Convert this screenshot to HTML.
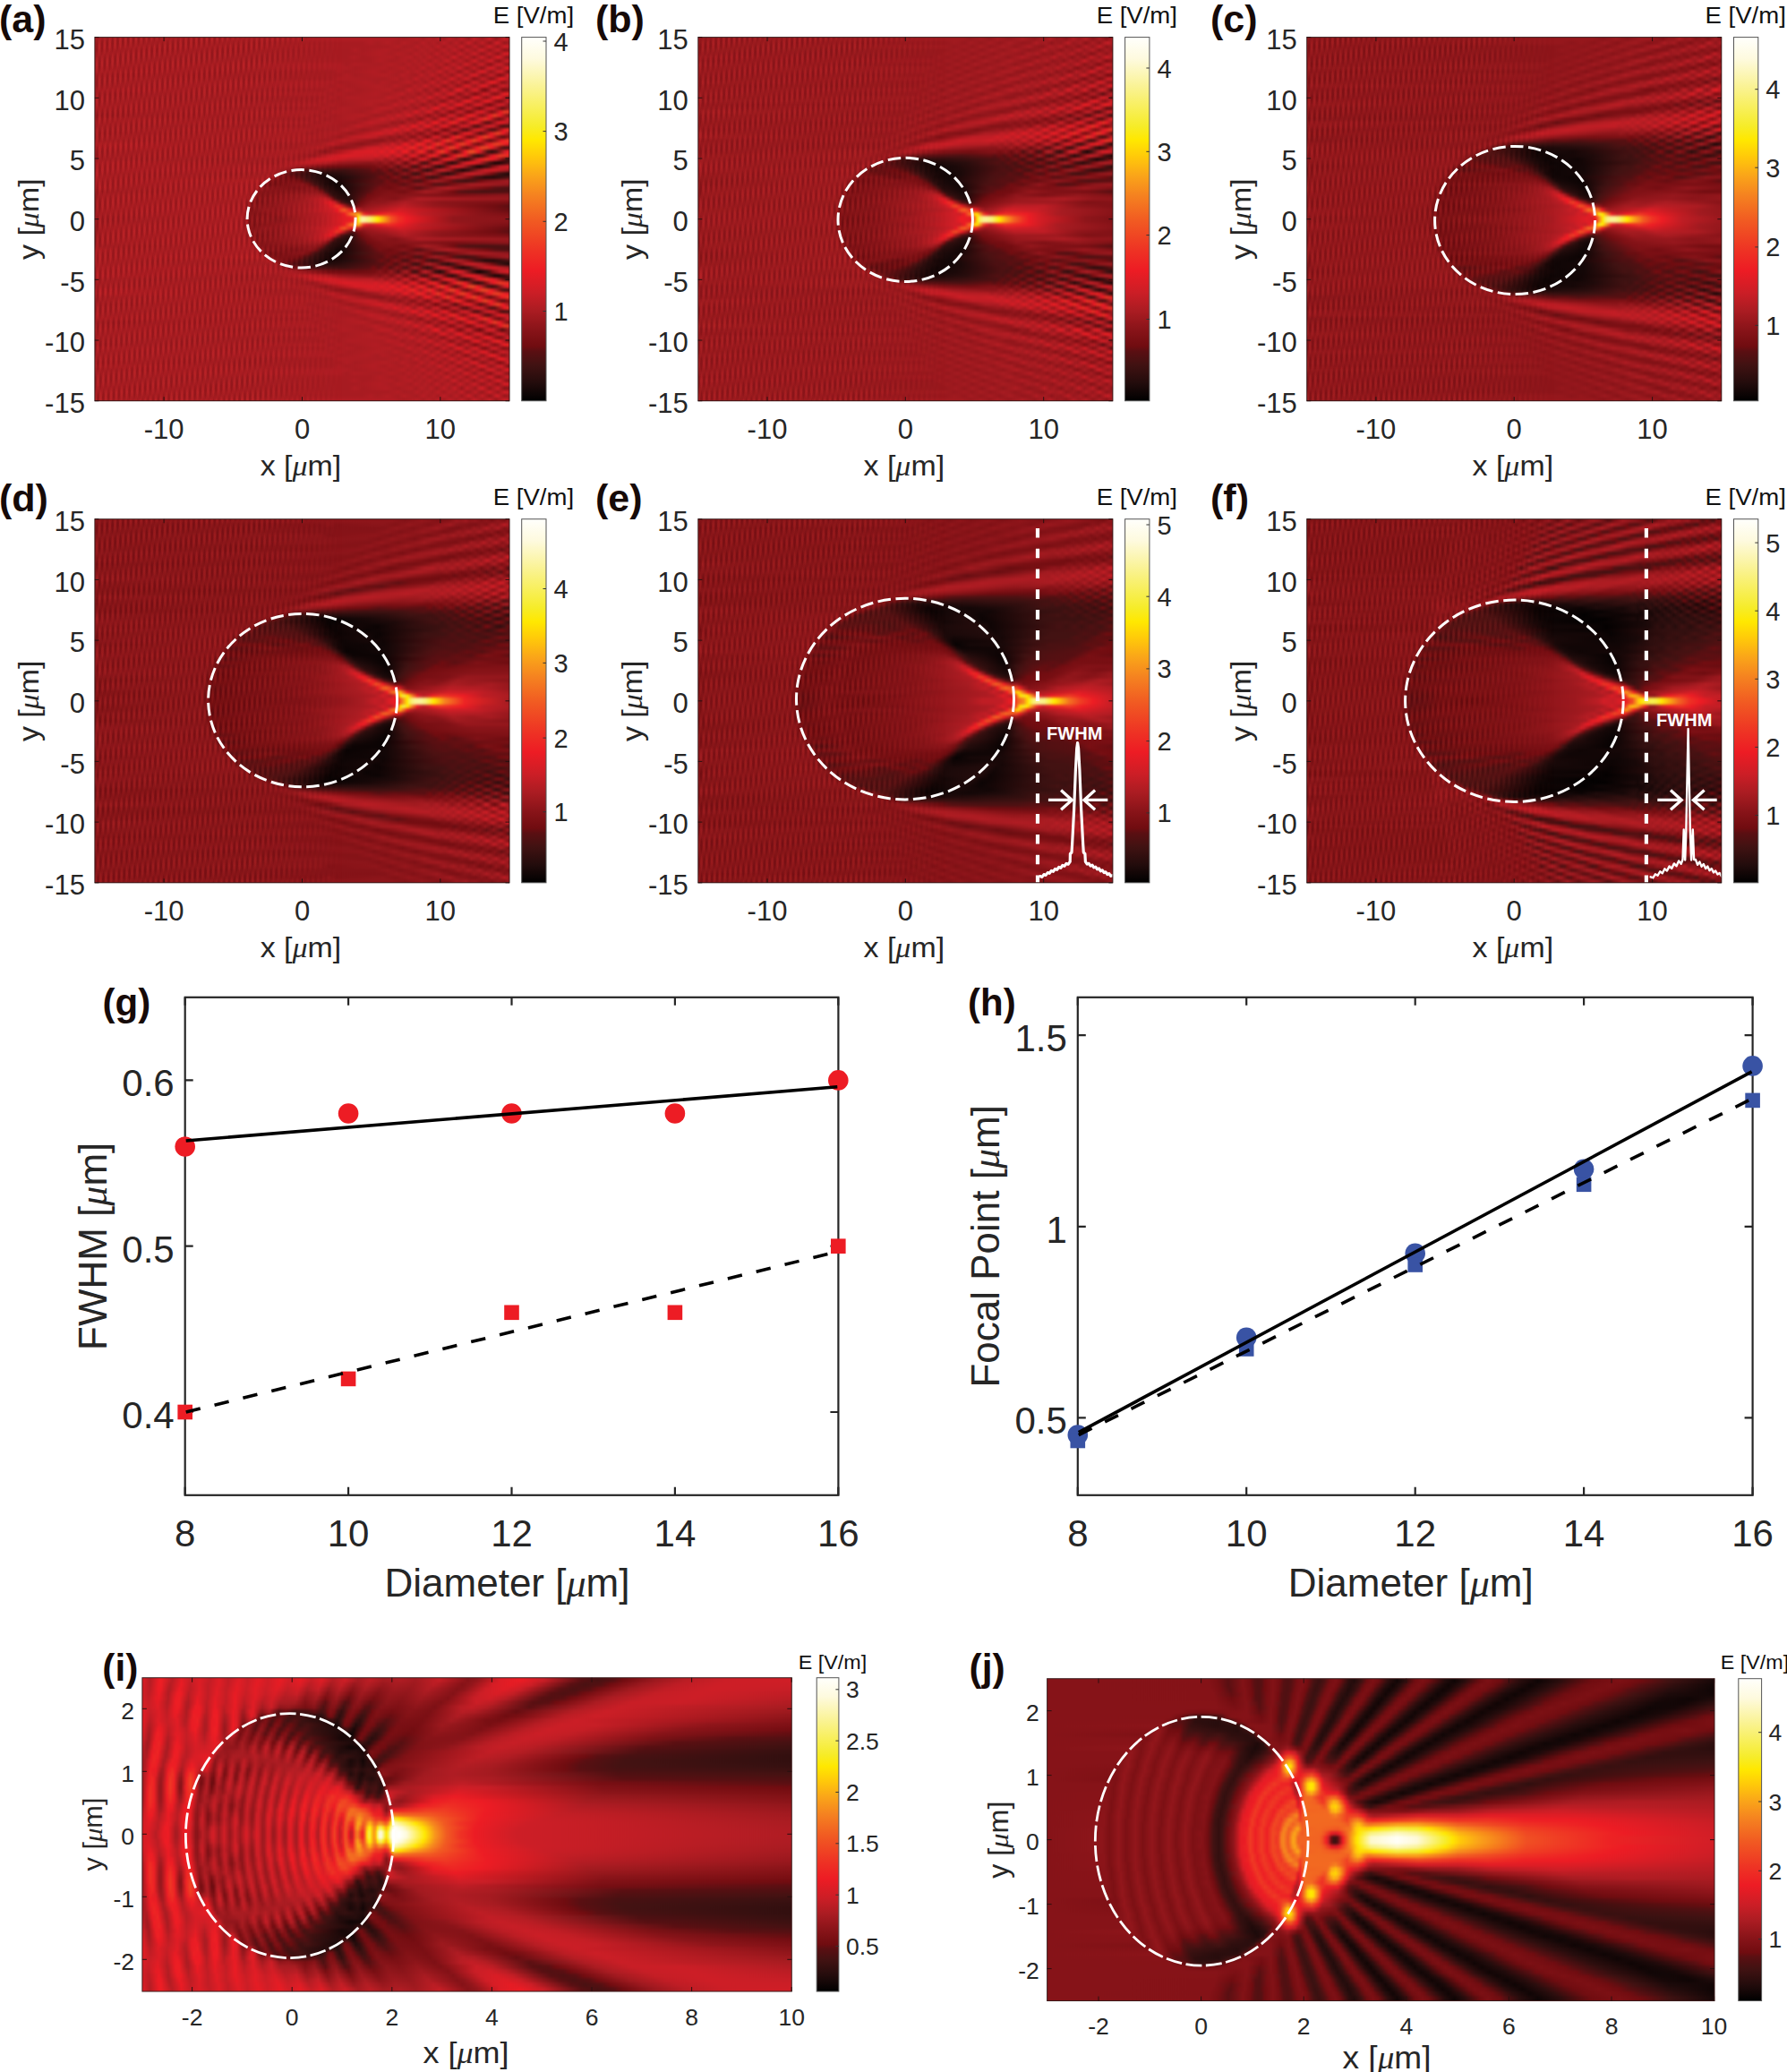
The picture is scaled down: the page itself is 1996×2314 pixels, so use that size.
<!DOCTYPE html>
<html lang="en"><head><meta charset="utf-8"><title>Photonic nanojet simulations</title>
<style>
html,body{margin:0;padding:0;background:#fff}
#fig{position:relative;width:1996px;height:2314px;background:#fff;overflow:hidden}
.h{position:absolute;overflow:hidden}
.hh{position:absolute;left:0;width:100%;filter:url(#vb)}
.h i{position:absolute;left:0;width:100%;display:block}
.tx{position:absolute;left:0;top:0;width:100%;height:100%;-webkit-mask-image:linear-gradient(90deg,#000 0,#000 38%,transparent 60%);mask-image:linear-gradient(90deg,#000 0,#000 38%,transparent 60%);background:repeating-linear-gradient(98deg,rgba(255,70,60,.08) 0,rgba(255,70,60,.08) 1.6px,rgba(40,0,0,.09) 2.8px,rgba(40,0,0,.09) 4.4px,rgba(255,70,60,.08) 5.6px),repeating-linear-gradient(81deg,rgba(255,70,60,.06) 0,rgba(255,70,60,.06) 1.7px,rgba(40,0,0,.08) 3px,rgba(40,0,0,.08) 4.7px,rgba(255,70,60,.06) 6px)}
svg{position:absolute;left:0;top:0;font-family:"Liberation Sans",sans-serif}
</style></head><body>
<div id="fig">
<div class="h" style="left:105.9px;top:41.6px;width:463.1px;height:406.1px;background:#aa1c22"><div class="hh" style="top:-8px;height:422.1px;background:#aa1c22"><i style="top:0.00px;height:12.66px;background:linear-gradient(90deg,#aa1c22,#b01c23 71.8%,#a81b21 74.5%,#b31d23 77.8%,#a61b21 79.2%,#b41d23 80.5%,#aa1c22 81.8%,#b71d24 82.8%,#a31a20 84.2%,#ba1d24 85.5%,#a51b21 87.2%,#bb1d24 88.5%,#9d191e 90.2%,#c11d25 91.5%,#a11a1f 93.5%,#c51e25 95.2%,#96171c 96.8%,#c51e25 98.8%,#b31d23)"></i><i style="top:12.06px;height:4.66px;background:linear-gradient(90deg,#a81c21,#a81b21 64.5%,#b01c23 66.5%,#a81c21 68.2%,#b21d23 70.5%,#a81c21 73.2%,#b51d23 74.5%,#a51b21 77.8%,#b91d24 79.2%,#a81b21 80.5%,#b31d23 81.8%,#a21a20 82.8%,#bf1d25 84.2%,#a11a20 85.8%,#ba1d24 87.2%,#9c181e 88.5%,#cc1e26 90.2%,#9a181e 91.8%,#c41e25 93.5%,#8f151a 95.2%,#9f191f 95.8%,#ce1e26 96.8%,#d01e26 97.2%,#92161b 98.8%,#a0191f)"></i><i style="top:16.12px;height:4.66px;background:linear-gradient(90deg,#ac1c22,#a81b21 70.5%,#b31d23 73.2%,#a71b21 74.5%,#a91c22 76.5%,#b81d24 77.8%,#a71b21 78.8%,#b31d23 80.2%,#a71b21 81.5%,#bd1d24 82.8%,#a0191f 84.2%,#b91d24 85.5%,#a41b20 87.2%,#c81e26 88.5%,#9b181e 89.8%,#9e191f 90.5%,#c01d25 91.8%,#9e191f 92.8%,#96171c 93.5%,#d21e26 95.2%,#94171c 97.2%,#d11e26 98.8%,#c81e26)"></i><i style="top:20.18px;height:4.66px;background:linear-gradient(90deg,#a81b21,#a71b21 61.2%,#b01c23 62.8%,#a71b21 64.5%,#b21c23 70.2%,#a71b21 73.2%,#b31d23 76.2%,#a51b21 77.5%,#b51d23 78.8%,#a91c22 80.2%,#b81d24 81.2%,#a11a1f 82.5%,#bd1d24 84.2%,#a51b21 85.5%,#c11d25 86.8%,#98171d 88.5%,#c21d25 89.8%,#9d191e 91.8%,#c71e26 92.8%,#d01e26 93.5%,#92161b 95.2%,#cb1e26 97.2%,#881318 98.8%,#8c1419)"></i><i style="top:24.24px;height:4.66px;background:linear-gradient(90deg,#ab1c22,#a71b21 62.5%,#b21c23 68.8%,#a91c22 71.5%,#b51d23 73.2%,#a61b21 76.2%,#b81d24 77.5%,#a91c22 78.8%,#b41d23 79.8%,#a31a20 81.2%,#c01d25 82.5%,#a31a20 83.8%,#ba1d24 85.2%,#9b181e 86.8%,#c81e26 88.2%,#9e191f 89.8%,#cb1e26 91.5%,#c81e26 91.8%,#91161b 93.2%,#97171d 93.8%,#c91e26 95.2%,#8b1419 97.2%,#a11a1f 97.8%,#d71d25 98.8%,#dd1d25)"></i><i style="top:28.30px;height:4.66px;background:linear-gradient(90deg,#a91c22,#a71b21 60.8%,#b01c23 62.5%,#a71b21 64.5%,#b21c23 71.5%,#a71b21 72.8%,#b71d24 76.2%,#a71b21 77.2%,#b21d23 78.5%,#a71b21 79.5%,#bd1d24 80.8%,#a21a20 82.2%,#b71d24 83.8%,#a01a1f 85.2%,#ca1e26 86.5%,#ca1e26 86.8%,#9d191e 88.2%,#c31e25 89.8%,#90161b 91.5%,#cb1e26 93.2%,#cc1e26 93.5%,#93161c 95.2%,#dd1d25 97.2%,#d11e26 97.8%,#8c141a 99.2%,#861317)"></i><i style="top:32.37px;height:4.66px;background:linear-gradient(90deg,#aa1c22,#a81b21 66.5%,#b21c23 68.8%,#a71b21 71.5%,#b21c23 74.8%,#a61b21 75.8%,#b51d23 77.2%,#a91c22 78.2%,#b81d24 79.5%,#a01a1f 80.8%,#bb1d24 82.2%,#a61b21 83.5%,#c51e25 84.8%,#c51e25 85.2%,#99181d 86.5%,#bf1d25 88.2%,#96171c 89.8%,#d11e26 91.5%,#ce1e26 91.8%,#a11a20 92.8%,#99181d 93.5%,#d71d25 95.2%,#ca1e26 95.8%,#91161b 96.8%,#851217 97.5%,#c71e26 99.2%,#cf1e26)"></i><i style="top:36.43px;height:4.66px;background:linear-gradient(90deg,#aa1c22,#af1c23 59.2%,#a61b21 60.8%,#b01c23 62.5%,#a81c22 68.8%,#b41d23 71.5%,#a71b21 74.5%,#b71d24 75.8%,#a91c22 76.8%,#b31d23 78.2%,#a41a20 79.2%,#c01d25 80.8%,#a61b21 82.2%,#bc1d24 83.5%,#98181d 84.8%,#c21d25 86.5%,#9e191f 88.2%,#c71e25 89.2%,#d21e26 89.8%,#96171c 91.5%,#99181d 91.8%,#c41e25 92.8%,#cc1e26 93.5%,#8d151a 94.8%,#841217 95.5%,#c21d25 96.8%,#d01e26 97.5%,#bf1d25 98.2%,#90161b 99.2%,#861318)"></i><i style="top:40.49px;height:4.66px;background:linear-gradient(90deg,#a81b21,#af1c23 60.8%,#a71b21 62.8%,#b11c23 69.8%,#a81b21 71.2%,#b61d23 74.5%,#a71b21 75.5%,#b21c23 76.8%,#a81b21 77.8%,#bf1d25 79.2%,#a31a20 80.5%,#b51d23 81.8%,#9d191e 83.2%,#c91e26 84.8%,#a21a20 86.5%,#cc1e26 87.8%,#cb1e26 88.2%,#9f191f 89.2%,#92161b 89.8%,#c51e25 91.5%,#891419 93.2%,#93161c 93.8%,#cd1e26 94.8%,#da1d25 95.5%,#ca1e26 96.2%,#99181d 97.2%,#98171d 97.8%,#d91d25 99.2%,#eb1c24)"></i><i style="top:44.55px;height:4.66px;background:linear-gradient(90deg,#ae1c22,#a61b21 57.5%,#af1c23 58.8%,#a61b21 60.5%,#b21c23 67.2%,#a81b21 69.8%,#b21c23 71.2%,#a71b21 74.2%,#b51d23 75.5%,#ab1c22 76.5%,#b81d24 77.8%,#a01a1f 79.2%,#b71d24 80.5%,#a61b21 81.8%,#cb1e26 83.2%,#9f191f 84.8%,#bc1d24 85.8%,#bf1d25 86.5%,#91161b 87.8%,#93161c 88.2%,#bd1d24 89.2%,#c61e25 89.8%,#9e191f 90.8%,#92161b 91.5%,#d31e26 92.8%,#e11d25 93.5%,#cf1e26 94.2%,#a81b21 94.8%,#92161b 95.5%,#9f191f 96.2%,#cf1e26 97.2%,#d51d25 97.8%,#cd1e26 98.2%,#801115 99.5%,#750e12)"></i><i style="top:48.61px;height:4.66px;background:linear-gradient(90deg,#a71b21,#a71b21 59.2%,#b01c23 60.8%,#a61b21 62.8%,#b41d23 69.8%,#a81c22 72.8%,#b71d24 74.2%,#a31a20 77.5%,#be1d24 78.8%,#a91c22 80.2%,#c31d25 81.5%,#9a181d 83.2%,#bc1d24 84.5%,#95171c 86.2%,#cf1e26 87.8%,#cc1e26 88.2%,#a11a20 89.2%,#9d191e 89.8%,#ce1e26 90.8%,#de1d25 91.5%,#cd1e26 92.2%,#a31a20 92.8%,#8a1419 93.5%,#95171c 94.2%,#c91e26 95.5%,#bb1d24 96.2%,#851217 97.2%,#780e13 97.8%,#8a1419 98.5%,#ca1e26 99.5%,#d71d25)"></i><i style="top:52.67px;height:4.66px;background:linear-gradient(90deg,#ab1c22,#a61b21 57.2%,#b01c23 58.8%,#a81c22 69.8%,#b51d23 72.8%,#a71b21 73.8%,#b01c23 75.2%,#a91c22 76.2%,#c11d25 77.5%,#a61b21 78.8%,#b61d24 80.2%,#9a181d 81.5%,#c01d25 82.8%,#9e191f 84.5%,#d31e26 86.2%,#9c181e 87.8%,#d21e26 89.5%,#c41e25 90.2%,#8b1419 91.2%,#841217 91.5%,#8f151a 92.2%,#c61e25 93.5%,#b81d24 94.2%,#831217 95.5%,#8f151a 96.2%,#e11d25 97.5%,#ed1d24 98.2%,#dd1d25 98.8%,#a91c22)"></i><i style="top:56.73px;height:4.66px;background:linear-gradient(90deg,#a91c22,#af1c23 57.2%,#a61b21 59.2%,#b11c23 65.5%,#a81c22 68.2%,#b21c23 69.5%,#a71b21 72.5%,#ba1d24 75.8%,#a21a20 77.2%,#b21c23 78.5%,#a0191f 79.8%,#c81e26 81.5%,#a41a20 82.8%,#cf1e26 84.5%,#96171c 86.2%,#c41e25 87.8%,#841217 89.5%,#91161b 90.2%,#c91e26 91.2%,#d01e26 91.5%,#c61e25 92.2%,#96171c 93.2%,#94161c 93.8%,#de1d25 95.2%,#ed1f24 95.8%,#e41d25 96.5%,#881318 98.2%,#891419 98.8%,#b11c23)"></i><i style="top:60.79px;height:4.66px;background:linear-gradient(90deg,#a91c22,#ae1c23 55.5%,#a61b21 57.2%,#b01c23 58.8%,#a71b21 61.2%,#b21d23 68.2%,#aa1c22 71.2%,#b81d24 72.5%,#a01a1f 75.8%,#b91d24 77.2%,#aa1c22 78.5%,#ca1e26 79.8%,#a31a20 81.2%,#c31e25 82.8%,#93161c 84.2%,#92161b 84.5%,#be1d24 85.8%,#be1d24 86.2%,#8e151a 87.5%,#99181d 88.2%,#dd1d25 89.5%,#d61d25 90.2%,#a31a20 91.2%,#9b181e 91.8%,#db1d25 93.2%,#e81c24 93.8%,#d51d25 94.5%,#91161b 95.5%,#7c1014 96.2%,#871318 96.8%,#be1d24 97.8%,#d21e26 98.5%,#b31d23)"></i><i style="top:64.85px;height:4.66px;background:linear-gradient(90deg,#ae1c23,#a71b21 55.2%,#b01c23 57.2%,#a51b21 58.8%,#b01c23 60.8%,#a71b21 63.5%,#b41d23 71.2%,#a61b21 72.5%,#a81c21 74.5%,#c21d25 75.8%,#ad1c22 77.2%,#bd1d24 78.5%,#9c191e 79.8%,#b91d24 81.2%,#94171c 82.5%,#96171c 82.8%,#c81e26 84.2%,#9b181e 85.8%,#a01a1f 86.2%,#d61d25 87.2%,#e51c24 87.8%,#d01e26 88.5%,#9a181d 89.5%,#96171c 89.8%,#cc1e26 91.2%,#d61d25 91.8%,#ce1e26 92.2%,#801116 93.5%,#770e12 94.2%,#8c141a 94.8%,#c71e25 95.8%,#d11e26 96.5%,#cb1e26 96.8%,#7a0f13 98.5%,#851217)"></i><i style="top:68.91px;height:4.66px;background:linear-gradient(90deg,#a61b21,#af1c23 55.2%,#a51b21 56.8%,#b01c23 58.8%,#a61b21 61.2%,#b21c23 67.8%,#a61b21 70.8%,#bf1d25 74.2%,#a71b21 75.5%,#b21c23 76.8%,#9b181e 78.2%,#bb1d24 79.5%,#9e191f 80.8%,#a11a1f 81.2%,#d21e26 82.5%,#a31a20 84.2%,#dd1d25 85.8%,#ce1e26 86.5%,#a31a20 87.2%,#8a1419 87.8%,#8d151a 88.2%,#c21d25 89.5%,#c41e25 89.8%,#861317 91.2%,#780e13 91.8%,#8a1419 92.5%,#d71d25 93.8%,#cd1e26 94.8%,#93161b 95.8%,#811116 96.5%,#8e151a 97.2%,#cf1e26 98.2%,#ed1e24 98.8%,#ee2724)"></i><i style="top:72.98px;height:4.66px;background:linear-gradient(90deg,#a91c22,#a61b21 55.2%,#b01c23 57.2%,#a61b21 58.8%,#b01c23 61.2%,#ac1c22 69.5%,#bb1d24 70.8%,#b01c23 73.2%,#a0191f 74.2%,#af1c23 75.5%,#a51b21 76.8%,#c51e25 78.2%,#a91c22 79.5%,#d41d25 80.8%,#a0191f 82.5%,#ca1e26 84.2%,#841217 85.8%,#8e151a 86.5%,#b01c23 87.2%,#c11d25 87.8%,#8b1419 89.2%,#831217 89.8%,#8d151a 90.2%,#cf1e26 91.2%,#e81c24 91.8%,#e11d25 92.5%,#96171c 93.8%,#8b1419 94.5%,#a41a20 95.2%,#e31d25 96.2%,#ed2524 97.2%,#e41d25 97.8%,#8f151b 99.2%,#790f13)"></i><i style="top:77.04px;height:4.66px;background:linear-gradient(90deg,#ab1c22,#a71b21 53.5%,#af1c23 55.2%,#a61b21 56.8%,#b41d23 69.5%,#a31a20 72.5%,#b91d24 73.8%,#ae1c22 75.2%,#ca1e26 76.5%,#a91c22 77.8%,#c51e25 79.5%,#95171c 80.8%,#b61d23 82.5%,#90151b 83.5%,#871318 84.2%,#d01e26 85.8%,#ce1e26 86.2%,#96171c 87.5%,#94171c 87.8%,#9e191f 88.2%,#dc1d25 89.2%,#ed2024 89.8%,#e51c24 90.5%,#95171c 91.8%,#8f151a 92.5%,#e61c24 94.2%,#ed1d24 94.8%,#da1d25 95.5%,#841217 96.8%,#740d12 97.5%,#801116 98.2%,#cc1e26 99.5%,#d71d25)"></i><i style="top:81.10px;height:4.66px;background:linear-gradient(90deg,#aa1c22,#ae1c23 53.5%,#a61b21 55.2%,#b01c23 57.2%,#a61b21 59.8%,#b31d23 66.5%,#a41a20 69.2%,#b01c23 71.5%,#c31d25 72.5%,#b01c23 73.8%,#bf1d25 75.2%,#a01a1f 76.5%,#b51d23 77.8%,#91161b 79.2%,#b81d24 80.8%,#94171c 82.2%,#ab1c22 82.8%,#d41d25 83.5%,#e21d25 84.2%,#a0191f 85.8%,#a41a20 86.2%,#d91d25 87.2%,#ed1c24 87.8%,#de1d25 88.5%,#9b181e 89.5%,#861318 90.2%,#97171d 90.8%,#d21e26 91.8%,#df1d25 92.5%,#ce1e26 93.2%,#891419 94.2%,#680d11 95.2%,#7e1015 95.8%,#cb1e26 97.2%,#d91d25 97.8%,#ce1e26 98.5%,#97171d 99.5%,#871318)"></i><i style="top:85.16px;height:4.66px;background:linear-gradient(90deg,#ac1c22,#a61b21 53.5%,#b01c23 55.2%,#a51b21 57.5%,#b01c23 59.8%,#a71b21 66.5%,#bc1d24 69.2%,#b91d24 71.5%,#a61b21 72.5%,#ad1c22 73.8%,#9b181e 74.8%,#b11c23 76.2%,#9a181e 77.5%,#cc1e26 79.2%,#a81c21 80.5%,#e81c24 82.2%,#da1d25 82.8%,#a21a20 83.8%,#9d191e 84.2%,#d41d25 85.5%,#d91d25 86.2%,#8c141a 87.5%,#7d1015 88.2%,#92161b 88.8%,#cb1e26 89.8%,#cf1e26 90.5%,#851217 91.8%,#670d11 92.8%,#821116 93.5%,#c21d25 94.5%,#da1d25 95.2%,#ca1e26 96.2%,#8b1419 97.2%,#5d0f12 98.2%,#600e11 98.5%,#9d191e)"></i><i style="top:89.22px;height:4.66px;background:linear-gradient(90deg,#a81b21,#af1c23 53.5%,#a51b21 55.5%,#b01c23 57.5%,#a81b21 64.5%,#b91d24 67.8%,#9f191f 71.2%,#ab1c22 72.2%,#a31a20 73.5%,#be1d24 74.8%,#ae1c22 76.2%,#d91d25 77.5%,#af1c23 78.8%,#b01c23 79.2%,#da1d25 80.5%,#c81e26 81.2%,#91161b 82.2%,#8f151b 82.5%,#c21d25 83.8%,#c31d25 84.2%,#7a0f14 85.8%,#831217 86.5%,#bd1d24 87.5%,#ce1e26 88.2%,#b81d24 88.8%,#7e1015 89.8%,#750d12 90.5%,#8b1419 91.2%,#d01e26 92.2%,#e71c24 93.2%,#d21e26 93.8%,#821216 95.2%,#780e13 95.8%,#8a1419 96.5%,#e51c24 97.8%,#ee3724 98.8%,#ee3624)"></i><i style="top:93.28px;height:4.66px;background:linear-gradient(90deg,#a21a20,#ae1c22 51.5%,#a51b21 53.5%,#b01c23 55.5%,#a61b21 57.5%,#b61d23 64.8%,#a01a1f 67.8%,#a61b21 69.8%,#b81d24 70.8%,#b21d23 72.2%,#cb1e26 73.2%,#b51d23 74.5%,#d31e26 75.8%,#a11a20 77.5%,#bd1d24 78.8%,#851217 80.5%,#b91d24 82.2%,#801116 83.8%,#8d151a 84.5%,#cd1e26 85.5%,#d81d25 86.2%,#bf1d25 86.8%,#94171c 87.5%,#811116 88.2%,#95171c 88.8%,#ec1c24 90.2%,#ed2324 90.8%,#e11d25 91.5%,#8e151a 92.8%,#851217 93.5%,#9c191e 94.2%,#e21d25 95.2%,#ed2224 95.5%,#ef3c24 96.5%,#e61c24 97.8%,#8a1419 99.2%,#740d11)"></i><i style="top:97.34px;height:4.66px;background:linear-gradient(90deg,#ae1c22,#a61b21 51.5%,#af1c23 53.5%,#a51b21 55.5%,#b11c23 62.2%,#a21a20 65.2%,#c31e25 69.5%,#b71d24 70.8%,#c51e25 71.8%,#ab1c22 73.2%,#b71d24 74.5%,#91161b 75.8%,#a81c21 77.2%,#881318 78.5%,#891419 78.8%,#c51e25 80.2%,#c71e25 80.5%,#93161b 81.8%,#92161b 82.2%,#db1d25 83.5%,#e81c24 84.2%,#cf1e26 84.8%,#94171c 85.8%,#90161b 86.2%,#aa1c22 86.8%,#ed1c24 87.8%,#ee2a24 88.5%,#ed1d24 89.2%,#98171d 90.5%,#891419 91.2%,#9f191f 91.8%,#e31d25 92.8%,#ee3224 94.2%,#e21d25 95.2%,#821216 96.5%,#610e11 97.5%,#891419 98.5%,#c91e26 99.5%,#d71d25)"></i><i style="top:101.40px;height:4.66px;background:linear-gradient(90deg,#b41d23,#ab1c22 1.5%,#ae1c23 51.5%,#a51b21 53.5%,#af1c23 55.8%,#a31a20 62.8%,#c11d25 66.5%,#ac1c22 70.8%,#99181d 71.8%,#a01a1f 73.2%,#90151b 74.2%,#b31d23 75.5%,#a0191f 77.2%,#dc1d25 78.5%,#d21e26 79.2%,#a51b21 80.2%,#a71b21 80.5%,#ec1c24 81.8%,#ed1f24 82.2%,#eb1c24 82.5%,#9e191f 83.8%,#98171d 84.2%,#af1c23 84.8%,#ed1e24 85.8%,#ed2724 86.5%,#e31d25 87.2%,#9a181e 88.2%,#841217 88.8%,#93161c 89.5%,#e61c24 90.8%,#ed2024 91.8%,#d81d25 92.5%,#5e0e12 94.2%,#501012 94.8%,#560f12 95.2%,#d51d25 97.2%,#e71c24 97.8%,#e51c24 98.5%,#b41d23)"></i><i style="top:105.46px;height:4.66px;background:linear-gradient(90deg,#aa1c22,#a61b21 51.5%,#af1c23 53.5%,#a51b21 60.5%,#bd1d24 63.5%,#99181d 70.2%,#ab1c22 71.5%,#a71b21 72.8%,#d21e26 74.2%,#b61d23 75.5%,#e71c24 76.8%,#dc1d25 77.5%,#ac1c22 78.5%,#ad1c22 78.8%,#de1d25 79.8%,#e81c24 80.5%,#95171c 82.2%,#a41a20 82.8%,#d01e26 83.5%,#ea1c24 84.2%,#df1d25 84.8%,#851217 86.2%,#790f13 86.8%,#91161b 87.5%,#d01e26 88.5%,#d81d25 89.5%,#b71d24 90.2%,#541012 91.5%,#481112 92.2%,#4f1012 92.5%,#c11d25 94.2%,#e01d25 95.2%,#cd1e26 96.2%,#790f13 97.5%,#580f12 97.8%,#3b1111 98.5%,#421212)"></i><i style="top:109.53px;height:4.66px;background:linear-gradient(90deg,#aa1c22,#af1c23 51.5%,#a61b21 53.8%,#a91c22 58.5%,#b81d24 60.8%,#9a181e 64.8%,#ad1c22 68.8%,#c91e26 70.2%,#c21d25 71.5%,#de1d25 72.5%,#bc1d24 74.2%,#db1d25 75.5%,#a41a20 76.8%,#a21a20 77.2%,#ce1e26 78.2%,#d31e26 78.8%,#9b181e 79.8%,#891419 80.5%,#91161b 80.8%,#c91e26 81.8%,#d01e26 82.5%,#c51e25 82.8%,#811116 83.8%,#6e0c10 84.5%,#7f1115 85.2%,#bc1d24 86.2%,#cc1e26 86.8%,#b61d23 87.5%,#580f12 88.8%,#4a1112 89.5%,#511012 89.8%,#c71e26 91.5%,#e51c24 92.5%,#cb1e26 93.5%,#561012 95.2%,#431212 95.8%,#4f1012 96.5%,#eb1c24 98.8%,#ee3224)"></i><i style="top:113.59px;height:4.66px;background:linear-gradient(90deg,#a71b21,#ae1c22 49.8%,#a51b21 51.8%,#b21c23 58.2%,#99181d 61.8%,#d41d25 68.8%,#c31e25 70.2%,#cd1e26 71.5%,#a91c22 72.8%,#bd1d24 73.8%,#92161b 75.5%,#ba1d24 76.8%,#811116 78.5%,#8f151a 79.2%,#bc1d24 80.2%,#ba1d24 80.5%,#6e0c10 82.2%,#7a0f13 82.8%,#b71d24 83.8%,#cc1e26 84.5%,#b91d24 85.2%,#580f12 86.8%,#5d0f12 87.2%,#e31d25 89.2%,#ed1f24 90.2%,#d81d25 90.8%,#580f12 92.8%,#551012 93.2%,#841217 94.2%,#e31d25 95.5%,#ef3f23 97.2%,#ed1d24 98.5%,#a11a20 99.8%,#a11a20)"></i><i style="top:117.65px;height:4.66px;background:linear-gradient(90deg,#9f191f,#ab1c22 1.5%,#ae1c22 51.8%,#ac1c22 56.2%,#9c191e 59.2%,#be1d24 62.2%,#c81e26 65.8%,#bd1d24 67.8%,#a81b21 68.8%,#a41b20 70.2%,#91161b 71.2%,#9e191f 72.5%,#891419 73.5%,#ac1c22 75.2%,#831217 76.5%,#8c1419 77.2%,#ba1d24 78.2%,#bb1d24 78.5%,#7a0f14 80.2%,#8d151a 80.8%,#d21e26 81.8%,#dd1d25 82.5%,#c21d25 83.2%,#92161b 83.8%,#7b0f14 84.5%,#881318 85.2%,#ea1c24 86.5%,#ee2f24 87.5%,#ed1f24 88.2%,#801115 89.8%,#730d11 90.5%,#841217 91.2%,#ed2024 92.8%,#ef4223 94.2%,#ed2224 95.5%,#e21d25 95.8%,#861318 97.2%,#551012 98.2%,#580f12 98.8%,#6f0c10 99.2%,#831217)"></i><i style="top:121.71px;height:4.66px;background:linear-gradient(90deg,#a91c22,#ae1c23 49.8%,#a21a20 56.2%,#c41e25 60.2%,#8c151a 67.5%,#8b1419 69.5%,#a01a1f 70.8%,#93161c 72.2%,#b71d24 73.5%,#92161b 74.8%,#96171c 75.2%,#d11e26 76.5%,#ce1e26 76.8%,#91161b 78.2%,#a51b20 78.8%,#ea1c24 79.8%,#ed2124 80.5%,#e91c24 80.8%,#a41b20 81.8%,#8f151a 82.5%,#a81b21 83.2%,#ed1f24 84.2%,#ee3824 85.2%,#e41d25 86.2%,#96171c 87.2%,#7f1115 87.8%,#8a1419 88.5%,#e21d25 89.8%,#ed2224 90.2%,#ef4023 91.5%,#eb1c24 92.8%,#7e1015 94.5%,#620e11 95.2%,#600e11 95.5%,#881318 96.5%,#eb1c24 98.2%,#ef3b24)"></i><i style="top:125.77px;height:4.66px;background:linear-gradient(90deg,#b31d23,#a61b21 50.2%,#aa1c22 54.5%,#c11d25 57.2%,#9e191f 60.5%,#891419 64.2%,#a31a20 68.2%,#bc1d24 69.5%,#af1c23 70.8%,#cf1e26 71.8%,#ad1c22 73.2%,#b01c23 73.5%,#e71c24 74.8%,#e41d25 75.2%,#ac1c22 76.5%,#b31d23 76.8%,#ed1e24 77.8%,#ee2924 78.2%,#e81c24 79.2%,#a71b21 80.2%,#a11a1f 80.5%,#a71b21 80.8%,#e81c24 81.8%,#ee3724 82.8%,#e81c24 83.8%,#9c181e 84.8%,#851217 85.5%,#95171c 86.2%,#ed1e24 87.5%,#ee3724 88.2%,#ef3f23 88.8%,#e61c24 90.2%,#881318 91.5%,#680d11 92.5%,#891419 93.5%,#cd1e26 94.5%,#ed1e24 95.2%,#ee3824 96.2%,#ef4023 97.2%,#ed1d24 99.2%,#d81d25)"></i><i style="top:129.83px;height:4.66px;background:linear-gradient(90deg,#b21c23,#a61b21 47.8%,#b51d23 54.5%,#8d151a 58.2%,#8c1419 59.8%,#9d191e 62.8%,#c81e26 65.8%,#d41d25 68.2%,#c61e25 69.2%,#df1d25 70.5%,#c41e25 71.8%,#ed1f24 73.2%,#e61c24 73.8%,#bf1d24 74.8%,#ed2324 76.2%,#ee2924 76.8%,#ed1e24 77.2%,#b11c23 78.2%,#a71b21 78.5%,#ab1c22 78.8%,#e81c24 79.8%,#ee3124 80.8%,#ed1c24 81.5%,#a11a1f 82.5%,#851217 83.2%,#95171c 83.8%,#e01d25 84.8%,#ed2324 85.2%,#ef3b24 85.8%,#ef3b24 86.5%,#e51c24 87.5%,#831217 88.8%,#660d11 89.8%,#93161b 90.8%,#ed1d24 92.2%,#ef4423 93.5%,#ef4023 94.5%,#ec1c24 95.8%,#b01c23 96.8%,#710c10 97.8%,#521012 98.2%,#3b1111 98.8%,#381010)"></i><i style="top:133.89px;height:4.66px;background:linear-gradient(90deg,#a91c22,#ae1c22 48.2%,#a91c22 52.5%,#8d151a 55.5%,#d61d25 62.8%,#db1d25 66.8%,#d11e26 68.2%,#e31d25 69.2%,#ce1e26 70.5%,#ed1d24 71.8%,#bf1d25 73.2%,#c11d25 73.5%,#ed1d24 74.5%,#ed1f24 75.2%,#a31a20 76.5%,#a0191f 76.8%,#ed1e24 78.2%,#ee2924 78.8%,#e01d25 79.5%,#91161b 80.5%,#811116 81.2%,#a01a1f 81.8%,#ed1f24 82.8%,#ef3a24 83.8%,#e81c24 84.8%,#7f1115 86.2%,#590f12 86.8%,#590f12 87.2%,#92161b 88.2%,#e11d25 89.2%,#ed2324 89.5%,#ef4623 90.5%,#f04723 91.2%,#ed1d24 92.5%,#c51e25 93.2%,#441212 94.8%,#2c0e0e 95.8%,#451212 96.8%,#cb1e26 98.8%,#e81c24 99.5%,#ed2024)"></i><i style="top:137.95px;height:4.66px;background:linear-gradient(90deg,#a21a20,#aa1c22 1.5%,#ad1c22 46.2%,#9a181e 52.8%,#c81e26 56.5%,#dd1d25 60.5%,#cd1e26 66.8%,#d91d25 67.8%,#c41e25 69.2%,#dc1d25 70.5%,#ae1c23 71.8%,#de1d25 73.2%,#ce1e26 73.8%,#94171c 74.8%,#96171c 75.2%,#d71d25 76.2%,#eb1c24 76.8%,#d21e26 77.5%,#9a181e 78.2%,#7b0f14 78.8%,#8b1419 79.5%,#ed1f24 80.8%,#ed2524 81.8%,#ea1c24 82.2%,#d41d25 82.5%,#640e11 83.8%,#511012 84.2%,#4e1012 84.5%,#560f12 84.8%,#ec1c24 86.8%,#ee3624 87.8%,#ee2924 88.8%,#ed1d24 89.2%,#dc1d25 89.5%,#3e1111 91.5%,#230c0c 92.5%,#3d1111 93.5%,#730d11 94.2%,#cc1e26 95.5%,#ec1c24 96.2%,#ef3a24 97.8%,#ee2824)"></i><i style="top:142.01px;height:4.66px;background:linear-gradient(90deg,#a91c22,#a71b21 49.8%,#d21e26 53.8%,#d71d25 57.2%,#bc1d24 61.8%,#bc1d24 66.8%,#a91c22 67.8%,#b81d24 69.2%,#99181d 70.2%,#bf1d25 71.8%,#871318 73.2%,#8c151a 73.5%,#d41d25 74.8%,#c31e25 75.5%,#8f151b 76.2%,#740d11 76.8%,#851217 77.5%,#d31e26 78.5%,#e81c24 79.2%,#d61d25 79.8%,#4d1112 81.5%,#431212 81.8%,#531012 82.5%,#d81d25 84.2%,#ed1f24 84.8%,#ed2024 85.5%,#e91c24 85.8%,#c91e26 86.5%,#411212 88.2%,#1e0a0a 89.2%,#361010 90.2%,#c71e26 92.2%,#e61c24 92.8%,#ee2e24 94.5%,#ed1c24 95.8%,#ca1e26 96.8%,#710c10 98.5%,#461112 99.2%,#320f0f)"></i><i style="top:146.07px;height:4.66px;background:linear-gradient(90deg,#b11c23,#a71b21 44.2%,#c71e25 51.8%,#b51d23 56.2%,#9a181e 59.2%,#891419 66.5%,#92161b 67.8%,#841217 68.8%,#a11a1f 70.2%,#7e1015 71.5%,#811116 71.8%,#b91d24 73.2%,#b21c23 73.5%,#680d11 74.8%,#690d11 75.2%,#bc1d24 76.5%,#cc1e26 77.2%,#ac1c22 77.8%,#541012 78.8%,#3c1111 79.5%,#501012 80.2%,#730d11 80.5%,#ce1e26 81.8%,#da1d25 82.5%,#b91d24 83.5%,#720d11 84.5%,#381010 85.2%,#1d0a0a 86.2%,#3e1111 87.2%,#750e12 87.8%,#ba1d24 88.8%,#dc1d25 89.5%,#ed1d24 90.2%,#ed1c24 91.5%,#c21d25 92.8%,#3a1111 95.2%,#110606 96.5%,#100505 97.5%,#511012)"></i><i style="top:150.13px;height:4.66px;background:linear-gradient(90deg,#ad1c22,#ae1c23 47.8%,#750d12 56.5%,#6d0c10 62.8%,#760e12 67.5%,#871318 68.8%,#740d11 70.2%,#98181d 71.5%,#570f12 73.2%,#9c191e 74.5%,#a71b21 75.2%,#750e12 76.2%,#531012 76.5%,#3d1111 77.2%,#4f1012 77.8%,#710c10 78.2%,#ae1c23 79.2%,#bf1d25 79.8%,#9c181e 80.8%,#381010 82.2%,#200b0b 83.2%,#441212 84.2%,#7b0f14 84.8%,#cc1e26 86.2%,#e11d25 87.5%,#c11d25 88.8%,#3a1111 91.2%,#160808 92.2%,#0f0505 92.8%,#330f0f 94.5%,#5c0f12 95.5%,#760e12 95.8%,#c01d25 97.8%,#db1d25)"></i><i style="top:154.20px;height:4.66px;background:linear-gradient(90deg,#af1c23,#af1c23 42.5%,#9d191e 46.2%,#570f12 49.8%,#471112 51.5%,#3d1111 60.2%,#590f12 66.2%,#710c10 67.2%,#590f12 68.5%,#7b0f14 69.8%,#720d11 70.5%,#551012 71.2%,#561012 71.5%,#891419 72.8%,#760e12 73.8%,#4c1112 74.5%,#471112 75.2%,#90161b 76.5%,#a51b21 77.2%,#9b181e 77.8%,#7b0f14 78.5%,#461112 79.2%,#290d0d 80.2%,#451212 81.2%,#7a0f14 81.8%,#b31d23 82.8%,#c91e26 83.5%,#cd1e26 84.2%,#a51b21 85.5%,#730d11 86.5%,#551012 86.8%,#340f0f 87.5%,#150707 88.8%,#300f0f 90.2%,#9c191e 92.5%,#ce1e26 94.2%,#d51d25 96.5%,#a51b21)"></i><i style="top:158.26px;height:4.66px;background:linear-gradient(90deg,#b81d24,#ab1c22 1.5%,#a91c22 43.8%,#560f12 47.2%,#1e0a0a 54.2%,#280d0d 58.5%,#580f12 68.2%,#541012 69.5%,#790f13 70.8%,#750e12 71.5%,#570f12 72.2%,#4f1012 72.8%,#861318 74.2%,#94161c 74.8%,#7b0f14 75.8%,#401212 76.8%,#361010 77.5%,#451212 78.2%,#740d11 78.8%,#a21a20 79.8%,#b41d23 80.8%,#91161b 82.2%,#3a1111 83.8%,#210b0b 85.2%,#3f1212 86.5%,#760e12 87.5%,#b51d23 89.2%,#ca1e26 90.2%,#cf1e26 91.2%,#b71d24 93.2%,#770e12 95.8%,#3d1111 97.5%,#160808)"></i><i style="top:162.32px;height:4.66px;background:linear-gradient(90deg,#ba1d24,#ac1c22 1.2%,#aa1c22 9.8%,#ac1c22 40.5%,#b61d23 42.2%,#811116 44.5%,#710c10 47.5%,#3d1111 50.8%,#140707 55.8%,#260d0d 61.2%,#501012 67.5%,#720d11 69.2%,#551012 70.8%,#710c10 71.5%,#851217 72.5%,#760e12 73.5%,#521012 74.2%,#461112 74.8%,#501012 75.5%,#8c1419 76.8%,#9a181e 77.8%,#700c10 79.5%,#560f12 79.8%,#3f1212 80.5%,#330f0f 81.5%,#431212 82.5%,#740d12 83.5%,#a21a20 84.8%,#be1d24 86.5%,#a71b21 88.5%,#760e12 90.5%,#461112 91.8%,#1f0b0b 94.2%,#1e0a0a 96.2%,#4c1112)"></i><i style="top:166.38px;height:4.66px;background:linear-gradient(90deg,#b91d24,#ab1c22 1.5%,#b51d23 40.2%,#a91c22 41.2%,#7e1015 42.8%,#7d1014 48.5%,#700c10 49.8%,#590f12 50.5%,#340f0f 52.8%,#100505 57.5%,#5c0f12 67.8%,#590f12 69.2%,#770e12 70.5%,#570f12 72.5%,#790f13 73.8%,#841217 74.8%,#710c10 76.2%,#4d1112 77.2%,#481112 78.2%,#521012 78.8%,#710c10 79.5%,#94161c 80.8%,#a71b21 82.2%,#9a181d 83.8%,#700c10 85.8%,#541012 86.5%,#411212 87.5%,#371010 89.5%,#491112 91.5%,#6f0c10 93.2%,#841217 94.8%,#a61b21)"></i><i style="top:170.44px;height:4.66px;background:linear-gradient(90deg,#ba1d24,#ab1c22 1.5%,#af1c23 38.8%,#a61b21 39.8%,#801115 41.2%,#780e13 42.2%,#8b1419 50.2%,#720d11 51.8%,#521012 52.5%,#361010 53.8%,#1b0909 56.2%,#100606 58.5%,#411212 64.5%,#770e13 71.2%,#760e12 72.5%,#5a0f12 74.5%,#93161c 77.8%,#8d151a 79.2%,#740d11 80.8%,#570f12 81.8%,#4d1112 83.2%,#570f12 84.8%,#7f1115 86.8%,#a81c21 90.8%,#a91c22 93.8%,#93161c)"></i><i style="top:174.50px;height:4.66px;background:linear-gradient(90deg,#b31d23,#aa1c22 6.2%,#af1c23 37.2%,#ae1c22 39.2%,#8d151a 40.8%,#811116 48.2%,#8e151a 52.2%,#770e12 53.5%,#511012 54.2%,#330f0f 55.2%,#140707 58.5%,#170808 59.8%,#590f12 66.8%,#780f13 68.8%,#6f0c10 71.2%,#891419 74.5%,#720d11 76.5%,#5a0f12 77.5%,#580f12 78.5%,#a21a20 82.8%,#b31d23 85.2%,#700c10 94.8%,#590f12 96.5%,#491112)"></i><i style="top:178.56px;height:4.66px;background:linear-gradient(90deg,#a51b20,#b01c23 37.8%,#851217 40.2%,#94171c 53.2%,#7a0f13 54.8%,#411212 55.8%,#2f0e0e 56.5%,#180808 59.8%,#5a0f12 66.2%,#750e12 67.5%,#821216 71.2%,#730d11 74.5%,#a81c21 79.8%,#9c191e 82.2%,#710c10 86.5%,#590f12 87.8%,#4c1112 89.8%,#441212 93.8%,#4f1012)"></i><i style="top:182.62px;height:4.66px;background:linear-gradient(90deg,#9a181e,#ac1c22 1.5%,#ae1c22 36.8%,#851317 39.8%,#a81c21 54.2%,#94161c 55.5%,#780e13 56.2%,#461112 56.8%,#2f0e0e 57.5%,#1e0a0a 60.5%,#5a0f12 65.2%,#700c10 65.8%,#831216 69.8%,#8a1419 76.5%,#7b0f14 87.2%,#8f151b)"></i><i style="top:186.68px;height:4.66px;background:linear-gradient(90deg,#99181d,#ac1c22 1.5%,#ae1c23 36.8%,#8b1419 38.8%,#9e191f 49.2%,#c61e25 55.5%,#b31d23 56.5%,#750d12 57.5%,#511012 57.8%,#340f0f 58.5%,#230c0c 60.8%,#2c0e0e 61.8%,#750e12 65.5%,#8c1419 68.8%,#831217 72.5%,#b01c23 78.2%,#99181d)"></i><i style="top:190.75px;height:4.66px;background:linear-gradient(90deg,#9a181d,#ac1c22 1.5%,#ab1c22 36.2%,#881318 38.2%,#861318 39.2%,#aa1c22 51.5%,#c11d25 54.5%,#e81c24 56.8%,#d01e26 57.8%,#521012 59.5%,#351010 60.5%,#2b0e0e 61.5%,#320f0f 62.2%,#700c10 64.2%,#8c151a 66.8%,#90161b 69.8%,#af1c23 74.8%,#8a1419 83.8%,#7b0f14)"></i><i style="top:194.81px;height:4.66px;background:linear-gradient(90deg,#98181d,#ac1c22 1.5%,#af1c23 30.5%,#ac1c22 36.2%,#8e151a 38.2%,#91161b 42.8%,#b11c23 52.8%,#ca1e26 55.8%,#e61c24 57.2%,#ee3424 58.5%,#ed2124 59.2%,#df1d25 59.5%,#881318 60.8%,#560f12 61.8%,#501012 62.2%,#590f12 62.8%,#750e12 63.5%,#92161b 65.8%,#bd1d24 74.5%,#96171c 81.8%,#700c10 96.5%,#590f12)"></i><i style="top:198.87px;height:4.66px;background:linear-gradient(90deg,#99181d,#ac1c22 1.5%,#af1c23 35.5%,#ac1c22 36.2%,#881318 37.5%,#861318 38.2%,#98171d 41.2%,#94161c 43.8%,#ac1c22 50.8%,#d11e26 57.2%,#ed1c24 58.5%,#f04a23 59.5%,#f15722 60.2%,#ec1c24 61.8%,#d31e26 62.5%,#a0191f 64.8%,#d41d25 73.5%,#670d11)"></i><i style="top:202.93px;height:4.66px;background:linear-gradient(90deg,#9f191f,#ab1c22 1.5%,#af1c23 35.8%,#871318 37.5%,#851217 38.5%,#b21c23 53.5%,#d61d25 59.2%,#ed1c24 60.2%,#f47721 61.8%,#fbaa17 63.5%,#f99b1b 63.8%,#ee3524 64.8%,#e31d25 65.5%,#cd1e26 66.5%,#ed1d24 68.8%,#ee2c24 70.8%,#ec1c24 73.5%,#bd1d24 78.8%,#8a1419 92.8%,#7d1015)"></i><i style="top:206.99px;height:4.66px;background:linear-gradient(90deg,#a61b21,#af1c23 35.2%,#a91c22 36.2%,#871318 37.5%,#92161b 40.8%,#8c151a 44.2%,#bb1d24 55.5%,#ed1d24 61.5%,#ee2d24 62.2%,#f15e22 62.8%,#f89a1b 63.2%,#ffe102 63.5%,#f7ef50 63.8%,#f9f286 64.2%,#faf49d 64.5%,#fbf4a2 64.8%,#f8f06a 66.5%,#fee805 68.2%,#f15422 71.5%,#ee3024 73.2%,#ed1c24 75.2%,#91161b 86.5%,#8a1419)"></i><i style="top:211.05px;height:4.66px;background:linear-gradient(90deg,#a61b21,#af1c23 35.2%,#a91c22 36.2%,#871318 37.5%,#92161b 40.8%,#8c151a 44.2%,#bb1d24 55.5%,#ed1d24 61.5%,#ee2d24 62.2%,#f15e22 62.8%,#f89a1b 63.2%,#ffe102 63.5%,#f7ef50 63.8%,#f9f286 64.2%,#faf49d 64.5%,#fbf4a2 64.8%,#f8f06a 66.5%,#fee805 68.2%,#f15422 71.5%,#ee3024 73.2%,#ed1c24 75.2%,#91161b 86.5%,#8a1419)"></i><i style="top:215.11px;height:4.66px;background:linear-gradient(90deg,#9f191f,#ab1c22 1.5%,#af1c23 35.8%,#871318 37.5%,#851217 38.5%,#b21c23 53.5%,#d61d25 59.2%,#ed1c24 60.2%,#f47721 61.8%,#fbaa17 63.5%,#f99b1b 63.8%,#ee3524 64.8%,#e31d25 65.5%,#cd1e26 66.5%,#ed1d24 68.8%,#ee2c24 70.8%,#ec1c24 73.5%,#bd1d24 78.8%,#8a1419 92.8%,#7d1015)"></i><i style="top:219.17px;height:4.66px;background:linear-gradient(90deg,#99181d,#ac1c22 1.5%,#af1c23 35.5%,#ac1c22 36.2%,#881318 37.5%,#861318 38.2%,#98171d 41.2%,#94161c 43.8%,#ac1c22 50.8%,#d11e26 57.2%,#ed1c24 58.5%,#f04a23 59.5%,#f15722 60.2%,#ec1c24 61.8%,#d31e26 62.5%,#a0191f 64.8%,#d41d25 73.5%,#670d11)"></i><i style="top:223.23px;height:4.66px;background:linear-gradient(90deg,#98181d,#ac1c22 1.5%,#af1c23 30.5%,#ac1c22 36.2%,#8e151a 38.2%,#91161b 42.8%,#b11c23 52.8%,#ca1e26 55.8%,#e61c24 57.2%,#ee3424 58.5%,#ed2124 59.2%,#df1d25 59.5%,#881318 60.8%,#560f12 61.8%,#501012 62.2%,#590f12 62.8%,#750e12 63.5%,#92161b 65.8%,#bd1d24 74.5%,#96171c 81.8%,#700c10 96.5%,#590f12)"></i><i style="top:227.29px;height:4.66px;background:linear-gradient(90deg,#9a181d,#ac1c22 1.5%,#ab1c22 36.2%,#881318 38.2%,#861318 39.2%,#aa1c22 51.5%,#c11d25 54.5%,#e81c24 56.8%,#d01e26 57.8%,#521012 59.5%,#351010 60.5%,#2b0e0e 61.5%,#320f0f 62.2%,#700c10 64.2%,#8c151a 66.8%,#90161b 69.8%,#af1c23 74.8%,#8a1419 83.8%,#7b0f14)"></i><i style="top:231.35px;height:4.66px;background:linear-gradient(90deg,#99181d,#ac1c22 1.5%,#ae1c23 36.8%,#8b1419 38.8%,#9e191f 49.2%,#c61e25 55.5%,#b31d23 56.5%,#750d12 57.5%,#511012 57.8%,#340f0f 58.5%,#230c0c 60.8%,#2c0e0e 61.8%,#750e12 65.5%,#8c1419 68.8%,#831217 72.5%,#b01c23 78.2%,#99181d)"></i><i style="top:235.42px;height:4.66px;background:linear-gradient(90deg,#9a181e,#ac1c22 1.5%,#ae1c22 36.8%,#851317 39.8%,#a81c21 54.2%,#94161c 55.5%,#780e13 56.2%,#461112 56.8%,#2f0e0e 57.5%,#1e0a0a 60.5%,#5a0f12 65.2%,#700c10 65.8%,#831216 69.8%,#8a1419 76.5%,#7b0f14 87.2%,#8f151b)"></i><i style="top:239.48px;height:4.66px;background:linear-gradient(90deg,#a51b20,#b01c23 37.8%,#851217 40.2%,#94171c 53.2%,#7a0f13 54.8%,#411212 55.8%,#2f0e0e 56.5%,#180808 59.8%,#5a0f12 66.2%,#750e12 67.5%,#821216 71.2%,#730d11 74.5%,#a81c21 79.8%,#9c191e 82.2%,#710c10 86.5%,#590f12 87.8%,#4c1112 89.8%,#441212 93.8%,#4f1012)"></i><i style="top:243.54px;height:4.66px;background:linear-gradient(90deg,#b31d23,#aa1c22 6.2%,#af1c23 37.2%,#ae1c22 39.2%,#8d151a 40.8%,#811116 48.2%,#8e151a 52.2%,#770e12 53.5%,#511012 54.2%,#330f0f 55.2%,#140707 58.5%,#170808 59.8%,#590f12 66.8%,#780f13 68.8%,#6f0c10 71.2%,#891419 74.5%,#720d11 76.5%,#5a0f12 77.5%,#580f12 78.5%,#a21a20 82.8%,#b31d23 85.2%,#700c10 94.8%,#590f12 96.5%,#491112)"></i><i style="top:247.60px;height:4.66px;background:linear-gradient(90deg,#ba1d24,#ab1c22 1.5%,#af1c23 38.8%,#a61b21 39.8%,#801115 41.2%,#780e13 42.2%,#8b1419 50.2%,#720d11 51.8%,#521012 52.5%,#361010 53.8%,#1b0909 56.2%,#100606 58.5%,#411212 64.5%,#770e13 71.2%,#760e12 72.5%,#5a0f12 74.5%,#93161c 77.8%,#8d151a 79.2%,#740d11 80.8%,#570f12 81.8%,#4d1112 83.2%,#570f12 84.8%,#7f1115 86.8%,#a81c21 90.8%,#a91c22 93.8%,#93161c)"></i><i style="top:251.66px;height:4.66px;background:linear-gradient(90deg,#b91d24,#ab1c22 1.5%,#b51d23 40.2%,#a91c22 41.2%,#7e1015 42.8%,#7d1014 48.5%,#700c10 49.8%,#590f12 50.5%,#340f0f 52.8%,#100505 57.5%,#5c0f12 67.8%,#590f12 69.2%,#770e12 70.5%,#570f12 72.5%,#790f13 73.8%,#841217 74.8%,#710c10 76.2%,#4d1112 77.2%,#481112 78.2%,#521012 78.8%,#710c10 79.5%,#94161c 80.8%,#a71b21 82.2%,#9a181d 83.8%,#700c10 85.8%,#541012 86.5%,#411212 87.5%,#371010 89.5%,#491112 91.5%,#6f0c10 93.2%,#841217 94.8%,#a61b21)"></i><i style="top:255.72px;height:4.66px;background:linear-gradient(90deg,#ba1d24,#ac1c22 1.2%,#aa1c22 9.8%,#ac1c22 40.5%,#b61d23 42.2%,#811116 44.5%,#710c10 47.5%,#3d1111 50.8%,#140707 55.8%,#260d0d 61.2%,#501012 67.5%,#720d11 69.2%,#551012 70.8%,#710c10 71.5%,#851217 72.5%,#760e12 73.5%,#521012 74.2%,#461112 74.8%,#501012 75.5%,#8c1419 76.8%,#9a181e 77.8%,#700c10 79.5%,#560f12 79.8%,#3f1212 80.5%,#330f0f 81.5%,#431212 82.5%,#740d12 83.5%,#a21a20 84.8%,#be1d24 86.5%,#a71b21 88.5%,#760e12 90.5%,#461112 91.8%,#1f0b0b 94.2%,#1e0a0a 96.2%,#4c1112)"></i><i style="top:259.78px;height:4.66px;background:linear-gradient(90deg,#b81d24,#ab1c22 1.5%,#a91c22 43.8%,#560f12 47.2%,#1e0a0a 54.2%,#280d0d 58.5%,#580f12 68.2%,#541012 69.5%,#790f13 70.8%,#750e12 71.5%,#570f12 72.2%,#4f1012 72.8%,#861318 74.2%,#94161c 74.8%,#7b0f14 75.8%,#401212 76.8%,#361010 77.5%,#451212 78.2%,#740d11 78.8%,#a21a20 79.8%,#b41d23 80.8%,#91161b 82.2%,#3a1111 83.8%,#210b0b 85.2%,#3f1212 86.5%,#760e12 87.5%,#b51d23 89.2%,#ca1e26 90.2%,#cf1e26 91.2%,#b71d24 93.2%,#770e12 95.8%,#3d1111 97.5%,#160808)"></i><i style="top:263.84px;height:4.66px;background:linear-gradient(90deg,#af1c23,#af1c23 42.5%,#9d191e 46.2%,#570f12 49.8%,#471112 51.5%,#3d1111 60.2%,#590f12 66.2%,#710c10 67.2%,#590f12 68.5%,#7b0f14 69.8%,#720d11 70.5%,#551012 71.2%,#561012 71.5%,#891419 72.8%,#760e12 73.8%,#4c1112 74.5%,#471112 75.2%,#90161b 76.5%,#a51b21 77.2%,#9b181e 77.8%,#7b0f14 78.5%,#461112 79.2%,#290d0d 80.2%,#451212 81.2%,#7a0f14 81.8%,#b31d23 82.8%,#c91e26 83.5%,#cd1e26 84.2%,#a51b21 85.5%,#730d11 86.5%,#551012 86.8%,#340f0f 87.5%,#150707 88.8%,#300f0f 90.2%,#9c191e 92.5%,#ce1e26 94.2%,#d51d25 96.5%,#a51b21)"></i><i style="top:267.90px;height:4.66px;background:linear-gradient(90deg,#ad1c22,#ae1c23 47.8%,#750d12 56.5%,#6d0c10 62.8%,#760e12 67.5%,#871318 68.8%,#740d11 70.2%,#98181d 71.5%,#570f12 73.2%,#9c191e 74.5%,#a71b21 75.2%,#750e12 76.2%,#531012 76.5%,#3d1111 77.2%,#4f1012 77.8%,#710c10 78.2%,#ae1c23 79.2%,#bf1d25 79.8%,#9c181e 80.8%,#381010 82.2%,#200b0b 83.2%,#441212 84.2%,#7b0f14 84.8%,#cc1e26 86.2%,#e11d25 87.5%,#c11d25 88.8%,#3a1111 91.2%,#160808 92.2%,#0f0505 92.8%,#330f0f 94.5%,#5c0f12 95.5%,#760e12 95.8%,#c01d25 97.8%,#db1d25)"></i><i style="top:271.96px;height:4.66px;background:linear-gradient(90deg,#b11c23,#a71b21 44.2%,#c71e25 51.8%,#b51d23 56.2%,#9a181e 59.2%,#891419 66.5%,#92161b 67.8%,#841217 68.8%,#a11a1f 70.2%,#7e1015 71.5%,#811116 71.8%,#b91d24 73.2%,#b21c23 73.5%,#680d11 74.8%,#690d11 75.2%,#bc1d24 76.5%,#cc1e26 77.2%,#ac1c22 77.8%,#541012 78.8%,#3c1111 79.5%,#501012 80.2%,#730d11 80.5%,#ce1e26 81.8%,#da1d25 82.5%,#b91d24 83.5%,#720d11 84.5%,#381010 85.2%,#1d0a0a 86.2%,#3e1111 87.2%,#750e12 87.8%,#ba1d24 88.8%,#dc1d25 89.5%,#ed1d24 90.2%,#ed1c24 91.5%,#c21d25 92.8%,#3a1111 95.2%,#110606 96.5%,#100505 97.5%,#511012)"></i><i style="top:276.03px;height:4.66px;background:linear-gradient(90deg,#a91c22,#a71b21 49.8%,#d21e26 53.8%,#d71d25 57.2%,#bc1d24 61.8%,#bc1d24 66.8%,#a91c22 67.8%,#b81d24 69.2%,#99181d 70.2%,#bf1d25 71.8%,#871318 73.2%,#8c151a 73.5%,#d41d25 74.8%,#c31e25 75.5%,#8f151b 76.2%,#740d11 76.8%,#851217 77.5%,#d31e26 78.5%,#e81c24 79.2%,#d61d25 79.8%,#4d1112 81.5%,#431212 81.8%,#531012 82.5%,#d81d25 84.2%,#ed1f24 84.8%,#ed2024 85.5%,#e91c24 85.8%,#c91e26 86.5%,#411212 88.2%,#1e0a0a 89.2%,#361010 90.2%,#c71e26 92.2%,#e61c24 92.8%,#ee2e24 94.5%,#ed1c24 95.8%,#ca1e26 96.8%,#710c10 98.5%,#461112 99.2%,#320f0f)"></i><i style="top:280.09px;height:4.66px;background:linear-gradient(90deg,#a21a20,#aa1c22 1.5%,#ad1c22 46.2%,#9a181e 52.8%,#c81e26 56.5%,#dd1d25 60.5%,#cd1e26 66.8%,#d91d25 67.8%,#c41e25 69.2%,#dc1d25 70.5%,#ae1c23 71.8%,#de1d25 73.2%,#ce1e26 73.8%,#94171c 74.8%,#96171c 75.2%,#d71d25 76.2%,#eb1c24 76.8%,#d21e26 77.5%,#9a181e 78.2%,#7b0f14 78.8%,#8b1419 79.5%,#ed1f24 80.8%,#ed2524 81.8%,#ea1c24 82.2%,#d41d25 82.5%,#640e11 83.8%,#511012 84.2%,#4e1012 84.5%,#560f12 84.8%,#ec1c24 86.8%,#ee3624 87.8%,#ee2924 88.8%,#ed1d24 89.2%,#dc1d25 89.5%,#3e1111 91.5%,#230c0c 92.5%,#3d1111 93.5%,#730d11 94.2%,#cc1e26 95.5%,#ec1c24 96.2%,#ef3a24 97.8%,#ee2824)"></i><i style="top:284.15px;height:4.66px;background:linear-gradient(90deg,#a91c22,#ae1c22 48.2%,#a91c22 52.5%,#8d151a 55.5%,#d61d25 62.8%,#db1d25 66.8%,#d11e26 68.2%,#e31d25 69.2%,#ce1e26 70.5%,#ed1d24 71.8%,#bf1d25 73.2%,#c11d25 73.5%,#ed1d24 74.5%,#ed1f24 75.2%,#a31a20 76.5%,#a0191f 76.8%,#ed1e24 78.2%,#ee2924 78.8%,#e01d25 79.5%,#91161b 80.5%,#811116 81.2%,#a01a1f 81.8%,#ed1f24 82.8%,#ef3a24 83.8%,#e81c24 84.8%,#7f1115 86.2%,#590f12 86.8%,#590f12 87.2%,#92161b 88.2%,#e11d25 89.2%,#ed2324 89.5%,#ef4623 90.5%,#f04723 91.2%,#ed1d24 92.5%,#c51e25 93.2%,#441212 94.8%,#2c0e0e 95.8%,#451212 96.8%,#cb1e26 98.8%,#e81c24 99.5%,#ed2024)"></i><i style="top:288.21px;height:4.66px;background:linear-gradient(90deg,#b21c23,#a61b21 47.8%,#b51d23 54.5%,#8d151a 58.2%,#8c1419 59.8%,#9d191e 62.8%,#c81e26 65.8%,#d41d25 68.2%,#c61e25 69.2%,#df1d25 70.5%,#c41e25 71.8%,#ed1f24 73.2%,#e61c24 73.8%,#bf1d24 74.8%,#ed2324 76.2%,#ee2924 76.8%,#ed1e24 77.2%,#b11c23 78.2%,#a71b21 78.5%,#ab1c22 78.8%,#e81c24 79.8%,#ee3124 80.8%,#ed1c24 81.5%,#a11a1f 82.5%,#851217 83.2%,#95171c 83.8%,#e01d25 84.8%,#ed2324 85.2%,#ef3b24 85.8%,#ef3b24 86.5%,#e51c24 87.5%,#831217 88.8%,#660d11 89.8%,#93161b 90.8%,#ed1d24 92.2%,#ef4423 93.5%,#ef4023 94.5%,#ec1c24 95.8%,#b01c23 96.8%,#710c10 97.8%,#521012 98.2%,#3b1111 98.8%,#381010)"></i><i style="top:292.27px;height:4.66px;background:linear-gradient(90deg,#b31d23,#a61b21 50.2%,#aa1c22 54.5%,#c11d25 57.2%,#9e191f 60.5%,#891419 64.2%,#a31a20 68.2%,#bc1d24 69.5%,#af1c23 70.8%,#cf1e26 71.8%,#ad1c22 73.2%,#b01c23 73.5%,#e71c24 74.8%,#e41d25 75.2%,#ac1c22 76.5%,#b31d23 76.8%,#ed1e24 77.8%,#ee2924 78.2%,#e81c24 79.2%,#a71b21 80.2%,#a11a1f 80.5%,#a71b21 80.8%,#e81c24 81.8%,#ee3724 82.8%,#e81c24 83.8%,#9c181e 84.8%,#851217 85.5%,#95171c 86.2%,#ed1e24 87.5%,#ee3724 88.2%,#ef3f23 88.8%,#e61c24 90.2%,#881318 91.5%,#680d11 92.5%,#891419 93.5%,#cd1e26 94.5%,#ed1e24 95.2%,#ee3824 96.2%,#ef4023 97.2%,#ed1d24 99.2%,#d81d25)"></i><i style="top:296.33px;height:4.66px;background:linear-gradient(90deg,#a91c22,#ae1c23 49.8%,#a21a20 56.2%,#c41e25 60.2%,#8c151a 67.5%,#8b1419 69.5%,#a01a1f 70.8%,#93161c 72.2%,#b71d24 73.5%,#92161b 74.8%,#96171c 75.2%,#d11e26 76.5%,#ce1e26 76.8%,#91161b 78.2%,#a51b20 78.8%,#ea1c24 79.8%,#ed2124 80.5%,#e91c24 80.8%,#a41b20 81.8%,#8f151a 82.5%,#a81b21 83.2%,#ed1f24 84.2%,#ee3824 85.2%,#e41d25 86.2%,#96171c 87.2%,#7f1115 87.8%,#8a1419 88.5%,#e21d25 89.8%,#ed2224 90.2%,#ef4023 91.5%,#eb1c24 92.8%,#7e1015 94.5%,#620e11 95.2%,#600e11 95.5%,#881318 96.5%,#eb1c24 98.2%,#ef3b24)"></i><i style="top:300.39px;height:4.66px;background:linear-gradient(90deg,#9f191f,#ab1c22 1.5%,#ae1c22 51.8%,#ac1c22 56.2%,#9c191e 59.2%,#be1d24 62.2%,#c81e26 65.8%,#bd1d24 67.8%,#a81b21 68.8%,#a41b20 70.2%,#91161b 71.2%,#9e191f 72.5%,#891419 73.5%,#ac1c22 75.2%,#831217 76.5%,#8c1419 77.2%,#ba1d24 78.2%,#bb1d24 78.5%,#7a0f14 80.2%,#8d151a 80.8%,#d21e26 81.8%,#dd1d25 82.5%,#c21d25 83.2%,#92161b 83.8%,#7b0f14 84.5%,#881318 85.2%,#ea1c24 86.5%,#ee2f24 87.5%,#ed1f24 88.2%,#801115 89.8%,#730d11 90.5%,#841217 91.2%,#ed2024 92.8%,#ef4223 94.2%,#ed2224 95.5%,#e21d25 95.8%,#861318 97.2%,#551012 98.2%,#580f12 98.8%,#6f0c10 99.2%,#831217)"></i><i style="top:304.45px;height:4.66px;background:linear-gradient(90deg,#a71b21,#ae1c22 49.8%,#a51b21 51.8%,#b21c23 58.2%,#99181d 61.8%,#d41d25 68.8%,#c31e25 70.2%,#cd1e26 71.5%,#a91c22 72.8%,#bd1d24 73.8%,#92161b 75.5%,#ba1d24 76.8%,#811116 78.5%,#8f151a 79.2%,#bc1d24 80.2%,#ba1d24 80.5%,#6e0c10 82.2%,#7a0f13 82.8%,#b71d24 83.8%,#cc1e26 84.5%,#b91d24 85.2%,#580f12 86.8%,#5d0f12 87.2%,#e31d25 89.2%,#ed1f24 90.2%,#d81d25 90.8%,#580f12 92.8%,#551012 93.2%,#841217 94.2%,#e31d25 95.5%,#ef3f23 97.2%,#ed1d24 98.5%,#a11a20 99.8%,#a11a20)"></i><i style="top:308.51px;height:4.66px;background:linear-gradient(90deg,#aa1c22,#af1c23 51.5%,#a61b21 53.8%,#a91c22 58.5%,#b81d24 60.8%,#9a181e 64.8%,#ad1c22 68.8%,#c91e26 70.2%,#c21d25 71.5%,#de1d25 72.5%,#bc1d24 74.2%,#db1d25 75.5%,#a41a20 76.8%,#a21a20 77.2%,#ce1e26 78.2%,#d31e26 78.8%,#9b181e 79.8%,#891419 80.5%,#91161b 80.8%,#c91e26 81.8%,#d01e26 82.5%,#c51e25 82.8%,#811116 83.8%,#6e0c10 84.5%,#7f1115 85.2%,#bc1d24 86.2%,#cc1e26 86.8%,#b61d23 87.5%,#580f12 88.8%,#4a1112 89.5%,#511012 89.8%,#c71e26 91.5%,#e51c24 92.5%,#cb1e26 93.5%,#561012 95.2%,#431212 95.8%,#4f1012 96.5%,#eb1c24 98.8%,#ee3224)"></i><i style="top:312.57px;height:4.66px;background:linear-gradient(90deg,#aa1c22,#a61b21 51.5%,#af1c23 53.5%,#a51b21 60.5%,#bd1d24 63.5%,#99181d 70.2%,#ab1c22 71.5%,#a71b21 72.8%,#d21e26 74.2%,#b61d23 75.5%,#e71c24 76.8%,#dc1d25 77.5%,#ac1c22 78.5%,#ad1c22 78.8%,#de1d25 79.8%,#e81c24 80.5%,#95171c 82.2%,#a41a20 82.8%,#d01e26 83.5%,#ea1c24 84.2%,#df1d25 84.8%,#851217 86.2%,#790f13 86.8%,#91161b 87.5%,#d01e26 88.5%,#d81d25 89.5%,#b71d24 90.2%,#541012 91.5%,#481112 92.2%,#4f1012 92.5%,#c11d25 94.2%,#e01d25 95.2%,#cd1e26 96.2%,#790f13 97.5%,#580f12 97.8%,#3b1111 98.5%,#421212)"></i><i style="top:316.64px;height:4.66px;background:linear-gradient(90deg,#b41d23,#ab1c22 1.5%,#ae1c23 51.5%,#a51b21 53.5%,#af1c23 55.8%,#a31a20 62.8%,#c11d25 66.5%,#ac1c22 70.8%,#99181d 71.8%,#a01a1f 73.2%,#90151b 74.2%,#b31d23 75.5%,#a0191f 77.2%,#dc1d25 78.5%,#d21e26 79.2%,#a51b21 80.2%,#a71b21 80.5%,#ec1c24 81.8%,#ed1f24 82.2%,#eb1c24 82.5%,#9e191f 83.8%,#98171d 84.2%,#af1c23 84.8%,#ed1e24 85.8%,#ed2724 86.5%,#e31d25 87.2%,#9a181e 88.2%,#841217 88.8%,#93161c 89.5%,#e61c24 90.8%,#ed2024 91.8%,#d81d25 92.5%,#5e0e12 94.2%,#501012 94.8%,#560f12 95.2%,#d51d25 97.2%,#e71c24 97.8%,#e51c24 98.5%,#b41d23)"></i><i style="top:320.70px;height:4.66px;background:linear-gradient(90deg,#ae1c22,#a61b21 51.5%,#af1c23 53.5%,#a51b21 55.5%,#b11c23 62.2%,#a21a20 65.2%,#c31e25 69.5%,#b71d24 70.8%,#c51e25 71.8%,#ab1c22 73.2%,#b71d24 74.5%,#91161b 75.8%,#a81c21 77.2%,#881318 78.5%,#891419 78.8%,#c51e25 80.2%,#c71e25 80.5%,#93161b 81.8%,#92161b 82.2%,#db1d25 83.5%,#e81c24 84.2%,#cf1e26 84.8%,#94171c 85.8%,#90161b 86.2%,#aa1c22 86.8%,#ed1c24 87.8%,#ee2a24 88.5%,#ed1d24 89.2%,#98171d 90.5%,#891419 91.2%,#9f191f 91.8%,#e31d25 92.8%,#ee3224 94.2%,#e21d25 95.2%,#821216 96.5%,#610e11 97.5%,#891419 98.5%,#c91e26 99.5%,#d71d25)"></i><i style="top:324.76px;height:4.66px;background:linear-gradient(90deg,#a21a20,#ae1c22 51.5%,#a51b21 53.5%,#b01c23 55.5%,#a61b21 57.5%,#b61d23 64.8%,#a01a1f 67.8%,#a61b21 69.8%,#b81d24 70.8%,#b21d23 72.2%,#cb1e26 73.2%,#b51d23 74.5%,#d31e26 75.8%,#a11a20 77.5%,#bd1d24 78.8%,#851217 80.5%,#b91d24 82.2%,#801116 83.8%,#8d151a 84.5%,#cd1e26 85.5%,#d81d25 86.2%,#bf1d25 86.8%,#94171c 87.5%,#811116 88.2%,#95171c 88.8%,#ec1c24 90.2%,#ed2324 90.8%,#e11d25 91.5%,#8e151a 92.8%,#851217 93.5%,#9c191e 94.2%,#e21d25 95.2%,#ed2224 95.5%,#ef3c24 96.5%,#e61c24 97.8%,#8a1419 99.2%,#740d11)"></i><i style="top:328.82px;height:4.66px;background:linear-gradient(90deg,#a81b21,#af1c23 53.5%,#a51b21 55.5%,#b01c23 57.5%,#a81b21 64.5%,#b91d24 67.8%,#9f191f 71.2%,#ab1c22 72.2%,#a31a20 73.5%,#be1d24 74.8%,#ae1c22 76.2%,#d91d25 77.5%,#af1c23 78.8%,#b01c23 79.2%,#da1d25 80.5%,#c81e26 81.2%,#91161b 82.2%,#8f151b 82.5%,#c21d25 83.8%,#c31d25 84.2%,#7a0f14 85.8%,#831217 86.5%,#bd1d24 87.5%,#ce1e26 88.2%,#b81d24 88.8%,#7e1015 89.8%,#750d12 90.5%,#8b1419 91.2%,#d01e26 92.2%,#e71c24 93.2%,#d21e26 93.8%,#821216 95.2%,#780e13 95.8%,#8a1419 96.5%,#e51c24 97.8%,#ee3724 98.8%,#ee3624)"></i><i style="top:332.88px;height:4.66px;background:linear-gradient(90deg,#ac1c22,#a61b21 53.5%,#b01c23 55.2%,#a51b21 57.5%,#b01c23 59.8%,#a71b21 66.5%,#bc1d24 69.2%,#b91d24 71.5%,#a61b21 72.5%,#ad1c22 73.8%,#9b181e 74.8%,#b11c23 76.2%,#9a181e 77.5%,#cc1e26 79.2%,#a81c21 80.5%,#e81c24 82.2%,#da1d25 82.8%,#a21a20 83.8%,#9d191e 84.2%,#d41d25 85.5%,#d91d25 86.2%,#8c141a 87.5%,#7d1015 88.2%,#92161b 88.8%,#cb1e26 89.8%,#cf1e26 90.5%,#851217 91.8%,#670d11 92.8%,#821116 93.5%,#c21d25 94.5%,#da1d25 95.2%,#ca1e26 96.2%,#8b1419 97.2%,#5d0f12 98.2%,#600e11 98.5%,#9d191e)"></i><i style="top:336.94px;height:4.66px;background:linear-gradient(90deg,#aa1c22,#ae1c23 53.5%,#a61b21 55.2%,#b01c23 57.2%,#a61b21 59.8%,#b31d23 66.5%,#a41a20 69.2%,#b01c23 71.5%,#c31d25 72.5%,#b01c23 73.8%,#bf1d25 75.2%,#a01a1f 76.5%,#b51d23 77.8%,#91161b 79.2%,#b81d24 80.8%,#94171c 82.2%,#ab1c22 82.8%,#d41d25 83.5%,#e21d25 84.2%,#a0191f 85.8%,#a41a20 86.2%,#d91d25 87.2%,#ed1c24 87.8%,#de1d25 88.5%,#9b181e 89.5%,#861318 90.2%,#97171d 90.8%,#d21e26 91.8%,#df1d25 92.5%,#ce1e26 93.2%,#891419 94.2%,#680d11 95.2%,#7e1015 95.8%,#cb1e26 97.2%,#d91d25 97.8%,#ce1e26 98.5%,#97171d 99.5%,#871318)"></i><i style="top:341.00px;height:4.66px;background:linear-gradient(90deg,#ab1c22,#a71b21 53.5%,#af1c23 55.2%,#a61b21 56.8%,#b41d23 69.5%,#a31a20 72.5%,#b91d24 73.8%,#ae1c22 75.2%,#ca1e26 76.5%,#a91c22 77.8%,#c51e25 79.5%,#95171c 80.8%,#b61d23 82.5%,#90151b 83.5%,#871318 84.2%,#d01e26 85.8%,#ce1e26 86.2%,#96171c 87.5%,#94171c 87.8%,#9e191f 88.2%,#dc1d25 89.2%,#ed2024 89.8%,#e51c24 90.5%,#95171c 91.8%,#8f151a 92.5%,#e61c24 94.2%,#ed1d24 94.8%,#da1d25 95.5%,#841217 96.8%,#740d12 97.5%,#801116 98.2%,#cc1e26 99.5%,#d71d25)"></i><i style="top:345.06px;height:4.66px;background:linear-gradient(90deg,#a91c22,#a61b21 55.2%,#b01c23 57.2%,#a61b21 58.8%,#b01c23 61.2%,#ac1c22 69.5%,#bb1d24 70.8%,#b01c23 73.2%,#a0191f 74.2%,#af1c23 75.5%,#a51b21 76.8%,#c51e25 78.2%,#a91c22 79.5%,#d41d25 80.8%,#a0191f 82.5%,#ca1e26 84.2%,#841217 85.8%,#8e151a 86.5%,#b01c23 87.2%,#c11d25 87.8%,#8b1419 89.2%,#831217 89.8%,#8d151a 90.2%,#cf1e26 91.2%,#e81c24 91.8%,#e11d25 92.5%,#96171c 93.8%,#8b1419 94.5%,#a41a20 95.2%,#e31d25 96.2%,#ed2524 97.2%,#e41d25 97.8%,#8f151b 99.2%,#790f13)"></i><i style="top:349.12px;height:4.66px;background:linear-gradient(90deg,#a61b21,#af1c23 55.2%,#a51b21 56.8%,#b01c23 58.8%,#a61b21 61.2%,#b21c23 67.8%,#a61b21 70.8%,#bf1d25 74.2%,#a71b21 75.5%,#b21c23 76.8%,#9b181e 78.2%,#bb1d24 79.5%,#9e191f 80.8%,#a11a1f 81.2%,#d21e26 82.5%,#a31a20 84.2%,#dd1d25 85.8%,#ce1e26 86.5%,#a31a20 87.2%,#8a1419 87.8%,#8d151a 88.2%,#c21d25 89.5%,#c41e25 89.8%,#861317 91.2%,#780e13 91.8%,#8a1419 92.5%,#d71d25 93.8%,#cd1e26 94.8%,#93161b 95.8%,#811116 96.5%,#8e151a 97.2%,#cf1e26 98.2%,#ed1e24 98.8%,#ee2724)"></i><i style="top:353.19px;height:4.66px;background:linear-gradient(90deg,#ae1c23,#a71b21 55.2%,#b01c23 57.2%,#a51b21 58.8%,#b01c23 60.8%,#a71b21 63.5%,#b41d23 71.2%,#a61b21 72.5%,#a81c21 74.5%,#c21d25 75.8%,#ad1c22 77.2%,#bd1d24 78.5%,#9c191e 79.8%,#b91d24 81.2%,#94171c 82.5%,#96171c 82.8%,#c81e26 84.2%,#9b181e 85.8%,#a01a1f 86.2%,#d61d25 87.2%,#e51c24 87.8%,#d01e26 88.5%,#9a181d 89.5%,#96171c 89.8%,#cc1e26 91.2%,#d61d25 91.8%,#ce1e26 92.2%,#801116 93.5%,#770e12 94.2%,#8c141a 94.8%,#c71e25 95.8%,#d11e26 96.5%,#cb1e26 96.8%,#7a0f13 98.5%,#851217)"></i><i style="top:357.25px;height:4.66px;background:linear-gradient(90deg,#a91c22,#ae1c23 55.5%,#a61b21 57.2%,#b01c23 58.8%,#a71b21 61.2%,#b21d23 68.2%,#aa1c22 71.2%,#b81d24 72.5%,#a01a1f 75.8%,#b91d24 77.2%,#aa1c22 78.5%,#ca1e26 79.8%,#a31a20 81.2%,#c31e25 82.8%,#93161c 84.2%,#92161b 84.5%,#be1d24 85.8%,#be1d24 86.2%,#8e151a 87.5%,#99181d 88.2%,#dd1d25 89.5%,#d61d25 90.2%,#a31a20 91.2%,#9b181e 91.8%,#db1d25 93.2%,#e81c24 93.8%,#d51d25 94.5%,#91161b 95.5%,#7c1014 96.2%,#871318 96.8%,#be1d24 97.8%,#d21e26 98.5%,#b31d23)"></i><i style="top:361.31px;height:4.66px;background:linear-gradient(90deg,#a91c22,#af1c23 57.2%,#a61b21 59.2%,#b11c23 65.5%,#a81c22 68.2%,#b21c23 69.5%,#a71b21 72.5%,#ba1d24 75.8%,#a21a20 77.2%,#b21c23 78.5%,#a0191f 79.8%,#c81e26 81.5%,#a41a20 82.8%,#cf1e26 84.5%,#96171c 86.2%,#c41e25 87.8%,#841217 89.5%,#91161b 90.2%,#c91e26 91.2%,#d01e26 91.5%,#c61e25 92.2%,#96171c 93.2%,#94161c 93.8%,#de1d25 95.2%,#ed1f24 95.8%,#e41d25 96.5%,#881318 98.2%,#891419 98.8%,#b11c23)"></i><i style="top:365.37px;height:4.66px;background:linear-gradient(90deg,#ab1c22,#a61b21 57.2%,#b01c23 58.8%,#a81c22 69.8%,#b51d23 72.8%,#a71b21 73.8%,#b01c23 75.2%,#a91c22 76.2%,#c11d25 77.5%,#a61b21 78.8%,#b61d24 80.2%,#9a181d 81.5%,#c01d25 82.8%,#9e191f 84.5%,#d31e26 86.2%,#9c181e 87.8%,#d21e26 89.5%,#c41e25 90.2%,#8b1419 91.2%,#841217 91.5%,#8f151a 92.2%,#c61e25 93.5%,#b81d24 94.2%,#831217 95.5%,#8f151a 96.2%,#e11d25 97.5%,#ed1d24 98.2%,#dd1d25 98.8%,#a91c22)"></i><i style="top:369.43px;height:4.66px;background:linear-gradient(90deg,#a71b21,#a71b21 59.2%,#b01c23 60.8%,#a61b21 62.8%,#b41d23 69.8%,#a81c22 72.8%,#b71d24 74.2%,#a31a20 77.5%,#be1d24 78.8%,#a91c22 80.2%,#c31d25 81.5%,#9a181d 83.2%,#bc1d24 84.5%,#95171c 86.2%,#cf1e26 87.8%,#cc1e26 88.2%,#a11a20 89.2%,#9d191e 89.8%,#ce1e26 90.8%,#de1d25 91.5%,#cd1e26 92.2%,#a31a20 92.8%,#8a1419 93.5%,#95171c 94.2%,#c91e26 95.5%,#bb1d24 96.2%,#851217 97.2%,#780e13 97.8%,#8a1419 98.5%,#ca1e26 99.5%,#d71d25)"></i><i style="top:373.49px;height:4.66px;background:linear-gradient(90deg,#ae1c22,#a61b21 57.5%,#af1c23 58.8%,#a61b21 60.5%,#b21c23 67.2%,#a81b21 69.8%,#b21c23 71.2%,#a71b21 74.2%,#b51d23 75.5%,#ab1c22 76.5%,#b81d24 77.8%,#a01a1f 79.2%,#b71d24 80.5%,#a61b21 81.8%,#cb1e26 83.2%,#9f191f 84.8%,#bc1d24 85.8%,#bf1d25 86.5%,#91161b 87.8%,#93161c 88.2%,#bd1d24 89.2%,#c61e25 89.8%,#9e191f 90.8%,#92161b 91.5%,#d31e26 92.8%,#e11d25 93.5%,#cf1e26 94.2%,#a81b21 94.8%,#92161b 95.5%,#9f191f 96.2%,#cf1e26 97.2%,#d51d25 97.8%,#cd1e26 98.2%,#801115 99.5%,#750e12)"></i><i style="top:377.55px;height:4.66px;background:linear-gradient(90deg,#a81b21,#af1c23 60.8%,#a71b21 62.8%,#b11c23 69.8%,#a81b21 71.2%,#b61d23 74.5%,#a71b21 75.5%,#b21c23 76.8%,#a81b21 77.8%,#bf1d25 79.2%,#a31a20 80.5%,#b51d23 81.8%,#9d191e 83.2%,#c91e26 84.8%,#a21a20 86.5%,#cc1e26 87.8%,#cb1e26 88.2%,#9f191f 89.2%,#92161b 89.8%,#c51e25 91.5%,#891419 93.2%,#93161c 93.8%,#cd1e26 94.8%,#da1d25 95.5%,#ca1e26 96.2%,#99181d 97.2%,#98171d 97.8%,#d91d25 99.2%,#eb1c24)"></i><i style="top:381.61px;height:4.66px;background:linear-gradient(90deg,#aa1c22,#af1c23 59.2%,#a61b21 60.8%,#b01c23 62.5%,#a81c22 68.8%,#b41d23 71.5%,#a71b21 74.5%,#b71d24 75.8%,#a91c22 76.8%,#b31d23 78.2%,#a41a20 79.2%,#c01d25 80.8%,#a61b21 82.2%,#bc1d24 83.5%,#98181d 84.8%,#c21d25 86.5%,#9e191f 88.2%,#c71e25 89.2%,#d21e26 89.8%,#96171c 91.5%,#99181d 91.8%,#c41e25 92.8%,#cc1e26 93.5%,#8d151a 94.8%,#841217 95.5%,#c21d25 96.8%,#d01e26 97.5%,#bf1d25 98.2%,#90161b 99.2%,#861318)"></i><i style="top:385.67px;height:4.66px;background:linear-gradient(90deg,#aa1c22,#a81b21 66.5%,#b21c23 68.8%,#a71b21 71.5%,#b21c23 74.8%,#a61b21 75.8%,#b51d23 77.2%,#a91c22 78.2%,#b81d24 79.5%,#a01a1f 80.8%,#bb1d24 82.2%,#a61b21 83.5%,#c51e25 84.8%,#c51e25 85.2%,#99181d 86.5%,#bf1d25 88.2%,#96171c 89.8%,#d11e26 91.5%,#ce1e26 91.8%,#a11a20 92.8%,#99181d 93.5%,#d71d25 95.2%,#ca1e26 95.8%,#91161b 96.8%,#851217 97.5%,#c71e26 99.2%,#cf1e26)"></i><i style="top:389.73px;height:4.66px;background:linear-gradient(90deg,#a91c22,#a71b21 60.8%,#b01c23 62.5%,#a71b21 64.5%,#b21c23 71.5%,#a71b21 72.8%,#b71d24 76.2%,#a71b21 77.2%,#b21d23 78.5%,#a71b21 79.5%,#bd1d24 80.8%,#a21a20 82.2%,#b71d24 83.8%,#a01a1f 85.2%,#ca1e26 86.5%,#ca1e26 86.8%,#9d191e 88.2%,#c31e25 89.8%,#90161b 91.5%,#cb1e26 93.2%,#cc1e26 93.5%,#93161c 95.2%,#dd1d25 97.2%,#d11e26 97.8%,#8c141a 99.2%,#861317)"></i><i style="top:393.80px;height:4.66px;background:linear-gradient(90deg,#ab1c22,#a71b21 62.5%,#b21c23 68.8%,#a91c22 71.5%,#b51d23 73.2%,#a61b21 76.2%,#b81d24 77.5%,#a91c22 78.8%,#b41d23 79.8%,#a31a20 81.2%,#c01d25 82.5%,#a31a20 83.8%,#ba1d24 85.2%,#9b181e 86.8%,#c81e26 88.2%,#9e191f 89.8%,#cb1e26 91.5%,#c81e26 91.8%,#91161b 93.2%,#97171d 93.8%,#c91e26 95.2%,#8b1419 97.2%,#a11a1f 97.8%,#d71d25 98.8%,#dd1d25)"></i><i style="top:397.86px;height:4.66px;background:linear-gradient(90deg,#a81b21,#a71b21 61.2%,#b01c23 62.8%,#a71b21 64.5%,#b21c23 70.2%,#a71b21 73.2%,#b31d23 76.2%,#a51b21 77.5%,#b51d23 78.8%,#a91c22 80.2%,#b81d24 81.2%,#a11a1f 82.5%,#bd1d24 84.2%,#a51b21 85.5%,#c11d25 86.8%,#98171d 88.5%,#c21d25 89.8%,#9d191e 91.8%,#c71e26 92.8%,#d01e26 93.5%,#92161b 95.2%,#cb1e26 97.2%,#881318 98.8%,#8c1419)"></i><i style="top:401.92px;height:4.66px;background:linear-gradient(90deg,#ac1c22,#a81b21 70.5%,#b31d23 73.2%,#a71b21 74.5%,#a91c22 76.5%,#b81d24 77.8%,#a71b21 78.8%,#b31d23 80.2%,#a71b21 81.5%,#bd1d24 82.8%,#a0191f 84.2%,#b91d24 85.5%,#a41b20 87.2%,#c81e26 88.5%,#9b181e 89.8%,#9e191f 90.5%,#c01d25 91.8%,#9e191f 92.8%,#96171c 93.5%,#d21e26 95.2%,#94171c 97.2%,#d11e26 98.8%,#c81e26)"></i><i style="top:405.98px;height:4.66px;background:linear-gradient(90deg,#a81c21,#a81b21 64.5%,#b01c23 66.5%,#a81c21 68.2%,#b21d23 70.5%,#a81c21 73.2%,#b51d23 74.5%,#a51b21 77.8%,#b91d24 79.2%,#a81b21 80.5%,#b31d23 81.8%,#a21a20 82.8%,#bf1d25 84.2%,#a11a20 85.8%,#ba1d24 87.2%,#9c181e 88.5%,#cc1e26 90.2%,#9a181e 91.8%,#c41e25 93.5%,#8f151a 95.2%,#9f191f 95.8%,#ce1e26 96.8%,#d01e26 97.2%,#92161b 98.8%,#a0191f)"></i><i style="top:410.04px;height:12.66px;background:linear-gradient(90deg,#aa1c22,#b01c23 71.8%,#a81b21 74.5%,#b31d23 77.8%,#a61b21 79.2%,#b41d23 80.5%,#aa1c22 81.8%,#b71d24 82.8%,#a31a20 84.2%,#ba1d24 85.5%,#a51b21 87.2%,#bb1d24 88.5%,#9d191e 90.2%,#c11d25 91.5%,#a11a1f 93.5%,#c51e25 95.2%,#96171c 96.8%,#c51e25 98.8%,#b31d23)"></i></div><b class="tx"></b></div>
<div class="h" style="left:779.8px;top:41.6px;width:463.1px;height:406.1px;background:#9b181e"><div class="hh" style="top:-8px;height:422.1px;background:#9b181e"><i style="top:0.00px;height:12.66px;background:linear-gradient(90deg,#9b181e,#a11a1f 63.8%,#98181d 65.5%,#a31a20 68.2%,#96171c 70.2%,#a71b21 72.2%,#97171d 74.8%,#a91c22 78.2%,#94171c 81.2%,#a21a20 82.5%,#a0191f 83.8%,#b11c23 84.8%,#97171d 86.5%,#9e191f 87.5%,#8f151a 88.8%,#b01c23 90.5%,#9b181e 91.8%,#b41d23 93.5%,#8f151a 95.2%,#a91c22 96.8%,#881318 98.5%,#ac1c22)"></i><i style="top:12.06px;height:4.66px;background:linear-gradient(90deg,#9d191e,#98171d 59.8%,#a11a1f 61.8%,#97171d 64.2%,#a51b21 65.8%,#95171c 68.2%,#a71b21 70.5%,#94161c 72.8%,#a91c22 75.2%,#94161c 78.2%,#99181d 80.2%,#b11c23 81.5%,#a31a20 82.5%,#a61b21 83.8%,#8c141a 85.2%,#9e191e 86.2%,#97171d 87.5%,#bd1d24 89.2%,#97171d 90.5%,#a91c22 92.2%,#851317 93.5%,#ae1c22 95.2%,#8a1419 96.8%,#be1d24 98.2%,#c81e26 98.8%,#a61b21)"></i><i style="top:16.12px;height:4.66px;background:linear-gradient(90deg,#9a181d,#a01a1f 59.8%,#97171d 61.8%,#a31a20 64.2%,#95171c 66.2%,#a81c21 68.2%,#94161c 70.5%,#a91c22 73.5%,#94171c 76.5%,#af1c23 79.8%,#98181d 81.2%,#8f151b 83.2%,#af1c23 84.8%,#a21a20 86.2%,#b51d23 87.5%,#8f151a 88.8%,#a11a1f 90.5%,#891419 91.8%,#b71d24 93.5%,#94161c 95.2%,#c61e25 96.8%,#8a1419 98.5%,#a01a1f)"></i><i style="top:20.18px;height:4.66px;background:linear-gradient(90deg,#9c191e,#98181d 59.8%,#a21a20 62.2%,#95171c 64.2%,#a51b21 66.2%,#94161c 68.5%,#aa1c22 70.8%,#94171c 73.5%,#ad1c22 76.5%,#90161b 79.8%,#9e191e 82.2%,#b81d24 83.5%,#9c191e 84.8%,#a41a20 85.8%,#8a1419 87.5%,#a71b21 88.8%,#94171c 90.2%,#bf1d25 91.8%,#97171d 93.2%,#b81d24 95.2%,#811116 96.8%,#ab1c22 98.5%,#8b1419)"></i><i style="top:24.24px;height:4.66px;background:linear-gradient(90deg,#9a181e,#98181d 58.2%,#a11a1f 60.2%,#97171d 61.8%,#a51b21 64.2%,#93161c 66.2%,#a71b21 68.5%,#94161c 71.2%,#a81c21 73.5%,#94161c 78.2%,#ab1c22 79.5%,#a61b21 80.8%,#b01c23 81.8%,#92161b 83.2%,#99181d 84.5%,#8f151a 85.5%,#b51d23 87.2%,#9e191e 88.8%,#ba1d24 90.2%,#90161b 91.5%,#91161b 92.2%,#ab1c22 93.2%,#811116 94.8%,#891419 95.5%,#b51d23 96.8%,#8b1419 98.5%,#ba1d24)"></i><i style="top:28.30px;height:4.66px;background:linear-gradient(90deg,#9f191f,#98171d 56.5%,#a01a1f 58.2%,#97171d 60.2%,#a31a20 62.2%,#95171c 64.2%,#a81c21 66.5%,#92161b 68.8%,#a91c22 71.8%,#93161c 74.8%,#b21c23 78.2%,#8d151a 81.8%,#a41a20 83.2%,#a01a1f 84.5%,#bb1d24 85.8%,#98181d 87.2%,#ab1c22 88.5%,#871318 90.2%,#a71b21 91.5%,#871318 93.2%,#c31e25 94.8%,#94161c 96.8%,#ce1e26 98.5%,#a71b21)"></i><i style="top:32.37px;height:4.66px;background:linear-gradient(90deg,#98171d,#a0191f 56.2%,#97171d 58.2%,#a21a20 60.2%,#95171c 62.5%,#a71b21 64.5%,#94161c 66.5%,#aa1c22 69.2%,#94171c 72.2%,#ad1c22 75.2%,#91161b 78.5%,#95171c 80.2%,#b51d23 81.8%,#a41b20 82.8%,#b11c23 84.2%,#8f151b 85.5%,#9f191f 87.2%,#8a1419 88.2%,#b11c23 89.8%,#94161c 91.5%,#cb1e26 93.2%,#92161b 94.8%,#ba1d24 96.8%,#780f13 98.5%,#8e151a)"></i><i style="top:36.43px;height:4.66px;background:linear-gradient(90deg,#9e191f,#97171d 56.2%,#a11a20 58.2%,#95171c 60.2%,#a51b21 62.5%,#93161b 64.8%,#a91c22 66.8%,#94161c 69.5%,#a91c22 73.5%,#91161b 76.5%,#b71d24 80.2%,#9a181e 81.5%,#9d191e 82.8%,#8b1419 84.2%,#a61b21 85.5%,#95171c 86.8%,#bd1d24 88.2%,#99181d 89.8%,#c11d25 91.5%,#861317 93.2%,#a91c22 94.8%,#801116 96.2%,#790f13 96.8%,#bf1d25 98.5%,#be1d24 99.2%,#a91c22)"></i><i style="top:40.49px;height:4.66px;background:linear-gradient(90deg,#9b181e,#a01a1f 56.2%,#96171c 58.2%,#a41a20 60.5%,#92161b 62.5%,#a81b21 64.8%,#91161b 67.2%,#a91c22 70.5%,#92161b 73.5%,#b41d23 76.8%,#8e151a 80.2%,#98181d 81.2%,#93161c 82.5%,#b41d23 83.8%,#a11a1f 85.5%,#bc1d24 86.8%,#94161c 88.2%,#ad1c22 89.8%,#8a1419 90.8%,#7f1115 91.5%,#a81c22 93.2%,#841217 94.8%,#8a1419 95.2%,#c11d25 96.2%,#d21e26 96.8%,#8c151a 98.8%,#a41b20)"></i><i style="top:44.55px;height:4.66px;background:linear-gradient(90deg,#9c181e,#9f191f 54.5%,#97171d 56.2%,#a21a20 58.2%,#94171c 60.2%,#a71b21 62.8%,#91161b 64.8%,#aa1c22 67.8%,#94171c 71.2%,#ac1c22 73.5%,#aa1c22 75.5%,#93161b 76.8%,#8f151a 78.5%,#a81c22 79.8%,#a21a20 81.2%,#ba1d24 82.5%,#9b181e 83.8%,#ae1c22 85.2%,#8a1419 86.5%,#a11a20 88.2%,#831217 89.5%,#90151b 90.2%,#b81d24 91.2%,#95171c 93.2%,#d71d25 94.8%,#c91e26 95.5%,#8a1419 96.8%,#94161c 97.5%,#c81e26 98.8%,#b51d23)"></i><i style="top:48.61px;height:4.66px;background:linear-gradient(90deg,#9b181e,#98181d 54.2%,#a11a1f 56.2%,#95171c 58.2%,#a61b21 60.5%,#92161b 62.8%,#aa1c22 65.2%,#93161b 68.2%,#ac1c22 72.2%,#8f151a 75.2%,#9e191f 77.2%,#b81d24 78.5%,#a41a20 79.8%,#ab1c22 81.2%,#92161b 82.2%,#9e191f 83.8%,#881418 84.8%,#a81c21 86.5%,#90161b 87.8%,#ca1e26 89.5%,#c91e26 89.8%,#a21a20 90.8%,#9c181e 91.5%,#c21d25 92.5%,#cb1e26 93.2%,#811116 94.8%,#851317 95.5%,#b51d23 96.8%,#a71b21 97.5%,#710c10 98.8%,#7b0f14)"></i><i style="top:52.67px;height:4.66px;background:linear-gradient(90deg,#99181d,#a0191f 54.5%,#96171d 56.5%,#a41b20 58.5%,#93161b 60.8%,#a91c22 63.2%,#91161b 65.8%,#ab1c22 69.2%,#90161b 72.2%,#9a181d 73.8%,#b21c23 75.2%,#b01c23 77.2%,#97171d 78.5%,#9b181e 79.5%,#8c141a 80.8%,#a21a20 82.2%,#94161c 83.5%,#ba1d24 84.8%,#a11a1f 86.5%,#cc1e26 87.8%,#92161b 89.5%,#b31d23 91.2%,#831217 92.5%,#780e13 93.2%,#a71b21 94.5%,#ae1c22 95.2%,#770e12 96.8%,#841217 97.5%,#cc1e26 98.8%,#cb1e26)"></i><i style="top:56.73px;height:4.66px;background:linear-gradient(90deg,#9f191f,#98171d 54.5%,#a21a20 56.5%,#93161c 58.8%,#a81c21 60.8%,#90151b 63.2%,#aa1c22 66.2%,#91161b 69.8%,#b21c23 73.8%,#8d151a 77.2%,#9a181d 78.2%,#97171d 79.5%,#af1c23 80.5%,#a01a1f 81.8%,#c01d25 83.5%,#9d191e 84.8%,#b41d23 85.8%,#b41d23 86.5%,#831217 87.8%,#a11a1f 89.5%,#7a0f14 91.2%,#ba1d24 92.8%,#bb1d24 93.2%,#891419 94.5%,#861318 95.2%,#cd1e26 96.5%,#d91d25 97.2%,#c51e25 97.8%,#8b1419 98.8%,#821116)"></i><i style="top:60.79px;height:4.66px;background:linear-gradient(90deg,#99181d,#98181d 52.5%,#a11a1f 54.5%,#94171c 56.8%,#a71b21 58.8%,#90151b 61.2%,#a91c22 63.5%,#91161b 67.2%,#b01c23 70.5%,#8e151a 73.8%,#93161c 75.5%,#ac1c22 76.8%,#a61b21 78.2%,#b91d24 79.2%,#a21a20 80.5%,#b51d23 81.8%,#90161b 83.2%,#9d191e 84.8%,#7f1115 86.2%,#a61b21 87.8%,#8c1419 88.8%,#8a1419 89.5%,#ca1e26 90.8%,#ce1e26 91.2%,#ca1e26 91.5%,#9b181e 92.5%,#90151b 93.2%,#cf1e26 94.5%,#db1d25 95.2%,#c61e25 95.8%,#8b1419 96.8%,#841217 97.2%,#90151b 97.8%,#d91d25 99.2%,#e51c24)"></i><i style="top:64.85px;height:4.66px;background:linear-gradient(90deg,#9b181e,#9f191f 52.5%,#96171c 54.8%,#a51b21 56.8%,#90161b 58.8%,#aa1c22 61.2%,#91161b 64.2%,#ad1c22 67.8%,#8e151a 71.5%,#b71d24 75.5%,#a61b21 76.8%,#ae1c22 77.8%,#95171c 79.2%,#9e191f 80.5%,#861318 81.8%,#9b181e 83.2%,#891419 84.5%,#bc1d24 85.8%,#be1d24 86.2%,#9f191f 87.2%,#9d191e 87.8%,#d41d25 89.2%,#cc1e26 89.8%,#91161b 91.2%,#d21e26 93.2%,#cc1e26 93.5%,#94171c 94.5%,#7e1015 95.2%,#881418 95.8%,#bf1d25 96.8%,#cc1e26 97.5%,#b41d23 98.2%,#5c0f12 99.5%,#511012)"></i><i style="top:68.91px;height:4.66px;background:linear-gradient(90deg,#9e191f,#98171d 52.5%,#a21a20 54.8%,#91161b 56.8%,#a91c22 59.2%,#90151b 61.8%,#aa1c22 64.8%,#8d151a 68.5%,#b51d23 72.2%,#97171d 75.5%,#8c141a 77.8%,#98181d 78.8%,#8d151a 80.2%,#ae1c23 81.5%,#9d191e 82.8%,#cd1e26 84.2%,#ce1e26 84.5%,#a11a1f 85.8%,#aa1c22 86.5%,#c51e25 87.2%,#c91e26 87.8%,#97171d 88.8%,#881318 89.5%,#be1d24 91.2%,#760e12 93.2%,#811116 93.8%,#b11c23 94.8%,#b71d24 95.5%,#570f12 97.5%,#5a0f12 97.8%,#c01d25 99.5%,#cc1e26)"></i><i style="top:72.98px;height:4.66px;background:linear-gradient(90deg,#99181d,#a01a1f 52.8%,#94171c 54.8%,#a81b21 56.8%,#8f151b 59.5%,#aa1c22 62.2%,#8e151a 65.8%,#b31d23 69.2%,#8e151a 74.2%,#92161b 76.2%,#a81c21 77.5%,#a31a20 78.8%,#c41e25 80.2%,#aa1c22 81.5%,#c91e26 82.8%,#97171d 84.2%,#99181d 84.8%,#b21c23 85.8%,#7f1015 87.5%,#881318 88.2%,#ac1c22 89.2%,#ab1c22 89.5%,#730d11 91.2%,#811116 91.8%,#b61d23 93.2%,#a61b21 93.8%,#6d0c10 95.2%,#790f13 95.8%,#cc1e26 97.2%,#d91d25 97.8%,#c61e25 98.5%,#871318 99.5%,#7b0f14)"></i><i style="top:77.04px;height:4.66px;background:linear-gradient(90deg,#9e191f,#9f191f 50.8%,#96171c 52.8%,#a51b21 54.8%,#90151b 57.2%,#ab1c22 59.8%,#8f151b 63.2%,#b11c23 66.5%,#8c141a 70.5%,#a81b21 73.8%,#a81b21 75.2%,#bb1d24 76.2%,#ae1c22 77.5%,#c11d25 78.5%,#a0191f 79.8%,#ac1c22 81.2%,#841217 82.8%,#9d191e 84.2%,#7c1014 85.8%,#ac1c22 87.5%,#7b0f14 89.2%,#891419 89.8%,#bd1d24 90.8%,#c41e25 91.2%,#b41d23 91.8%,#831216 92.8%,#821116 93.5%,#d31e26 94.8%,#e91c24 95.5%,#dd1d25 96.2%,#8b1419 97.5%,#811116 98.2%,#9b181e 98.8%,#cb1e26 99.5%,#db1d25)"></i><i style="top:81.10px;height:4.66px;background:linear-gradient(90deg,#98171d,#98171d 50.8%,#a21a20 52.8%,#92161b 55.2%,#aa1c22 57.5%,#8f151a 60.2%,#ad1c22 63.8%,#8a1419 67.5%,#ac1c22 70.8%,#b61d24 74.8%,#a01a1f 76.2%,#a61b21 77.2%,#891419 78.5%,#92161b 79.8%,#811116 81.2%,#a01a1f 82.5%,#881318 84.2%,#b11c23 85.2%,#bb1d24 85.8%,#94161c 86.8%,#8b1419 87.5%,#d41d25 89.2%,#ca1e26 89.8%,#8d151a 91.2%,#9d191e 91.8%,#de1d25 92.8%,#ed1e24 93.5%,#de1d25 94.2%,#9a181e 95.2%,#831217 95.8%,#92161b 96.5%,#d61d25 97.5%,#ed2024 98.2%,#ed1e24 98.8%,#c31d25)"></i><i style="top:85.16px;height:4.66px;background:linear-gradient(90deg,#9a181e,#a0191f 50.8%,#94171c 52.8%,#a81c21 55.2%,#8d151a 57.8%,#ab1c22 60.8%,#8a1419 64.8%,#af1c23 67.8%,#b41d23 69.5%,#841217 76.8%,#97171d 78.2%,#8e151a 79.5%,#b81d24 80.8%,#9b181e 82.5%,#cc1e26 83.8%,#cb1e26 84.2%,#a11a20 85.2%,#9b181e 85.8%,#ce1e26 86.8%,#dd1d25 87.5%,#ca1e26 88.2%,#a21a20 88.8%,#94171c 89.5%,#d81d25 90.8%,#e71c24 91.5%,#d41d25 92.2%,#811116 93.5%,#811116 94.2%,#cf1e26 95.5%,#e01d25 96.2%,#d01e26 96.8%,#580f12 98.5%,#521012 99.2%,#710c10)"></i><i style="top:89.22px;height:4.66px;background:linear-gradient(90deg,#a41b20,#97171d 50.8%,#a51b21 53.2%,#8e151a 55.5%,#ab1c22 58.2%,#8c1419 62.2%,#b41d23 65.8%,#93161c 69.8%,#881318 73.2%,#95171c 75.5%,#b61d23 76.8%,#a91c22 78.2%,#cb1e26 79.5%,#a61b21 80.8%,#d01e26 82.2%,#d01e26 82.5%,#a71b21 83.5%,#9f191f 84.2%,#ce1e26 85.2%,#d61d25 85.8%,#8d151a 87.5%,#9c191e 88.2%,#ce1e26 89.2%,#cd1e26 89.8%,#7d1015 91.2%,#720d11 91.8%,#871318 92.5%,#c01d25 93.5%,#c71e25 94.2%,#a81b21 94.8%,#600e11 95.8%,#4b1112 96.5%,#501012 96.8%,#d11e26 98.8%,#d51d25)"></i><i style="top:93.28px;height:4.66px;background:linear-gradient(90deg,#9d191e,#98181d 48.8%,#a21a20 51.2%,#92161b 53.2%,#ab1c22 55.8%,#8c151a 58.8%,#b31d23 62.8%,#8f151a 66.2%,#891419 67.8%,#9d191e 71.8%,#b51d23 73.2%,#b21c23 74.2%,#ca1e26 75.5%,#b21d23 76.8%,#c81e26 77.8%,#a41a20 79.5%,#c51e25 80.8%,#96171c 82.2%,#95171c 82.5%,#c21d25 83.8%,#b11c23 84.5%,#8c151a 85.2%,#7f1015 85.8%,#b31d23 87.5%,#a01a1f 88.2%,#5c0f12 89.5%,#620e11 89.8%,#aa1c22 91.2%,#b71d24 91.8%,#9f191f 92.5%,#5c0f12 93.5%,#4d1112 94.2%,#551012 94.5%,#c81e26 96.2%,#d31e26 96.8%,#bd1d24 97.5%,#451112 99.2%,#381010)"></i><i style="top:97.34px;height:4.66px;background:linear-gradient(90deg,#9b181e,#9f191f 48.8%,#94171c 51.2%,#a81c21 53.5%,#8d151a 56.2%,#af1c23 60.2%,#861318 63.8%,#c51e25 72.2%,#b71d24 73.2%,#bf1d25 74.2%,#a41b20 75.5%,#ad1c22 76.8%,#94161c 77.8%,#ab1c22 79.2%,#851217 80.8%,#a31a20 82.2%,#740d11 83.8%,#9f191f 85.5%,#9d191e 85.8%,#600e11 87.5%,#b21c23 89.2%,#b91d24 89.5%,#a91c22 90.2%,#5d0f12 91.5%,#580f12 91.8%,#c01d25 93.5%,#d91d25 94.2%,#d01e26 94.8%,#590f12 96.5%,#4c1112 97.2%,#551012 97.5%,#d61d25 99.2%,#ed2124)"></i><i style="top:101.40px;height:4.66px;background:linear-gradient(90deg,#99181d,#97171d 49.2%,#a51b21 51.5%,#8e151a 53.8%,#ad1c22 56.8%,#851217 61.2%,#b11c23 65.2%,#bc1d24 68.8%,#8c1419 74.2%,#94161c 75.2%,#851217 76.5%,#94161c 77.8%,#7d1014 79.2%,#94171c 80.5%,#760e12 81.8%,#a61b21 83.8%,#811116 84.8%,#780e13 85.5%,#8d151a 86.2%,#c71e25 87.2%,#cb1e26 87.5%,#c51e25 87.8%,#8b1419 88.8%,#760e12 89.5%,#831217 90.2%,#da1d25 91.5%,#e51c24 92.2%,#cd1e26 92.8%,#821216 93.8%,#620e11 94.5%,#650e11 94.8%,#881318 95.5%,#ec1c24 96.8%,#ee2d24 97.8%,#eb1c24 98.5%,#a41a20 99.5%,#90151b)"></i><i style="top:105.46px;height:4.66px;background:linear-gradient(90deg,#93161b,#9c181e 1.5%,#99181d 47.2%,#a11a20 49.2%,#92161b 51.5%,#ab1c22 54.2%,#881318 58.2%,#b91d24 62.5%,#aa1c22 66.2%,#821216 70.8%,#841217 74.8%,#93161c 76.2%,#841217 77.5%,#a21a20 78.8%,#861318 80.2%,#c11d25 81.8%,#be1d24 82.2%,#92161b 83.2%,#8f151b 83.8%,#c91e26 84.8%,#dc1d25 85.5%,#ca1e26 86.2%,#9c191e 86.8%,#851217 87.5%,#97171d 88.2%,#dc1d25 89.2%,#ed1e24 89.8%,#de1d25 90.5%,#95171c 91.5%,#790f13 92.2%,#831217 92.8%,#cb1e26 93.8%,#ed2024 94.5%,#ee2e24 95.2%,#e61c24 96.2%,#841217 97.5%,#6b0d10 98.2%,#780e13 98.8%,#a71b21)"></i><i style="top:109.53px;height:4.66px;background:linear-gradient(90deg,#98171d,#9f191f 47.2%,#95171c 49.5%,#a81c21 51.8%,#8b1419 55.2%,#ba1d24 59.5%,#7c1014 67.2%,#9a181e 72.2%,#95171c 73.5%,#a71b21 74.5%,#9a181d 75.8%,#bf1d25 77.2%,#a41b20 78.8%,#d81d25 80.2%,#a01a1f 81.8%,#a61b21 82.2%,#e41d25 83.5%,#da1d25 84.2%,#9d191e 85.2%,#95171c 85.8%,#e11d25 87.2%,#ed2024 87.8%,#eb1c24 88.2%,#98171d 89.5%,#851217 90.2%,#9b181e 90.8%,#e11d25 91.8%,#ed2024 92.2%,#ee2c24 92.8%,#e21d25 93.8%,#851217 95.2%,#750e12 95.8%,#861318 96.5%,#cd1e26 97.5%,#ed1e24 98.2%,#ee3124 99.2%,#ee2e24)"></i><i style="top:113.59px;height:4.66px;background:linear-gradient(90deg,#a61b21,#9d191e 1.5%,#97171d 47.2%,#a51b21 49.8%,#8e151a 52.5%,#b51d23 56.5%,#861317 60.2%,#7e1015 63.2%,#891419 65.8%,#ac1c22 69.2%,#ae1c23 72.2%,#c11d25 73.2%,#b51d23 74.5%,#d51d25 75.8%,#b71d24 77.2%,#dd1d25 78.5%,#d31e26 79.2%,#ac1c22 80.2%,#e31d25 81.8%,#d31e26 82.5%,#9e191f 83.5%,#9b181e 83.8%,#a41b20 84.2%,#df1d25 85.2%,#ed1e24 85.8%,#da1d25 86.5%,#99181d 87.5%,#8c151a 88.2%,#aa1c22 88.8%,#ed1d24 89.8%,#ee2924 90.8%,#e01d25 91.5%,#811116 92.8%,#740d12 93.5%,#8b1419 94.2%,#eb1c24 95.5%,#ee2f24 96.2%,#ee3024 96.8%,#ed1f24 97.5%,#e11d25 97.8%,#511012 99.8%,#511012)"></i><i style="top:117.65px;height:4.66px;background:linear-gradient(90deg,#a31a20,#98181d 45.2%,#a11a20 47.5%,#92161b 50.2%,#ac1c22 53.2%,#7b0f14 58.2%,#bf1d25 66.2%,#c21d25 70.8%,#d11e26 72.2%,#c41e25 73.2%,#d71d25 74.5%,#bb1d24 75.8%,#d81d25 77.2%,#ab1c22 78.5%,#ad1c22 78.8%,#dd1d25 80.2%,#cb1e26 80.8%,#9b181e 81.8%,#9e191e 82.2%,#d71d25 83.2%,#ec1c24 83.8%,#d81d25 84.5%,#95171c 85.5%,#8a1419 86.2%,#ed1f24 87.8%,#ed2724 88.5%,#e01d25 89.2%,#7c1014 90.5%,#6c0d10 91.2%,#871318 91.8%,#ed1e24 93.2%,#ee3124 93.8%,#ee2b24 94.5%,#de1d25 95.2%,#521012 96.8%,#3e1111 97.5%,#4d1112 98.2%,#b31d23 99.5%,#c71e26)"></i><i style="top:121.71px;height:4.66px;background:linear-gradient(90deg,#98171d,#9f191f 45.2%,#95171c 47.8%,#a81c21 50.5%,#801116 54.8%,#cc1e26 63.2%,#c41e25 67.8%,#ce1e26 70.8%,#bf1d24 72.2%,#cc1e26 73.2%,#b01c23 74.5%,#c91e26 75.8%,#a21a20 77.2%,#d11e26 78.5%,#cf1e26 78.8%,#95171c 80.2%,#9a181d 80.5%,#d31e26 81.5%,#df1d25 82.2%,#d41d25 82.5%,#90161b 83.5%,#831216 84.2%,#8c151a 84.5%,#d31e26 85.5%,#eb1c24 86.2%,#dc1d25 86.8%,#8c141a 87.8%,#600e11 88.5%,#580f12 88.8%,#7d1015 89.5%,#e41d25 90.8%,#ed2424 91.8%,#ed1c24 92.2%,#db1d25 92.5%,#491112 94.2%,#371010 94.8%,#4b1112 95.5%,#bd1d24 96.8%,#e91c24 97.5%,#ee3124 98.5%,#ed2124)"></i><i style="top:125.77px;height:4.66px;background:linear-gradient(90deg,#9b181e,#97171d 45.5%,#a41b20 48.2%,#8a1419 51.5%,#93161b 52.8%,#c01d25 55.8%,#cd1e26 60.2%,#b91d24 64.5%,#b51d23 69.8%,#a81b21 70.8%,#af1c23 71.8%,#9d191e 73.2%,#b21c23 74.2%,#96171c 75.5%,#be1d24 76.8%,#bd1d24 77.2%,#8a1419 78.5%,#8e151a 78.8%,#ca1e26 80.2%,#b61d23 80.8%,#891419 81.5%,#770e12 82.2%,#8d151a 82.8%,#cc1e26 83.8%,#d21e26 84.2%,#bd1d24 84.8%,#561012 86.2%,#4f1012 86.5%,#531012 86.8%,#d21e26 88.5%,#e41d25 89.2%,#d31e26 89.8%,#471112 91.5%,#320f0f 92.2%,#451212 92.8%,#ba1d24 94.2%,#e51c24 94.8%,#ed2324 96.2%,#ec1c24 96.5%,#cb1e26 97.2%,#320f0f 99.2%,#1e0a0a)"></i><i style="top:129.83px;height:4.66px;background:linear-gradient(90deg,#9a181e,#98171d 43.2%,#a21a20 45.8%,#92161b 48.5%,#c81e26 54.2%,#bc1d24 58.2%,#a31a20 61.2%,#8d151a 69.5%,#8a1419 71.8%,#9b181e 72.8%,#871318 74.2%,#a51b20 75.5%,#7d1014 76.8%,#aa1c22 78.5%,#a41b20 78.8%,#630e11 80.2%,#b41d23 82.2%,#9e191f 82.8%,#531012 83.8%,#481112 84.2%,#541012 84.8%,#bb1d24 86.2%,#ce1e26 86.8%,#ba1d24 87.5%,#710c10 88.5%,#4a1112 88.8%,#310f0f 89.5%,#3d1111 90.2%,#c81e26 91.8%,#ea1c24 92.8%,#d41d25 93.8%,#3a1111 95.8%,#180808 96.8%,#300f0f 97.8%,#560f12 98.5%,#780e13 98.8%,#ac1c22)"></i><i style="top:133.89px;height:4.66px;background:linear-gradient(90deg,#98171d,#a11a1f 43.5%,#96171c 45.8%,#b11c23 50.5%,#811116 59.2%,#750e12 65.8%,#831217 71.5%,#760e12 72.8%,#861318 74.2%,#6a0d11 75.5%,#8b1419 76.8%,#7b0f14 77.5%,#551012 78.2%,#531012 78.5%,#99181d 80.2%,#881318 80.8%,#580f12 81.5%,#421212 82.2%,#561012 82.8%,#770e12 83.2%,#a11a1f 83.8%,#b61d23 84.5%,#a51b20 85.2%,#401212 86.5%,#2f0e0e 87.2%,#441212 87.8%,#801116 88.5%,#c51e25 89.5%,#d51d25 90.2%,#b91d24 91.2%,#730d11 92.2%,#381010 92.8%,#180808 93.8%,#361010 94.8%,#a71b21 96.5%,#d01e26 97.5%,#d71d25 98.5%,#c11d25)"></i><i style="top:137.95px;height:4.66px;background:linear-gradient(90deg,#9e191e,#a21a20 41.2%,#97171d 43.8%,#a41a20 46.5%,#5a0f12 54.8%,#4a1112 63.5%,#630e11 70.5%,#560f12 71.5%,#6a0d11 72.5%,#521012 73.8%,#760e12 75.2%,#4d1112 76.5%,#580f12 77.2%,#730d11 77.5%,#851317 78.2%,#7c1014 78.8%,#511012 79.5%,#401212 80.2%,#551012 80.8%,#750e12 81.2%,#9e191f 82.2%,#93161c 82.8%,#710c10 83.5%,#4f1012 83.8%,#3d1111 84.2%,#310f0f 84.8%,#481112 85.5%,#a91c22 86.8%,#bb1d24 87.5%,#af1c23 88.2%,#770e13 89.2%,#3e1111 89.8%,#1e0a0a 90.8%,#391010 91.8%,#811116 92.8%,#b51d23 93.8%,#ca1e26 94.8%,#ad1c22 96.2%,#6f0c10 97.5%,#511012 97.8%,#330f0f 98.5%,#0d0505)"></i><i style="top:142.01px;height:4.66px;background:linear-gradient(90deg,#a81c22,#9e191f 1.2%,#9c181e 8.5%,#a11a1f 39.5%,#98181d 41.5%,#a21a20 44.2%,#6d0c10 47.2%,#5c0f12 47.5%,#391010 49.5%,#2c0e0e 53.8%,#2f0e0e 60.5%,#4a1112 72.2%,#600e11 73.5%,#4a1112 74.8%,#790f13 76.5%,#401212 78.2%,#501012 78.8%,#7a0f14 79.5%,#871318 80.2%,#7a0f14 80.8%,#3e1111 81.8%,#351010 82.5%,#491112 83.2%,#891419 84.2%,#9d191e 85.2%,#7b1014 86.2%,#3b1111 87.2%,#2b0e0e 87.8%,#3d1111 88.8%,#6d0c10 89.5%,#a0191f 90.5%,#b81d24 91.5%,#a81c22 92.5%,#700c10 93.8%,#511012 94.2%,#320f0f 94.8%,#110606 96.2%,#280d0d 97.5%,#590f12 98.8%,#730d11 99.2%,#861317)"></i><i style="top:146.07px;height:4.66px;background:linear-gradient(90deg,#b31d23,#9f191f 1.2%,#9e191f 3.2%,#9a181e 39.5%,#a61b21 42.2%,#9e191f 42.8%,#570f12 45.5%,#150707 54.8%,#280d0d 64.5%,#521012 72.2%,#481112 73.5%,#610e11 74.8%,#431212 76.5%,#720d11 77.8%,#730d11 78.2%,#431212 79.5%,#3b1111 80.2%,#4a1112 80.8%,#730d11 81.5%,#851217 82.5%,#700c10 83.5%,#561012 83.8%,#3d1111 84.5%,#361010 85.2%,#501012 86.2%,#7c1014 86.8%,#96171c 87.5%,#a71b21 88.5%,#9d191e 89.2%,#790f13 90.2%,#4e1012 90.8%,#330f0f 91.5%,#210b0b 92.8%,#411212 94.2%,#760e12 95.2%,#a71b21 96.8%,#b51d23 98.2%,#aa1c22)"></i><i style="top:150.13px;height:4.66px;background:linear-gradient(90deg,#ad1c22,#9f191f 1.2%,#9c191e 14.8%,#9d191e 37.5%,#a71b21 39.8%,#9c191e 40.8%,#640e11 43.5%,#5f0e12 46.2%,#280d0d 52.5%,#120606 56.5%,#1b0909 62.2%,#4c1112 73.2%,#451112 74.5%,#551012 75.8%,#421212 77.8%,#760e12 79.8%,#710c10 80.5%,#401212 81.8%,#3e1111 82.5%,#4e1012 83.2%,#811116 84.2%,#99181d 85.5%,#7a0f14 86.8%,#3d1111 88.2%,#320f0f 89.2%,#431212 90.2%,#740d11 91.2%,#9a181e 92.5%,#aa1c22 93.8%,#91161b 95.8%,#730d11 97.2%,#401212 98.5%,#260d0d)"></i><i style="top:154.20px;height:4.66px;background:linear-gradient(90deg,#9e191f,#a31a20 37.8%,#97171d 39.2%,#5c0f12 41.8%,#6f0c10 47.5%,#280d0d 53.5%,#110606 57.5%,#1e0a0a 63.8%,#511012 73.8%,#461112 75.5%,#700c10 77.5%,#4b1112 78.8%,#421212 79.8%,#501012 80.5%,#7c1014 81.5%,#891419 82.5%,#750d12 83.8%,#4b1112 84.8%,#411212 85.8%,#521012 86.8%,#740d11 87.5%,#8e151a 88.5%,#a01a1f 89.8%,#92161b 91.2%,#740d12 92.5%,#431212 93.8%,#290d0d 95.5%,#2c0e0e 97.2%,#600e11)"></i><i style="top:158.26px;height:4.66px;background:linear-gradient(90deg,#9a181d,#a0191f 36.2%,#98181d 38.2%,#770e12 40.2%,#630e11 44.2%,#730d11 50.2%,#441212 52.5%,#210b0b 55.2%,#110606 59.5%,#1a0909 63.2%,#4e1012 71.8%,#4a1112 73.8%,#5c0f12 75.2%,#491112 77.5%,#531012 78.2%,#700c10 78.8%,#790f13 79.8%,#4e1012 82.5%,#5b0f12 83.5%,#6d0c10 83.8%,#841217 84.8%,#92161b 86.2%,#780f13 88.2%,#421212 90.2%,#3c1111 91.8%,#4a1112 93.2%,#700c10 94.5%,#91161b 96.8%,#a01a1f)"></i><i style="top:162.32px;height:4.66px;background:linear-gradient(90deg,#98181d,#a21a20 36.8%,#801116 38.8%,#801116 43.5%,#670d11 48.2%,#7b0f14 51.8%,#6f0c10 52.8%,#471112 53.8%,#2d0e0e 55.2%,#180808 57.2%,#110606 60.8%,#491112 70.8%,#5d0f12 77.2%,#580f12 79.5%,#710c10 80.5%,#831217 82.5%,#730d11 84.5%,#5a0f12 85.5%,#551012 86.8%,#851317 90.5%,#91161b 93.8%,#700c10 98.2%,#531012)"></i><i style="top:166.38px;height:4.66px;background:linear-gradient(90deg,#95171c,#a21a20 35.5%,#720c11 38.2%,#881318 46.5%,#770e12 53.8%,#270d0d 56.5%,#130707 60.8%,#4b1112 70.2%,#590f12 73.5%,#531012 75.8%,#7a0f13 78.5%,#640e11 81.8%,#93161c 86.5%,#831217 89.2%,#720d11 90.8%,#5a0f12 91.8%,#491112 94.2%,#5e0f12)"></i><i style="top:170.44px;height:4.66px;background:linear-gradient(90deg,#96171c,#a0191f 31.5%,#9d191e 35.5%,#821216 36.8%,#7d1015 38.2%,#861318 51.8%,#730d11 55.5%,#3c1111 56.8%,#220c0c 57.8%,#120606 62.5%,#4a1112 69.2%,#560f12 73.8%,#720d11 75.5%,#630e11 78.2%,#93161c 82.2%,#720d11 85.8%,#590f12 86.8%,#4f1012 88.8%,#590f12 90.8%,#720d11 92.2%,#90161b 95.8%,#9c191e)"></i><i style="top:174.50px;height:4.66px;background:linear-gradient(90deg,#93161c,#9c181e 1.5%,#a01a1f 34.5%,#7f1015 37.2%,#92161b 54.2%,#740d11 56.8%,#421212 57.8%,#250c0c 58.8%,#140707 63.2%,#580f12 70.5%,#580f12 72.5%,#6d0c10 74.2%,#821216 78.8%,#7b0f14 84.5%,#9c181e 93.2%,#801116)"></i><i style="top:178.56px;height:4.66px;background:linear-gradient(90deg,#8d151a,#9d191e 1.5%,#9f191f 33.8%,#780e13 36.2%,#a61b21 56.2%,#8e151a 57.5%,#740d11 58.2%,#451112 58.8%,#2d0e0e 59.5%,#170808 63.5%,#421212 67.2%,#5f0e12 71.2%,#710c10 72.2%,#730d11 75.5%,#95171c 80.2%,#801116 86.2%,#770e13 94.2%,#541012)"></i><i style="top:182.62px;height:4.66px;background:linear-gradient(90deg,#8f151a,#9d191e 1.5%,#a0191f 32.2%,#9c181e 34.2%,#831217 36.2%,#851217 42.5%,#9c181e 52.2%,#c31e25 57.5%,#ae1c22 58.5%,#730d11 59.5%,#511012 59.8%,#340f0f 60.5%,#1a0909 64.2%,#720d11 70.8%,#750d12 73.5%,#90151b 76.8%,#7e1015 83.5%,#94171c 91.5%,#7f1115)"></i><i style="top:186.68px;height:4.66px;background:linear-gradient(90deg,#98181d,#a11a1f 33.2%,#7d1014 34.8%,#7b0f14 35.5%,#a0191f 52.8%,#b91d24 56.5%,#e31d25 58.8%,#ca1e26 59.8%,#6b0d10 61.2%,#411212 61.8%,#2b0e0e 62.8%,#1f0b0b 64.5%,#700c10 69.2%,#9a181d 77.2%,#af1c23 88.2%,#94161c 95.5%,#92161b)"></i><i style="top:190.75px;height:4.66px;background:linear-gradient(90deg,#9b181e,#9d191e 33.2%,#811116 34.8%,#7f1115 37.2%,#a61b21 54.5%,#be1d24 57.8%,#eb1c24 59.5%,#ee2c24 60.5%,#ea1c24 61.2%,#531012 63.5%,#2e0e0e 65.2%,#760e12 68.5%,#9f191f 76.8%,#9f191f 86.2%,#7f1115 93.8%,#841217)"></i><i style="top:194.81px;height:4.66px;background:linear-gradient(90deg,#9a181e,#9c191e 32.5%,#821116 34.5%,#881318 42.8%,#b31d23 56.5%,#c71e26 59.5%,#e41d25 60.5%,#ef4023 61.5%,#f04823 62.2%,#e71c24 63.5%,#8b1419 65.2%,#7d1014 65.8%,#811116 68.8%,#ba1d24 76.2%,#c01d25 83.2%,#8e151a 91.8%,#811116)"></i><i style="top:198.87px;height:4.66px;background:linear-gradient(90deg,#9d191e,#9e191e 32.5%,#821216 34.5%,#871318 42.2%,#ad1c22 56.8%,#c71e26 61.2%,#e51c24 62.2%,#f15622 63.5%,#f25f22 64.2%,#ee2f24 65.8%,#ed2224 66.8%,#e61c24 67.2%,#ae1c23 68.2%,#9b181e 69.2%,#aa1c22 71.5%,#cd1e26 74.2%,#d31e26 75.8%,#c81e26 81.8%,#a61b21 87.8%,#891419)"></i><i style="top:202.93px;height:4.66px;background:linear-gradient(90deg,#9e191f,#a0191f 32.2%,#7f1015 34.5%,#97171d 50.8%,#d21e26 61.8%,#ce1e26 63.2%,#ed1d24 64.2%,#f58420 65.8%,#ffd905 66.8%,#ffdc04 67.2%,#ffc80a 67.5%,#f58220 68.2%,#ef3f23 68.8%,#e41d25 69.5%,#bf1d25 70.5%,#ed1e24 72.5%,#ee2d24 74.2%,#ed1d24 79.2%,#aa1c22 86.5%,#881318)"></i><i style="top:206.99px;height:4.66px;background:linear-gradient(90deg,#9e191f,#a0191f 32.2%,#9c181e 32.8%,#821116 33.8%,#7c1014 35.2%,#851217 41.8%,#b21c23 56.8%,#d01e26 61.8%,#ec1c24 63.5%,#e71c24 65.5%,#ee3324 66.2%,#f15922 66.5%,#ffce08 67.2%,#f8eb21 67.5%,#f8ef52 67.8%,#f9f171 68.2%,#faf38e 68.8%,#faf394 69.5%,#f9f178 70.8%,#fce90d 72.5%,#ffdf03 72.8%,#f9a11a 74.2%,#f25f22 76.2%,#ee3324 78.2%,#ec1c24 79.8%,#d41d25 82.2%,#8e151a 93.5%,#811116)"></i><i style="top:211.05px;height:4.66px;background:linear-gradient(90deg,#9e191f,#a0191f 32.2%,#9c181e 32.8%,#821116 33.8%,#7c1014 35.2%,#851217 41.8%,#b21c23 56.8%,#d01e26 61.8%,#ec1c24 63.5%,#e71c24 65.5%,#ee3324 66.2%,#f15922 66.5%,#ffce08 67.2%,#f8eb21 67.5%,#f8ef52 67.8%,#f9f171 68.2%,#faf38e 68.8%,#faf394 69.5%,#f9f178 70.8%,#fce90d 72.5%,#ffdf03 72.8%,#f9a11a 74.2%,#f25f22 76.2%,#ee3324 78.2%,#ec1c24 79.8%,#d41d25 82.2%,#8e151a 93.5%,#811116)"></i><i style="top:215.11px;height:4.66px;background:linear-gradient(90deg,#9e191f,#a0191f 32.2%,#7f1015 34.5%,#97171d 50.8%,#d21e26 61.8%,#ce1e26 63.2%,#ed1d24 64.2%,#f58420 65.8%,#ffd905 66.8%,#ffdc04 67.2%,#ffc80a 67.5%,#f58220 68.2%,#ef3f23 68.8%,#e41d25 69.5%,#bf1d25 70.5%,#ed1e24 72.5%,#ee2d24 74.2%,#ed1d24 79.2%,#aa1c22 86.5%,#881318)"></i><i style="top:219.17px;height:4.66px;background:linear-gradient(90deg,#9d191e,#9e191e 32.5%,#821216 34.5%,#871318 42.2%,#ad1c22 56.8%,#c71e26 61.2%,#e51c24 62.2%,#f15622 63.5%,#f25f22 64.2%,#ee2f24 65.8%,#ed2224 66.8%,#e61c24 67.2%,#ae1c23 68.2%,#9b181e 69.2%,#aa1c22 71.5%,#cd1e26 74.2%,#d31e26 75.8%,#c81e26 81.8%,#a61b21 87.8%,#891419)"></i><i style="top:223.23px;height:4.66px;background:linear-gradient(90deg,#9a181e,#9c191e 32.5%,#821116 34.5%,#881318 42.8%,#b31d23 56.5%,#c71e26 59.5%,#e41d25 60.5%,#ef4023 61.5%,#f04823 62.2%,#e71c24 63.5%,#8b1419 65.2%,#7d1014 65.8%,#811116 68.8%,#ba1d24 76.2%,#c01d25 83.2%,#8e151a 91.8%,#811116)"></i><i style="top:227.29px;height:4.66px;background:linear-gradient(90deg,#9b181e,#9d191e 33.2%,#811116 34.8%,#7f1115 37.2%,#a61b21 54.5%,#be1d24 57.8%,#eb1c24 59.5%,#ee2c24 60.5%,#ea1c24 61.2%,#531012 63.5%,#2e0e0e 65.2%,#760e12 68.5%,#9f191f 76.8%,#9f191f 86.2%,#7f1115 93.8%,#841217)"></i><i style="top:231.35px;height:4.66px;background:linear-gradient(90deg,#98181d,#a11a1f 33.2%,#7d1014 34.8%,#7b0f14 35.5%,#a0191f 52.8%,#b91d24 56.5%,#e31d25 58.8%,#ca1e26 59.8%,#6b0d10 61.2%,#411212 61.8%,#2b0e0e 62.8%,#1f0b0b 64.5%,#700c10 69.2%,#9a181d 77.2%,#af1c23 88.2%,#94161c 95.5%,#92161b)"></i><i style="top:235.42px;height:4.66px;background:linear-gradient(90deg,#8f151a,#9d191e 1.5%,#a0191f 32.2%,#9c181e 34.2%,#831217 36.2%,#851217 42.5%,#9c181e 52.2%,#c31e25 57.5%,#ae1c22 58.5%,#730d11 59.5%,#511012 59.8%,#340f0f 60.5%,#1a0909 64.2%,#720d11 70.8%,#750d12 73.5%,#90151b 76.8%,#7e1015 83.5%,#94171c 91.5%,#7f1115)"></i><i style="top:239.48px;height:4.66px;background:linear-gradient(90deg,#8d151a,#9d191e 1.5%,#9f191f 33.8%,#780e13 36.2%,#a61b21 56.2%,#8e151a 57.5%,#740d11 58.2%,#451112 58.8%,#2d0e0e 59.5%,#170808 63.5%,#421212 67.2%,#5f0e12 71.2%,#710c10 72.2%,#730d11 75.5%,#95171c 80.2%,#801116 86.2%,#770e13 94.2%,#541012)"></i><i style="top:243.54px;height:4.66px;background:linear-gradient(90deg,#93161c,#9c181e 1.5%,#a01a1f 34.5%,#7f1015 37.2%,#92161b 54.2%,#740d11 56.8%,#421212 57.8%,#250c0c 58.8%,#140707 63.2%,#580f12 70.5%,#580f12 72.5%,#6d0c10 74.2%,#821216 78.8%,#7b0f14 84.5%,#9c181e 93.2%,#801116)"></i><i style="top:247.60px;height:4.66px;background:linear-gradient(90deg,#96171c,#a0191f 31.5%,#9d191e 35.5%,#821216 36.8%,#7d1015 38.2%,#861318 51.8%,#730d11 55.5%,#3c1111 56.8%,#220c0c 57.8%,#120606 62.5%,#4a1112 69.2%,#560f12 73.8%,#720d11 75.5%,#630e11 78.2%,#93161c 82.2%,#720d11 85.8%,#590f12 86.8%,#4f1012 88.8%,#590f12 90.8%,#720d11 92.2%,#90161b 95.8%,#9c191e)"></i><i style="top:251.66px;height:4.66px;background:linear-gradient(90deg,#95171c,#a21a20 35.5%,#720c11 38.2%,#881318 46.5%,#770e12 53.8%,#270d0d 56.5%,#130707 60.8%,#4b1112 70.2%,#590f12 73.5%,#531012 75.8%,#7a0f13 78.5%,#640e11 81.8%,#93161c 86.5%,#831217 89.2%,#720d11 90.8%,#5a0f12 91.8%,#491112 94.2%,#5e0f12)"></i><i style="top:255.72px;height:4.66px;background:linear-gradient(90deg,#98181d,#a21a20 36.8%,#801116 38.8%,#801116 43.5%,#670d11 48.2%,#7b0f14 51.8%,#6f0c10 52.8%,#471112 53.8%,#2d0e0e 55.2%,#180808 57.2%,#110606 60.8%,#491112 70.8%,#5d0f12 77.2%,#580f12 79.5%,#710c10 80.5%,#831217 82.5%,#730d11 84.5%,#5a0f12 85.5%,#551012 86.8%,#851317 90.5%,#91161b 93.8%,#700c10 98.2%,#531012)"></i><i style="top:259.78px;height:4.66px;background:linear-gradient(90deg,#9a181d,#a0191f 36.2%,#98181d 38.2%,#770e12 40.2%,#630e11 44.2%,#730d11 50.2%,#441212 52.5%,#210b0b 55.2%,#110606 59.5%,#1a0909 63.2%,#4e1012 71.8%,#4a1112 73.8%,#5c0f12 75.2%,#491112 77.5%,#531012 78.2%,#700c10 78.8%,#790f13 79.8%,#4e1012 82.5%,#5b0f12 83.5%,#6d0c10 83.8%,#841217 84.8%,#92161b 86.2%,#780f13 88.2%,#421212 90.2%,#3c1111 91.8%,#4a1112 93.2%,#700c10 94.5%,#91161b 96.8%,#a01a1f)"></i><i style="top:263.84px;height:4.66px;background:linear-gradient(90deg,#9e191f,#a31a20 37.8%,#97171d 39.2%,#5c0f12 41.8%,#6f0c10 47.5%,#280d0d 53.5%,#110606 57.5%,#1e0a0a 63.8%,#511012 73.8%,#461112 75.5%,#700c10 77.5%,#4b1112 78.8%,#421212 79.8%,#501012 80.5%,#7c1014 81.5%,#891419 82.5%,#750d12 83.8%,#4b1112 84.8%,#411212 85.8%,#521012 86.8%,#740d11 87.5%,#8e151a 88.5%,#a01a1f 89.8%,#92161b 91.2%,#740d12 92.5%,#431212 93.8%,#290d0d 95.5%,#2c0e0e 97.2%,#600e11)"></i><i style="top:267.90px;height:4.66px;background:linear-gradient(90deg,#ad1c22,#9f191f 1.2%,#9c191e 14.8%,#9d191e 37.5%,#a71b21 39.8%,#9c191e 40.8%,#640e11 43.5%,#5f0e12 46.2%,#280d0d 52.5%,#120606 56.5%,#1b0909 62.2%,#4c1112 73.2%,#451112 74.5%,#551012 75.8%,#421212 77.8%,#760e12 79.8%,#710c10 80.5%,#401212 81.8%,#3e1111 82.5%,#4e1012 83.2%,#811116 84.2%,#99181d 85.5%,#7a0f14 86.8%,#3d1111 88.2%,#320f0f 89.2%,#431212 90.2%,#740d11 91.2%,#9a181e 92.5%,#aa1c22 93.8%,#91161b 95.8%,#730d11 97.2%,#401212 98.5%,#260d0d)"></i><i style="top:271.96px;height:4.66px;background:linear-gradient(90deg,#b31d23,#9f191f 1.2%,#9e191f 3.2%,#9a181e 39.5%,#a61b21 42.2%,#9e191f 42.8%,#570f12 45.5%,#150707 54.8%,#280d0d 64.5%,#521012 72.2%,#481112 73.5%,#610e11 74.8%,#431212 76.5%,#720d11 77.8%,#730d11 78.2%,#431212 79.5%,#3b1111 80.2%,#4a1112 80.8%,#730d11 81.5%,#851217 82.5%,#700c10 83.5%,#561012 83.8%,#3d1111 84.5%,#361010 85.2%,#501012 86.2%,#7c1014 86.8%,#96171c 87.5%,#a71b21 88.5%,#9d191e 89.2%,#790f13 90.2%,#4e1012 90.8%,#330f0f 91.5%,#210b0b 92.8%,#411212 94.2%,#760e12 95.2%,#a71b21 96.8%,#b51d23 98.2%,#aa1c22)"></i><i style="top:276.03px;height:4.66px;background:linear-gradient(90deg,#a81c22,#9e191f 1.2%,#9c181e 8.5%,#a11a1f 39.5%,#98181d 41.5%,#a21a20 44.2%,#6d0c10 47.2%,#5c0f12 47.5%,#391010 49.5%,#2c0e0e 53.8%,#2f0e0e 60.5%,#4a1112 72.2%,#600e11 73.5%,#4a1112 74.8%,#790f13 76.5%,#401212 78.2%,#501012 78.8%,#7a0f14 79.5%,#871318 80.2%,#7a0f14 80.8%,#3e1111 81.8%,#351010 82.5%,#491112 83.2%,#891419 84.2%,#9d191e 85.2%,#7b1014 86.2%,#3b1111 87.2%,#2b0e0e 87.8%,#3d1111 88.8%,#6d0c10 89.5%,#a0191f 90.5%,#b81d24 91.5%,#a81c22 92.5%,#700c10 93.8%,#511012 94.2%,#320f0f 94.8%,#110606 96.2%,#280d0d 97.5%,#590f12 98.8%,#730d11 99.2%,#861317)"></i><i style="top:280.09px;height:4.66px;background:linear-gradient(90deg,#9e191e,#a21a20 41.2%,#97171d 43.8%,#a41a20 46.5%,#5a0f12 54.8%,#4a1112 63.5%,#630e11 70.5%,#560f12 71.5%,#6a0d11 72.5%,#521012 73.8%,#760e12 75.2%,#4d1112 76.5%,#580f12 77.2%,#730d11 77.5%,#851317 78.2%,#7c1014 78.8%,#511012 79.5%,#401212 80.2%,#551012 80.8%,#750e12 81.2%,#9e191f 82.2%,#93161c 82.8%,#710c10 83.5%,#4f1012 83.8%,#3d1111 84.2%,#310f0f 84.8%,#481112 85.5%,#a91c22 86.8%,#bb1d24 87.5%,#af1c23 88.2%,#770e13 89.2%,#3e1111 89.8%,#1e0a0a 90.8%,#391010 91.8%,#811116 92.8%,#b51d23 93.8%,#ca1e26 94.8%,#ad1c22 96.2%,#6f0c10 97.5%,#511012 97.8%,#330f0f 98.5%,#0d0505)"></i><i style="top:284.15px;height:4.66px;background:linear-gradient(90deg,#98171d,#a11a1f 43.5%,#96171c 45.8%,#b11c23 50.5%,#811116 59.2%,#750e12 65.8%,#831217 71.5%,#760e12 72.8%,#861318 74.2%,#6a0d11 75.5%,#8b1419 76.8%,#7b0f14 77.5%,#551012 78.2%,#531012 78.5%,#99181d 80.2%,#881318 80.8%,#580f12 81.5%,#421212 82.2%,#561012 82.8%,#770e12 83.2%,#a11a1f 83.8%,#b61d23 84.5%,#a51b20 85.2%,#401212 86.5%,#2f0e0e 87.2%,#441212 87.8%,#801116 88.5%,#c51e25 89.5%,#d51d25 90.2%,#b91d24 91.2%,#730d11 92.2%,#381010 92.8%,#180808 93.8%,#361010 94.8%,#a71b21 96.5%,#d01e26 97.5%,#d71d25 98.5%,#c11d25)"></i><i style="top:288.21px;height:4.66px;background:linear-gradient(90deg,#9a181e,#98171d 43.2%,#a21a20 45.8%,#92161b 48.5%,#c81e26 54.2%,#bc1d24 58.2%,#a31a20 61.2%,#8d151a 69.5%,#8a1419 71.8%,#9b181e 72.8%,#871318 74.2%,#a51b20 75.5%,#7d1014 76.8%,#aa1c22 78.5%,#a41b20 78.8%,#630e11 80.2%,#b41d23 82.2%,#9e191f 82.8%,#531012 83.8%,#481112 84.2%,#541012 84.8%,#bb1d24 86.2%,#ce1e26 86.8%,#ba1d24 87.5%,#710c10 88.5%,#4a1112 88.8%,#310f0f 89.5%,#3d1111 90.2%,#c81e26 91.8%,#ea1c24 92.8%,#d41d25 93.8%,#3a1111 95.8%,#180808 96.8%,#300f0f 97.8%,#560f12 98.5%,#780e13 98.8%,#ac1c22)"></i><i style="top:292.27px;height:4.66px;background:linear-gradient(90deg,#9b181e,#97171d 45.5%,#a41b20 48.2%,#8a1419 51.5%,#93161b 52.8%,#c01d25 55.8%,#cd1e26 60.2%,#b91d24 64.5%,#b51d23 69.8%,#a81b21 70.8%,#af1c23 71.8%,#9d191e 73.2%,#b21c23 74.2%,#96171c 75.5%,#be1d24 76.8%,#bd1d24 77.2%,#8a1419 78.5%,#8e151a 78.8%,#ca1e26 80.2%,#b61d23 80.8%,#891419 81.5%,#770e12 82.2%,#8d151a 82.8%,#cc1e26 83.8%,#d21e26 84.2%,#bd1d24 84.8%,#561012 86.2%,#4f1012 86.5%,#531012 86.8%,#d21e26 88.5%,#e41d25 89.2%,#d31e26 89.8%,#471112 91.5%,#320f0f 92.2%,#451212 92.8%,#ba1d24 94.2%,#e51c24 94.8%,#ed2324 96.2%,#ec1c24 96.5%,#cb1e26 97.2%,#320f0f 99.2%,#1e0a0a)"></i><i style="top:296.33px;height:4.66px;background:linear-gradient(90deg,#98171d,#9f191f 45.2%,#95171c 47.8%,#a81c21 50.5%,#801116 54.8%,#cc1e26 63.2%,#c41e25 67.8%,#ce1e26 70.8%,#bf1d24 72.2%,#cc1e26 73.2%,#b01c23 74.5%,#c91e26 75.8%,#a21a20 77.2%,#d11e26 78.5%,#cf1e26 78.8%,#95171c 80.2%,#9a181d 80.5%,#d31e26 81.5%,#df1d25 82.2%,#d41d25 82.5%,#90161b 83.5%,#831216 84.2%,#8c151a 84.5%,#d31e26 85.5%,#eb1c24 86.2%,#dc1d25 86.8%,#8c141a 87.8%,#600e11 88.5%,#580f12 88.8%,#7d1015 89.5%,#e41d25 90.8%,#ed2424 91.8%,#ed1c24 92.2%,#db1d25 92.5%,#491112 94.2%,#371010 94.8%,#4b1112 95.5%,#bd1d24 96.8%,#e91c24 97.5%,#ee3124 98.5%,#ed2124)"></i><i style="top:300.39px;height:4.66px;background:linear-gradient(90deg,#a31a20,#98181d 45.2%,#a11a20 47.5%,#92161b 50.2%,#ac1c22 53.2%,#7b0f14 58.2%,#bf1d25 66.2%,#c21d25 70.8%,#d11e26 72.2%,#c41e25 73.2%,#d71d25 74.5%,#bb1d24 75.8%,#d81d25 77.2%,#ab1c22 78.5%,#ad1c22 78.8%,#dd1d25 80.2%,#cb1e26 80.8%,#9b181e 81.8%,#9e191e 82.2%,#d71d25 83.2%,#ec1c24 83.8%,#d81d25 84.5%,#95171c 85.5%,#8a1419 86.2%,#ed1f24 87.8%,#ed2724 88.5%,#e01d25 89.2%,#7c1014 90.5%,#6c0d10 91.2%,#871318 91.8%,#ed1e24 93.2%,#ee3124 93.8%,#ee2b24 94.5%,#de1d25 95.2%,#521012 96.8%,#3e1111 97.5%,#4d1112 98.2%,#b31d23 99.5%,#c71e26)"></i><i style="top:304.45px;height:4.66px;background:linear-gradient(90deg,#a61b21,#9d191e 1.5%,#97171d 47.2%,#a51b21 49.8%,#8e151a 52.5%,#b51d23 56.5%,#861317 60.2%,#7e1015 63.2%,#891419 65.8%,#ac1c22 69.2%,#ae1c23 72.2%,#c11d25 73.2%,#b51d23 74.5%,#d51d25 75.8%,#b71d24 77.2%,#dd1d25 78.5%,#d31e26 79.2%,#ac1c22 80.2%,#e31d25 81.8%,#d31e26 82.5%,#9e191f 83.5%,#9b181e 83.8%,#a41b20 84.2%,#df1d25 85.2%,#ed1e24 85.8%,#da1d25 86.5%,#99181d 87.5%,#8c151a 88.2%,#aa1c22 88.8%,#ed1d24 89.8%,#ee2924 90.8%,#e01d25 91.5%,#811116 92.8%,#740d12 93.5%,#8b1419 94.2%,#eb1c24 95.5%,#ee2f24 96.2%,#ee3024 96.8%,#ed1f24 97.5%,#e11d25 97.8%,#511012 99.8%,#511012)"></i><i style="top:308.51px;height:4.66px;background:linear-gradient(90deg,#98171d,#9f191f 47.2%,#95171c 49.5%,#a81c21 51.8%,#8b1419 55.2%,#ba1d24 59.5%,#7c1014 67.2%,#9a181e 72.2%,#95171c 73.5%,#a71b21 74.5%,#9a181d 75.8%,#bf1d25 77.2%,#a41b20 78.8%,#d81d25 80.2%,#a01a1f 81.8%,#a61b21 82.2%,#e41d25 83.5%,#da1d25 84.2%,#9d191e 85.2%,#95171c 85.8%,#e11d25 87.2%,#ed2024 87.8%,#eb1c24 88.2%,#98171d 89.5%,#851217 90.2%,#9b181e 90.8%,#e11d25 91.8%,#ed2024 92.2%,#ee2c24 92.8%,#e21d25 93.8%,#851217 95.2%,#750e12 95.8%,#861318 96.5%,#cd1e26 97.5%,#ed1e24 98.2%,#ee3124 99.2%,#ee2e24)"></i><i style="top:312.57px;height:4.66px;background:linear-gradient(90deg,#93161b,#9c181e 1.5%,#99181d 47.2%,#a11a20 49.2%,#92161b 51.5%,#ab1c22 54.2%,#881318 58.2%,#b91d24 62.5%,#aa1c22 66.2%,#821216 70.8%,#841217 74.8%,#93161c 76.2%,#841217 77.5%,#a21a20 78.8%,#861318 80.2%,#c11d25 81.8%,#be1d24 82.2%,#92161b 83.2%,#8f151b 83.8%,#c91e26 84.8%,#dc1d25 85.5%,#ca1e26 86.2%,#9c191e 86.8%,#851217 87.5%,#97171d 88.2%,#dc1d25 89.2%,#ed1e24 89.8%,#de1d25 90.5%,#95171c 91.5%,#790f13 92.2%,#831217 92.8%,#cb1e26 93.8%,#ed2024 94.5%,#ee2e24 95.2%,#e61c24 96.2%,#841217 97.5%,#6b0d10 98.2%,#780e13 98.8%,#a71b21)"></i><i style="top:316.64px;height:4.66px;background:linear-gradient(90deg,#99181d,#97171d 49.2%,#a51b21 51.5%,#8e151a 53.8%,#ad1c22 56.8%,#851217 61.2%,#b11c23 65.2%,#bc1d24 68.8%,#8c1419 74.2%,#94161c 75.2%,#851217 76.5%,#94161c 77.8%,#7d1014 79.2%,#94171c 80.5%,#760e12 81.8%,#a61b21 83.8%,#811116 84.8%,#780e13 85.5%,#8d151a 86.2%,#c71e25 87.2%,#cb1e26 87.5%,#c51e25 87.8%,#8b1419 88.8%,#760e12 89.5%,#831217 90.2%,#da1d25 91.5%,#e51c24 92.2%,#cd1e26 92.8%,#821216 93.8%,#620e11 94.5%,#650e11 94.8%,#881318 95.5%,#ec1c24 96.8%,#ee2d24 97.8%,#eb1c24 98.5%,#a41a20 99.5%,#90151b)"></i><i style="top:320.70px;height:4.66px;background:linear-gradient(90deg,#9b181e,#9f191f 48.8%,#94171c 51.2%,#a81c21 53.5%,#8d151a 56.2%,#af1c23 60.2%,#861318 63.8%,#c51e25 72.2%,#b71d24 73.2%,#bf1d25 74.2%,#a41b20 75.5%,#ad1c22 76.8%,#94161c 77.8%,#ab1c22 79.2%,#851217 80.8%,#a31a20 82.2%,#740d11 83.8%,#9f191f 85.5%,#9d191e 85.8%,#600e11 87.5%,#b21c23 89.2%,#b91d24 89.5%,#a91c22 90.2%,#5d0f12 91.5%,#580f12 91.8%,#c01d25 93.5%,#d91d25 94.2%,#d01e26 94.8%,#590f12 96.5%,#4c1112 97.2%,#551012 97.5%,#d61d25 99.2%,#ed2124)"></i><i style="top:324.76px;height:4.66px;background:linear-gradient(90deg,#9d191e,#98181d 48.8%,#a21a20 51.2%,#92161b 53.2%,#ab1c22 55.8%,#8c151a 58.8%,#b31d23 62.8%,#8f151a 66.2%,#891419 67.8%,#9d191e 71.8%,#b51d23 73.2%,#b21c23 74.2%,#ca1e26 75.5%,#b21d23 76.8%,#c81e26 77.8%,#a41a20 79.5%,#c51e25 80.8%,#96171c 82.2%,#95171c 82.5%,#c21d25 83.8%,#b11c23 84.5%,#8c151a 85.2%,#7f1015 85.8%,#b31d23 87.5%,#a01a1f 88.2%,#5c0f12 89.5%,#620e11 89.8%,#aa1c22 91.2%,#b71d24 91.8%,#9f191f 92.5%,#5c0f12 93.5%,#4d1112 94.2%,#551012 94.5%,#c81e26 96.2%,#d31e26 96.8%,#bd1d24 97.5%,#451112 99.2%,#381010)"></i><i style="top:328.82px;height:4.66px;background:linear-gradient(90deg,#a41b20,#97171d 50.8%,#a51b21 53.2%,#8e151a 55.5%,#ab1c22 58.2%,#8c1419 62.2%,#b41d23 65.8%,#93161c 69.8%,#881318 73.2%,#95171c 75.5%,#b61d23 76.8%,#a91c22 78.2%,#cb1e26 79.5%,#a61b21 80.8%,#d01e26 82.2%,#d01e26 82.5%,#a71b21 83.5%,#9f191f 84.2%,#ce1e26 85.2%,#d61d25 85.8%,#8d151a 87.5%,#9c191e 88.2%,#ce1e26 89.2%,#cd1e26 89.8%,#7d1015 91.2%,#720d11 91.8%,#871318 92.5%,#c01d25 93.5%,#c71e25 94.2%,#a81b21 94.8%,#600e11 95.8%,#4b1112 96.5%,#501012 96.8%,#d11e26 98.8%,#d51d25)"></i><i style="top:332.88px;height:4.66px;background:linear-gradient(90deg,#9a181e,#a0191f 50.8%,#94171c 52.8%,#a81c21 55.2%,#8d151a 57.8%,#ab1c22 60.8%,#8a1419 64.8%,#af1c23 67.8%,#b41d23 69.5%,#841217 76.8%,#97171d 78.2%,#8e151a 79.5%,#b81d24 80.8%,#9b181e 82.5%,#cc1e26 83.8%,#cb1e26 84.2%,#a11a20 85.2%,#9b181e 85.8%,#ce1e26 86.8%,#dd1d25 87.5%,#ca1e26 88.2%,#a21a20 88.8%,#94171c 89.5%,#d81d25 90.8%,#e71c24 91.5%,#d41d25 92.2%,#811116 93.5%,#811116 94.2%,#cf1e26 95.5%,#e01d25 96.2%,#d01e26 96.8%,#580f12 98.5%,#521012 99.2%,#710c10)"></i><i style="top:336.94px;height:4.66px;background:linear-gradient(90deg,#98171d,#98171d 50.8%,#a21a20 52.8%,#92161b 55.2%,#aa1c22 57.5%,#8f151a 60.2%,#ad1c22 63.8%,#8a1419 67.5%,#ac1c22 70.8%,#b61d24 74.8%,#a01a1f 76.2%,#a61b21 77.2%,#891419 78.5%,#92161b 79.8%,#811116 81.2%,#a01a1f 82.5%,#881318 84.2%,#b11c23 85.2%,#bb1d24 85.8%,#94161c 86.8%,#8b1419 87.5%,#d41d25 89.2%,#ca1e26 89.8%,#8d151a 91.2%,#9d191e 91.8%,#de1d25 92.8%,#ed1e24 93.5%,#de1d25 94.2%,#9a181e 95.2%,#831217 95.8%,#92161b 96.5%,#d61d25 97.5%,#ed2024 98.2%,#ed1e24 98.8%,#c31d25)"></i><i style="top:341.00px;height:4.66px;background:linear-gradient(90deg,#9e191f,#9f191f 50.8%,#96171c 52.8%,#a51b21 54.8%,#90151b 57.2%,#ab1c22 59.8%,#8f151b 63.2%,#b11c23 66.5%,#8c141a 70.5%,#a81b21 73.8%,#a81b21 75.2%,#bb1d24 76.2%,#ae1c22 77.5%,#c11d25 78.5%,#a0191f 79.8%,#ac1c22 81.2%,#841217 82.8%,#9d191e 84.2%,#7c1014 85.8%,#ac1c22 87.5%,#7b0f14 89.2%,#891419 89.8%,#bd1d24 90.8%,#c41e25 91.2%,#b41d23 91.8%,#831216 92.8%,#821116 93.5%,#d31e26 94.8%,#e91c24 95.5%,#dd1d25 96.2%,#8b1419 97.5%,#811116 98.2%,#9b181e 98.8%,#cb1e26 99.5%,#db1d25)"></i><i style="top:345.06px;height:4.66px;background:linear-gradient(90deg,#99181d,#a01a1f 52.8%,#94171c 54.8%,#a81b21 56.8%,#8f151b 59.5%,#aa1c22 62.2%,#8e151a 65.8%,#b31d23 69.2%,#8e151a 74.2%,#92161b 76.2%,#a81c21 77.5%,#a31a20 78.8%,#c41e25 80.2%,#aa1c22 81.5%,#c91e26 82.8%,#97171d 84.2%,#99181d 84.8%,#b21c23 85.8%,#7f1015 87.5%,#881318 88.2%,#ac1c22 89.2%,#ab1c22 89.5%,#730d11 91.2%,#811116 91.8%,#b61d23 93.2%,#a61b21 93.8%,#6d0c10 95.2%,#790f13 95.8%,#cc1e26 97.2%,#d91d25 97.8%,#c61e25 98.5%,#871318 99.5%,#7b0f14)"></i><i style="top:349.12px;height:4.66px;background:linear-gradient(90deg,#9e191f,#98171d 52.5%,#a21a20 54.8%,#91161b 56.8%,#a91c22 59.2%,#90151b 61.8%,#aa1c22 64.8%,#8d151a 68.5%,#b51d23 72.2%,#97171d 75.5%,#8c141a 77.8%,#98181d 78.8%,#8d151a 80.2%,#ae1c23 81.5%,#9d191e 82.8%,#cd1e26 84.2%,#ce1e26 84.5%,#a11a1f 85.8%,#aa1c22 86.5%,#c51e25 87.2%,#c91e26 87.8%,#97171d 88.8%,#881318 89.5%,#be1d24 91.2%,#760e12 93.2%,#811116 93.8%,#b11c23 94.8%,#b71d24 95.5%,#570f12 97.5%,#5a0f12 97.8%,#c01d25 99.5%,#cc1e26)"></i><i style="top:353.19px;height:4.66px;background:linear-gradient(90deg,#9b181e,#9f191f 52.5%,#96171c 54.8%,#a51b21 56.8%,#90161b 58.8%,#aa1c22 61.2%,#91161b 64.2%,#ad1c22 67.8%,#8e151a 71.5%,#b71d24 75.5%,#a61b21 76.8%,#ae1c22 77.8%,#95171c 79.2%,#9e191f 80.5%,#861318 81.8%,#9b181e 83.2%,#891419 84.5%,#bc1d24 85.8%,#be1d24 86.2%,#9f191f 87.2%,#9d191e 87.8%,#d41d25 89.2%,#cc1e26 89.8%,#91161b 91.2%,#d21e26 93.2%,#cc1e26 93.5%,#94171c 94.5%,#7e1015 95.2%,#881418 95.8%,#bf1d25 96.8%,#cc1e26 97.5%,#b41d23 98.2%,#5c0f12 99.5%,#511012)"></i><i style="top:357.25px;height:4.66px;background:linear-gradient(90deg,#99181d,#98181d 52.5%,#a11a1f 54.5%,#94171c 56.8%,#a71b21 58.8%,#90151b 61.2%,#a91c22 63.5%,#91161b 67.2%,#b01c23 70.5%,#8e151a 73.8%,#93161c 75.5%,#ac1c22 76.8%,#a61b21 78.2%,#b91d24 79.2%,#a21a20 80.5%,#b51d23 81.8%,#90161b 83.2%,#9d191e 84.8%,#7f1115 86.2%,#a61b21 87.8%,#8c1419 88.8%,#8a1419 89.5%,#ca1e26 90.8%,#ce1e26 91.2%,#ca1e26 91.5%,#9b181e 92.5%,#90151b 93.2%,#cf1e26 94.5%,#db1d25 95.2%,#c61e25 95.8%,#8b1419 96.8%,#841217 97.2%,#90151b 97.8%,#d91d25 99.2%,#e51c24)"></i><i style="top:361.31px;height:4.66px;background:linear-gradient(90deg,#9f191f,#98171d 54.5%,#a21a20 56.5%,#93161c 58.8%,#a81c21 60.8%,#90151b 63.2%,#aa1c22 66.2%,#91161b 69.8%,#b21c23 73.8%,#8d151a 77.2%,#9a181d 78.2%,#97171d 79.5%,#af1c23 80.5%,#a01a1f 81.8%,#c01d25 83.5%,#9d191e 84.8%,#b41d23 85.8%,#b41d23 86.5%,#831217 87.8%,#a11a1f 89.5%,#7a0f14 91.2%,#ba1d24 92.8%,#bb1d24 93.2%,#891419 94.5%,#861318 95.2%,#cd1e26 96.5%,#d91d25 97.2%,#c51e25 97.8%,#8b1419 98.8%,#821116)"></i><i style="top:365.37px;height:4.66px;background:linear-gradient(90deg,#99181d,#a0191f 54.5%,#96171d 56.5%,#a41b20 58.5%,#93161b 60.8%,#a91c22 63.2%,#91161b 65.8%,#ab1c22 69.2%,#90161b 72.2%,#9a181d 73.8%,#b21c23 75.2%,#b01c23 77.2%,#97171d 78.5%,#9b181e 79.5%,#8c141a 80.8%,#a21a20 82.2%,#94161c 83.5%,#ba1d24 84.8%,#a11a1f 86.5%,#cc1e26 87.8%,#92161b 89.5%,#b31d23 91.2%,#831217 92.5%,#780e13 93.2%,#a71b21 94.5%,#ae1c22 95.2%,#770e12 96.8%,#841217 97.5%,#cc1e26 98.8%,#cb1e26)"></i><i style="top:369.43px;height:4.66px;background:linear-gradient(90deg,#9b181e,#98181d 54.2%,#a11a1f 56.2%,#95171c 58.2%,#a61b21 60.5%,#92161b 62.8%,#aa1c22 65.2%,#93161b 68.2%,#ac1c22 72.2%,#8f151a 75.2%,#9e191f 77.2%,#b81d24 78.5%,#a41a20 79.8%,#ab1c22 81.2%,#92161b 82.2%,#9e191f 83.8%,#881418 84.8%,#a81c21 86.5%,#90161b 87.8%,#ca1e26 89.5%,#c91e26 89.8%,#a21a20 90.8%,#9c181e 91.5%,#c21d25 92.5%,#cb1e26 93.2%,#811116 94.8%,#851317 95.5%,#b51d23 96.8%,#a71b21 97.5%,#710c10 98.8%,#7b0f14)"></i><i style="top:373.49px;height:4.66px;background:linear-gradient(90deg,#9c181e,#9f191f 54.5%,#97171d 56.2%,#a21a20 58.2%,#94171c 60.2%,#a71b21 62.8%,#91161b 64.8%,#aa1c22 67.8%,#94171c 71.2%,#ac1c22 73.5%,#aa1c22 75.5%,#93161b 76.8%,#8f151a 78.5%,#a81c22 79.8%,#a21a20 81.2%,#ba1d24 82.5%,#9b181e 83.8%,#ae1c22 85.2%,#8a1419 86.5%,#a11a20 88.2%,#831217 89.5%,#90151b 90.2%,#b81d24 91.2%,#95171c 93.2%,#d71d25 94.8%,#c91e26 95.5%,#8a1419 96.8%,#94161c 97.5%,#c81e26 98.8%,#b51d23)"></i><i style="top:377.55px;height:4.66px;background:linear-gradient(90deg,#9b181e,#a01a1f 56.2%,#96171c 58.2%,#a41a20 60.5%,#92161b 62.5%,#a81b21 64.8%,#91161b 67.2%,#a91c22 70.5%,#92161b 73.5%,#b41d23 76.8%,#8e151a 80.2%,#98181d 81.2%,#93161c 82.5%,#b41d23 83.8%,#a11a1f 85.5%,#bc1d24 86.8%,#94161c 88.2%,#ad1c22 89.8%,#8a1419 90.8%,#7f1115 91.5%,#a81c22 93.2%,#841217 94.8%,#8a1419 95.2%,#c11d25 96.2%,#d21e26 96.8%,#8c151a 98.8%,#a41b20)"></i><i style="top:381.61px;height:4.66px;background:linear-gradient(90deg,#9e191f,#97171d 56.2%,#a11a20 58.2%,#95171c 60.2%,#a51b21 62.5%,#93161b 64.8%,#a91c22 66.8%,#94161c 69.5%,#a91c22 73.5%,#91161b 76.5%,#b71d24 80.2%,#9a181e 81.5%,#9d191e 82.8%,#8b1419 84.2%,#a61b21 85.5%,#95171c 86.8%,#bd1d24 88.2%,#99181d 89.8%,#c11d25 91.5%,#861317 93.2%,#a91c22 94.8%,#801116 96.2%,#790f13 96.8%,#bf1d25 98.5%,#be1d24 99.2%,#a91c22)"></i><i style="top:385.67px;height:4.66px;background:linear-gradient(90deg,#98171d,#a0191f 56.2%,#97171d 58.2%,#a21a20 60.2%,#95171c 62.5%,#a71b21 64.5%,#94161c 66.5%,#aa1c22 69.2%,#94171c 72.2%,#ad1c22 75.2%,#91161b 78.5%,#95171c 80.2%,#b51d23 81.8%,#a41b20 82.8%,#b11c23 84.2%,#8f151b 85.5%,#9f191f 87.2%,#8a1419 88.2%,#b11c23 89.8%,#94161c 91.5%,#cb1e26 93.2%,#92161b 94.8%,#ba1d24 96.8%,#780f13 98.5%,#8e151a)"></i><i style="top:389.73px;height:4.66px;background:linear-gradient(90deg,#9f191f,#98171d 56.5%,#a01a1f 58.2%,#97171d 60.2%,#a31a20 62.2%,#95171c 64.2%,#a81c21 66.5%,#92161b 68.8%,#a91c22 71.8%,#93161c 74.8%,#b21c23 78.2%,#8d151a 81.8%,#a41a20 83.2%,#a01a1f 84.5%,#bb1d24 85.8%,#98181d 87.2%,#ab1c22 88.5%,#871318 90.2%,#a71b21 91.5%,#871318 93.2%,#c31e25 94.8%,#94161c 96.8%,#ce1e26 98.5%,#a71b21)"></i><i style="top:393.80px;height:4.66px;background:linear-gradient(90deg,#9a181e,#98181d 58.2%,#a11a1f 60.2%,#97171d 61.8%,#a51b21 64.2%,#93161c 66.2%,#a71b21 68.5%,#94161c 71.2%,#a81c21 73.5%,#94161c 78.2%,#ab1c22 79.5%,#a61b21 80.8%,#b01c23 81.8%,#92161b 83.2%,#99181d 84.5%,#8f151a 85.5%,#b51d23 87.2%,#9e191e 88.8%,#ba1d24 90.2%,#90161b 91.5%,#91161b 92.2%,#ab1c22 93.2%,#811116 94.8%,#891419 95.5%,#b51d23 96.8%,#8b1419 98.5%,#ba1d24)"></i><i style="top:397.86px;height:4.66px;background:linear-gradient(90deg,#9c191e,#98181d 59.8%,#a21a20 62.2%,#95171c 64.2%,#a51b21 66.2%,#94161c 68.5%,#aa1c22 70.8%,#94171c 73.5%,#ad1c22 76.5%,#90161b 79.8%,#9e191e 82.2%,#b81d24 83.5%,#9c191e 84.8%,#a41a20 85.8%,#8a1419 87.5%,#a71b21 88.8%,#94171c 90.2%,#bf1d25 91.8%,#97171d 93.2%,#b81d24 95.2%,#811116 96.8%,#ab1c22 98.5%,#8b1419)"></i><i style="top:401.92px;height:4.66px;background:linear-gradient(90deg,#9a181d,#a01a1f 59.8%,#97171d 61.8%,#a31a20 64.2%,#95171c 66.2%,#a81c21 68.2%,#94161c 70.5%,#a91c22 73.5%,#94171c 76.5%,#af1c23 79.8%,#98181d 81.2%,#8f151b 83.2%,#af1c23 84.8%,#a21a20 86.2%,#b51d23 87.5%,#8f151a 88.8%,#a11a1f 90.5%,#891419 91.8%,#b71d24 93.5%,#94161c 95.2%,#c61e25 96.8%,#8a1419 98.5%,#a01a1f)"></i><i style="top:405.98px;height:4.66px;background:linear-gradient(90deg,#9d191e,#98171d 59.8%,#a11a1f 61.8%,#97171d 64.2%,#a51b21 65.8%,#95171c 68.2%,#a71b21 70.5%,#94161c 72.8%,#a91c22 75.2%,#94161c 78.2%,#99181d 80.2%,#b11c23 81.5%,#a31a20 82.5%,#a61b21 83.8%,#8c141a 85.2%,#9e191e 86.2%,#97171d 87.5%,#bd1d24 89.2%,#97171d 90.5%,#a91c22 92.2%,#851317 93.5%,#ae1c22 95.2%,#8a1419 96.8%,#be1d24 98.2%,#c81e26 98.8%,#a61b21)"></i><i style="top:410.04px;height:12.66px;background:linear-gradient(90deg,#9b181e,#a11a1f 63.8%,#98181d 65.5%,#a31a20 68.2%,#96171c 70.2%,#a71b21 72.2%,#97171d 74.8%,#a91c22 78.2%,#94171c 81.2%,#a21a20 82.5%,#a0191f 83.8%,#b11c23 84.8%,#97171d 86.5%,#9e191f 87.5%,#8f151a 88.8%,#b01c23 90.5%,#9b181e 91.8%,#b41d23 93.5%,#8f151a 95.2%,#a91c22 96.8%,#881318 98.5%,#ac1c22)"></i></div><b class="tx"></b></div>
<div class="h" style="left:1459.7px;top:41.6px;width:463.1px;height:406.1px;background:#90161b"><div class="hh" style="top:-8px;height:422.1px;background:#90161b"><i style="top:0.00px;height:12.66px;background:linear-gradient(90deg,#90161b,#96171c 68.8%,#8b1419 71.5%,#9c191e 74.5%,#8a1419 77.2%,#9e191f 80.5%,#9e191e 82.5%,#851217 85.8%,#96171c 87.2%,#95171c 88.5%,#ad1c22 89.8%,#96171c 91.2%,#a0191f 92.5%,#861317 93.8%,#95171c 95.5%,#7f1115 96.8%,#a21a20 98.5%,#881318)"></i><i style="top:12.06px;height:4.66px;background:linear-gradient(90deg,#92161b,#95171c 61.5%,#8c151a 63.8%,#96171c 66.2%,#8b1419 69.2%,#9e191f 71.8%,#871318 74.8%,#9d191e 77.2%,#a01a1f 79.2%,#841217 82.5%,#8e151a 84.5%,#ad1c22 86.2%,#9e191f 87.2%,#a71b21 88.5%,#851217 89.8%,#8e151a 91.2%,#7d1015 92.5%,#9b181e 93.8%,#881318 95.5%,#b81d24 96.8%,#b91d24 97.2%,#91161b 98.5%,#93161c 98.8%,#b81d24)"></i><i style="top:16.12px;height:4.66px;background:linear-gradient(90deg,#8f151a,#8d151a 61.5%,#96171c 63.8%,#8c151a 66.8%,#9b181e 69.5%,#861318 72.5%,#a01a1f 75.8%,#861318 79.2%,#8a1419 80.8%,#a0191f 82.2%,#ac1c22 84.5%,#90161b 85.8%,#7e1015 88.2%,#90151b 89.5%,#871318 90.8%,#ab1c22 92.2%,#94161c 93.8%,#bc1d24 95.2%,#b21c23 95.8%,#8d151a 96.8%,#aa1c22 98.5%,#7f1115)"></i><i style="top:20.18px;height:4.66px;background:linear-gradient(90deg,#91161b,#8d151a 59.5%,#95171c 61.5%,#8d151a 64.2%,#99181d 67.2%,#871318 69.8%,#a11a1f 73.2%,#871318 76.2%,#a91c22 80.8%,#811116 84.5%,#861318 86.8%,#a51b21 88.2%,#99181d 89.5%,#b51d23 90.8%,#94161c 92.2%,#ab1c22 93.8%,#801115 95.2%,#94171c 96.8%,#730d11 98.5%,#9f191f)"></i><i style="top:24.24px;height:4.66px;background:linear-gradient(90deg,#92161b,#8d151a 61.8%,#97171d 64.8%,#891419 67.5%,#a0191f 70.5%,#861318 73.8%,#a51b20 77.8%,#861318 80.8%,#821216 82.8%,#b21c23 86.8%,#9b181e 87.8%,#a51b21 89.5%,#861318 90.8%,#95171c 92.2%,#780f13 93.5%,#95171c 95.2%,#811116 96.8%,#bc1d24 98.2%,#bf1d25 98.5%,#90161b)"></i><i style="top:28.30px;height:4.66px;background:linear-gradient(90deg,#90151b,#8d151a 59.5%,#96171c 62.5%,#8a1419 65.2%,#9d191e 68.2%,#851217 71.2%,#a21a20 74.5%,#831216 79.2%,#95171c 81.5%,#b01c23 82.8%,#a0191f 84.2%,#a71b21 85.2%,#8b1419 86.5%,#91161b 87.8%,#7d1015 89.2%,#8f151a 90.5%,#7f1115 91.8%,#ab1c22 93.5%,#90161b 94.8%,#93161c 95.2%,#ca1e26 96.5%,#c11d25 97.2%,#91161b 98.2%,#8d151a 98.5%,#ba1d24)"></i><i style="top:32.37px;height:4.66px;background:linear-gradient(90deg,#90161b,#8d151a 57.5%,#95171c 60.2%,#8b1419 62.5%,#9b181e 65.8%,#851217 68.5%,#a11a20 71.8%,#841217 76.2%,#aa1c22 79.5%,#a91c22 81.5%,#8e151a 82.8%,#7f1115 85.2%,#8a1419 86.2%,#821216 87.5%,#9f191f 88.8%,#90151b 90.2%,#bf1d25 91.8%,#99181d 93.5%,#bf1d25 94.8%,#b11c23 95.5%,#841217 96.5%,#841217 97.2%,#a31a20 98.5%,#730d11)"></i><i style="top:36.43px;height:4.66px;background:linear-gradient(90deg,#8e151a,#95171c 57.8%,#8b1419 60.2%,#98181d 63.2%,#861318 66.2%,#a11a20 69.2%,#851217 72.8%,#a81c22 77.8%,#801115 81.5%,#841217 83.5%,#9c181e 84.8%,#94171c 86.2%,#b31d23 87.5%,#9c191e 88.8%,#bc1d24 90.2%,#8c141a 91.8%,#a21a20 93.2%,#7c1014 94.5%,#750e12 95.2%,#96171c 96.5%,#710c10 98.2%,#7e1015 98.8%,#ac1c22)"></i><i style="top:40.49px;height:4.66px;background:linear-gradient(90deg,#94171c,#94171c 55.8%,#8c1419 58.2%,#97171d 60.5%,#881318 63.5%,#a0191f 66.5%,#841217 69.8%,#a51b20 74.8%,#801116 78.5%,#831217 79.8%,#9a181d 81.2%,#98181d 82.2%,#af1c23 83.5%,#9f191f 84.8%,#b21c23 86.2%,#93161c 87.5%,#a01a1f 88.8%,#7c1014 90.2%,#8b1419 91.5%,#740d11 93.2%,#a11a1f 94.8%,#7f1115 96.5%,#c21d25 98.2%,#b51d23 98.8%,#851217)"></i><i style="top:44.55px;height:4.66px;background:linear-gradient(90deg,#8f151a,#8c151a 56.2%,#96171c 58.2%,#8a1419 61.2%,#9d191e 64.2%,#831217 67.2%,#a21a20 70.8%,#801116 75.5%,#af1c23 79.8%,#a31a20 81.2%,#ab1c22 82.2%,#94171c 83.5%,#9c181e 84.5%,#821216 85.8%,#881318 87.2%,#770e12 88.5%,#91161b 89.8%,#831217 91.5%,#b61d24 92.8%,#b91d24 93.2%,#97171d 94.2%,#8f151a 94.8%,#c91e26 96.2%,#cd1e26 96.5%,#c71e26 96.8%,#94161c 97.8%,#8b1419 98.5%,#cb1e26)"></i><i style="top:48.61px;height:4.66px;background:linear-gradient(90deg,#90161b,#95171c 56.2%,#8b1419 58.5%,#9a181e 61.8%,#841217 64.8%,#a21a20 67.8%,#811116 72.5%,#af1c23 76.8%,#841217 81.8%,#7c1014 84.5%,#8b1419 85.8%,#831217 86.8%,#af1c23 88.5%,#97171d 89.8%,#c71e26 91.5%,#96171c 92.8%,#94161c 93.2%,#c51e25 94.5%,#c61e25 94.8%,#841217 96.5%,#93161b 97.2%,#c01d25 98.2%,#c01d25 98.5%,#821216)"></i><i style="top:52.67px;height:4.66px;background:linear-gradient(90deg,#8e151a,#94161c 54.2%,#8b1419 56.2%,#98181d 59.2%,#861317 62.2%,#a21a20 65.2%,#831216 68.8%,#881318 70.5%,#ad1c22 73.5%,#831216 78.2%,#801115 80.5%,#881318 82.8%,#a71b21 84.2%,#9d191e 85.5%,#c31d25 86.8%,#9f191f 88.5%,#bf1d24 89.8%,#8a1419 91.5%,#b01c23 92.8%,#af1c23 93.2%,#861317 94.2%,#790f13 94.8%,#a71b21 96.5%,#5b0f12 98.5%,#96171c)"></i><i style="top:56.73px;height:4.66px;background:linear-gradient(90deg,#91161b,#8c151a 54.2%,#97171d 56.8%,#881318 59.5%,#a11a1f 62.5%,#811116 65.8%,#a91c22 70.8%,#7e1015 75.5%,#90161b 79.2%,#a61b21 80.5%,#a11a1f 81.5%,#bc1d24 82.8%,#a51b21 84.2%,#b81d24 85.5%,#90151b 86.8%,#a21a20 88.2%,#7c1014 89.8%,#96171c 91.5%,#710c11 92.8%,#99181d 94.5%,#97171d 94.8%,#640e11 96.2%,#640e11 96.5%,#a31a20 97.8%,#ad1c22 98.5%,#780e13)"></i><i style="top:60.79px;height:4.66px;background:linear-gradient(90deg,#97171d,#95171c 54.5%,#891419 57.2%,#9e191f 60.2%,#821116 63.5%,#a51b21 67.5%,#7c1014 72.2%,#b41d23 79.2%,#a61b21 80.5%,#b01c23 81.5%,#92161b 82.8%,#95171c 84.2%,#7e1015 85.2%,#881318 86.8%,#760e12 88.2%,#92161b 89.5%,#750e12 91.2%,#a31a20 92.8%,#790f13 94.5%,#8e151a 95.2%,#c41e25 96.2%,#c71e25 96.5%,#891419 97.8%,#831216 98.5%,#cb1e26 99.8%,#cb1e26)"></i><i style="top:64.85px;height:4.66px;background:linear-gradient(90deg,#8e151a,#94161c 52.2%,#8b1419 54.8%,#9a181e 57.8%,#821216 60.5%,#a41b20 64.2%,#7c1014 68.8%,#ae1c23 73.8%,#a31a20 77.8%,#7b0f14 81.5%,#770e12 83.5%,#8b1419 85.2%,#7f1115 86.5%,#a11a20 87.8%,#851317 89.5%,#b81d24 90.8%,#ba1d24 91.2%,#94171c 92.2%,#8c151a 92.8%,#d21e26 94.2%,#d81d25 94.5%,#c91e26 95.2%,#9f191f 95.8%,#8c141a 96.5%,#a31a20 97.2%,#d01e26 97.8%,#e51c24 98.5%,#e11d25 98.8%,#af1c23)"></i><i style="top:68.91px;height:4.66px;background:linear-gradient(90deg,#90161b,#8c151a 52.5%,#98171d 55.2%,#841217 58.2%,#a41b20 61.5%,#831216 64.5%,#7f1115 66.2%,#b01c23 70.8%,#871318 75.8%,#790f13 79.5%,#861318 82.2%,#a41a20 83.5%,#92161b 84.8%,#b71d24 86.2%,#97171d 87.8%,#ca1e26 89.2%,#cb1e26 89.5%,#99181d 90.8%,#99181d 91.2%,#cb1e26 92.2%,#da1d25 92.8%,#d31e26 93.2%,#8c151a 94.5%,#95171c 95.2%,#ce1e26 96.2%,#d51d25 96.5%,#c71e26 97.2%,#841217 98.2%,#780e13 98.5%,#7a0f13 99.2%,#92161b)"></i><i style="top:72.98px;height:4.66px;background:linear-gradient(90deg,#8c141a,#96171c 52.8%,#881318 55.8%,#a31a20 58.8%,#7f1115 62.5%,#ae1c23 67.5%,#841217 71.5%,#7b0f14 74.5%,#90161b 78.5%,#aa1c22 79.8%,#a11a20 80.8%,#bb1d24 82.2%,#a31a20 83.5%,#c21d25 84.8%,#9f191f 86.2%,#cb1e26 87.8%,#97171d 89.2%,#95171c 89.5%,#c71e26 90.8%,#c81e26 91.2%,#7e1015 92.8%,#8c141a 93.5%,#b91d24 94.5%,#bb1d24 94.8%,#620e11 96.8%,#b71d24 98.5%,#b91d24 99.2%,#a21a20)"></i><i style="top:77.04px;height:4.66px;background:linear-gradient(90deg,#93161b,#94161c 50.5%,#8a1419 53.2%,#9e191f 56.5%,#7e1015 59.5%,#aa1c22 64.2%,#780e13 69.2%,#8a1419 73.2%,#b01c23 76.2%,#ae1c22 77.2%,#bd1d24 78.5%,#ad1c22 79.5%,#ba1d24 80.8%,#a11a20 82.2%,#b81d24 83.5%,#96171d 84.8%,#b51d23 86.2%,#841217 87.8%,#a61b21 89.2%,#a41b20 89.5%,#7c1014 90.5%,#710c10 91.2%,#a11a1f 92.8%,#8c141a 93.5%,#580f12 94.5%,#570f12 94.8%,#9f191f 96.2%,#ac1c22 96.8%,#93161c 97.5%,#521012 98.5%,#4a1112 98.8%,#650d11)"></i><i style="top:81.10px;height:4.66px;background:linear-gradient(90deg,#99181d,#8c151a 50.8%,#99181d 53.8%,#801116 56.8%,#a81b21 60.5%,#760e12 66.2%,#b61d23 73.2%,#bb1d24 75.2%,#9d191e 78.5%,#a41a20 79.5%,#90151b 80.8%,#9c191e 82.2%,#841217 83.2%,#91161b 84.8%,#730d11 86.2%,#881318 87.8%,#5f0e12 89.2%,#97171d 90.8%,#881318 91.5%,#5a0f12 92.5%,#5c0f12 92.8%,#a31a20 94.2%,#ab1c22 94.8%,#531012 96.5%,#521012 96.8%,#bf1d25 98.8%,#b01c23)"></i><i style="top:85.16px;height:4.66px;background:linear-gradient(90deg,#90161b,#8e151a 48.5%,#96171c 51.2%,#851317 54.5%,#a91c22 57.5%,#7f1015 61.2%,#770e13 62.8%,#a81c22 66.8%,#b31d23 70.5%,#b01c23 72.2%,#841217 77.2%,#831217 80.5%,#740d11 81.8%,#7f1015 83.2%,#6f0c10 84.2%,#891419 85.8%,#730d11 87.5%,#a11a20 88.8%,#a21a20 89.2%,#7d1014 90.2%,#730d11 90.8%,#b81d24 92.5%,#ab1c22 93.2%,#6b0d10 94.5%,#7b0f14 95.2%,#bd1d24 96.2%,#d21e26 96.8%,#bd1d24 97.5%,#8d151a 98.2%,#5c0f12 99.2%,#710c10)"></i><i style="top:89.22px;height:4.66px;background:linear-gradient(90deg,#8f151a,#94161c 48.8%,#891419 51.8%,#a31a20 55.2%,#7a0f13 58.8%,#861318 60.8%,#b51d23 64.5%,#a11a1f 68.5%,#7a0f13 72.8%,#770e12 80.2%,#871318 81.5%,#7e1015 82.8%,#a01a1f 84.2%,#861318 85.8%,#b81d24 87.2%,#831216 88.8%,#861317 89.2%,#ba1d24 90.2%,#ca1e26 90.8%,#7e1015 92.5%,#8a1419 93.2%,#cf1e26 94.2%,#e11d25 94.8%,#cb1e26 95.5%,#861318 96.5%,#7c1014 97.2%,#98171d 97.8%,#ca1e26 98.5%,#ed1c24 99.2%,#ed2424)"></i><i style="top:93.28px;height:4.66px;background:linear-gradient(90deg,#8d151a,#8c1419 49.2%,#9c191e 52.5%,#7b0f14 55.8%,#b61d23 61.2%,#6a0d11 70.2%,#90161b 77.5%,#8d151a 78.8%,#a51b21 79.8%,#97171d 81.2%,#bb1d24 82.5%,#9a181d 84.2%,#c81e26 85.5%,#c61e25 85.8%,#93161b 87.2%,#98171d 87.5%,#d41d25 88.8%,#c81e26 89.5%,#a11a1f 90.2%,#8e151a 90.8%,#96171c 91.2%,#d31e26 92.2%,#e61c24 92.8%,#d31e26 93.5%,#95171c 94.5%,#8b1419 95.2%,#e51c24 96.8%,#ed1e24 97.5%,#d91d25 98.2%,#831217 99.5%,#780f13)"></i><i style="top:97.34px;height:4.66px;background:linear-gradient(90deg,#891419,#8e151a 46.8%,#97171d 49.8%,#811116 53.2%,#a91c22 56.2%,#b01c23 57.8%,#7a0f14 62.2%,#6d0c10 66.2%,#99181d 72.2%,#a0191f 75.2%,#af1c23 76.2%,#ab1c22 77.5%,#c01d25 78.5%,#ae1c22 79.8%,#c91e26 81.2%,#a81c21 82.5%,#cc1e26 84.2%,#a11a1f 85.5%,#d71d25 87.2%,#c91e26 87.8%,#9d191e 88.8%,#9d191e 89.2%,#e51c24 90.8%,#d71d25 91.5%,#9c181e 92.5%,#91161b 93.2%,#d81d25 94.5%,#ed1c24 95.2%,#de1d25 95.8%,#881318 97.2%,#7b0f14 97.8%,#90161b 98.5%,#d31e26 99.5%,#e01d25)"></i><i style="top:101.40px;height:4.66px;background:linear-gradient(90deg,#97171d,#94171c 47.2%,#871318 50.5%,#ab1c22 54.2%,#620e11 60.2%,#a81c21 67.8%,#c41e25 75.2%,#bb1d24 76.2%,#c71e25 77.5%,#b51d23 78.5%,#c71e25 79.8%,#ab1c22 81.2%,#cb1e26 82.5%,#a61b21 83.8%,#a71b21 84.2%,#d61d25 85.5%,#d31e26 85.8%,#9d191e 87.2%,#a01a1f 87.5%,#de1d25 88.8%,#e01d25 89.2%,#c71e25 89.8%,#9a181e 90.5%,#8a1419 91.2%,#93161c 91.5%,#d31e26 92.5%,#e71c24 93.2%,#d41d25 93.8%,#8a1419 94.8%,#730d11 95.5%,#821216 96.2%,#e11d25 97.5%,#ed2024 98.2%,#e01d25 98.8%,#a41a20 99.8%,#a41a20)"></i><i style="top:105.46px;height:4.66px;background:linear-gradient(90deg,#97171d,#8b1419 47.8%,#a31a20 51.5%,#680d11 56.5%,#97171d 60.5%,#be1d24 65.5%,#c21d25 74.2%,#b71d24 75.2%,#bd1d24 76.2%,#ae1c22 77.2%,#bd1d24 78.5%,#a71b21 79.8%,#c41e25 81.2%,#a11a1f 82.5%,#cf1e26 83.8%,#cd1e26 84.2%,#93161c 85.5%,#96171c 85.8%,#d41d25 87.2%,#c51e25 87.8%,#861317 88.8%,#7f1115 89.2%,#92161b 89.8%,#c31e25 90.5%,#dc1d25 91.2%,#c91e26 91.8%,#7e1015 92.8%,#670d11 93.5%,#841217 94.2%,#d31e26 95.2%,#ec1c24 95.8%,#e91c24 96.2%,#c81e26 96.8%,#580f12 98.2%,#4d1112 98.5%,#560f12 99.2%,#710c10 99.5%,#7e1015)"></i><i style="top:109.53px;height:4.66px;background:linear-gradient(90deg,#8d151a,#8d151a 45.2%,#9a181e 48.5%,#780e13 52.5%,#871318 54.8%,#b71d24 58.2%,#c51e25 62.8%,#a0191f 75.8%,#ad1c22 77.2%,#9d191e 78.2%,#b51d23 79.5%,#95171c 80.8%,#b81d24 82.5%,#861317 83.8%,#871318 84.2%,#bc1d24 85.5%,#b81d24 85.8%,#821116 86.8%,#770e12 87.5%,#c81e26 89.2%,#b81d24 89.8%,#5c0f12 91.2%,#5a0f12 91.5%,#cf1e26 93.2%,#dc1d25 93.8%,#c11d25 94.5%,#511012 95.8%,#451112 96.2%,#521012 96.8%,#d31e26 98.5%,#e71c24 99.2%,#e61c24)"></i><i style="top:113.59px;height:4.66px;background:linear-gradient(90deg,#8f151a,#96171c 45.8%,#811116 49.5%,#c81e26 56.2%,#91161b 71.2%,#8e151a 74.8%,#99181d 75.8%,#8b1419 77.2%,#9c181e 78.2%,#821216 79.5%,#9b181e 80.8%,#780e13 82.2%,#801116 82.8%,#a11a1f 83.8%,#670d11 85.5%,#b11c23 87.2%,#b21d23 87.5%,#a81c22 87.8%,#541012 89.2%,#531012 89.5%,#ae1c22 90.8%,#ca1e26 91.5%,#b81d24 92.2%,#4c1112 93.5%,#3e1111 94.2%,#5e0e12 94.8%,#c51e25 96.2%,#d31e26 96.8%,#cd1e26 97.2%,#a91c22 97.8%,#3b1111 99.2%,#230c0c)"></i><i style="top:117.65px;height:4.66px;background:linear-gradient(90deg,#8c151a,#94171c 42.8%,#891419 46.5%,#b21c23 50.5%,#b91d24 53.2%,#871318 62.2%,#790f13 69.2%,#7f1115 76.8%,#700c10 78.2%,#801116 79.5%,#620e11 80.8%,#8b1419 82.2%,#560f12 83.8%,#98181d 85.2%,#9e191f 85.5%,#8b1419 86.2%,#4d1112 87.2%,#4b1112 87.5%,#541012 87.8%,#9b181e 88.8%,#b01c23 89.5%,#9b181e 90.2%,#6e0c10 90.8%,#4c1112 91.2%,#381010 91.8%,#4e1012 92.5%,#720d11 92.8%,#b01c23 93.8%,#ba1d24 94.5%,#a11a1f 95.2%,#391010 96.5%,#230c0c 97.2%,#3c1111 98.2%,#750e12 98.8%,#9d191e 99.5%,#ab1c22)"></i><i style="top:121.71px;height:4.66px;background:linear-gradient(90deg,#891419,#94171c 40.5%,#8b1419 43.5%,#a61b21 48.2%,#5e0e12 59.5%,#630e11 62.2%,#511012 65.5%,#5d0f12 70.2%,#541012 76.8%,#700c10 77.8%,#521012 79.2%,#7c1014 80.5%,#720d11 81.2%,#590f12 81.5%,#4e1012 82.2%,#7e1015 83.2%,#881318 83.8%,#740d12 84.5%,#481112 85.2%,#431212 85.5%,#560f12 86.2%,#851217 86.8%,#95171c 87.5%,#811116 88.2%,#710c10 88.5%,#4f1012 88.8%,#371010 89.5%,#431212 90.2%,#780e13 90.8%,#9a181d 91.5%,#a31a20 92.2%,#770e13 93.2%,#3f1212 93.8%,#260d0d 94.8%,#3b1111 95.5%,#730d11 96.2%,#b21c23 97.5%,#b31d23 98.2%,#710c10)"></i><i style="top:125.77px;height:4.66px;background:linear-gradient(90deg,#93161c,#8d151a 40.8%,#9b181e 44.5%,#730d11 48.2%,#590f12 49.2%,#441212 51.5%,#351010 62.2%,#401212 71.8%,#551012 76.5%,#4a1112 77.8%,#670d11 79.2%,#451212 80.5%,#740d11 81.8%,#730d11 82.2%,#461112 83.2%,#401212 83.8%,#570f12 84.5%,#720d11 84.8%,#7e1015 85.5%,#6f0c10 86.2%,#431212 86.8%,#381010 87.5%,#4c1112 88.2%,#7b1014 88.8%,#90151b 89.8%,#7c1014 90.5%,#3a1111 91.5%,#2b0e0e 92.2%,#3a1111 92.8%,#7f1115 93.8%,#9d191e 94.5%,#a71b21 95.2%,#891419 96.2%,#451212 97.2%,#1a0909 98.2%,#170808 98.8%,#320f0f)"></i><i style="top:129.83px;height:4.66px;background:linear-gradient(90deg,#a21a20,#94171c 1.2%,#91161b 8.8%,#8f151a 38.8%,#98181d 41.8%,#871318 43.8%,#580f12 45.5%,#310f0f 48.2%,#170808 53.8%,#290d0d 67.8%,#461112 75.2%,#3f1212 76.5%,#4b1112 77.5%,#3e1111 78.8%,#521012 80.2%,#3d1111 81.8%,#6c0d10 83.5%,#3b1111 85.2%,#451112 85.8%,#7b0f14 86.8%,#831217 87.5%,#750d12 88.2%,#590f12 88.5%,#3b1111 89.2%,#330f0f 89.8%,#441212 90.5%,#821216 91.5%,#99181d 92.5%,#700c10 93.8%,#501012 94.2%,#300f0f 94.8%,#1f0b0b 95.8%,#3c1111 96.8%,#7b0f14 97.8%,#93161c 98.5%,#a51b21)"></i><i style="top:133.89px;height:4.66px;background:linear-gradient(90deg,#9e191f,#93161b 1.5%,#96171c 39.5%,#861318 41.5%,#5a0f12 43.2%,#4d1112 44.2%,#0c0404 55.8%,#190909 59.2%,#160707 64.2%,#461112 78.5%,#3d1111 79.8%,#580f12 81.5%,#3c1111 83.2%,#481112 83.8%,#6b0d10 84.5%,#7a0f13 85.2%,#710c10 85.8%,#590f12 86.2%,#401212 86.8%,#391010 87.5%,#491112 88.2%,#730d11 88.8%,#891419 89.8%,#780f13 90.8%,#411212 91.8%,#2c0e0e 92.8%,#3f1212 93.8%,#801115 95.2%,#90151b 96.2%,#7c1014 97.5%,#3f1212 98.8%,#260d0d)"></i><i style="top:137.95px;height:4.66px;background:linear-gradient(90deg,#94161c,#96171c 37.2%,#871318 39.5%,#531012 41.5%,#4a1112 46.8%,#120606 54.8%,#0d0404 58.2%,#1e0a0a 68.8%,#421212 76.8%,#3c1111 78.2%,#501012 79.5%,#3d1111 81.2%,#690d11 83.2%,#3f1212 85.2%,#541012 86.2%,#740d11 86.8%,#7a0f13 87.5%,#720d11 88.2%,#471112 89.2%,#3b1111 90.2%,#4f1012 91.2%,#710c10 91.8%,#821216 93.2%,#750d12 94.2%,#361010 95.8%,#2a0d0d 96.8%,#3d1111 98.2%,#730d11 99.5%,#790f13)"></i><i style="top:142.01px;height:4.66px;background:linear-gradient(90deg,#94171c,#97171d 35.2%,#891419 38.2%,#580f12 40.2%,#4f1012 48.2%,#190909 54.5%,#0d0505 57.5%,#170808 61.8%,#0f0505 65.2%,#3c1111 75.2%,#3f1212 79.5%,#501012 81.2%,#451212 82.8%,#660d11 84.8%,#471112 87.2%,#7b0f14 89.8%,#730d11 90.8%,#3d1111 92.5%,#351010 93.5%,#421212 94.5%,#740d11 95.8%,#8a1419 97.2%,#8c1419 98.2%,#790f13)"></i><i style="top:146.07px;height:4.66px;background:linear-gradient(90deg,#92161b,#97171d 36.5%,#730d11 38.5%,#570f12 44.5%,#551012 49.5%,#190909 55.5%,#0e0505 58.8%,#130606 66.2%,#451212 80.2%,#580f12 82.2%,#4a1112 84.5%,#790f13 86.8%,#720d11 87.8%,#4f1012 88.8%,#3f1212 90.2%,#541012 91.5%,#710c10 92.2%,#841217 93.8%,#700c10 95.8%,#551012 96.5%,#3c1111 97.8%,#3a1111)"></i><i style="top:150.13px;height:4.66px;background:linear-gradient(90deg,#8c141a,#98181d 34.8%,#670d11 37.5%,#770e12 42.2%,#710c10 44.8%,#570f12 47.5%,#650d11 50.8%,#180808 56.5%,#0f0505 61.2%,#140707 66.8%,#451212 76.5%,#421212 78.2%,#541012 79.8%,#4a1112 82.2%,#740d11 84.2%,#6f0c10 85.2%,#580f12 85.8%,#4b1112 87.2%,#560f12 88.2%,#740d11 89.2%,#7b0f14 90.8%,#700c10 91.8%,#4b1112 93.2%,#3f1212 94.8%,#521012 96.5%,#770e12 97.8%,#8c151a)"></i><i style="top:154.20px;height:4.66px;background:linear-gradient(90deg,#831217,#92161b 1.5%,#94171c 33.5%,#851217 34.8%,#600e11 36.2%,#5a0f12 37.8%,#801116 47.2%,#700c10 49.5%,#590f12 50.8%,#580f12 53.5%,#240c0c 56.2%,#0f0505 59.2%,#140707 66.8%,#411212 75.2%,#4d1112 80.2%,#600e11 82.2%,#570f12 84.5%,#740d11 86.8%,#4d1112 90.5%,#811116 95.5%,#720d11 98.5%,#5a0f12)"></i><i style="top:158.26px;height:4.66px;background:linear-gradient(90deg,#801115,#94171c 1.5%,#94171c 31.8%,#92161b 33.8%,#790f13 35.8%,#710c10 45.8%,#7b0f14 50.8%,#6e0c10 53.2%,#4c1112 55.5%,#180808 57.8%,#0f0505 60.2%,#170808 67.2%,#401212 74.2%,#531012 80.2%,#700c10 82.8%,#5a0f12 86.2%,#710c10 88.2%,#780e13 90.8%,#700c10 92.5%,#5a0f12 93.8%,#541012 95.8%,#760e12)"></i><i style="top:162.32px;height:4.66px;background:linear-gradient(90deg,#891418,#94161c 1.8%,#96171c 32.5%,#720d11 34.8%,#7d1015 53.5%,#710c10 55.5%,#411212 57.2%,#130606 59.2%,#0e0505 64.2%,#4e1012 76.2%,#4f1012 78.2%,#6e0c10 80.2%,#5c0f12 82.5%,#740d11 84.2%,#7c1014 86.2%,#710c10 87.8%,#590f12 88.8%,#511012 90.5%,#8c151a 96.2%,#891419)"></i><i style="top:166.38px;height:4.66px;background:linear-gradient(90deg,#92161b,#94171c 31.5%,#770e12 33.5%,#710c10 34.8%,#851317 55.2%,#720d11 57.2%,#3d1111 58.5%,#170808 60.2%,#0c0404 65.8%,#3e1111 72.5%,#780f13 82.8%,#650d11 86.8%,#821216 90.8%,#871318 93.5%,#720c11 97.5%,#560f12)"></i><i style="top:170.44px;height:4.66px;background:linear-gradient(90deg,#9b181e,#91161b 1.5%,#93161c 31.5%,#790f13 33.5%,#93161c 56.5%,#801116 58.2%,#441212 59.5%,#1d0a0a 61.2%,#0e0505 66.5%,#401212 72.5%,#521012 75.8%,#690d11 77.5%,#680d11 79.2%,#7b0f14 81.8%,#7b0f14)"></i><i style="top:174.50px;height:4.66px;background:linear-gradient(90deg,#a31a20,#93161b 1.5%,#96171c 30.5%,#750e12 32.5%,#720d11 34.5%,#8a1419 50.8%,#a71b21 58.2%,#97171d 59.2%,#401212 60.8%,#270d0d 61.8%,#0e0505 66.8%,#3b1111 70.8%,#7f1115 80.2%,#740d12 84.5%,#94161c 91.8%,#7e1015)"></i><i style="top:178.56px;height:4.66px;background:linear-gradient(90deg,#9d191e,#92161b 1.5%,#93161b 30.8%,#780f13 32.5%,#780e13 36.8%,#91161b 52.5%,#a31a20 56.5%,#c11d25 59.5%,#aa1c22 60.5%,#720d11 61.5%,#541012 61.8%,#2f0e0e 62.8%,#110606 67.5%,#461112 71.5%,#801116 78.8%,#881318 88.8%,#720d11 95.8%,#730d11)"></i><i style="top:182.62px;height:4.66px;background:linear-gradient(90deg,#94161c,#92161b 29.8%,#740d12 32.5%,#801116 43.2%,#9f191f 55.8%,#b21c23 58.5%,#de1d25 60.8%,#c31e25 61.8%,#720d11 63.2%,#541012 63.5%,#3a1111 64.2%,#1e0a0a 65.8%,#150707 67.8%,#421212 70.5%,#7f1115 76.8%,#97171d 88.5%,#8b1419 94.5%,#92161b)"></i><i style="top:186.68px;height:4.66px;background:linear-gradient(90deg,#91161b,#95171c 29.5%,#7a0f14 31.8%,#851217 45.8%,#a81b21 58.2%,#ba1d24 60.2%,#ed1f24 61.8%,#ed1f24 62.8%,#d21e26 63.5%,#6f0c10 65.2%,#451112 65.8%,#2b0e0e 66.8%,#1e0a0a 68.2%,#451212 70.2%,#720d11 73.8%,#91161b 79.5%,#97171d 87.5%,#8a1419 92.8%,#94171c)"></i><i style="top:190.75px;height:4.66px;background:linear-gradient(90deg,#90151b,#95171c 29.5%,#710c10 31.5%,#811116 37.2%,#851217 45.5%,#af1c23 59.5%,#bd1d24 61.5%,#ed1c24 62.8%,#ee3424 63.5%,#ef3c24 64.2%,#ed1e24 65.2%,#5c0f12 67.8%,#411212 68.8%,#760e12 72.8%,#9d191e 78.5%,#9a181e 81.8%,#ab1c22 86.5%,#871318)"></i><i style="top:194.81px;height:4.66px;background:linear-gradient(90deg,#91161b,#93161b 29.2%,#7a0f13 31.2%,#750e12 33.2%,#831217 43.8%,#a71b21 59.5%,#bb1d24 63.2%,#de1d25 64.2%,#ed1f24 64.5%,#f04f23 65.8%,#f04723 66.5%,#e61c24 67.8%,#ac1c22 69.2%,#7a0f13 71.5%,#a51b20 76.8%,#a41b20 80.2%,#ba1d24 84.2%,#ac1c22 94.2%,#91161b)"></i><i style="top:198.87px;height:4.66px;background:linear-gradient(90deg,#98171d,#91161b 28.8%,#7a0f14 31.2%,#7b0f14 39.8%,#8b1419 50.2%,#b41d23 61.5%,#c51e25 63.5%,#c01d25 64.8%,#cb1e26 65.5%,#e81c24 66.2%,#f26721 67.8%,#f36c21 69.8%,#f26821 70.2%,#ed2024 71.2%,#ad1c22 72.2%,#9d191e 72.8%,#d81d25 82.8%,#9d191e 95.8%,#95171c)"></i><i style="top:202.93px;height:4.66px;background:linear-gradient(90deg,#98171d,#91161b 29.2%,#790f13 31.5%,#7f1115 42.2%,#a41a20 57.2%,#c01d25 64.2%,#d21e26 65.5%,#c81e26 67.2%,#e71c24 68.2%,#f05022 69.2%,#f9a11a 69.8%,#ffd306 70.2%,#fbea11 70.5%,#f9eb1c 70.8%,#fee907 71.2%,#ffd306 71.5%,#f7931d 72.2%,#ee3524 73.2%,#ed2124 73.5%,#df1d25 73.8%,#c71e26 74.8%,#ed1c24 77.2%,#ee3424 80.2%,#ed1d24 83.2%,#a11a20 94.8%,#95171c)"></i><i style="top:206.99px;height:4.66px;background:linear-gradient(90deg,#90161b,#91161b 28.8%,#7b1014 31.2%,#8f151a 48.2%,#a61b21 58.8%,#e11d25 67.5%,#da1d25 68.8%,#ed1d24 69.5%,#ee3524 69.8%,#f6881f 70.5%,#ffd606 71.2%,#f9ea19 71.5%,#f7ee45 71.8%,#f9f17e 72.5%,#faf398 73.5%,#faf392 74.2%,#f9f173 75.2%,#ffe802 77.2%,#faa519 78.8%,#f15922 81.2%,#ee3524 83.2%,#ed1d24 85.5%,#be1d24 90.5%,#99181d)"></i><i style="top:211.05px;height:4.66px;background:linear-gradient(90deg,#90161b,#91161b 28.8%,#7b1014 31.2%,#8f151a 48.2%,#a61b21 58.8%,#e11d25 67.5%,#da1d25 68.8%,#ed1d24 69.5%,#ee3524 69.8%,#f6881f 70.5%,#ffd606 71.2%,#f9ea19 71.5%,#f7ee45 71.8%,#f9f17e 72.5%,#faf398 73.5%,#faf392 74.2%,#f9f173 75.2%,#ffe802 77.2%,#faa519 78.8%,#f15922 81.2%,#ee3524 83.2%,#ed1d24 85.5%,#be1d24 90.5%,#99181d)"></i><i style="top:215.11px;height:4.66px;background:linear-gradient(90deg,#98171d,#91161b 29.2%,#790f13 31.5%,#7f1115 42.2%,#a41a20 57.2%,#c01d25 64.2%,#d21e26 65.5%,#c81e26 67.2%,#e71c24 68.2%,#f05022 69.2%,#f9a11a 69.8%,#ffd306 70.2%,#fbea11 70.5%,#f9eb1c 70.8%,#fee907 71.2%,#ffd306 71.5%,#f7931d 72.2%,#ee3524 73.2%,#ed2124 73.5%,#df1d25 73.8%,#c71e26 74.8%,#ed1c24 77.2%,#ee3424 80.2%,#ed1d24 83.2%,#a11a20 94.8%,#95171c)"></i><i style="top:219.17px;height:4.66px;background:linear-gradient(90deg,#98171d,#91161b 28.8%,#7a0f14 31.2%,#7b0f14 39.8%,#8b1419 50.2%,#b41d23 61.5%,#c51e25 63.5%,#c01d25 64.8%,#cb1e26 65.5%,#e81c24 66.2%,#f26721 67.8%,#f36c21 69.8%,#f26821 70.2%,#ed2024 71.2%,#ad1c22 72.2%,#9d191e 72.8%,#d81d25 82.8%,#9d191e 95.8%,#95171c)"></i><i style="top:223.23px;height:4.66px;background:linear-gradient(90deg,#91161b,#93161b 29.2%,#7a0f13 31.2%,#750e12 33.2%,#831217 43.8%,#a71b21 59.5%,#bb1d24 63.2%,#de1d25 64.2%,#ed1f24 64.5%,#f04f23 65.8%,#f04723 66.5%,#e61c24 67.8%,#ac1c22 69.2%,#7a0f13 71.5%,#a51b20 76.8%,#a41b20 80.2%,#ba1d24 84.2%,#ac1c22 94.2%,#91161b)"></i><i style="top:227.29px;height:4.66px;background:linear-gradient(90deg,#90151b,#95171c 29.5%,#710c10 31.5%,#811116 37.2%,#851217 45.5%,#af1c23 59.5%,#bd1d24 61.5%,#ed1c24 62.8%,#ee3424 63.5%,#ef3c24 64.2%,#ed1e24 65.2%,#5c0f12 67.8%,#411212 68.8%,#760e12 72.8%,#9d191e 78.5%,#9a181e 81.8%,#ab1c22 86.5%,#871318)"></i><i style="top:231.35px;height:4.66px;background:linear-gradient(90deg,#91161b,#95171c 29.5%,#7a0f14 31.8%,#851217 45.8%,#a81b21 58.2%,#ba1d24 60.2%,#ed1f24 61.8%,#ed1f24 62.8%,#d21e26 63.5%,#6f0c10 65.2%,#451112 65.8%,#2b0e0e 66.8%,#1e0a0a 68.2%,#451212 70.2%,#720d11 73.8%,#91161b 79.5%,#97171d 87.5%,#8a1419 92.8%,#94171c)"></i><i style="top:235.42px;height:4.66px;background:linear-gradient(90deg,#94161c,#92161b 29.8%,#740d12 32.5%,#801116 43.2%,#9f191f 55.8%,#b21c23 58.5%,#de1d25 60.8%,#c31e25 61.8%,#720d11 63.2%,#541012 63.5%,#3a1111 64.2%,#1e0a0a 65.8%,#150707 67.8%,#421212 70.5%,#7f1115 76.8%,#97171d 88.5%,#8b1419 94.5%,#92161b)"></i><i style="top:239.48px;height:4.66px;background:linear-gradient(90deg,#9d191e,#92161b 1.5%,#93161b 30.8%,#780f13 32.5%,#780e13 36.8%,#91161b 52.5%,#a31a20 56.5%,#c11d25 59.5%,#aa1c22 60.5%,#720d11 61.5%,#541012 61.8%,#2f0e0e 62.8%,#110606 67.5%,#461112 71.5%,#801116 78.8%,#881318 88.8%,#720d11 95.8%,#730d11)"></i><i style="top:243.54px;height:4.66px;background:linear-gradient(90deg,#a31a20,#93161b 1.5%,#96171c 30.5%,#750e12 32.5%,#720d11 34.5%,#8a1419 50.8%,#a71b21 58.2%,#97171d 59.2%,#401212 60.8%,#270d0d 61.8%,#0e0505 66.8%,#3b1111 70.8%,#7f1115 80.2%,#740d12 84.5%,#94161c 91.8%,#7e1015)"></i><i style="top:247.60px;height:4.66px;background:linear-gradient(90deg,#9b181e,#91161b 1.5%,#93161c 31.5%,#790f13 33.5%,#93161c 56.5%,#801116 58.2%,#441212 59.5%,#1d0a0a 61.2%,#0e0505 66.5%,#401212 72.5%,#521012 75.8%,#690d11 77.5%,#680d11 79.2%,#7b0f14 81.8%,#7b0f14)"></i><i style="top:251.66px;height:4.66px;background:linear-gradient(90deg,#92161b,#94171c 31.5%,#770e12 33.5%,#710c10 34.8%,#851317 55.2%,#720d11 57.2%,#3d1111 58.5%,#170808 60.2%,#0c0404 65.8%,#3e1111 72.5%,#780f13 82.8%,#650d11 86.8%,#821216 90.8%,#871318 93.5%,#720c11 97.5%,#560f12)"></i><i style="top:255.72px;height:4.66px;background:linear-gradient(90deg,#891418,#94161c 1.8%,#96171c 32.5%,#720d11 34.8%,#7d1015 53.5%,#710c10 55.5%,#411212 57.2%,#130606 59.2%,#0e0505 64.2%,#4e1012 76.2%,#4f1012 78.2%,#6e0c10 80.2%,#5c0f12 82.5%,#740d11 84.2%,#7c1014 86.2%,#710c10 87.8%,#590f12 88.8%,#511012 90.5%,#8c151a 96.2%,#891419)"></i><i style="top:259.78px;height:4.66px;background:linear-gradient(90deg,#801115,#94171c 1.5%,#94171c 31.8%,#92161b 33.8%,#790f13 35.8%,#710c10 45.8%,#7b0f14 50.8%,#6e0c10 53.2%,#4c1112 55.5%,#180808 57.8%,#0f0505 60.2%,#170808 67.2%,#401212 74.2%,#531012 80.2%,#700c10 82.8%,#5a0f12 86.2%,#710c10 88.2%,#780e13 90.8%,#700c10 92.5%,#5a0f12 93.8%,#541012 95.8%,#760e12)"></i><i style="top:263.84px;height:4.66px;background:linear-gradient(90deg,#831217,#92161b 1.5%,#94171c 33.5%,#851217 34.8%,#600e11 36.2%,#5a0f12 37.8%,#801116 47.2%,#700c10 49.5%,#590f12 50.8%,#580f12 53.5%,#240c0c 56.2%,#0f0505 59.2%,#140707 66.8%,#411212 75.2%,#4d1112 80.2%,#600e11 82.2%,#570f12 84.5%,#740d11 86.8%,#4d1112 90.5%,#811116 95.5%,#720d11 98.5%,#5a0f12)"></i><i style="top:267.90px;height:4.66px;background:linear-gradient(90deg,#8c141a,#98181d 34.8%,#670d11 37.5%,#770e12 42.2%,#710c10 44.8%,#570f12 47.5%,#650d11 50.8%,#180808 56.5%,#0f0505 61.2%,#140707 66.8%,#451212 76.5%,#421212 78.2%,#541012 79.8%,#4a1112 82.2%,#740d11 84.2%,#6f0c10 85.2%,#580f12 85.8%,#4b1112 87.2%,#560f12 88.2%,#740d11 89.2%,#7b0f14 90.8%,#700c10 91.8%,#4b1112 93.2%,#3f1212 94.8%,#521012 96.5%,#770e12 97.8%,#8c151a)"></i><i style="top:271.96px;height:4.66px;background:linear-gradient(90deg,#92161b,#97171d 36.5%,#730d11 38.5%,#570f12 44.5%,#551012 49.5%,#190909 55.5%,#0e0505 58.8%,#130606 66.2%,#451212 80.2%,#580f12 82.2%,#4a1112 84.5%,#790f13 86.8%,#720d11 87.8%,#4f1012 88.8%,#3f1212 90.2%,#541012 91.5%,#710c10 92.2%,#841217 93.8%,#700c10 95.8%,#551012 96.5%,#3c1111 97.8%,#3a1111)"></i><i style="top:276.03px;height:4.66px;background:linear-gradient(90deg,#94171c,#97171d 35.2%,#891419 38.2%,#580f12 40.2%,#4f1012 48.2%,#190909 54.5%,#0d0505 57.5%,#170808 61.8%,#0f0505 65.2%,#3c1111 75.2%,#3f1212 79.5%,#501012 81.2%,#451212 82.8%,#660d11 84.8%,#471112 87.2%,#7b0f14 89.8%,#730d11 90.8%,#3d1111 92.5%,#351010 93.5%,#421212 94.5%,#740d11 95.8%,#8a1419 97.2%,#8c1419 98.2%,#790f13)"></i><i style="top:280.09px;height:4.66px;background:linear-gradient(90deg,#94161c,#96171c 37.2%,#871318 39.5%,#531012 41.5%,#4a1112 46.8%,#120606 54.8%,#0d0404 58.2%,#1e0a0a 68.8%,#421212 76.8%,#3c1111 78.2%,#501012 79.5%,#3d1111 81.2%,#690d11 83.2%,#3f1212 85.2%,#541012 86.2%,#740d11 86.8%,#7a0f13 87.5%,#720d11 88.2%,#471112 89.2%,#3b1111 90.2%,#4f1012 91.2%,#710c10 91.8%,#821216 93.2%,#750d12 94.2%,#361010 95.8%,#2a0d0d 96.8%,#3d1111 98.2%,#730d11 99.5%,#790f13)"></i><i style="top:284.15px;height:4.66px;background:linear-gradient(90deg,#9e191f,#93161b 1.5%,#96171c 39.5%,#861318 41.5%,#5a0f12 43.2%,#4d1112 44.2%,#0c0404 55.8%,#190909 59.2%,#160707 64.2%,#461112 78.5%,#3d1111 79.8%,#580f12 81.5%,#3c1111 83.2%,#481112 83.8%,#6b0d10 84.5%,#7a0f13 85.2%,#710c10 85.8%,#590f12 86.2%,#401212 86.8%,#391010 87.5%,#491112 88.2%,#730d11 88.8%,#891419 89.8%,#780f13 90.8%,#411212 91.8%,#2c0e0e 92.8%,#3f1212 93.8%,#801115 95.2%,#90151b 96.2%,#7c1014 97.5%,#3f1212 98.8%,#260d0d)"></i><i style="top:288.21px;height:4.66px;background:linear-gradient(90deg,#a21a20,#94171c 1.2%,#91161b 8.8%,#8f151a 38.8%,#98181d 41.8%,#871318 43.8%,#580f12 45.5%,#310f0f 48.2%,#170808 53.8%,#290d0d 67.8%,#461112 75.2%,#3f1212 76.5%,#4b1112 77.5%,#3e1111 78.8%,#521012 80.2%,#3d1111 81.8%,#6c0d10 83.5%,#3b1111 85.2%,#451112 85.8%,#7b0f14 86.8%,#831217 87.5%,#750d12 88.2%,#590f12 88.5%,#3b1111 89.2%,#330f0f 89.8%,#441212 90.5%,#821216 91.5%,#99181d 92.5%,#700c10 93.8%,#501012 94.2%,#300f0f 94.8%,#1f0b0b 95.8%,#3c1111 96.8%,#7b0f14 97.8%,#93161c 98.5%,#a51b21)"></i><i style="top:292.27px;height:4.66px;background:linear-gradient(90deg,#93161c,#8d151a 40.8%,#9b181e 44.5%,#730d11 48.2%,#590f12 49.2%,#441212 51.5%,#351010 62.2%,#401212 71.8%,#551012 76.5%,#4a1112 77.8%,#670d11 79.2%,#451212 80.5%,#740d11 81.8%,#730d11 82.2%,#461112 83.2%,#401212 83.8%,#570f12 84.5%,#720d11 84.8%,#7e1015 85.5%,#6f0c10 86.2%,#431212 86.8%,#381010 87.5%,#4c1112 88.2%,#7b1014 88.8%,#90151b 89.8%,#7c1014 90.5%,#3a1111 91.5%,#2b0e0e 92.2%,#3a1111 92.8%,#7f1115 93.8%,#9d191e 94.5%,#a71b21 95.2%,#891419 96.2%,#451212 97.2%,#1a0909 98.2%,#170808 98.8%,#320f0f)"></i><i style="top:296.33px;height:4.66px;background:linear-gradient(90deg,#891419,#94171c 40.5%,#8b1419 43.5%,#a61b21 48.2%,#5e0e12 59.5%,#630e11 62.2%,#511012 65.5%,#5d0f12 70.2%,#541012 76.8%,#700c10 77.8%,#521012 79.2%,#7c1014 80.5%,#720d11 81.2%,#590f12 81.5%,#4e1012 82.2%,#7e1015 83.2%,#881318 83.8%,#740d12 84.5%,#481112 85.2%,#431212 85.5%,#560f12 86.2%,#851217 86.8%,#95171c 87.5%,#811116 88.2%,#710c10 88.5%,#4f1012 88.8%,#371010 89.5%,#431212 90.2%,#780e13 90.8%,#9a181d 91.5%,#a31a20 92.2%,#770e13 93.2%,#3f1212 93.8%,#260d0d 94.8%,#3b1111 95.5%,#730d11 96.2%,#b21c23 97.5%,#b31d23 98.2%,#710c10)"></i><i style="top:300.39px;height:4.66px;background:linear-gradient(90deg,#8c151a,#94171c 42.8%,#891419 46.5%,#b21c23 50.5%,#b91d24 53.2%,#871318 62.2%,#790f13 69.2%,#7f1115 76.8%,#700c10 78.2%,#801116 79.5%,#620e11 80.8%,#8b1419 82.2%,#560f12 83.8%,#98181d 85.2%,#9e191f 85.5%,#8b1419 86.2%,#4d1112 87.2%,#4b1112 87.5%,#541012 87.8%,#9b181e 88.8%,#b01c23 89.5%,#9b181e 90.2%,#6e0c10 90.8%,#4c1112 91.2%,#381010 91.8%,#4e1012 92.5%,#720d11 92.8%,#b01c23 93.8%,#ba1d24 94.5%,#a11a1f 95.2%,#391010 96.5%,#230c0c 97.2%,#3c1111 98.2%,#750e12 98.8%,#9d191e 99.5%,#ab1c22)"></i><i style="top:304.45px;height:4.66px;background:linear-gradient(90deg,#8f151a,#96171c 45.8%,#811116 49.5%,#c81e26 56.2%,#91161b 71.2%,#8e151a 74.8%,#99181d 75.8%,#8b1419 77.2%,#9c181e 78.2%,#821216 79.5%,#9b181e 80.8%,#780e13 82.2%,#801116 82.8%,#a11a1f 83.8%,#670d11 85.5%,#b11c23 87.2%,#b21d23 87.5%,#a81c22 87.8%,#541012 89.2%,#531012 89.5%,#ae1c22 90.8%,#ca1e26 91.5%,#b81d24 92.2%,#4c1112 93.5%,#3e1111 94.2%,#5e0e12 94.8%,#c51e25 96.2%,#d31e26 96.8%,#cd1e26 97.2%,#a91c22 97.8%,#3b1111 99.2%,#230c0c)"></i><i style="top:308.51px;height:4.66px;background:linear-gradient(90deg,#8d151a,#8d151a 45.2%,#9a181e 48.5%,#780e13 52.5%,#871318 54.8%,#b71d24 58.2%,#c51e25 62.8%,#a0191f 75.8%,#ad1c22 77.2%,#9d191e 78.2%,#b51d23 79.5%,#95171c 80.8%,#b81d24 82.5%,#861317 83.8%,#871318 84.2%,#bc1d24 85.5%,#b81d24 85.8%,#821116 86.8%,#770e12 87.5%,#c81e26 89.2%,#b81d24 89.8%,#5c0f12 91.2%,#5a0f12 91.5%,#cf1e26 93.2%,#dc1d25 93.8%,#c11d25 94.5%,#511012 95.8%,#451112 96.2%,#521012 96.8%,#d31e26 98.5%,#e71c24 99.2%,#e61c24)"></i><i style="top:312.57px;height:4.66px;background:linear-gradient(90deg,#97171d,#8b1419 47.8%,#a31a20 51.5%,#680d11 56.5%,#97171d 60.5%,#be1d24 65.5%,#c21d25 74.2%,#b71d24 75.2%,#bd1d24 76.2%,#ae1c22 77.2%,#bd1d24 78.5%,#a71b21 79.8%,#c41e25 81.2%,#a11a1f 82.5%,#cf1e26 83.8%,#cd1e26 84.2%,#93161c 85.5%,#96171c 85.8%,#d41d25 87.2%,#c51e25 87.8%,#861317 88.8%,#7f1115 89.2%,#92161b 89.8%,#c31e25 90.5%,#dc1d25 91.2%,#c91e26 91.8%,#7e1015 92.8%,#670d11 93.5%,#841217 94.2%,#d31e26 95.2%,#ec1c24 95.8%,#e91c24 96.2%,#c81e26 96.8%,#580f12 98.2%,#4d1112 98.5%,#560f12 99.2%,#710c10 99.5%,#7e1015)"></i><i style="top:316.64px;height:4.66px;background:linear-gradient(90deg,#97171d,#94171c 47.2%,#871318 50.5%,#ab1c22 54.2%,#620e11 60.2%,#a81c21 67.8%,#c41e25 75.2%,#bb1d24 76.2%,#c71e25 77.5%,#b51d23 78.5%,#c71e25 79.8%,#ab1c22 81.2%,#cb1e26 82.5%,#a61b21 83.8%,#a71b21 84.2%,#d61d25 85.5%,#d31e26 85.8%,#9d191e 87.2%,#a01a1f 87.5%,#de1d25 88.8%,#e01d25 89.2%,#c71e25 89.8%,#9a181e 90.5%,#8a1419 91.2%,#93161c 91.5%,#d31e26 92.5%,#e71c24 93.2%,#d41d25 93.8%,#8a1419 94.8%,#730d11 95.5%,#821216 96.2%,#e11d25 97.5%,#ed2024 98.2%,#e01d25 98.8%,#a41a20 99.8%,#a41a20)"></i><i style="top:320.70px;height:4.66px;background:linear-gradient(90deg,#891419,#8e151a 46.8%,#97171d 49.8%,#811116 53.2%,#a91c22 56.2%,#b01c23 57.8%,#7a0f14 62.2%,#6d0c10 66.2%,#99181d 72.2%,#a0191f 75.2%,#af1c23 76.2%,#ab1c22 77.5%,#c01d25 78.5%,#ae1c22 79.8%,#c91e26 81.2%,#a81c21 82.5%,#cc1e26 84.2%,#a11a1f 85.5%,#d71d25 87.2%,#c91e26 87.8%,#9d191e 88.8%,#9d191e 89.2%,#e51c24 90.8%,#d71d25 91.5%,#9c181e 92.5%,#91161b 93.2%,#d81d25 94.5%,#ed1c24 95.2%,#de1d25 95.8%,#881318 97.2%,#7b0f14 97.8%,#90161b 98.5%,#d31e26 99.5%,#e01d25)"></i><i style="top:324.76px;height:4.66px;background:linear-gradient(90deg,#8d151a,#8c1419 49.2%,#9c191e 52.5%,#7b0f14 55.8%,#b61d23 61.2%,#6a0d11 70.2%,#90161b 77.5%,#8d151a 78.8%,#a51b21 79.8%,#97171d 81.2%,#bb1d24 82.5%,#9a181d 84.2%,#c81e26 85.5%,#c61e25 85.8%,#93161b 87.2%,#98171d 87.5%,#d41d25 88.8%,#c81e26 89.5%,#a11a1f 90.2%,#8e151a 90.8%,#96171c 91.2%,#d31e26 92.2%,#e61c24 92.8%,#d31e26 93.5%,#95171c 94.5%,#8b1419 95.2%,#e51c24 96.8%,#ed1e24 97.5%,#d91d25 98.2%,#831217 99.5%,#780f13)"></i><i style="top:328.82px;height:4.66px;background:linear-gradient(90deg,#8f151a,#94161c 48.8%,#891419 51.8%,#a31a20 55.2%,#7a0f13 58.8%,#861318 60.8%,#b51d23 64.5%,#a11a1f 68.5%,#7a0f13 72.8%,#770e12 80.2%,#871318 81.5%,#7e1015 82.8%,#a01a1f 84.2%,#861318 85.8%,#b81d24 87.2%,#831216 88.8%,#861317 89.2%,#ba1d24 90.2%,#ca1e26 90.8%,#7e1015 92.5%,#8a1419 93.2%,#cf1e26 94.2%,#e11d25 94.8%,#cb1e26 95.5%,#861318 96.5%,#7c1014 97.2%,#98171d 97.8%,#ca1e26 98.5%,#ed1c24 99.2%,#ed2424)"></i><i style="top:332.88px;height:4.66px;background:linear-gradient(90deg,#90161b,#8e151a 48.5%,#96171c 51.2%,#851317 54.5%,#a91c22 57.5%,#7f1015 61.2%,#770e13 62.8%,#a81c22 66.8%,#b31d23 70.5%,#b01c23 72.2%,#841217 77.2%,#831217 80.5%,#740d11 81.8%,#7f1015 83.2%,#6f0c10 84.2%,#891419 85.8%,#730d11 87.5%,#a11a20 88.8%,#a21a20 89.2%,#7d1014 90.2%,#730d11 90.8%,#b81d24 92.5%,#ab1c22 93.2%,#6b0d10 94.5%,#7b0f14 95.2%,#bd1d24 96.2%,#d21e26 96.8%,#bd1d24 97.5%,#8d151a 98.2%,#5c0f12 99.2%,#710c10)"></i><i style="top:336.94px;height:4.66px;background:linear-gradient(90deg,#99181d,#8c151a 50.8%,#99181d 53.8%,#801116 56.8%,#a81b21 60.5%,#760e12 66.2%,#b61d23 73.2%,#bb1d24 75.2%,#9d191e 78.5%,#a41a20 79.5%,#90151b 80.8%,#9c191e 82.2%,#841217 83.2%,#91161b 84.8%,#730d11 86.2%,#881318 87.8%,#5f0e12 89.2%,#97171d 90.8%,#881318 91.5%,#5a0f12 92.5%,#5c0f12 92.8%,#a31a20 94.2%,#ab1c22 94.8%,#531012 96.5%,#521012 96.8%,#bf1d25 98.8%,#b01c23)"></i><i style="top:341.00px;height:4.66px;background:linear-gradient(90deg,#93161b,#94161c 50.5%,#8a1419 53.2%,#9e191f 56.5%,#7e1015 59.5%,#aa1c22 64.2%,#780e13 69.2%,#8a1419 73.2%,#b01c23 76.2%,#ae1c22 77.2%,#bd1d24 78.5%,#ad1c22 79.5%,#ba1d24 80.8%,#a11a20 82.2%,#b81d24 83.5%,#96171d 84.8%,#b51d23 86.2%,#841217 87.8%,#a61b21 89.2%,#a41b20 89.5%,#7c1014 90.5%,#710c10 91.2%,#a11a1f 92.8%,#8c141a 93.5%,#580f12 94.5%,#570f12 94.8%,#9f191f 96.2%,#ac1c22 96.8%,#93161c 97.5%,#521012 98.5%,#4a1112 98.8%,#650d11)"></i><i style="top:345.06px;height:4.66px;background:linear-gradient(90deg,#8c141a,#96171c 52.8%,#881318 55.8%,#a31a20 58.8%,#7f1115 62.5%,#ae1c23 67.5%,#841217 71.5%,#7b0f14 74.5%,#90161b 78.5%,#aa1c22 79.8%,#a11a20 80.8%,#bb1d24 82.2%,#a31a20 83.5%,#c21d25 84.8%,#9f191f 86.2%,#cb1e26 87.8%,#97171d 89.2%,#95171c 89.5%,#c71e26 90.8%,#c81e26 91.2%,#7e1015 92.8%,#8c141a 93.5%,#b91d24 94.5%,#bb1d24 94.8%,#620e11 96.8%,#b71d24 98.5%,#b91d24 99.2%,#a21a20)"></i><i style="top:349.12px;height:4.66px;background:linear-gradient(90deg,#90161b,#8c151a 52.5%,#98171d 55.2%,#841217 58.2%,#a41b20 61.5%,#831216 64.5%,#7f1115 66.2%,#b01c23 70.8%,#871318 75.8%,#790f13 79.5%,#861318 82.2%,#a41a20 83.5%,#92161b 84.8%,#b71d24 86.2%,#97171d 87.8%,#ca1e26 89.2%,#cb1e26 89.5%,#99181d 90.8%,#99181d 91.2%,#cb1e26 92.2%,#da1d25 92.8%,#d31e26 93.2%,#8c151a 94.5%,#95171c 95.2%,#ce1e26 96.2%,#d51d25 96.5%,#c71e26 97.2%,#841217 98.2%,#780e13 98.5%,#7a0f13 99.2%,#92161b)"></i><i style="top:353.19px;height:4.66px;background:linear-gradient(90deg,#8e151a,#94161c 52.2%,#8b1419 54.8%,#9a181e 57.8%,#821216 60.5%,#a41b20 64.2%,#7c1014 68.8%,#ae1c23 73.8%,#a31a20 77.8%,#7b0f14 81.5%,#770e12 83.5%,#8b1419 85.2%,#7f1115 86.5%,#a11a20 87.8%,#851317 89.5%,#b81d24 90.8%,#ba1d24 91.2%,#94171c 92.2%,#8c151a 92.8%,#d21e26 94.2%,#d81d25 94.5%,#c91e26 95.2%,#9f191f 95.8%,#8c141a 96.5%,#a31a20 97.2%,#d01e26 97.8%,#e51c24 98.5%,#e11d25 98.8%,#af1c23)"></i><i style="top:357.25px;height:4.66px;background:linear-gradient(90deg,#97171d,#95171c 54.5%,#891419 57.2%,#9e191f 60.2%,#821116 63.5%,#a51b21 67.5%,#7c1014 72.2%,#b41d23 79.2%,#a61b21 80.5%,#b01c23 81.5%,#92161b 82.8%,#95171c 84.2%,#7e1015 85.2%,#881318 86.8%,#760e12 88.2%,#92161b 89.5%,#750e12 91.2%,#a31a20 92.8%,#790f13 94.5%,#8e151a 95.2%,#c41e25 96.2%,#c71e25 96.5%,#891419 97.8%,#831216 98.5%,#cb1e26 99.8%,#cb1e26)"></i><i style="top:361.31px;height:4.66px;background:linear-gradient(90deg,#91161b,#8c151a 54.2%,#97171d 56.8%,#881318 59.5%,#a11a1f 62.5%,#811116 65.8%,#a91c22 70.8%,#7e1015 75.5%,#90161b 79.2%,#a61b21 80.5%,#a11a1f 81.5%,#bc1d24 82.8%,#a51b21 84.2%,#b81d24 85.5%,#90151b 86.8%,#a21a20 88.2%,#7c1014 89.8%,#96171c 91.5%,#710c11 92.8%,#99181d 94.5%,#97171d 94.8%,#640e11 96.2%,#640e11 96.5%,#a31a20 97.8%,#ad1c22 98.5%,#780e13)"></i><i style="top:365.37px;height:4.66px;background:linear-gradient(90deg,#8e151a,#94161c 54.2%,#8b1419 56.2%,#98181d 59.2%,#861317 62.2%,#a21a20 65.2%,#831216 68.8%,#881318 70.5%,#ad1c22 73.5%,#831216 78.2%,#801115 80.5%,#881318 82.8%,#a71b21 84.2%,#9d191e 85.5%,#c31d25 86.8%,#9f191f 88.5%,#bf1d24 89.8%,#8a1419 91.5%,#b01c23 92.8%,#af1c23 93.2%,#861317 94.2%,#790f13 94.8%,#a71b21 96.5%,#5b0f12 98.5%,#96171c)"></i><i style="top:369.43px;height:4.66px;background:linear-gradient(90deg,#90161b,#95171c 56.2%,#8b1419 58.5%,#9a181e 61.8%,#841217 64.8%,#a21a20 67.8%,#811116 72.5%,#af1c23 76.8%,#841217 81.8%,#7c1014 84.5%,#8b1419 85.8%,#831217 86.8%,#af1c23 88.5%,#97171d 89.8%,#c71e26 91.5%,#96171c 92.8%,#94161c 93.2%,#c51e25 94.5%,#c61e25 94.8%,#841217 96.5%,#93161b 97.2%,#c01d25 98.2%,#c01d25 98.5%,#821216)"></i><i style="top:373.49px;height:4.66px;background:linear-gradient(90deg,#8f151a,#8c151a 56.2%,#96171c 58.2%,#8a1419 61.2%,#9d191e 64.2%,#831217 67.2%,#a21a20 70.8%,#801116 75.5%,#af1c23 79.8%,#a31a20 81.2%,#ab1c22 82.2%,#94171c 83.5%,#9c181e 84.5%,#821216 85.8%,#881318 87.2%,#770e12 88.5%,#91161b 89.8%,#831217 91.5%,#b61d24 92.8%,#b91d24 93.2%,#97171d 94.2%,#8f151a 94.8%,#c91e26 96.2%,#cd1e26 96.5%,#c71e26 96.8%,#94161c 97.8%,#8b1419 98.5%,#cb1e26)"></i><i style="top:377.55px;height:4.66px;background:linear-gradient(90deg,#94171c,#94171c 55.8%,#8c1419 58.2%,#97171d 60.5%,#881318 63.5%,#a0191f 66.5%,#841217 69.8%,#a51b20 74.8%,#801116 78.5%,#831217 79.8%,#9a181d 81.2%,#98181d 82.2%,#af1c23 83.5%,#9f191f 84.8%,#b21c23 86.2%,#93161c 87.5%,#a01a1f 88.8%,#7c1014 90.2%,#8b1419 91.5%,#740d11 93.2%,#a11a1f 94.8%,#7f1115 96.5%,#c21d25 98.2%,#b51d23 98.8%,#851217)"></i><i style="top:381.61px;height:4.66px;background:linear-gradient(90deg,#8e151a,#95171c 57.8%,#8b1419 60.2%,#98181d 63.2%,#861318 66.2%,#a11a20 69.2%,#851217 72.8%,#a81c22 77.8%,#801115 81.5%,#841217 83.5%,#9c181e 84.8%,#94171c 86.2%,#b31d23 87.5%,#9c191e 88.8%,#bc1d24 90.2%,#8c141a 91.8%,#a21a20 93.2%,#7c1014 94.5%,#750e12 95.2%,#96171c 96.5%,#710c10 98.2%,#7e1015 98.8%,#ac1c22)"></i><i style="top:385.67px;height:4.66px;background:linear-gradient(90deg,#90161b,#8d151a 57.5%,#95171c 60.2%,#8b1419 62.5%,#9b181e 65.8%,#851217 68.5%,#a11a20 71.8%,#841217 76.2%,#aa1c22 79.5%,#a91c22 81.5%,#8e151a 82.8%,#7f1115 85.2%,#8a1419 86.2%,#821216 87.5%,#9f191f 88.8%,#90151b 90.2%,#bf1d25 91.8%,#99181d 93.5%,#bf1d25 94.8%,#b11c23 95.5%,#841217 96.5%,#841217 97.2%,#a31a20 98.5%,#730d11)"></i><i style="top:389.73px;height:4.66px;background:linear-gradient(90deg,#90151b,#8d151a 59.5%,#96171c 62.5%,#8a1419 65.2%,#9d191e 68.2%,#851217 71.2%,#a21a20 74.5%,#831216 79.2%,#95171c 81.5%,#b01c23 82.8%,#a0191f 84.2%,#a71b21 85.2%,#8b1419 86.5%,#91161b 87.8%,#7d1015 89.2%,#8f151a 90.5%,#7f1115 91.8%,#ab1c22 93.5%,#90161b 94.8%,#93161c 95.2%,#ca1e26 96.5%,#c11d25 97.2%,#91161b 98.2%,#8d151a 98.5%,#ba1d24)"></i><i style="top:393.80px;height:4.66px;background:linear-gradient(90deg,#92161b,#8d151a 61.8%,#97171d 64.8%,#891419 67.5%,#a0191f 70.5%,#861318 73.8%,#a51b20 77.8%,#861318 80.8%,#821216 82.8%,#b21c23 86.8%,#9b181e 87.8%,#a51b21 89.5%,#861318 90.8%,#95171c 92.2%,#780f13 93.5%,#95171c 95.2%,#811116 96.8%,#bc1d24 98.2%,#bf1d25 98.5%,#90161b)"></i><i style="top:397.86px;height:4.66px;background:linear-gradient(90deg,#91161b,#8d151a 59.5%,#95171c 61.5%,#8d151a 64.2%,#99181d 67.2%,#871318 69.8%,#a11a1f 73.2%,#871318 76.2%,#a91c22 80.8%,#811116 84.5%,#861318 86.8%,#a51b21 88.2%,#99181d 89.5%,#b51d23 90.8%,#94161c 92.2%,#ab1c22 93.8%,#801115 95.2%,#94171c 96.8%,#730d11 98.5%,#9f191f)"></i><i style="top:401.92px;height:4.66px;background:linear-gradient(90deg,#8f151a,#8d151a 61.5%,#96171c 63.8%,#8c151a 66.8%,#9b181e 69.5%,#861318 72.5%,#a01a1f 75.8%,#861318 79.2%,#8a1419 80.8%,#a0191f 82.2%,#ac1c22 84.5%,#90161b 85.8%,#7e1015 88.2%,#90151b 89.5%,#871318 90.8%,#ab1c22 92.2%,#94161c 93.8%,#bc1d24 95.2%,#b21c23 95.8%,#8d151a 96.8%,#aa1c22 98.5%,#7f1115)"></i><i style="top:405.98px;height:4.66px;background:linear-gradient(90deg,#92161b,#95171c 61.5%,#8c151a 63.8%,#96171c 66.2%,#8b1419 69.2%,#9e191f 71.8%,#871318 74.8%,#9d191e 77.2%,#a01a1f 79.2%,#841217 82.5%,#8e151a 84.5%,#ad1c22 86.2%,#9e191f 87.2%,#a71b21 88.5%,#851217 89.8%,#8e151a 91.2%,#7d1015 92.5%,#9b181e 93.8%,#881318 95.5%,#b81d24 96.8%,#b91d24 97.2%,#91161b 98.5%,#93161c 98.8%,#b81d24)"></i><i style="top:410.04px;height:12.66px;background:linear-gradient(90deg,#90161b,#96171c 68.8%,#8b1419 71.5%,#9c191e 74.5%,#8a1419 77.2%,#9e191f 80.5%,#9e191e 82.5%,#851217 85.8%,#96171c 87.2%,#95171c 88.5%,#ad1c22 89.8%,#96171c 91.2%,#a0191f 92.5%,#861317 93.8%,#95171c 95.5%,#7f1115 96.8%,#a21a20 98.5%,#881318)"></i></div><b class="tx"></b></div>
<div class="h" style="left:105.9px;top:579.7px;width:463.1px;height:406.1px;background:#881318"><div class="hh" style="top:-8px;height:422.1px;background:#881318"><i style="top:0.00px;height:12.66px;background:linear-gradient(90deg,#8c1419,#8e151a 71.8%,#841217 74.8%,#93161b 78.8%,#811116 83.5%,#891418 85.8%,#9c181e 87.2%,#94171c 88.2%,#9e191f 89.5%,#8e151a 90.5%,#93161c 91.8%,#821116 93.2%,#8b1419 94.5%,#7b0f14 95.8%,#8e151a 97.2%,#801115 98.8%,#9c191e)"></i><i style="top:12.06px;height:4.66px;background:linear-gradient(90deg,#871318,#851217 54.5%,#8e151a 56.5%,#841217 58.2%,#8c151a 69.5%,#831216 72.5%,#95171c 75.8%,#811116 80.5%,#a31a20 85.8%,#8c151a 87.2%,#7a0f14 91.8%,#8c151a 93.2%,#811116 94.5%,#a41a20 95.8%,#8d151a 97.2%,#bc1d24 98.8%,#9f191f)"></i><i style="top:16.12px;height:4.66px;background:linear-gradient(90deg,#8a1419,#841217 69.8%,#94171c 72.8%,#811116 76.8%,#9f191f 82.5%,#7d1015 85.8%,#7b0f14 87.8%,#8a1419 89.2%,#861318 90.5%,#9c191e 91.5%,#8e151a 92.8%,#b11c23 94.5%,#92161b 95.8%,#b01c23 97.2%,#7f1115 98.8%,#8f151b)"></i><i style="top:20.18px;height:4.66px;background:linear-gradient(90deg,#871318,#861318 67.5%,#92161b 70.5%,#801116 73.8%,#99181d 79.2%,#7b0f14 84.2%,#881318 86.5%,#9d191e 87.8%,#93161b 88.8%,#a91c22 90.2%,#94171c 91.5%,#aa1c22 92.8%,#861318 94.2%,#92161b 95.8%,#720d11 97.2%,#881318 98.8%,#700c10)"></i><i style="top:24.24px;height:4.66px;background:linear-gradient(90deg,#8a1419,#8d151a 54.5%,#841217 56.5%,#8f151a 67.8%,#801116 71.2%,#96171c 74.8%,#7b1014 80.5%,#8a1419 82.8%,#9f191f 84.2%,#98181d 85.2%,#a41b20 86.5%,#94171c 87.8%,#a01a1f 88.8%,#871318 90.2%,#8f151a 91.5%,#760e12 92.8%,#821216 94.2%,#730d11 95.5%,#93161b 96.8%,#7d1014 98.5%,#ae1c22)"></i><i style="top:28.30px;height:4.66px;background:linear-gradient(90deg,#881318,#8c151a 65.5%,#811116 68.5%,#96171c 71.8%,#7d1015 77.2%,#9f191f 80.8%,#a31a20 82.8%,#871318 86.2%,#750e12 91.2%,#8b1419 92.5%,#801116 93.8%,#a91c22 95.2%,#8a1419 96.8%,#ba1d24 98.5%,#871318)"></i><i style="top:32.37px;height:4.66px;background:linear-gradient(90deg,#881318,#8d151a 54.5%,#841217 66.2%,#96171c 69.2%,#7f1115 73.2%,#a01a1f 79.5%,#821116 82.8%,#7a0f13 87.2%,#891419 88.5%,#871318 89.8%,#a51b21 90.8%,#95171c 92.5%,#b91d24 93.8%,#91161b 95.2%,#b71d24 96.8%,#881318 98.2%,#861318 98.5%,#b61d23)"></i><i style="top:36.43px;height:4.66px;background:linear-gradient(90deg,#881318,#851317 63.2%,#93161c 66.5%,#7e1015 70.2%,#9d191e 75.2%,#7a0f13 81.2%,#8a1419 85.8%,#a31a20 87.2%,#99181d 88.2%,#b51d23 89.5%,#99181d 90.8%,#ad1c22 92.5%,#881318 93.8%,#a41b20 95.2%,#7b0f14 96.8%,#99181d 98.5%,#620e11)"></i><i style="top:40.49px;height:4.66px;background:linear-gradient(90deg,#871318,#851217 52.8%,#90151b 64.2%,#7e1015 67.5%,#99181d 72.2%,#770e13 77.5%,#a21a20 83.5%,#9d191e 84.5%,#b01c23 85.8%,#9c181e 87.2%,#a81c21 88.2%,#891419 89.5%,#95171c 90.8%,#7a0f13 92.2%,#8d151a 93.5%,#710c10 95.2%,#8b1419 96.5%,#600e11 98.2%,#9a181d)"></i><i style="top:44.55px;height:4.66px;background:linear-gradient(90deg,#8c141a,#8c151a 61.2%,#7f1115 64.5%,#98181d 68.2%,#780e13 74.2%,#9c181e 78.2%,#a61b21 82.2%,#99181d 83.5%,#9d191e 84.5%,#891419 85.5%,#881318 86.8%,#770e12 88.2%,#811116 89.2%,#730d11 90.5%,#861318 91.8%,#730d11 93.2%,#90161b 94.8%,#770e12 96.5%,#a81b21 97.8%,#a91c22 98.2%,#7c1014 99.5%,#760e12)"></i><i style="top:48.61px;height:4.66px;background:linear-gradient(90deg,#881318,#8c141a 50.8%,#821216 62.2%,#98171d 65.5%,#7a0f13 70.5%,#a31a20 75.5%,#9a181d 79.2%,#750e12 84.2%,#740d11 86.5%,#841217 87.8%,#7c1014 89.2%,#93161b 90.5%,#801116 91.8%,#a61b21 93.2%,#881318 94.8%,#c01d25 96.2%,#c11d25 96.5%,#98171d 97.5%,#8e151a 98.2%,#cf1e26 99.5%,#d91d25)"></i><i style="top:52.67px;height:4.66px;background:linear-gradient(90deg,#8c1419,#851217 59.2%,#95171c 62.8%,#7b0f14 66.5%,#a41b20 72.5%,#740d11 80.8%,#841217 85.2%,#99181d 86.2%,#8c151a 87.5%,#a81c21 88.8%,#91161b 90.2%,#ba1d24 91.8%,#96171c 93.2%,#c71e26 94.5%,#c91e26 94.8%,#91161b 96.2%,#90151b 96.5%,#c51e25 97.8%,#c71e25 98.2%,#841217 99.5%,#7a0f13)"></i><i style="top:56.73px;height:4.66px;background:linear-gradient(90deg,#841217,#861318 56.5%,#91161b 60.2%,#7a0f14 63.5%,#a01a1f 69.5%,#7c1014 73.5%,#760e12 77.2%,#7f1115 79.5%,#a31a20 82.8%,#9b181e 83.8%,#ac1c22 84.8%,#9c181e 86.2%,#b41d23 87.5%,#9b181e 88.8%,#be1d24 90.2%,#96171d 91.8%,#bb1d24 93.2%,#841217 94.8%,#ae1c23 96.2%,#ae1c22 96.5%,#831216 97.5%,#750d12 98.2%,#b31d23)"></i><i style="top:60.79px;height:4.66px;background:linear-gradient(90deg,#881318,#8e151a 57.2%,#7c1014 60.8%,#9c181e 65.5%,#720d11 71.2%,#891419 76.2%,#ab1c22 79.5%,#b01c23 81.5%,#a31a20 82.8%,#ad1c22 83.8%,#9c181e 84.8%,#ae1c22 86.2%,#95171c 87.5%,#aa1c22 88.8%,#851317 90.2%,#9d191e 91.5%,#750e12 93.2%,#93161c 94.8%,#650e11 96.2%,#99181d 97.8%,#99181d 98.2%,#730d11 99.2%,#570f12 99.5%,#4d1112)"></i><i style="top:64.85px;height:4.66px;background:linear-gradient(90deg,#891419,#8b1419 54.5%,#801115 58.2%,#9c191e 61.8%,#720c11 68.2%,#ad1c22 76.2%,#ad1c22 78.2%,#8d151a 83.5%,#96171c 84.8%,#811116 86.2%,#8b1419 87.2%,#750d12 88.5%,#811116 90.2%,#660d11 91.5%,#871318 92.8%,#5d0f12 94.5%,#92161b 96.2%,#541012 97.8%,#580f12 98.2%,#710c10 98.5%,#9a181d 99.5%,#a11a20)"></i><i style="top:68.91px;height:4.66px;background:linear-gradient(90deg,#8d151a,#831217 55.2%,#9a181d 59.2%,#7b0f14 62.2%,#750e12 64.5%,#a11a1f 69.2%,#a81b21 73.5%,#861317 78.5%,#710c10 84.5%,#770e12 85.8%,#660d11 86.8%,#7c1014 88.2%,#6d0c10 89.5%,#8c151a 91.2%,#710c10 92.8%,#99181d 94.2%,#680d11 95.8%,#a91c22 97.8%,#a31a20 98.2%,#600e11 99.5%,#561012)"></i><i style="top:72.98px;height:4.66px;background:linear-gradient(90deg,#90161b,#861318 52.5%,#94171c 56.2%,#750e12 60.2%,#aa1c22 66.8%,#740d11 75.8%,#700c10 82.8%,#7c1014 84.2%,#770e13 85.5%,#8e151a 86.8%,#7e1015 88.2%,#9e191f 89.5%,#7f1115 91.2%,#aa1c22 92.5%,#7c1014 94.2%,#bf1d25 95.8%,#be1d24 96.2%,#8c141a 97.2%,#7e1015 97.8%,#95171c 98.5%,#d31e26 99.5%,#dd1d25)"></i><i style="top:77.04px;height:4.66px;background:linear-gradient(90deg,#861318,#8f151a 53.2%,#770e12 57.2%,#a81c22 63.5%,#5c0f12 73.2%,#750e12 76.2%,#831217 81.5%,#97171d 82.8%,#8f151a 84.2%,#a61b21 85.2%,#92161b 86.8%,#af1c23 87.8%,#8e151a 89.5%,#bc1d24 90.8%,#8e151a 92.5%,#ce1e26 94.2%,#cb1e26 94.5%,#8f151a 95.8%,#8f151a 96.2%,#d81d25 97.8%,#cb1e26 98.5%,#8f151a 99.5%,#831217)"></i><i style="top:81.10px;height:4.66px;background:linear-gradient(90deg,#851217,#8b1419 50.5%,#7e1015 54.5%,#a41a20 58.8%,#9a181d 61.2%,#6b0d10 65.5%,#5d0f12 69.2%,#7a0f13 71.8%,#a11a1f 80.5%,#b01c23 81.5%,#a31a20 82.8%,#b41d23 84.2%,#9f191f 85.2%,#ba1d24 86.5%,#9d191e 87.8%,#c51e25 89.5%,#9d191e 90.8%,#d01e26 92.5%,#98171d 94.2%,#a61b21 94.8%,#d31e26 95.8%,#d51d25 96.2%,#97171d 97.5%,#891419 98.2%,#d51d25)"></i><i style="top:85.16px;height:4.66px;background:linear-gradient(90deg,#841217,#831216 51.2%,#a21a20 55.8%,#580f12 62.2%,#9c181e 70.8%,#b71d24 78.2%,#b71d24 80.5%,#ab1c22 81.5%,#b71d24 82.8%,#a71b21 83.8%,#be1d24 85.2%,#a61b21 86.5%,#c81e26 87.8%,#a21a20 89.2%,#a31a20 89.5%,#cd1e26 90.8%,#95171c 92.5%,#99181d 92.8%,#c71e26 93.8%,#cd1e26 94.5%,#8a1419 95.8%,#861318 96.2%,#8b1419 96.5%,#c21d25 97.5%,#d71d25 98.2%,#c51e25 98.8%,#891418 99.8%,#891418)"></i><i style="top:89.22px;height:4.66px;background:linear-gradient(90deg,#851317,#861318 48.8%,#97171d 52.8%,#5c0f12 58.5%,#861318 62.2%,#ab1c22 67.2%,#b81d24 75.2%,#a81c22 80.2%,#b31d23 81.5%,#a61b21 82.5%,#bb1d24 83.8%,#a41b20 85.2%,#bf1d25 86.5%,#99181d 87.8%,#c11d25 89.2%,#8a1419 90.8%,#c61e25 92.5%,#c11d25 92.8%,#8a1419 93.8%,#801116 94.5%,#d21e26 96.2%,#c31d25 96.8%,#811116 97.8%,#750e12 98.5%,#b71d24)"></i><i style="top:93.28px;height:4.66px;background:linear-gradient(90deg,#90161b,#871318 43.5%,#8f151b 49.5%,#6e0c10 54.2%,#7f1115 56.8%,#a71b21 60.2%,#b91d24 65.2%,#a11a1f 77.2%,#aa1c22 80.2%,#9e191f 81.2%,#ae1c23 82.5%,#97171d 83.8%,#ad1c22 84.8%,#8b1419 86.2%,#ad1c22 87.8%,#811116 89.2%,#b71d24 90.8%,#790f13 92.5%,#891419 93.2%,#c21d25 94.2%,#c51e25 94.5%,#bc1d24 94.8%,#7d1015 95.8%,#6b0d10 96.5%,#851217 97.2%,#c51e25 98.2%,#cd1e26 98.5%,#cb1e26 98.8%,#9a181e)"></i><i style="top:97.34px;height:4.66px;background:linear-gradient(90deg,#881318,#8b1419 46.8%,#790f13 50.8%,#bb1d24 58.2%,#91161b 74.2%,#98171d 78.8%,#8c151a 80.2%,#96171c 81.2%,#851217 82.5%,#94161c 83.5%,#7d1014 84.8%,#99181d 86.2%,#790f13 87.5%,#a61b21 89.2%,#710c10 90.8%,#b11c23 92.5%,#a01a1f 93.2%,#5f0e12 94.2%,#560f12 94.5%,#5d0f12 94.8%,#9e191f 95.8%,#b51d23 96.5%,#a31a20 97.2%,#471112 98.5%,#461112 99.2%,#660d11)"></i><i style="top:101.40px;height:4.66px;background:linear-gradient(90deg,#841217,#8b1419 41.8%,#821216 47.5%,#891419 49.2%,#ad1c22 52.2%,#b81d24 55.5%,#8d151a 63.8%,#7d1015 70.8%,#811116 75.8%,#740d11 80.8%,#7f1115 82.2%,#720d11 83.5%,#871318 84.8%,#6e0c10 86.2%,#92161b 87.5%,#841217 88.2%,#590f12 89.2%,#881318 90.2%,#99181d 90.8%,#841217 91.5%,#551012 92.2%,#4c1112 92.5%,#590f12 93.2%,#770e12 93.5%,#9d191e 94.5%,#8c151a 95.2%,#471112 96.2%,#3c1111 96.8%,#590f12 97.5%,#7b0f14 97.8%,#9f191f 98.5%,#aa1c22 99.2%,#9d191e)"></i><i style="top:105.46px;height:4.66px;background:linear-gradient(90deg,#851217,#871318 44.8%,#a51b21 50.2%,#740d11 61.2%,#700c10 65.5%,#580f12 68.5%,#660d11 72.2%,#580f12 79.5%,#710c10 80.8%,#590f12 81.8%,#790f13 83.2%,#710c10 83.8%,#561012 84.5%,#7e1015 85.8%,#750e12 86.5%,#511012 87.2%,#4d1112 87.5%,#521012 87.8%,#780e13 88.5%,#811116 89.2%,#6b0d10 89.8%,#511012 90.2%,#431212 90.8%,#5a0f12 91.5%,#770e12 91.8%,#891419 92.5%,#7e1015 93.2%,#4f1012 93.8%,#391010 94.5%,#481112 95.2%,#7b0f14 95.8%,#9b181e 96.8%,#770e12 97.8%,#551012 98.2%,#320f0f 98.8%,#2d0e0e)"></i><i style="top:109.53px;height:4.66px;background:linear-gradient(90deg,#821116,#871318 40.2%,#94161c 45.8%,#531012 54.2%,#3d1111 65.2%,#411212 73.8%,#551012 79.5%,#4c1112 80.8%,#5a0f12 81.8%,#471112 83.2%,#5f0e12 84.5%,#431212 85.8%,#511012 86.5%,#700c10 87.2%,#6e0c10 87.5%,#3f1212 88.8%,#4e1012 89.5%,#760e12 90.2%,#7d1014 90.8%,#760e12 91.2%,#4a1112 91.8%,#381010 92.5%,#481112 93.2%,#780f13 93.8%,#8c141a 94.5%,#831217 95.2%,#760e12 95.5%,#421212 96.2%,#2c0e0e 96.8%,#361010 97.5%,#881318 98.8%,#9c191e)"></i><i style="top:113.59px;height:4.66px;background:linear-gradient(90deg,#891419,#8c151a 42.8%,#720c11 45.8%,#5b0f12 46.5%,#3b1111 48.5%,#240c0c 52.8%,#2c0e0e 69.8%,#3f1212 76.2%,#3e1111 81.5%,#4a1112 82.8%,#3f1212 84.2%,#580f12 85.5%,#3e1111 87.2%,#501012 87.8%,#720d11 88.5%,#750d12 88.8%,#391010 90.5%,#451212 91.2%,#710c10 91.8%,#7f1115 92.5%,#750d12 93.2%,#391010 94.2%,#2e0e0e 94.8%,#3f1212 95.5%,#7a0f14 96.5%,#841217 97.2%,#780f13 97.8%,#2e0e0e 99.2%,#1e0a0a)"></i><i style="top:117.65px;height:4.66px;background:linear-gradient(90deg,#97171d,#8c141a 1.2%,#891419 6.8%,#891419 41.2%,#740d12 43.2%,#541012 44.2%,#3b1111 46.2%,#0a0404 54.8%,#180808 66.2%,#421212 81.2%,#3c1111 82.5%,#501012 83.8%,#3d1111 85.5%,#5d0f12 86.8%,#3a1111 88.8%,#700c10 90.5%,#340f0f 92.5%,#3d1111 93.2%,#6c0d10 94.2%,#760e12 94.8%,#720d11 95.2%,#361010 96.5%,#2a0d0d 97.2%,#320f0f 97.8%,#590f12 98.8%,#730d11 99.2%,#821216)"></i><i style="top:121.71px;height:4.66px;background:linear-gradient(90deg,#90161b,#871318 39.5%,#770e13 40.8%,#560f12 41.8%,#4d1112 42.5%,#070303 56.5%,#1d0a0a 72.2%,#461112 82.5%,#3a1111 83.8%,#4c1112 85.2%,#3c1111 86.8%,#541012 88.5%,#3b1111 90.5%,#660d11 92.5%,#361010 94.2%,#320f0f 94.8%,#491112 95.8%,#760e12 96.8%,#7a0f14 97.5%,#710c10 98.2%,#401212 99.2%,#2e0e0e)"></i><i style="top:125.77px;height:4.66px;background:linear-gradient(90deg,#8a1419,#891419 37.5%,#7f1015 38.5%,#590f12 39.5%,#4f1012 40.2%,#461112 46.8%,#0a0303 56.5%,#150707 61.8%,#0c0404 68.2%,#2f0e0e 76.5%,#3e1111 84.8%,#4c1112 86.2%,#3e1111 88.2%,#5d0f12 90.2%,#371010 92.2%,#461112 93.2%,#6f0c10 94.2%,#740d12 94.8%,#361010 96.8%,#2e0e0e 97.8%,#441212 98.8%,#6f0c10)"></i><i style="top:129.83px;height:4.66px;background:linear-gradient(90deg,#8d151a,#8e151a 35.8%,#841217 36.8%,#560f12 38.5%,#4b1112 47.8%,#0b0404 57.5%,#170808 63.2%,#0b0404 65.5%,#100505 68.5%,#3c1111 82.8%,#4a1112 84.2%,#3f1212 86.2%,#580f12 87.8%,#3d1111 90.2%,#670d11 92.2%,#361010 94.8%,#401212 95.8%,#740d11 97.8%,#710c10 98.5%,#4e1012)"></i><i style="top:133.89px;height:4.66px;background:linear-gradient(90deg,#861317,#90151b 34.2%,#7f1115 35.5%,#5a0f12 36.8%,#4f1012 49.2%,#150707 55.8%,#0d0404 58.8%,#150707 64.5%,#0c0404 68.8%,#3d1111 79.8%,#3f1212 84.2%,#4f1012 86.2%,#431212 87.8%,#541012 89.8%,#411212 92.2%,#5b0f12 94.8%,#3e1111 97.8%,#561012)"></i><i style="top:137.95px;height:4.66px;background:linear-gradient(90deg,#7c1014,#8a1419 1.5%,#8e151a 32.5%,#821216 33.8%,#570f12 35.2%,#521012 35.8%,#660d11 42.5%,#541012 46.5%,#531012 50.8%,#100505 57.8%,#160808 65.8%,#0c0404 67.8%,#391010 78.8%,#4e1012 86.8%,#481112 89.2%,#570f12 91.5%,#3f1212 94.5%,#760e12 97.8%,#640e11)"></i><i style="top:142.01px;height:4.66px;background:linear-gradient(90deg,#7a0f13,#8c141a 1.5%,#8d151a 30.5%,#841217 33.2%,#5c0f12 35.2%,#551012 38.8%,#710c10 46.5%,#551012 49.5%,#580f12 52.8%,#290d0d 55.8%,#0e0505 59.5%,#180808 66.8%,#100505 69.5%,#4f1012 84.2%,#471112 86.5%,#5a0f12 88.8%,#421212 91.5%,#700c10 94.5%,#471112 97.8%,#4f1012)"></i><i style="top:146.07px;height:4.66px;background:linear-gradient(90deg,#841217,#8f151a 31.8%,#720d11 33.8%,#710c10 40.2%,#580f12 43.8%,#770e12 50.2%,#6f0c10 51.5%,#5a0f12 52.5%,#4b1112 55.2%,#1a0909 57.8%,#0e0505 60.2%,#100606 69.8%,#371010 77.2%,#560f12 86.5%,#4a1112 88.8%,#5a0f12 91.8%,#4b1112 94.8%,#580f12 96.5%,#710c10 97.5%,#790f13)"></i><i style="top:150.13px;height:4.66px;background:linear-gradient(90deg,#8a1419,#8f151a 30.2%,#841217 31.2%,#560f12 32.8%,#7c1014 41.8%,#680d11 49.5%,#740d11 53.5%,#6e0c10 54.5%,#411212 56.8%,#160707 58.8%,#0c0404 60.5%,#130707 70.2%,#4c1112 81.8%,#521012 90.8%,#680d11 94.5%,#5d0f12)"></i><i style="top:154.20px;height:4.66px;background:linear-gradient(90deg,#8b1419,#8c141a 28.2%,#891419 30.2%,#710c10 31.8%,#670d11 35.5%,#760e12 55.5%,#6f0c10 56.5%,#401212 58.2%,#130707 59.8%,#090303 60.8%,#140707 70.5%,#4c1112 80.5%,#590f12 84.5%,#511012 87.2%,#670d11 89.8%,#531012 93.5%,#780f13 96.8%,#7e1015)"></i><i style="top:158.26px;height:4.66px;background:linear-gradient(90deg,#8f151a,#8e151a 29.5%,#720d11 32.2%,#7c1014 56.5%,#730d11 57.8%,#190909 60.8%,#0d0404 62.2%,#0b0404 69.2%,#3d1111 76.5%,#580f12 82.8%,#551012 84.8%,#630e11 87.2%,#560f12 90.8%,#710c10 92.5%,#7c1014 94.5%,#710c10 97.8%,#590f12)"></i><i style="top:162.32px;height:4.66px;background:linear-gradient(90deg,#93161b,#891419 1.5%,#8b1419 28.5%,#5b0f12 31.2%,#790f13 38.2%,#861318 57.5%,#710c10 59.5%,#391010 60.8%,#180808 62.5%,#0a0303 69.2%,#590f12 81.5%,#780f13)"></i><i style="top:166.38px;height:4.66px;background:linear-gradient(90deg,#98181d,#8a1419 2.5%,#8c141a 28.5%,#780e13 29.8%,#740d11 35.5%,#95171c 58.8%,#7d1015 60.5%,#3d1111 61.8%,#1f0b0b 63.5%,#090303 69.8%,#391010 74.8%,#590f12 80.2%,#590f12 82.2%,#700c10 83.8%,#5a0f12 86.8%,#801116 92.2%,#6c0c10)"></i><i style="top:170.44px;height:4.66px;background:linear-gradient(90deg,#93161c,#8a1419 1.5%,#8a1419 27.5%,#600e11 30.2%,#790f13 36.5%,#891419 53.5%,#a91c22 60.2%,#9c181e 61.2%,#720d11 62.2%,#451212 62.8%,#280d0d 64.2%,#0a0404 70.2%,#411212 75.5%,#5a0f12 80.5%,#710c10 82.2%,#6a0d11 85.2%,#790f13 88.8%,#801116)"></i><i style="top:174.50px;height:4.66px;background:linear-gradient(90deg,#8f151a,#8c151a 26.8%,#760e12 29.2%,#770e12 39.5%,#8c151a 54.2%,#9f191f 58.5%,#c11d25 61.8%,#ae1c22 62.5%,#4c1112 64.2%,#2d0e0e 65.2%,#0d0404 70.5%,#421212 74.8%,#5b0f12 79.2%,#730d11 80.8%,#861317 92.2%,#831217)"></i><i style="top:178.56px;height:4.66px;background:linear-gradient(90deg,#90161b,#8c151a 26.8%,#6a0d11 29.2%,#770e12 32.5%,#8f151a 55.2%,#a91c22 60.2%,#dd1d25 62.8%,#c51e25 63.8%,#790f13 65.2%,#5c0f12 65.5%,#351010 66.5%,#1c0a0a 68.2%,#110606 70.8%,#401212 74.2%,#750e12 79.5%,#891419 91.2%,#891419)"></i><i style="top:182.62px;height:4.66px;background:linear-gradient(90deg,#8a1419,#891419 26.5%,#740d12 28.5%,#710c10 31.5%,#851217 49.8%,#a61b21 60.8%,#ba1d24 62.5%,#ec1c24 63.8%,#ed1e24 64.8%,#d51d25 65.5%,#551012 67.5%,#3a1111 68.2%,#1f0b0b 69.5%,#150707 71.2%,#3e1111 73.5%,#750e12 78.2%,#801116 85.5%,#97171d 89.5%,#95171c)"></i><i style="top:186.68px;height:4.66px;background:linear-gradient(90deg,#821216,#8b1419 25.8%,#730d11 28.5%,#871318 51.5%,#b11c23 63.2%,#bb1d24 63.8%,#ed2424 65.2%,#ef3a24 66.2%,#ed1c24 67.2%,#521012 69.8%,#340f0f 70.8%,#270d0d 71.8%,#730d11 76.5%,#841217 80.2%,#831217 83.8%,#a01a1f 87.5%,#891419)"></i><i style="top:190.75px;height:4.66px;background:linear-gradient(90deg,#7f1115,#8b1419 3.2%,#8c151a 25.8%,#710c10 28.8%,#8d151a 54.8%,#b31d23 65.2%,#c71e25 65.8%,#ed1c24 66.5%,#f04d23 67.8%,#ef4323 68.5%,#ec1c24 69.5%,#91161b 71.2%,#660d11 72.5%,#700c10 73.5%,#600e11 74.5%,#720d11 75.5%,#861318 78.5%,#8a1419 82.2%,#a81c21 86.5%,#9d191e 90.8%,#a71b21 95.5%,#95171c)"></i><i style="top:194.81px;height:4.66px;background:linear-gradient(90deg,#7d1015,#8a1419 1.5%,#8d151a 25.8%,#680d11 28.2%,#7b0f14 34.8%,#841217 50.2%,#aa1c22 63.2%,#bc1d24 65.5%,#b61d23 66.8%,#c41e25 67.5%,#e71c24 68.2%,#f15a22 69.5%,#f26422 70.2%,#f15722 70.8%,#ed2424 72.2%,#e31d25 73.2%,#8e151a 74.8%,#801116 75.5%,#b81d24 85.8%,#b11c23 93.2%,#97171d)"></i><i style="top:198.87px;height:4.66px;background:linear-gradient(90deg,#811116,#8c151a 25.8%,#6d0c10 27.8%,#811116 46.5%,#a91c22 63.8%,#c31e25 67.5%,#b41d23 68.8%,#bf1d25 69.5%,#df1d25 70.2%,#ed2324 70.5%,#f26122 71.5%,#fcb114 73.5%,#faa618 73.8%,#ee2924 75.2%,#e31d25 75.5%,#bd1d24 76.2%,#a71b21 77.2%,#ae1c22 80.8%,#d01e26 85.2%,#c91e26 91.2%,#a21a20)"></i><i style="top:202.93px;height:4.66px;background:linear-gradient(90deg,#831216,#8b1419 25.5%,#730d11 27.5%,#710c11 29.5%,#8a1419 53.8%,#b01c23 67.5%,#d31e26 69.5%,#b81d24 71.2%,#c51e25 71.8%,#ed1e24 72.5%,#ef4023 72.8%,#f47521 73.2%,#ffe700 73.8%,#f6ec2c 74.2%,#f7ed37 74.5%,#f6ec2e 74.8%,#ffde03 75.5%,#f58420 76.5%,#ed1d24 77.8%,#cc1e26 78.5%,#bd1d24 79.2%,#c31d25 79.8%,#ed1f24 81.5%,#ee3324 83.5%,#ed1d24 88.8%,#be1d24 93.8%,#ac1c22)"></i><i style="top:206.99px;height:4.66px;background:linear-gradient(90deg,#7e1015,#891419 1.5%,#8a1419 25.5%,#710c10 27.8%,#801116 49.5%,#97171d 60.5%,#a91c22 64.8%,#c31d25 67.5%,#bc1d24 69.5%,#de1d25 71.2%,#ed1c24 72.8%,#ee2d24 73.2%,#f58220 74.2%,#ffd705 75.2%,#faea17 75.5%,#f7ee41 75.8%,#f9f176 76.5%,#faf391 77.2%,#faf49b 78.2%,#faf394 78.8%,#f9f174 79.8%,#ffe501 81.8%,#f58020 84.5%,#ed2424 89.2%,#a51b21)"></i><i style="top:211.05px;height:4.66px;background:linear-gradient(90deg,#7e1015,#891419 1.5%,#8a1419 25.5%,#710c10 27.8%,#801116 49.5%,#97171d 60.5%,#a91c22 64.8%,#c31d25 67.5%,#bc1d24 69.5%,#de1d25 71.2%,#ed1c24 72.8%,#ee2d24 73.2%,#f58220 74.2%,#ffd705 75.2%,#faea17 75.5%,#f7ee41 75.8%,#f9f176 76.5%,#faf391 77.2%,#faf49b 78.2%,#faf394 78.8%,#f9f174 79.8%,#ffe501 81.8%,#f58020 84.5%,#ed2424 89.2%,#a51b21)"></i><i style="top:215.11px;height:4.66px;background:linear-gradient(90deg,#831216,#8b1419 25.5%,#730d11 27.5%,#710c11 29.5%,#8a1419 53.8%,#b01c23 67.5%,#d31e26 69.5%,#b81d24 71.2%,#c51e25 71.8%,#ed1e24 72.5%,#ef4023 72.8%,#f47521 73.2%,#ffe700 73.8%,#f6ec2c 74.2%,#f7ed37 74.5%,#f6ec2e 74.8%,#ffde03 75.5%,#f58420 76.5%,#ed1d24 77.8%,#cc1e26 78.5%,#bd1d24 79.2%,#c31d25 79.8%,#ed1f24 81.5%,#ee3324 83.5%,#ed1d24 88.8%,#be1d24 93.8%,#ac1c22)"></i><i style="top:219.17px;height:4.66px;background:linear-gradient(90deg,#811116,#8c151a 25.8%,#6d0c10 27.8%,#811116 46.5%,#a91c22 63.8%,#c31e25 67.5%,#b41d23 68.8%,#bf1d25 69.5%,#df1d25 70.2%,#ed2324 70.5%,#f26122 71.5%,#fcb114 73.5%,#faa618 73.8%,#ee2924 75.2%,#e31d25 75.5%,#bd1d24 76.2%,#a71b21 77.2%,#ae1c22 80.8%,#d01e26 85.2%,#c91e26 91.2%,#a21a20)"></i><i style="top:223.23px;height:4.66px;background:linear-gradient(90deg,#7d1015,#8a1419 1.5%,#8d151a 25.8%,#680d11 28.2%,#7b0f14 34.8%,#841217 50.2%,#aa1c22 63.2%,#bc1d24 65.5%,#b61d23 66.8%,#c41e25 67.5%,#e71c24 68.2%,#f15a22 69.5%,#f26422 70.2%,#f15722 70.8%,#ed2424 72.2%,#e31d25 73.2%,#8e151a 74.8%,#801116 75.5%,#b81d24 85.8%,#b11c23 93.2%,#97171d)"></i><i style="top:227.29px;height:4.66px;background:linear-gradient(90deg,#7f1115,#8b1419 3.2%,#8c151a 25.8%,#710c10 28.8%,#8d151a 54.8%,#b31d23 65.2%,#c71e25 65.8%,#ed1c24 66.5%,#f04d23 67.8%,#ef4323 68.5%,#ec1c24 69.5%,#91161b 71.2%,#660d11 72.5%,#700c10 73.5%,#600e11 74.5%,#720d11 75.5%,#861318 78.5%,#8a1419 82.2%,#a81c21 86.5%,#9d191e 90.8%,#a71b21 95.5%,#95171c)"></i><i style="top:231.35px;height:4.66px;background:linear-gradient(90deg,#821216,#8b1419 25.8%,#730d11 28.5%,#871318 51.5%,#b11c23 63.2%,#bb1d24 63.8%,#ed2424 65.2%,#ef3a24 66.2%,#ed1c24 67.2%,#521012 69.8%,#340f0f 70.8%,#270d0d 71.8%,#730d11 76.5%,#841217 80.2%,#831217 83.8%,#a01a1f 87.5%,#891419)"></i><i style="top:235.42px;height:4.66px;background:linear-gradient(90deg,#8a1419,#891419 26.5%,#740d12 28.5%,#710c10 31.5%,#851217 49.8%,#a61b21 60.8%,#ba1d24 62.5%,#ec1c24 63.8%,#ed1e24 64.8%,#d51d25 65.5%,#551012 67.5%,#3a1111 68.2%,#1f0b0b 69.5%,#150707 71.2%,#3e1111 73.5%,#750e12 78.2%,#801116 85.5%,#97171d 89.5%,#95171c)"></i><i style="top:239.48px;height:4.66px;background:linear-gradient(90deg,#90161b,#8c151a 26.8%,#6a0d11 29.2%,#770e12 32.5%,#8f151a 55.2%,#a91c22 60.2%,#dd1d25 62.8%,#c51e25 63.8%,#790f13 65.2%,#5c0f12 65.5%,#351010 66.5%,#1c0a0a 68.2%,#110606 70.8%,#401212 74.2%,#750e12 79.5%,#891419 91.2%,#891419)"></i><i style="top:243.54px;height:4.66px;background:linear-gradient(90deg,#8f151a,#8c151a 26.8%,#760e12 29.2%,#770e12 39.5%,#8c151a 54.2%,#9f191f 58.5%,#c11d25 61.8%,#ae1c22 62.5%,#4c1112 64.2%,#2d0e0e 65.2%,#0d0404 70.5%,#421212 74.8%,#5b0f12 79.2%,#730d11 80.8%,#861317 92.2%,#831217)"></i><i style="top:247.60px;height:4.66px;background:linear-gradient(90deg,#93161c,#8a1419 1.5%,#8a1419 27.5%,#600e11 30.2%,#790f13 36.5%,#891419 53.5%,#a91c22 60.2%,#9c181e 61.2%,#720d11 62.2%,#451212 62.8%,#280d0d 64.2%,#0a0404 70.2%,#411212 75.5%,#5a0f12 80.5%,#710c10 82.2%,#6a0d11 85.2%,#790f13 88.8%,#801116)"></i><i style="top:251.66px;height:4.66px;background:linear-gradient(90deg,#98181d,#8a1419 2.5%,#8c141a 28.5%,#780e13 29.8%,#740d11 35.5%,#95171c 58.8%,#7d1015 60.5%,#3d1111 61.8%,#1f0b0b 63.5%,#090303 69.8%,#391010 74.8%,#590f12 80.2%,#590f12 82.2%,#700c10 83.8%,#5a0f12 86.8%,#801116 92.2%,#6c0c10)"></i><i style="top:255.72px;height:4.66px;background:linear-gradient(90deg,#93161b,#891419 1.5%,#8b1419 28.5%,#5b0f12 31.2%,#790f13 38.2%,#861318 57.5%,#710c10 59.5%,#391010 60.8%,#180808 62.5%,#0a0303 69.2%,#590f12 81.5%,#780f13)"></i><i style="top:259.78px;height:4.66px;background:linear-gradient(90deg,#8f151a,#8e151a 29.5%,#720d11 32.2%,#7c1014 56.5%,#730d11 57.8%,#190909 60.8%,#0d0404 62.2%,#0b0404 69.2%,#3d1111 76.5%,#580f12 82.8%,#551012 84.8%,#630e11 87.2%,#560f12 90.8%,#710c10 92.5%,#7c1014 94.5%,#710c10 97.8%,#590f12)"></i><i style="top:263.84px;height:4.66px;background:linear-gradient(90deg,#8b1419,#8c141a 28.2%,#891419 30.2%,#710c10 31.8%,#670d11 35.5%,#760e12 55.5%,#6f0c10 56.5%,#401212 58.2%,#130707 59.8%,#090303 60.8%,#140707 70.5%,#4c1112 80.5%,#590f12 84.5%,#511012 87.2%,#670d11 89.8%,#531012 93.5%,#780f13 96.8%,#7e1015)"></i><i style="top:267.90px;height:4.66px;background:linear-gradient(90deg,#8a1419,#8f151a 30.2%,#841217 31.2%,#560f12 32.8%,#7c1014 41.8%,#680d11 49.5%,#740d11 53.5%,#6e0c10 54.5%,#411212 56.8%,#160707 58.8%,#0c0404 60.5%,#130707 70.2%,#4c1112 81.8%,#521012 90.8%,#680d11 94.5%,#5d0f12)"></i><i style="top:271.96px;height:4.66px;background:linear-gradient(90deg,#841217,#8f151a 31.8%,#720d11 33.8%,#710c10 40.2%,#580f12 43.8%,#770e12 50.2%,#6f0c10 51.5%,#5a0f12 52.5%,#4b1112 55.2%,#1a0909 57.8%,#0e0505 60.2%,#100606 69.8%,#371010 77.2%,#560f12 86.5%,#4a1112 88.8%,#5a0f12 91.8%,#4b1112 94.8%,#580f12 96.5%,#710c10 97.5%,#790f13)"></i><i style="top:276.03px;height:4.66px;background:linear-gradient(90deg,#7a0f13,#8c141a 1.5%,#8d151a 30.5%,#841217 33.2%,#5c0f12 35.2%,#551012 38.8%,#710c10 46.5%,#551012 49.5%,#580f12 52.8%,#290d0d 55.8%,#0e0505 59.5%,#180808 66.8%,#100505 69.5%,#4f1012 84.2%,#471112 86.5%,#5a0f12 88.8%,#421212 91.5%,#700c10 94.5%,#471112 97.8%,#4f1012)"></i><i style="top:280.09px;height:4.66px;background:linear-gradient(90deg,#7c1014,#8a1419 1.5%,#8e151a 32.5%,#821216 33.8%,#570f12 35.2%,#521012 35.8%,#660d11 42.5%,#541012 46.5%,#531012 50.8%,#100505 57.8%,#160808 65.8%,#0c0404 67.8%,#391010 78.8%,#4e1012 86.8%,#481112 89.2%,#570f12 91.5%,#3f1212 94.5%,#760e12 97.8%,#640e11)"></i><i style="top:284.15px;height:4.66px;background:linear-gradient(90deg,#861317,#90151b 34.2%,#7f1115 35.5%,#5a0f12 36.8%,#4f1012 49.2%,#150707 55.8%,#0d0404 58.8%,#150707 64.5%,#0c0404 68.8%,#3d1111 79.8%,#3f1212 84.2%,#4f1012 86.2%,#431212 87.8%,#541012 89.8%,#411212 92.2%,#5b0f12 94.8%,#3e1111 97.8%,#561012)"></i><i style="top:288.21px;height:4.66px;background:linear-gradient(90deg,#8d151a,#8e151a 35.8%,#841217 36.8%,#560f12 38.5%,#4b1112 47.8%,#0b0404 57.5%,#170808 63.2%,#0b0404 65.5%,#100505 68.5%,#3c1111 82.8%,#4a1112 84.2%,#3f1212 86.2%,#580f12 87.8%,#3d1111 90.2%,#670d11 92.2%,#361010 94.8%,#401212 95.8%,#740d11 97.8%,#710c10 98.5%,#4e1012)"></i><i style="top:292.27px;height:4.66px;background:linear-gradient(90deg,#8a1419,#891419 37.5%,#7f1015 38.5%,#590f12 39.5%,#4f1012 40.2%,#461112 46.8%,#0a0303 56.5%,#150707 61.8%,#0c0404 68.2%,#2f0e0e 76.5%,#3e1111 84.8%,#4c1112 86.2%,#3e1111 88.2%,#5d0f12 90.2%,#371010 92.2%,#461112 93.2%,#6f0c10 94.2%,#740d12 94.8%,#361010 96.8%,#2e0e0e 97.8%,#441212 98.8%,#6f0c10)"></i><i style="top:296.33px;height:4.66px;background:linear-gradient(90deg,#90161b,#871318 39.5%,#770e13 40.8%,#560f12 41.8%,#4d1112 42.5%,#070303 56.5%,#1d0a0a 72.2%,#461112 82.5%,#3a1111 83.8%,#4c1112 85.2%,#3c1111 86.8%,#541012 88.5%,#3b1111 90.5%,#660d11 92.5%,#361010 94.2%,#320f0f 94.8%,#491112 95.8%,#760e12 96.8%,#7a0f14 97.5%,#710c10 98.2%,#401212 99.2%,#2e0e0e)"></i><i style="top:300.39px;height:4.66px;background:linear-gradient(90deg,#97171d,#8c141a 1.2%,#891419 6.8%,#891419 41.2%,#740d12 43.2%,#541012 44.2%,#3b1111 46.2%,#0a0404 54.8%,#180808 66.2%,#421212 81.2%,#3c1111 82.5%,#501012 83.8%,#3d1111 85.5%,#5d0f12 86.8%,#3a1111 88.8%,#700c10 90.5%,#340f0f 92.5%,#3d1111 93.2%,#6c0d10 94.2%,#760e12 94.8%,#720d11 95.2%,#361010 96.5%,#2a0d0d 97.2%,#320f0f 97.8%,#590f12 98.8%,#730d11 99.2%,#821216)"></i><i style="top:304.45px;height:4.66px;background:linear-gradient(90deg,#891419,#8c151a 42.8%,#720c11 45.8%,#5b0f12 46.5%,#3b1111 48.5%,#240c0c 52.8%,#2c0e0e 69.8%,#3f1212 76.2%,#3e1111 81.5%,#4a1112 82.8%,#3f1212 84.2%,#580f12 85.5%,#3e1111 87.2%,#501012 87.8%,#720d11 88.5%,#750d12 88.8%,#391010 90.5%,#451212 91.2%,#710c10 91.8%,#7f1115 92.5%,#750d12 93.2%,#391010 94.2%,#2e0e0e 94.8%,#3f1212 95.5%,#7a0f14 96.5%,#841217 97.2%,#780f13 97.8%,#2e0e0e 99.2%,#1e0a0a)"></i><i style="top:308.51px;height:4.66px;background:linear-gradient(90deg,#821116,#871318 40.2%,#94161c 45.8%,#531012 54.2%,#3d1111 65.2%,#411212 73.8%,#551012 79.5%,#4c1112 80.8%,#5a0f12 81.8%,#471112 83.2%,#5f0e12 84.5%,#431212 85.8%,#511012 86.5%,#700c10 87.2%,#6e0c10 87.5%,#3f1212 88.8%,#4e1012 89.5%,#760e12 90.2%,#7d1014 90.8%,#760e12 91.2%,#4a1112 91.8%,#381010 92.5%,#481112 93.2%,#780f13 93.8%,#8c141a 94.5%,#831217 95.2%,#760e12 95.5%,#421212 96.2%,#2c0e0e 96.8%,#361010 97.5%,#881318 98.8%,#9c191e)"></i><i style="top:312.57px;height:4.66px;background:linear-gradient(90deg,#851217,#871318 44.8%,#a51b21 50.2%,#740d11 61.2%,#700c10 65.5%,#580f12 68.5%,#660d11 72.2%,#580f12 79.5%,#710c10 80.8%,#590f12 81.8%,#790f13 83.2%,#710c10 83.8%,#561012 84.5%,#7e1015 85.8%,#750e12 86.5%,#511012 87.2%,#4d1112 87.5%,#521012 87.8%,#780e13 88.5%,#811116 89.2%,#6b0d10 89.8%,#511012 90.2%,#431212 90.8%,#5a0f12 91.5%,#770e12 91.8%,#891419 92.5%,#7e1015 93.2%,#4f1012 93.8%,#391010 94.5%,#481112 95.2%,#7b0f14 95.8%,#9b181e 96.8%,#770e12 97.8%,#551012 98.2%,#320f0f 98.8%,#2d0e0e)"></i><i style="top:316.64px;height:4.66px;background:linear-gradient(90deg,#841217,#8b1419 41.8%,#821216 47.5%,#891419 49.2%,#ad1c22 52.2%,#b81d24 55.5%,#8d151a 63.8%,#7d1015 70.8%,#811116 75.8%,#740d11 80.8%,#7f1115 82.2%,#720d11 83.5%,#871318 84.8%,#6e0c10 86.2%,#92161b 87.5%,#841217 88.2%,#590f12 89.2%,#881318 90.2%,#99181d 90.8%,#841217 91.5%,#551012 92.2%,#4c1112 92.5%,#590f12 93.2%,#770e12 93.5%,#9d191e 94.5%,#8c151a 95.2%,#471112 96.2%,#3c1111 96.8%,#590f12 97.5%,#7b0f14 97.8%,#9f191f 98.5%,#aa1c22 99.2%,#9d191e)"></i><i style="top:320.70px;height:4.66px;background:linear-gradient(90deg,#881318,#8b1419 46.8%,#790f13 50.8%,#bb1d24 58.2%,#91161b 74.2%,#98171d 78.8%,#8c151a 80.2%,#96171c 81.2%,#851217 82.5%,#94161c 83.5%,#7d1014 84.8%,#99181d 86.2%,#790f13 87.5%,#a61b21 89.2%,#710c10 90.8%,#b11c23 92.5%,#a01a1f 93.2%,#5f0e12 94.2%,#560f12 94.5%,#5d0f12 94.8%,#9e191f 95.8%,#b51d23 96.5%,#a31a20 97.2%,#471112 98.5%,#461112 99.2%,#660d11)"></i><i style="top:324.76px;height:4.66px;background:linear-gradient(90deg,#90161b,#871318 43.5%,#8f151b 49.5%,#6e0c10 54.2%,#7f1115 56.8%,#a71b21 60.2%,#b91d24 65.2%,#a11a1f 77.2%,#aa1c22 80.2%,#9e191f 81.2%,#ae1c23 82.5%,#97171d 83.8%,#ad1c22 84.8%,#8b1419 86.2%,#ad1c22 87.8%,#811116 89.2%,#b71d24 90.8%,#790f13 92.5%,#891419 93.2%,#c21d25 94.2%,#c51e25 94.5%,#bc1d24 94.8%,#7d1015 95.8%,#6b0d10 96.5%,#851217 97.2%,#c51e25 98.2%,#cd1e26 98.5%,#cb1e26 98.8%,#9a181e)"></i><i style="top:328.82px;height:4.66px;background:linear-gradient(90deg,#851317,#861318 48.8%,#97171d 52.8%,#5c0f12 58.5%,#861318 62.2%,#ab1c22 67.2%,#b81d24 75.2%,#a81c22 80.2%,#b31d23 81.5%,#a61b21 82.5%,#bb1d24 83.8%,#a41b20 85.2%,#bf1d25 86.5%,#99181d 87.8%,#c11d25 89.2%,#8a1419 90.8%,#c61e25 92.5%,#c11d25 92.8%,#8a1419 93.8%,#801116 94.5%,#d21e26 96.2%,#c31d25 96.8%,#811116 97.8%,#750e12 98.5%,#b71d24)"></i><i style="top:332.88px;height:4.66px;background:linear-gradient(90deg,#841217,#831216 51.2%,#a21a20 55.8%,#580f12 62.2%,#9c181e 70.8%,#b71d24 78.2%,#b71d24 80.5%,#ab1c22 81.5%,#b71d24 82.8%,#a71b21 83.8%,#be1d24 85.2%,#a61b21 86.5%,#c81e26 87.8%,#a21a20 89.2%,#a31a20 89.5%,#cd1e26 90.8%,#95171c 92.5%,#99181d 92.8%,#c71e26 93.8%,#cd1e26 94.5%,#8a1419 95.8%,#861318 96.2%,#8b1419 96.5%,#c21d25 97.5%,#d71d25 98.2%,#c51e25 98.8%,#891418 99.8%,#891418)"></i><i style="top:336.94px;height:4.66px;background:linear-gradient(90deg,#851217,#8b1419 50.5%,#7e1015 54.5%,#a41a20 58.8%,#9a181d 61.2%,#6b0d10 65.5%,#5d0f12 69.2%,#7a0f13 71.8%,#a11a1f 80.5%,#b01c23 81.5%,#a31a20 82.8%,#b41d23 84.2%,#9f191f 85.2%,#ba1d24 86.5%,#9d191e 87.8%,#c51e25 89.5%,#9d191e 90.8%,#d01e26 92.5%,#98171d 94.2%,#a61b21 94.8%,#d31e26 95.8%,#d51d25 96.2%,#97171d 97.5%,#891419 98.2%,#d51d25)"></i><i style="top:341.00px;height:4.66px;background:linear-gradient(90deg,#861318,#8f151a 53.2%,#770e12 57.2%,#a81c22 63.5%,#5c0f12 73.2%,#750e12 76.2%,#831217 81.5%,#97171d 82.8%,#8f151a 84.2%,#a61b21 85.2%,#92161b 86.8%,#af1c23 87.8%,#8e151a 89.5%,#bc1d24 90.8%,#8e151a 92.5%,#ce1e26 94.2%,#cb1e26 94.5%,#8f151a 95.8%,#8f151a 96.2%,#d81d25 97.8%,#cb1e26 98.5%,#8f151a 99.5%,#831217)"></i><i style="top:345.06px;height:4.66px;background:linear-gradient(90deg,#90161b,#861318 52.5%,#94171c 56.2%,#750e12 60.2%,#aa1c22 66.8%,#740d11 75.8%,#700c10 82.8%,#7c1014 84.2%,#770e13 85.5%,#8e151a 86.8%,#7e1015 88.2%,#9e191f 89.5%,#7f1115 91.2%,#aa1c22 92.5%,#7c1014 94.2%,#bf1d25 95.8%,#be1d24 96.2%,#8c141a 97.2%,#7e1015 97.8%,#95171c 98.5%,#d31e26 99.5%,#dd1d25)"></i><i style="top:349.12px;height:4.66px;background:linear-gradient(90deg,#8d151a,#831217 55.2%,#9a181d 59.2%,#7b0f14 62.2%,#750e12 64.5%,#a11a1f 69.2%,#a81b21 73.5%,#861317 78.5%,#710c10 84.5%,#770e12 85.8%,#660d11 86.8%,#7c1014 88.2%,#6d0c10 89.5%,#8c151a 91.2%,#710c10 92.8%,#99181d 94.2%,#680d11 95.8%,#a91c22 97.8%,#a31a20 98.2%,#600e11 99.5%,#561012)"></i><i style="top:353.19px;height:4.66px;background:linear-gradient(90deg,#891419,#8b1419 54.5%,#801115 58.2%,#9c191e 61.8%,#720c11 68.2%,#ad1c22 76.2%,#ad1c22 78.2%,#8d151a 83.5%,#96171c 84.8%,#811116 86.2%,#8b1419 87.2%,#750d12 88.5%,#811116 90.2%,#660d11 91.5%,#871318 92.8%,#5d0f12 94.5%,#92161b 96.2%,#541012 97.8%,#580f12 98.2%,#710c10 98.5%,#9a181d 99.5%,#a11a20)"></i><i style="top:357.25px;height:4.66px;background:linear-gradient(90deg,#881318,#8e151a 57.2%,#7c1014 60.8%,#9c181e 65.5%,#720d11 71.2%,#891419 76.2%,#ab1c22 79.5%,#b01c23 81.5%,#a31a20 82.8%,#ad1c22 83.8%,#9c181e 84.8%,#ae1c22 86.2%,#95171c 87.5%,#aa1c22 88.8%,#851317 90.2%,#9d191e 91.5%,#750e12 93.2%,#93161c 94.8%,#650e11 96.2%,#99181d 97.8%,#99181d 98.2%,#730d11 99.2%,#570f12 99.5%,#4d1112)"></i><i style="top:361.31px;height:4.66px;background:linear-gradient(90deg,#841217,#861318 56.5%,#91161b 60.2%,#7a0f14 63.5%,#a01a1f 69.5%,#7c1014 73.5%,#760e12 77.2%,#7f1115 79.5%,#a31a20 82.8%,#9b181e 83.8%,#ac1c22 84.8%,#9c181e 86.2%,#b41d23 87.5%,#9b181e 88.8%,#be1d24 90.2%,#96171d 91.8%,#bb1d24 93.2%,#841217 94.8%,#ae1c23 96.2%,#ae1c22 96.5%,#831216 97.5%,#750d12 98.2%,#b31d23)"></i><i style="top:365.37px;height:4.66px;background:linear-gradient(90deg,#8c1419,#851217 59.2%,#95171c 62.8%,#7b0f14 66.5%,#a41b20 72.5%,#740d11 80.8%,#841217 85.2%,#99181d 86.2%,#8c151a 87.5%,#a81c21 88.8%,#91161b 90.2%,#ba1d24 91.8%,#96171c 93.2%,#c71e26 94.5%,#c91e26 94.8%,#91161b 96.2%,#90151b 96.5%,#c51e25 97.8%,#c71e25 98.2%,#841217 99.5%,#7a0f13)"></i><i style="top:369.43px;height:4.66px;background:linear-gradient(90deg,#881318,#8c141a 50.8%,#821216 62.2%,#98171d 65.5%,#7a0f13 70.5%,#a31a20 75.5%,#9a181d 79.2%,#750e12 84.2%,#740d11 86.5%,#841217 87.8%,#7c1014 89.2%,#93161b 90.5%,#801116 91.8%,#a61b21 93.2%,#881318 94.8%,#c01d25 96.2%,#c11d25 96.5%,#98171d 97.5%,#8e151a 98.2%,#cf1e26 99.5%,#d91d25)"></i><i style="top:373.49px;height:4.66px;background:linear-gradient(90deg,#8c141a,#8c151a 61.2%,#7f1115 64.5%,#98181d 68.2%,#780e13 74.2%,#9c181e 78.2%,#a61b21 82.2%,#99181d 83.5%,#9d191e 84.5%,#891419 85.5%,#881318 86.8%,#770e12 88.2%,#811116 89.2%,#730d11 90.5%,#861318 91.8%,#730d11 93.2%,#90161b 94.8%,#770e12 96.5%,#a81b21 97.8%,#a91c22 98.2%,#7c1014 99.5%,#760e12)"></i><i style="top:377.55px;height:4.66px;background:linear-gradient(90deg,#871318,#851217 52.8%,#90151b 64.2%,#7e1015 67.5%,#99181d 72.2%,#770e13 77.5%,#a21a20 83.5%,#9d191e 84.5%,#b01c23 85.8%,#9c181e 87.2%,#a81c21 88.2%,#891419 89.5%,#95171c 90.8%,#7a0f13 92.2%,#8d151a 93.5%,#710c10 95.2%,#8b1419 96.5%,#600e11 98.2%,#9a181d)"></i><i style="top:381.61px;height:4.66px;background:linear-gradient(90deg,#881318,#851317 63.2%,#93161c 66.5%,#7e1015 70.2%,#9d191e 75.2%,#7a0f13 81.2%,#8a1419 85.8%,#a31a20 87.2%,#99181d 88.2%,#b51d23 89.5%,#99181d 90.8%,#ad1c22 92.5%,#881318 93.8%,#a41b20 95.2%,#7b0f14 96.8%,#99181d 98.5%,#620e11)"></i><i style="top:385.67px;height:4.66px;background:linear-gradient(90deg,#881318,#8d151a 54.5%,#841217 66.2%,#96171c 69.2%,#7f1115 73.2%,#a01a1f 79.5%,#821116 82.8%,#7a0f13 87.2%,#891419 88.5%,#871318 89.8%,#a51b21 90.8%,#95171c 92.5%,#b91d24 93.8%,#91161b 95.2%,#b71d24 96.8%,#881318 98.2%,#861318 98.5%,#b61d23)"></i><i style="top:389.73px;height:4.66px;background:linear-gradient(90deg,#881318,#8c151a 65.5%,#811116 68.5%,#96171c 71.8%,#7d1015 77.2%,#9f191f 80.8%,#a31a20 82.8%,#871318 86.2%,#750e12 91.2%,#8b1419 92.5%,#801116 93.8%,#a91c22 95.2%,#8a1419 96.8%,#ba1d24 98.5%,#871318)"></i><i style="top:393.80px;height:4.66px;background:linear-gradient(90deg,#8a1419,#8d151a 54.5%,#841217 56.5%,#8f151a 67.8%,#801116 71.2%,#96171c 74.8%,#7b1014 80.5%,#8a1419 82.8%,#9f191f 84.2%,#98181d 85.2%,#a41b20 86.5%,#94171c 87.8%,#a01a1f 88.8%,#871318 90.2%,#8f151a 91.5%,#760e12 92.8%,#821216 94.2%,#730d11 95.5%,#93161b 96.8%,#7d1014 98.5%,#ae1c22)"></i><i style="top:397.86px;height:4.66px;background:linear-gradient(90deg,#871318,#861318 67.5%,#92161b 70.5%,#801116 73.8%,#99181d 79.2%,#7b0f14 84.2%,#881318 86.5%,#9d191e 87.8%,#93161b 88.8%,#a91c22 90.2%,#94171c 91.5%,#aa1c22 92.8%,#861318 94.2%,#92161b 95.8%,#720d11 97.2%,#881318 98.8%,#700c10)"></i><i style="top:401.92px;height:4.66px;background:linear-gradient(90deg,#8a1419,#841217 69.8%,#94171c 72.8%,#811116 76.8%,#9f191f 82.5%,#7d1015 85.8%,#7b0f14 87.8%,#8a1419 89.2%,#861318 90.5%,#9c191e 91.5%,#8e151a 92.8%,#b11c23 94.5%,#92161b 95.8%,#b01c23 97.2%,#7f1115 98.8%,#8f151b)"></i><i style="top:405.98px;height:4.66px;background:linear-gradient(90deg,#871318,#851217 54.5%,#8e151a 56.5%,#841217 58.2%,#8c151a 69.5%,#831216 72.5%,#95171c 75.8%,#811116 80.5%,#a31a20 85.8%,#8c151a 87.2%,#7a0f14 91.8%,#8c151a 93.2%,#811116 94.5%,#a41a20 95.8%,#8d151a 97.2%,#bc1d24 98.8%,#9f191f)"></i><i style="top:410.04px;height:12.66px;background:linear-gradient(90deg,#8c1419,#8e151a 71.8%,#841217 74.8%,#93161b 78.8%,#811116 83.5%,#891418 85.8%,#9c181e 87.2%,#94171c 88.2%,#9e191f 89.5%,#8e151a 90.5%,#93161c 91.8%,#821116 93.2%,#8b1419 94.5%,#7b0f14 95.8%,#8e151a 97.2%,#801115 98.8%,#9c191e)"></i></div><b class="tx"></b></div>
<div class="h" style="left:779.8px;top:579.7px;width:463.1px;height:406.1px;background:#871318"><div class="hh" style="top:-8px;height:422.1px;background:#871318"><i style="top:0.00px;height:12.66px;background:linear-gradient(90deg,#861318,#8b1419 53.8%,#821116 55.8%,#8e151a 58.2%,#801116 60.8%,#8f151a 63.2%,#821116 65.8%,#8e151a 69.8%,#811116 73.2%,#8f151a 77.5%,#811116 82.5%,#98171d 89.2%,#7a0f13 97.8%,#8e151a 99.2%,#8a1419)"></i><i style="top:12.06px;height:4.66px;background:linear-gradient(90deg,#881418,#8b1419 51.8%,#811116 54.2%,#8f151a 56.2%,#7e1015 58.8%,#93161b 61.2%,#7f1015 63.5%,#90151b 67.2%,#7e1015 70.5%,#92161b 73.8%,#811116 80.5%,#9c181e 84.2%,#790f13 93.8%,#8b1419 95.2%,#831216 96.5%,#a11a1f 97.8%,#881318 99.2%,#8f151a)"></i><i style="top:16.12px;height:4.66px;background:linear-gradient(90deg,#851217,#831217 52.2%,#8e151a 54.2%,#7f1115 56.5%,#92161b 58.8%,#7e1015 61.5%,#90151b 64.2%,#7f1115 68.2%,#93161b 71.2%,#811116 75.8%,#9a181e 81.2%,#811116 85.8%,#7d1015 90.2%,#861318 92.5%,#a0191f 93.8%,#92161b 95.2%,#ab1c22 96.2%,#8f151a 97.8%,#ac1c22 99.2%,#a11a20)"></i><i style="top:20.18px;height:4.66px;background:linear-gradient(90deg,#891419,#841217 50.2%,#8c151a 52.2%,#811116 54.2%,#91161b 56.8%,#7d1015 59.2%,#91161b 61.5%,#801115 65.2%,#92161b 68.5%,#7f1115 71.8%,#97171d 78.2%,#7e1015 82.8%,#8b1419 88.8%,#9d191e 89.8%,#96171c 91.2%,#aa1c22 92.5%,#95171c 93.5%,#a21a20 95.2%,#891419 96.2%,#9e191f 97.5%,#821116 98.8%,#891419)"></i><i style="top:24.24px;height:4.66px;background:linear-gradient(90deg,#861318,#8b1419 50.2%,#821216 52.2%,#8f151a 54.5%,#7e1015 56.8%,#93161b 59.5%,#7f1115 62.2%,#91161b 66.2%,#7d1015 69.5%,#92161b 74.8%,#7c1014 79.5%,#a61b21 88.8%,#96171c 89.8%,#9e191f 91.2%,#891418 92.2%,#92161b 93.5%,#7e1015 94.8%,#8d151a 96.2%,#770e12 97.5%,#881418 98.8%,#770e13)"></i><i style="top:28.30px;height:4.66px;background:linear-gradient(90deg,#881318,#831217 50.2%,#8d151a 52.5%,#7f1115 54.8%,#93161b 57.2%,#7d1015 59.8%,#90151b 63.2%,#7e1015 66.8%,#92161b 70.5%,#7b0f14 76.5%,#97171d 81.2%,#9f191f 85.2%,#7b0f14 90.8%,#831216 92.2%,#790f13 93.5%,#851317 94.5%,#760e12 95.8%,#881318 97.2%,#780e13 98.8%,#95171c)"></i><i style="top:32.37px;height:4.66px;background:linear-gradient(90deg,#861317,#8c1419 50.2%,#811116 52.5%,#91161b 55.2%,#7d1014 57.5%,#91161b 60.2%,#7e1015 64.2%,#93161c 67.5%,#7d1015 73.5%,#9b181e 78.5%,#780f13 89.2%,#841217 90.5%,#7d1014 91.8%,#8c151a 93.2%,#801116 94.5%,#99181d 95.8%,#861318 97.2%,#af1c23 98.5%,#8b1419)"></i><i style="top:36.43px;height:4.66px;background:linear-gradient(90deg,#881318,#821216 50.5%,#8e151a 52.8%,#7e1015 55.2%,#92161b 57.8%,#7f1115 61.2%,#93161c 64.8%,#7d1015 68.5%,#9b181e 75.2%,#770e12 83.8%,#851317 88.2%,#94161c 89.2%,#8a1419 90.5%,#9d191e 91.5%,#8e151a 92.8%,#ad1c22 94.2%,#95171c 95.5%,#b91d24 96.8%,#b91d24 97.2%,#92161b 98.5%,#bb1d24)"></i><i style="top:40.49px;height:4.66px;background:linear-gradient(90deg,#871318,#841217 48.5%,#8c151a 50.5%,#801115 53.2%,#92161b 55.5%,#7e1015 58.5%,#91161b 62.2%,#7c1014 65.8%,#98171d 71.8%,#7d1015 76.2%,#7a0f13 80.2%,#9d191e 85.8%,#96171c 86.8%,#a31a20 87.8%,#97171d 89.2%,#aa1c22 90.2%,#99181d 91.5%,#b41d23 92.8%,#97171d 94.2%,#b21c23 95.5%,#8a1419 97.2%,#a81c21 98.5%,#7d1014)"></i><i style="top:44.55px;height:4.66px;background:linear-gradient(90deg,#861317,#8b1419 48.5%,#821116 50.8%,#90161b 53.5%,#7d1015 56.2%,#90161b 59.2%,#7c1014 63.2%,#94161c 67.5%,#760e12 73.8%,#891419 79.2%,#a41a20 82.5%,#9c191e 85.5%,#a51b21 86.8%,#99181d 87.8%,#a81b21 88.8%,#96171c 90.2%,#a61b21 91.5%,#891419 92.8%,#99181d 94.2%,#7c1014 95.5%,#93161c 96.8%,#750e12 98.5%,#9a181e)"></i><i style="top:48.61px;height:4.66px;background:linear-gradient(90deg,#861318,#831217 48.8%,#8e151a 51.2%,#7e1015 53.8%,#92161b 56.5%,#7e1015 60.2%,#95171c 63.8%,#760e12 70.2%,#a71b21 79.5%,#8e151a 86.5%,#95171c 87.8%,#841217 88.8%,#8a1419 90.2%,#780f13 91.5%,#831217 92.5%,#720d11 93.8%,#851317 95.2%,#700c10 96.8%,#891419 98.2%,#541012)"></i><i style="top:52.67px;height:4.66px;background:linear-gradient(90deg,#851317,#8c141a 48.8%,#801116 51.5%,#91161b 54.2%,#7e1015 57.2%,#95171c 61.2%,#790f13 66.8%,#99181d 71.5%,#a11a1f 76.5%,#881318 81.2%,#700c10 89.8%,#7c1014 91.2%,#730d11 92.5%,#851217 93.5%,#720d11 95.2%,#891419 96.5%,#6c0c10 97.8%,#99181d)"></i><i style="top:56.73px;height:4.66px;background:linear-gradient(90deg,#8e151a,#821216 49.2%,#90151b 51.8%,#7e1015 54.5%,#92161b 58.5%,#790f13 62.2%,#a01a1f 69.2%,#790f13 78.5%,#720d11 85.8%,#770e12 88.2%,#871318 89.5%,#7c1014 90.8%,#8f151a 92.2%,#7c1014 93.5%,#97171d 94.8%,#7c1014 96.2%,#a81b21 97.8%,#821116 99.2%,#7c1014)"></i><i style="top:60.79px;height:4.66px;background:linear-gradient(90deg,#891419,#841217 46.8%,#8d151a 49.5%,#7f1115 52.2%,#90161b 55.2%,#790f13 59.5%,#9f191f 65.8%,#6b0d10 75.2%,#790f13 82.5%,#90151b 85.8%,#8b1419 87.2%,#9a181e 88.2%,#8b1419 89.5%,#9f191f 90.5%,#8a1419 91.8%,#aa1c22 93.2%,#8e151a 94.8%,#bc1d24 96.2%,#8f151a 97.8%,#c11d25 99.2%,#cc1e26)"></i><i style="top:64.85px;height:4.66px;background:linear-gradient(90deg,#8b1419,#8b1419 47.2%,#811116 49.8%,#90151b 52.5%,#7c1014 56.5%,#9a181d 60.8%,#670d11 72.2%,#a51b21 84.5%,#9c181e 85.8%,#a81c22 86.8%,#9a181e 88.2%,#ae1c22 89.2%,#9b181e 90.5%,#ba1d24 91.8%,#9d191e 93.2%,#c11d25 94.5%,#c21d25 94.8%,#99181d 96.2%,#c51e25 97.8%,#94161c 99.2%,#891419)"></i><i style="top:68.91px;height:4.66px;background:linear-gradient(90deg,#831217,#8b1419 44.8%,#831216 47.5%,#8f151a 50.2%,#7f1115 53.5%,#9b181e 57.8%,#650d11 64.8%,#ad1c22 81.2%,#a41b20 84.5%,#af1c23 85.5%,#a51b21 86.8%,#b61d23 87.8%,#a61b21 89.2%,#be1d24 90.5%,#a31a20 91.8%,#c01d25 93.2%,#9a181e 94.5%,#c01d25 96.2%,#90151b 97.8%,#c21d25 99.2%,#ce1e26)"></i><i style="top:72.98px;height:4.66px;background:linear-gradient(90deg,#821216,#831217 45.2%,#8c151a 47.8%,#801116 50.5%,#94171c 54.8%,#690d11 61.2%,#a31a20 70.2%,#b01c23 76.8%,#a81b21 85.5%,#b71d24 86.5%,#a51b21 87.8%,#b71d24 89.2%,#9d191e 90.5%,#b51d23 91.5%,#93161b 93.2%,#b91d24 94.5%,#8c1419 96.2%,#c41e25 97.8%,#8c1419 99.2%,#7e1015)"></i><i style="top:77.04px;height:4.66px;background:linear-gradient(90deg,#851217,#8b1419 45.5%,#821116 48.2%,#8f151a 51.5%,#710c10 56.5%,#9b181e 62.5%,#b01c23 68.2%,#a21a20 80.2%,#ab1c22 85.5%,#9a181d 86.5%,#a71b21 87.8%,#91161b 88.8%,#a81b21 90.2%,#8a1419 91.5%,#af1c23 93.2%,#861318 94.5%,#b91d24 96.2%,#7e1015 97.8%,#8d151a 98.5%,#be1d24 99.5%,#c41e25)"></i><i style="top:81.10px;height:4.66px;background:linear-gradient(90deg,#851217,#8b1419 43.2%,#831217 45.8%,#8d151a 48.5%,#780f13 53.2%,#ad1c22 59.8%,#b01c23 65.2%,#96171c 76.2%,#9a181d 82.2%,#891419 85.2%,#93161c 86.5%,#841217 87.5%,#9a181d 88.8%,#821216 90.2%,#a21a20 91.5%,#7e1015 92.8%,#a51b21 94.5%,#730d11 96.2%,#a51b21 97.8%,#91161b 98.5%,#570f12 99.5%,#501012)"></i><i style="top:85.16px;height:4.66px;background:linear-gradient(90deg,#8c151a,#831217 43.5%,#8b1419 46.2%,#801116 49.5%,#a51b21 54.2%,#b21d23 57.8%,#841217 73.8%,#7b0f14 83.8%,#841217 85.2%,#7b0f14 86.2%,#8b1419 87.5%,#790f13 88.8%,#8e151a 90.2%,#710c10 91.5%,#8e151a 92.8%,#590f12 94.5%,#851217 95.5%,#90151b 96.2%,#7c1014 96.8%,#541012 97.5%,#501012 97.8%,#561012 98.2%,#710c10 98.5%,#9d191e 99.5%,#a41b20)"></i><i style="top:89.22px;height:4.66px;background:linear-gradient(90deg,#851217,#841217 46.5%,#a61b21 52.5%,#710c10 70.5%,#680d11 80.5%,#7b0f14 86.2%,#640e11 87.2%,#7a0f14 88.5%,#710c10 89.2%,#561012 89.8%,#7b0f14 91.2%,#720d11 91.8%,#5b0f12 92.2%,#501012 92.8%,#7b0f14 93.8%,#811116 94.5%,#4a1112 95.8%,#551012 96.5%,#720c11 96.8%,#8e151a 97.8%,#7e1015 98.5%,#411212 99.5%,#3a1111)"></i><i style="top:93.28px;height:4.66px;background:linear-gradient(90deg,#811116,#8c151a 41.5%,#841217 44.2%,#92161b 48.5%,#690d11 58.5%,#541012 61.2%,#4a1112 68.2%,#4b1112 76.8%,#5b0f12 82.5%,#4e1012 85.8%,#5b0f12 87.2%,#4c1112 88.5%,#6b0d10 89.8%,#521012 90.5%,#491112 91.2%,#780f13 92.5%,#6f0c10 93.2%,#561012 93.5%,#441212 94.2%,#531012 94.8%,#6d0c10 95.2%,#801116 95.8%,#770e12 96.5%,#4c1112 97.2%,#3b1111 97.8%,#4c1112 98.5%,#790f13 99.2%,#8a1419)"></i><i style="top:97.34px;height:4.66px;background:linear-gradient(90deg,#821216,#881418 44.5%,#700c10 47.8%,#590f12 48.8%,#431212 51.5%,#330f0f 64.5%,#431212 84.5%,#4e1012 85.5%,#451212 86.8%,#590f12 88.2%,#441212 89.5%,#6b0d10 90.8%,#3f1212 92.5%,#720d11 94.2%,#381010 95.8%,#421212 96.5%,#730d11 97.5%,#750e12 97.8%,#710c10 98.2%,#3c1111 99.2%,#2c0e0e)"></i><i style="top:101.40px;height:4.66px;background:linear-gradient(90deg,#811116,#8c151a 42.2%,#7a0f13 44.5%,#570f12 45.8%,#330f0f 48.5%,#160808 53.5%,#330f0f 78.2%,#481112 84.2%,#401212 85.5%,#4e1012 86.5%,#3f1212 88.2%,#521012 89.5%,#3b1111 90.8%,#541012 92.5%,#381010 94.2%,#5d0f12 95.8%,#381010 97.2%,#330f0f 97.8%,#451212 98.5%,#760e12 99.5%,#7b0f14)"></i><i style="top:105.46px;height:4.66px;background:linear-gradient(90deg,#8b1419,#851317 37.2%,#95171c 40.2%,#871318 41.5%,#511012 44.2%,#0a0303 55.5%,#180808 59.5%,#130707 65.5%,#210b0b 73.8%,#3f1212 82.8%,#3b1111 89.2%,#4a1112 90.5%,#391010 92.2%,#551012 93.8%,#340f0f 95.5%,#3d1111 96.2%,#6f0c10 97.5%,#6c0c10 97.8%,#381010 99.2%,#2b0e0e)"></i><i style="top:109.53px;height:4.66px;background:linear-gradient(90deg,#8e151a,#861318 35.2%,#90161b 37.8%,#700c10 39.8%,#521012 40.8%,#4c1112 45.8%,#140707 53.8%,#0a0404 56.8%,#1a0909 61.5%,#110606 70.2%,#2d0e0e 77.8%,#3a1111 87.2%,#471112 88.5%,#391010 90.2%,#511012 91.8%,#361010 93.5%,#590f12 95.5%,#320f0f 97.5%,#391010 98.2%,#710c10)"></i><i style="top:113.59px;height:4.66px;background:linear-gradient(90deg,#861317,#8f151a 35.5%,#7f1115 36.8%,#700c10 37.5%,#5b0f12 37.8%,#4c1112 38.8%,#501012 46.5%,#0f0505 56.8%,#1e0a0a 63.2%,#0e0505 68.2%,#441212 86.8%,#3a1111 88.5%,#4a1112 90.2%,#391010 91.8%,#4d1112 93.5%,#381010 95.5%,#531012 97.5%,#361010)"></i><i style="top:117.65px;height:4.66px;background:linear-gradient(90deg,#871318,#8f151a 33.5%,#7e1015 35.2%,#570f12 36.5%,#521012 37.2%,#521012 47.8%,#130606 57.2%,#220c0c 64.8%,#0c0404 68.5%,#3b1111 83.2%,#3c1111 93.2%,#4c1112 94.8%,#3a1111 97.2%,#6a0d11)"></i><i style="top:121.71px;height:4.66px;background:linear-gradient(90deg,#841217,#8c151a 31.5%,#7f1115 33.5%,#5a0f12 34.8%,#541012 35.5%,#4b1112 44.5%,#551012 49.2%,#1e0a0a 56.2%,#140707 59.2%,#240c0c 66.2%,#120606 68.2%,#0f0505 70.2%,#371010 82.2%,#451212 88.8%,#3d1111 90.8%,#4d1112 92.5%,#3a1111 94.8%,#590f12 97.2%,#3b1111)"></i><i style="top:125.77px;height:4.66px;background:linear-gradient(90deg,#7b0f14,#8a1419 1.5%,#8e151a 29.5%,#7f1115 32.5%,#580f12 33.8%,#541012 34.5%,#5c0f12 40.8%,#4c1112 46.2%,#5c0f12 50.5%,#1a0909 58.2%,#250c0c 67.5%,#0f0505 70.5%,#451112 87.2%,#3d1111 88.8%,#4a1112 90.8%,#3d1111 92.5%,#501012 94.8%,#411212 97.2%,#640e11)"></i><i style="top:129.83px;height:4.66px;background:linear-gradient(90deg,#7b0f14,#8b1419 2.8%,#8c1419 30.8%,#680d11 33.5%,#511012 47.8%,#700c10 51.8%,#300f0f 56.5%,#1b0909 59.2%,#230c0c 68.5%,#110606 71.2%,#3d1111 83.2%,#4f1012)"></i><i style="top:133.89px;height:4.66px;background:linear-gradient(90deg,#851217,#90161b 29.5%,#5b0f12 31.8%,#700c10 34.8%,#770e12 38.5%,#6f0c10 40.8%,#541012 43.5%,#580f12 45.2%,#730d11 47.5%,#710c10 49.5%,#590f12 51.8%,#720d11 54.2%,#6d0c10 54.8%,#320f0f 57.2%,#1b0909 59.8%,#220c0c 69.5%,#140707 71.8%,#431212 85.2%,#421212 90.8%,#501012 93.2%,#461112 95.8%,#6f0c10 98.5%,#6d0c10)"></i><i style="top:137.95px;height:4.66px;background:linear-gradient(90deg,#881418,#8c1419 27.8%,#831216 29.2%,#580f12 30.5%,#511012 32.5%,#811116 42.5%,#780f13 45.8%,#580f12 49.2%,#720d11 52.8%,#521012 56.8%,#1d0a0a 59.5%,#140707 61.8%,#210b0b 70.2%,#160707 73.2%,#431212 83.8%,#431212 89.2%,#4f1012 91.2%,#461112 93.5%,#600e11 96.2%,#541012)"></i><i style="top:142.01px;height:4.66px;background:linear-gradient(90deg,#8b1419,#8c151a 28.5%,#760e12 30.2%,#700c10 37.8%,#5f0e12 42.2%,#770e12 48.2%,#5f0e12 52.8%,#740d11 55.8%,#6b0d10 56.8%,#1a0909 60.2%,#0e0505 61.5%,#190808 73.2%,#3c1111 80.5%,#4c1112 92.2%,#6c0c10)"></i><i style="top:146.07px;height:4.66px;background:linear-gradient(90deg,#97171d,#8a1419 1.2%,#881318 4.2%,#8f151b 27.2%,#660d11 29.5%,#831217 38.5%,#740d11 45.8%,#750e12 57.5%,#6d0c10 58.5%,#150707 61.2%,#070303 62.2%,#160808 65.5%,#1a0909 73.8%,#4b1112 84.8%,#491112 90.8%,#610e11 94.2%,#5a0f12 97.2%,#730d11)"></i><i style="top:150.13px;height:4.66px;background:linear-gradient(90deg,#97171d,#891419 1.5%,#8b1419 26.5%,#5e0e12 28.8%,#590f12 29.8%,#5b0f12 33.2%,#780f13 37.5%,#760e12 58.8%,#6e0c10 59.8%,#140707 62.5%,#0e0505 63.5%,#110606 71.8%,#431212 80.8%,#570f12 94.2%,#780f13 97.2%,#710c10)"></i><i style="top:154.20px;height:4.66px;background:linear-gradient(90deg,#8e151a,#8e151a 26.5%,#790f13 28.2%,#7f1115 36.5%,#740d11 38.8%,#811116 58.2%,#720d11 60.8%,#300f0f 62.8%,#1a0909 64.2%,#0f0505 72.2%,#4c1112 82.5%,#590f12 92.2%,#730d11 95.2%,#710c10)"></i><i style="top:158.26px;height:4.66px;background:linear-gradient(90deg,#841217,#8d151a 25.5%,#600e11 27.5%,#5a0f12 29.8%,#7d1015 35.8%,#750e12 40.5%,#8c151a 59.5%,#760e12 61.8%,#451212 63.2%,#240c0c 65.2%,#0c0404 72.8%,#401212 78.8%,#531012 84.5%,#570f12 90.8%,#7a0f13 94.2%,#680d11)"></i><i style="top:162.32px;height:4.66px;background:linear-gradient(90deg,#841217,#8a1419 25.2%,#770e12 27.2%,#750d12 38.2%,#851317 53.5%,#9c191e 60.8%,#90161b 62.2%,#740d12 63.2%,#451212 64.2%,#2e0e0e 65.8%,#0d0404 73.2%,#4d1112 80.5%,#590f12 89.2%,#770e12 92.2%,#7b0f14)"></i><i style="top:166.38px;height:4.66px;background:linear-gradient(90deg,#881318,#8e151a 24.5%,#730d11 26.2%,#690d11 29.8%,#7e1015 34.8%,#750e12 38.2%,#891419 54.8%,#b11c23 62.5%,#9d191e 63.5%,#700c10 64.5%,#541012 64.8%,#351010 66.5%,#0e0505 73.5%,#4a1112 79.2%,#5f0e12 85.5%,#590f12 87.8%,#780f13 90.5%,#760e12)"></i><i style="top:170.44px;height:4.66px;background:linear-gradient(90deg,#891419,#891419 24.2%,#720d11 26.2%,#7d1015 45.8%,#97171d 58.8%,#a91c22 61.5%,#cb1e26 63.8%,#bb1d24 64.5%,#541012 66.5%,#371010 67.5%,#110606 73.8%,#3a1111 76.8%,#561012 80.5%,#640e11 83.8%,#5a0f12 85.8%,#730d11 87.8%,#831217 93.8%,#811116)"></i><i style="top:174.50px;height:4.66px;background:linear-gradient(90deg,#861317,#8a1419 23.8%,#740d11 25.8%,#700c10 28.5%,#7e1015 34.2%,#760e12 36.5%,#831217 50.2%,#a21a20 61.2%,#b11c23 62.8%,#e41d25 65.2%,#d01e26 65.8%,#760e12 67.5%,#580f12 67.8%,#411212 68.5%,#290d0d 70.2%,#150707 74.2%,#451112 77.5%,#690d11 82.5%,#610e11 84.2%,#740d12 86.2%,#871318 92.2%,#7a0f14 96.8%,#811116)"></i><i style="top:178.56px;height:4.66px;background:linear-gradient(90deg,#811116,#8c1419 23.2%,#710c10 25.5%,#730d11 31.8%,#801115 33.8%,#760e12 35.8%,#851217 51.2%,#a61b21 62.8%,#b91d24 64.5%,#ed1e24 65.8%,#ed2724 66.5%,#ed1d24 67.2%,#ce1e26 67.8%,#5b0f12 69.5%,#3f1212 70.2%,#280d0d 71.5%,#1a0909 74.5%,#431212 76.8%,#6f0c10 81.2%,#770e12 86.8%,#91161b 90.8%,#841217 95.5%,#98181d)"></i><i style="top:182.62px;height:4.66px;background:linear-gradient(90deg,#821216,#891419 23.5%,#690d11 25.8%,#7f1115 33.2%,#760e12 35.2%,#871318 52.8%,#b01c23 65.2%,#b91d24 65.8%,#e71c24 66.8%,#ef3a24 67.8%,#ef3924 68.5%,#ed2124 69.2%,#df1d25 69.5%,#600e11 71.5%,#431212 72.2%,#2f0e0e 73.2%,#250c0c 74.8%,#700c10 79.5%,#770e12 85.2%,#92161b 89.2%,#851217 93.8%,#9a181d)"></i><i style="top:186.68px;height:4.66px;background:linear-gradient(90deg,#7e1015,#881318 1.5%,#881318 22.8%,#740d11 24.8%,#740d11 30.8%,#7e1015 33.2%,#760e12 36.5%,#8d151a 56.5%,#b11c23 66.8%,#bb1d24 67.5%,#ed1e24 68.5%,#f04923 69.5%,#f04b23 70.2%,#e71c24 71.5%,#96171c 72.8%,#541012 74.2%,#3e1111 75.5%,#5c0f12 76.8%,#710c10 78.8%,#7a0f13 83.8%,#94171c 87.5%,#91161b 92.5%,#ad1c22 96.8%,#a61b21)"></i><i style="top:190.75px;height:4.66px;background:linear-gradient(90deg,#790f13,#8a1419 1.5%,#881418 22.5%,#720d11 24.5%,#851217 51.5%,#a81c22 65.2%,#bd1d24 67.5%,#b51d23 68.8%,#c61e25 69.5%,#ec1c24 70.2%,#f05023 71.2%,#f15e22 71.8%,#f15522 72.5%,#ed1f24 73.8%,#9e191f 75.5%,#97171d 76.8%,#740d12 78.5%,#b51d23 94.8%,#9c191e)"></i><i style="top:194.81px;height:4.66px;background:linear-gradient(90deg,#7c1014,#881318 1.2%,#8a1419 9.5%,#891419 22.5%,#740d11 24.2%,#700c10 25.8%,#801115 31.2%,#760e12 36.8%,#801116 46.8%,#a21a20 64.8%,#c11d25 69.2%,#b01c23 70.8%,#c21d25 71.5%,#ea1c24 72.2%,#f05222 73.2%,#f36b21 74.2%,#ef4523 76.8%,#ed2224 77.5%,#a31a20 78.8%,#841217 79.8%,#90161b 83.5%,#b01c23 86.8%,#c31e25 93.2%,#b21c23)"></i><i style="top:198.87px;height:4.66px;background:linear-gradient(90deg,#7e1015,#891419 1.5%,#8b1419 22.2%,#6a0d11 24.8%,#7d1015 31.2%,#891419 55.2%,#ad1c22 69.5%,#ca1e26 71.2%,#b21c23 73.2%,#c61e25 73.8%,#ed1e24 74.5%,#f37221 75.8%,#ffcd08 76.8%,#ffd307 77.2%,#fec20c 77.5%,#f6861f 78.2%,#ed1f24 79.5%,#b71d24 80.5%,#a41b20 81.5%,#de1d25 91.8%,#bb1d24)"></i><i style="top:202.93px;height:4.66px;background:linear-gradient(90deg,#801115,#8a1419 1.2%,#8b1419 22.2%,#881318 22.8%,#630e11 24.5%,#7c1014 30.8%,#730d11 34.5%,#7d1015 47.5%,#b11c23 71.2%,#e21d25 73.5%,#b91d24 75.5%,#e31d25 76.2%,#ef3a24 76.5%,#faa519 77.2%,#ffd008 77.5%,#fee803 77.8%,#f8eb1e 78.5%,#fee905 79.2%,#ffda04 79.5%,#f68c1e 80.5%,#ef3924 81.5%,#e21d25 82.2%,#c71e26 83.2%,#ec1c24 85.2%,#ee3824 89.5%,#ed1d24 92.8%,#c41e25)"></i><i style="top:206.99px;height:4.66px;background:linear-gradient(90deg,#7f1115,#891419 1.5%,#8b1419 21.8%,#871318 22.8%,#6c0d10 24.2%,#670d11 25.8%,#7c1014 30.8%,#730d11 39.8%,#a21a20 64.5%,#be1d24 68.5%,#c11d25 73.2%,#ed1c24 75.5%,#ee2a24 76.2%,#f26022 77.2%,#f68c1e 78.5%,#ffdd03 79.5%,#f9eb1a 79.8%,#f9f16f 80.8%,#faf28c 81.5%,#faf396 82.2%,#f9f280 83.5%,#fee907 85.8%,#ffe003 86.2%,#f37021 89.5%,#ef3d23 92.2%,#ed1d24 95.2%,#c41e25)"></i><i style="top:211.05px;height:4.66px;background:linear-gradient(90deg,#7f1115,#891419 1.5%,#8b1419 21.8%,#871318 22.8%,#6c0d10 24.2%,#670d11 25.8%,#7c1014 30.8%,#730d11 39.8%,#a21a20 64.5%,#be1d24 68.5%,#c11d25 73.2%,#ed1c24 75.5%,#ee2a24 76.2%,#f26022 77.2%,#f68c1e 78.5%,#ffdd03 79.5%,#f9eb1a 79.8%,#f9f16f 80.8%,#faf28c 81.5%,#faf396 82.2%,#f9f280 83.5%,#fee907 85.8%,#ffe003 86.2%,#f37021 89.5%,#ef3d23 92.2%,#ed1d24 95.2%,#c41e25)"></i><i style="top:215.11px;height:4.66px;background:linear-gradient(90deg,#801115,#8a1419 1.2%,#8b1419 22.2%,#881318 22.8%,#630e11 24.5%,#7c1014 30.8%,#730d11 34.5%,#7d1015 47.5%,#b11c23 71.2%,#e21d25 73.5%,#b91d24 75.5%,#e31d25 76.2%,#ef3a24 76.5%,#faa519 77.2%,#ffd008 77.5%,#fee803 77.8%,#f8eb1e 78.5%,#fee905 79.2%,#ffda04 79.5%,#f68c1e 80.5%,#ef3924 81.5%,#e21d25 82.2%,#c71e26 83.2%,#ec1c24 85.2%,#ee3824 89.5%,#ed1d24 92.8%,#c41e25)"></i><i style="top:219.17px;height:4.66px;background:linear-gradient(90deg,#7e1015,#891419 1.5%,#8b1419 22.2%,#6a0d11 24.8%,#7d1015 31.2%,#891419 55.2%,#ad1c22 69.5%,#ca1e26 71.2%,#b21c23 73.2%,#c61e25 73.8%,#ed1e24 74.5%,#f37221 75.8%,#ffcd08 76.8%,#ffd307 77.2%,#fec20c 77.5%,#f6861f 78.2%,#ed1f24 79.5%,#b71d24 80.5%,#a41b20 81.5%,#de1d25 91.8%,#bb1d24)"></i><i style="top:223.23px;height:4.66px;background:linear-gradient(90deg,#7c1014,#881318 1.2%,#8a1419 9.5%,#891419 22.5%,#740d11 24.2%,#700c10 25.8%,#801115 31.2%,#760e12 36.8%,#801116 46.8%,#a21a20 64.8%,#c11d25 69.2%,#b01c23 70.8%,#c21d25 71.5%,#ea1c24 72.2%,#f05222 73.2%,#f36b21 74.2%,#ef4523 76.8%,#ed2224 77.5%,#a31a20 78.8%,#841217 79.8%,#90161b 83.5%,#b01c23 86.8%,#c31e25 93.2%,#b21c23)"></i><i style="top:227.29px;height:4.66px;background:linear-gradient(90deg,#790f13,#8a1419 1.5%,#881418 22.5%,#720d11 24.5%,#851217 51.5%,#a81c22 65.2%,#bd1d24 67.5%,#b51d23 68.8%,#c61e25 69.5%,#ec1c24 70.2%,#f05023 71.2%,#f15e22 71.8%,#f15522 72.5%,#ed1f24 73.8%,#9e191f 75.5%,#97171d 76.8%,#740d12 78.5%,#b51d23 94.8%,#9c191e)"></i><i style="top:231.35px;height:4.66px;background:linear-gradient(90deg,#7e1015,#881318 1.5%,#881318 22.8%,#740d11 24.8%,#740d11 30.8%,#7e1015 33.2%,#760e12 36.5%,#8d151a 56.5%,#b11c23 66.8%,#bb1d24 67.5%,#ed1e24 68.5%,#f04923 69.5%,#f04b23 70.2%,#e71c24 71.5%,#96171c 72.8%,#541012 74.2%,#3e1111 75.5%,#5c0f12 76.8%,#710c10 78.8%,#7a0f13 83.8%,#94171c 87.5%,#91161b 92.5%,#ad1c22 96.8%,#a61b21)"></i><i style="top:235.42px;height:4.66px;background:linear-gradient(90deg,#821216,#891419 23.5%,#690d11 25.8%,#7f1115 33.2%,#760e12 35.2%,#871318 52.8%,#b01c23 65.2%,#b91d24 65.8%,#e71c24 66.8%,#ef3a24 67.8%,#ef3924 68.5%,#ed2124 69.2%,#df1d25 69.5%,#600e11 71.5%,#431212 72.2%,#2f0e0e 73.2%,#250c0c 74.8%,#700c10 79.5%,#770e12 85.2%,#92161b 89.2%,#851217 93.8%,#9a181d)"></i><i style="top:239.48px;height:4.66px;background:linear-gradient(90deg,#811116,#8c1419 23.2%,#710c10 25.5%,#730d11 31.8%,#801115 33.8%,#760e12 35.8%,#851217 51.2%,#a61b21 62.8%,#b91d24 64.5%,#ed1e24 65.8%,#ed2724 66.5%,#ed1d24 67.2%,#ce1e26 67.8%,#5b0f12 69.5%,#3f1212 70.2%,#280d0d 71.5%,#1a0909 74.5%,#431212 76.8%,#6f0c10 81.2%,#770e12 86.8%,#91161b 90.8%,#841217 95.5%,#98181d)"></i><i style="top:243.54px;height:4.66px;background:linear-gradient(90deg,#861317,#8a1419 23.8%,#740d11 25.8%,#700c10 28.5%,#7e1015 34.2%,#760e12 36.5%,#831217 50.2%,#a21a20 61.2%,#b11c23 62.8%,#e41d25 65.2%,#d01e26 65.8%,#760e12 67.5%,#580f12 67.8%,#411212 68.5%,#290d0d 70.2%,#150707 74.2%,#451112 77.5%,#690d11 82.5%,#610e11 84.2%,#740d12 86.2%,#871318 92.2%,#7a0f14 96.8%,#811116)"></i><i style="top:247.60px;height:4.66px;background:linear-gradient(90deg,#891419,#891419 24.2%,#720d11 26.2%,#7d1015 45.8%,#97171d 58.8%,#a91c22 61.5%,#cb1e26 63.8%,#bb1d24 64.5%,#541012 66.5%,#371010 67.5%,#110606 73.8%,#3a1111 76.8%,#561012 80.5%,#640e11 83.8%,#5a0f12 85.8%,#730d11 87.8%,#831217 93.8%,#811116)"></i><i style="top:251.66px;height:4.66px;background:linear-gradient(90deg,#881318,#8e151a 24.5%,#730d11 26.2%,#690d11 29.8%,#7e1015 34.8%,#750e12 38.2%,#891419 54.8%,#b11c23 62.5%,#9d191e 63.5%,#700c10 64.5%,#541012 64.8%,#351010 66.5%,#0e0505 73.5%,#4a1112 79.2%,#5f0e12 85.5%,#590f12 87.8%,#780f13 90.5%,#760e12)"></i><i style="top:255.72px;height:4.66px;background:linear-gradient(90deg,#841217,#8a1419 25.2%,#770e12 27.2%,#750d12 38.2%,#851317 53.5%,#9c191e 60.8%,#90161b 62.2%,#740d12 63.2%,#451212 64.2%,#2e0e0e 65.8%,#0d0404 73.2%,#4d1112 80.5%,#590f12 89.2%,#770e12 92.2%,#7b0f14)"></i><i style="top:259.78px;height:4.66px;background:linear-gradient(90deg,#841217,#8d151a 25.5%,#600e11 27.5%,#5a0f12 29.8%,#7d1015 35.8%,#750e12 40.5%,#8c151a 59.5%,#760e12 61.8%,#451212 63.2%,#240c0c 65.2%,#0c0404 72.8%,#401212 78.8%,#531012 84.5%,#570f12 90.8%,#7a0f13 94.2%,#680d11)"></i><i style="top:263.84px;height:4.66px;background:linear-gradient(90deg,#8e151a,#8e151a 26.5%,#790f13 28.2%,#7f1115 36.5%,#740d11 38.8%,#811116 58.2%,#720d11 60.8%,#300f0f 62.8%,#1a0909 64.2%,#0f0505 72.2%,#4c1112 82.5%,#590f12 92.2%,#730d11 95.2%,#710c10)"></i><i style="top:267.90px;height:4.66px;background:linear-gradient(90deg,#97171d,#891419 1.5%,#8b1419 26.5%,#5e0e12 28.8%,#590f12 29.8%,#5b0f12 33.2%,#780f13 37.5%,#760e12 58.8%,#6e0c10 59.8%,#140707 62.5%,#0e0505 63.5%,#110606 71.8%,#431212 80.8%,#570f12 94.2%,#780f13 97.2%,#710c10)"></i><i style="top:271.96px;height:4.66px;background:linear-gradient(90deg,#97171d,#8a1419 1.2%,#881318 4.2%,#8f151b 27.2%,#660d11 29.5%,#831217 38.5%,#740d11 45.8%,#750e12 57.5%,#6d0c10 58.5%,#150707 61.2%,#070303 62.2%,#160808 65.5%,#1a0909 73.8%,#4b1112 84.8%,#491112 90.8%,#610e11 94.2%,#5a0f12 97.2%,#730d11)"></i><i style="top:276.03px;height:4.66px;background:linear-gradient(90deg,#8b1419,#8c151a 28.5%,#760e12 30.2%,#700c10 37.8%,#5f0e12 42.2%,#770e12 48.2%,#5f0e12 52.8%,#740d11 55.8%,#6b0d10 56.8%,#1a0909 60.2%,#0e0505 61.5%,#190808 73.2%,#3c1111 80.5%,#4c1112 92.2%,#6c0c10)"></i><i style="top:280.09px;height:4.66px;background:linear-gradient(90deg,#881418,#8c1419 27.8%,#831216 29.2%,#580f12 30.5%,#511012 32.5%,#811116 42.5%,#780f13 45.8%,#580f12 49.2%,#720d11 52.8%,#521012 56.8%,#1d0a0a 59.5%,#140707 61.8%,#210b0b 70.2%,#160707 73.2%,#431212 83.8%,#431212 89.2%,#4f1012 91.2%,#461112 93.5%,#600e11 96.2%,#541012)"></i><i style="top:284.15px;height:4.66px;background:linear-gradient(90deg,#851217,#90161b 29.5%,#5b0f12 31.8%,#700c10 34.8%,#770e12 38.5%,#6f0c10 40.8%,#541012 43.5%,#580f12 45.2%,#730d11 47.5%,#710c10 49.5%,#590f12 51.8%,#720d11 54.2%,#6d0c10 54.8%,#320f0f 57.2%,#1b0909 59.8%,#220c0c 69.5%,#140707 71.8%,#431212 85.2%,#421212 90.8%,#501012 93.2%,#461112 95.8%,#6f0c10 98.5%,#6d0c10)"></i><i style="top:288.21px;height:4.66px;background:linear-gradient(90deg,#7b0f14,#8b1419 2.8%,#8c1419 30.8%,#680d11 33.5%,#511012 47.8%,#700c10 51.8%,#300f0f 56.5%,#1b0909 59.2%,#230c0c 68.5%,#110606 71.2%,#3d1111 83.2%,#4f1012)"></i><i style="top:292.27px;height:4.66px;background:linear-gradient(90deg,#7b0f14,#8a1419 1.5%,#8e151a 29.5%,#7f1115 32.5%,#580f12 33.8%,#541012 34.5%,#5c0f12 40.8%,#4c1112 46.2%,#5c0f12 50.5%,#1a0909 58.2%,#250c0c 67.5%,#0f0505 70.5%,#451112 87.2%,#3d1111 88.8%,#4a1112 90.8%,#3d1111 92.5%,#501012 94.8%,#411212 97.2%,#640e11)"></i><i style="top:296.33px;height:4.66px;background:linear-gradient(90deg,#841217,#8c151a 31.5%,#7f1115 33.5%,#5a0f12 34.8%,#541012 35.5%,#4b1112 44.5%,#551012 49.2%,#1e0a0a 56.2%,#140707 59.2%,#240c0c 66.2%,#120606 68.2%,#0f0505 70.2%,#371010 82.2%,#451212 88.8%,#3d1111 90.8%,#4d1112 92.5%,#3a1111 94.8%,#590f12 97.2%,#3b1111)"></i><i style="top:300.39px;height:4.66px;background:linear-gradient(90deg,#871318,#8f151a 33.5%,#7e1015 35.2%,#570f12 36.5%,#521012 37.2%,#521012 47.8%,#130606 57.2%,#220c0c 64.8%,#0c0404 68.5%,#3b1111 83.2%,#3c1111 93.2%,#4c1112 94.8%,#3a1111 97.2%,#6a0d11)"></i><i style="top:304.45px;height:4.66px;background:linear-gradient(90deg,#861317,#8f151a 35.5%,#7f1115 36.8%,#700c10 37.5%,#5b0f12 37.8%,#4c1112 38.8%,#501012 46.5%,#0f0505 56.8%,#1e0a0a 63.2%,#0e0505 68.2%,#441212 86.8%,#3a1111 88.5%,#4a1112 90.2%,#391010 91.8%,#4d1112 93.5%,#381010 95.5%,#531012 97.5%,#361010)"></i><i style="top:308.51px;height:4.66px;background:linear-gradient(90deg,#8e151a,#861318 35.2%,#90161b 37.8%,#700c10 39.8%,#521012 40.8%,#4c1112 45.8%,#140707 53.8%,#0a0404 56.8%,#1a0909 61.5%,#110606 70.2%,#2d0e0e 77.8%,#3a1111 87.2%,#471112 88.5%,#391010 90.2%,#511012 91.8%,#361010 93.5%,#590f12 95.5%,#320f0f 97.5%,#391010 98.2%,#710c10)"></i><i style="top:312.57px;height:4.66px;background:linear-gradient(90deg,#8b1419,#851317 37.2%,#95171c 40.2%,#871318 41.5%,#511012 44.2%,#0a0303 55.5%,#180808 59.5%,#130707 65.5%,#210b0b 73.8%,#3f1212 82.8%,#3b1111 89.2%,#4a1112 90.5%,#391010 92.2%,#551012 93.8%,#340f0f 95.5%,#3d1111 96.2%,#6f0c10 97.5%,#6c0c10 97.8%,#381010 99.2%,#2b0e0e)"></i><i style="top:316.64px;height:4.66px;background:linear-gradient(90deg,#811116,#8c151a 42.2%,#7a0f13 44.5%,#570f12 45.8%,#330f0f 48.5%,#160808 53.5%,#330f0f 78.2%,#481112 84.2%,#401212 85.5%,#4e1012 86.5%,#3f1212 88.2%,#521012 89.5%,#3b1111 90.8%,#541012 92.5%,#381010 94.2%,#5d0f12 95.8%,#381010 97.2%,#330f0f 97.8%,#451212 98.5%,#760e12 99.5%,#7b0f14)"></i><i style="top:320.70px;height:4.66px;background:linear-gradient(90deg,#821216,#881418 44.5%,#700c10 47.8%,#590f12 48.8%,#431212 51.5%,#330f0f 64.5%,#431212 84.5%,#4e1012 85.5%,#451212 86.8%,#590f12 88.2%,#441212 89.5%,#6b0d10 90.8%,#3f1212 92.5%,#720d11 94.2%,#381010 95.8%,#421212 96.5%,#730d11 97.5%,#750e12 97.8%,#710c10 98.2%,#3c1111 99.2%,#2c0e0e)"></i><i style="top:324.76px;height:4.66px;background:linear-gradient(90deg,#811116,#8c151a 41.5%,#841217 44.2%,#92161b 48.5%,#690d11 58.5%,#541012 61.2%,#4a1112 68.2%,#4b1112 76.8%,#5b0f12 82.5%,#4e1012 85.8%,#5b0f12 87.2%,#4c1112 88.5%,#6b0d10 89.8%,#521012 90.5%,#491112 91.2%,#780f13 92.5%,#6f0c10 93.2%,#561012 93.5%,#441212 94.2%,#531012 94.8%,#6d0c10 95.2%,#801116 95.8%,#770e12 96.5%,#4c1112 97.2%,#3b1111 97.8%,#4c1112 98.5%,#790f13 99.2%,#8a1419)"></i><i style="top:328.82px;height:4.66px;background:linear-gradient(90deg,#851217,#841217 46.5%,#a61b21 52.5%,#710c10 70.5%,#680d11 80.5%,#7b0f14 86.2%,#640e11 87.2%,#7a0f14 88.5%,#710c10 89.2%,#561012 89.8%,#7b0f14 91.2%,#720d11 91.8%,#5b0f12 92.2%,#501012 92.8%,#7b0f14 93.8%,#811116 94.5%,#4a1112 95.8%,#551012 96.5%,#720c11 96.8%,#8e151a 97.8%,#7e1015 98.5%,#411212 99.5%,#3a1111)"></i><i style="top:332.88px;height:4.66px;background:linear-gradient(90deg,#8c151a,#831217 43.5%,#8b1419 46.2%,#801116 49.5%,#a51b21 54.2%,#b21d23 57.8%,#841217 73.8%,#7b0f14 83.8%,#841217 85.2%,#7b0f14 86.2%,#8b1419 87.5%,#790f13 88.8%,#8e151a 90.2%,#710c10 91.5%,#8e151a 92.8%,#590f12 94.5%,#851217 95.5%,#90151b 96.2%,#7c1014 96.8%,#541012 97.5%,#501012 97.8%,#561012 98.2%,#710c10 98.5%,#9d191e 99.5%,#a41b20)"></i><i style="top:336.94px;height:4.66px;background:linear-gradient(90deg,#851217,#8b1419 43.2%,#831217 45.8%,#8d151a 48.5%,#780f13 53.2%,#ad1c22 59.8%,#b01c23 65.2%,#96171c 76.2%,#9a181d 82.2%,#891419 85.2%,#93161c 86.5%,#841217 87.5%,#9a181d 88.8%,#821216 90.2%,#a21a20 91.5%,#7e1015 92.8%,#a51b21 94.5%,#730d11 96.2%,#a51b21 97.8%,#91161b 98.5%,#570f12 99.5%,#501012)"></i><i style="top:341.00px;height:4.66px;background:linear-gradient(90deg,#851217,#8b1419 45.5%,#821116 48.2%,#8f151a 51.5%,#710c10 56.5%,#9b181e 62.5%,#b01c23 68.2%,#a21a20 80.2%,#ab1c22 85.5%,#9a181d 86.5%,#a71b21 87.8%,#91161b 88.8%,#a81b21 90.2%,#8a1419 91.5%,#af1c23 93.2%,#861318 94.5%,#b91d24 96.2%,#7e1015 97.8%,#8d151a 98.5%,#be1d24 99.5%,#c41e25)"></i><i style="top:345.06px;height:4.66px;background:linear-gradient(90deg,#821216,#831217 45.2%,#8c151a 47.8%,#801116 50.5%,#94171c 54.8%,#690d11 61.2%,#a31a20 70.2%,#b01c23 76.8%,#a81b21 85.5%,#b71d24 86.5%,#a51b21 87.8%,#b71d24 89.2%,#9d191e 90.5%,#b51d23 91.5%,#93161b 93.2%,#b91d24 94.5%,#8c1419 96.2%,#c41e25 97.8%,#8c1419 99.2%,#7e1015)"></i><i style="top:349.12px;height:4.66px;background:linear-gradient(90deg,#831217,#8b1419 44.8%,#831216 47.5%,#8f151a 50.2%,#7f1115 53.5%,#9b181e 57.8%,#650d11 64.8%,#ad1c22 81.2%,#a41b20 84.5%,#af1c23 85.5%,#a51b21 86.8%,#b61d23 87.8%,#a61b21 89.2%,#be1d24 90.5%,#a31a20 91.8%,#c01d25 93.2%,#9a181e 94.5%,#c01d25 96.2%,#90151b 97.8%,#c21d25 99.2%,#ce1e26)"></i><i style="top:353.19px;height:4.66px;background:linear-gradient(90deg,#8b1419,#8b1419 47.2%,#811116 49.8%,#90151b 52.5%,#7c1014 56.5%,#9a181d 60.8%,#670d11 72.2%,#a51b21 84.5%,#9c181e 85.8%,#a81c22 86.8%,#9a181e 88.2%,#ae1c22 89.2%,#9b181e 90.5%,#ba1d24 91.8%,#9d191e 93.2%,#c11d25 94.5%,#c21d25 94.8%,#99181d 96.2%,#c51e25 97.8%,#94161c 99.2%,#891419)"></i><i style="top:357.25px;height:4.66px;background:linear-gradient(90deg,#891419,#841217 46.8%,#8d151a 49.5%,#7f1115 52.2%,#90161b 55.2%,#790f13 59.5%,#9f191f 65.8%,#6b0d10 75.2%,#790f13 82.5%,#90151b 85.8%,#8b1419 87.2%,#9a181e 88.2%,#8b1419 89.5%,#9f191f 90.5%,#8a1419 91.8%,#aa1c22 93.2%,#8e151a 94.8%,#bc1d24 96.2%,#8f151a 97.8%,#c11d25 99.2%,#cc1e26)"></i><i style="top:361.31px;height:4.66px;background:linear-gradient(90deg,#8e151a,#821216 49.2%,#90151b 51.8%,#7e1015 54.5%,#92161b 58.5%,#790f13 62.2%,#a01a1f 69.2%,#790f13 78.5%,#720d11 85.8%,#770e12 88.2%,#871318 89.5%,#7c1014 90.8%,#8f151a 92.2%,#7c1014 93.5%,#97171d 94.8%,#7c1014 96.2%,#a81b21 97.8%,#821116 99.2%,#7c1014)"></i><i style="top:365.37px;height:4.66px;background:linear-gradient(90deg,#851317,#8c141a 48.8%,#801116 51.5%,#91161b 54.2%,#7e1015 57.2%,#95171c 61.2%,#790f13 66.8%,#99181d 71.5%,#a11a1f 76.5%,#881318 81.2%,#700c10 89.8%,#7c1014 91.2%,#730d11 92.5%,#851217 93.5%,#720d11 95.2%,#891419 96.5%,#6c0c10 97.8%,#99181d)"></i><i style="top:369.43px;height:4.66px;background:linear-gradient(90deg,#861318,#831217 48.8%,#8e151a 51.2%,#7e1015 53.8%,#92161b 56.5%,#7e1015 60.2%,#95171c 63.8%,#760e12 70.2%,#a71b21 79.5%,#8e151a 86.5%,#95171c 87.8%,#841217 88.8%,#8a1419 90.2%,#780f13 91.5%,#831217 92.5%,#720d11 93.8%,#851317 95.2%,#700c10 96.8%,#891419 98.2%,#541012)"></i><i style="top:373.49px;height:4.66px;background:linear-gradient(90deg,#861317,#8b1419 48.5%,#821116 50.8%,#90161b 53.5%,#7d1015 56.2%,#90161b 59.2%,#7c1014 63.2%,#94161c 67.5%,#760e12 73.8%,#891419 79.2%,#a41a20 82.5%,#9c191e 85.5%,#a51b21 86.8%,#99181d 87.8%,#a81b21 88.8%,#96171c 90.2%,#a61b21 91.5%,#891419 92.8%,#99181d 94.2%,#7c1014 95.5%,#93161c 96.8%,#750e12 98.5%,#9a181e)"></i><i style="top:377.55px;height:4.66px;background:linear-gradient(90deg,#871318,#841217 48.5%,#8c151a 50.5%,#801115 53.2%,#92161b 55.5%,#7e1015 58.5%,#91161b 62.2%,#7c1014 65.8%,#98171d 71.8%,#7d1015 76.2%,#7a0f13 80.2%,#9d191e 85.8%,#96171c 86.8%,#a31a20 87.8%,#97171d 89.2%,#aa1c22 90.2%,#99181d 91.5%,#b41d23 92.8%,#97171d 94.2%,#b21c23 95.5%,#8a1419 97.2%,#a81c21 98.5%,#7d1014)"></i><i style="top:381.61px;height:4.66px;background:linear-gradient(90deg,#881318,#821216 50.5%,#8e151a 52.8%,#7e1015 55.2%,#92161b 57.8%,#7f1115 61.2%,#93161c 64.8%,#7d1015 68.5%,#9b181e 75.2%,#770e12 83.8%,#851317 88.2%,#94161c 89.2%,#8a1419 90.5%,#9d191e 91.5%,#8e151a 92.8%,#ad1c22 94.2%,#95171c 95.5%,#b91d24 96.8%,#b91d24 97.2%,#92161b 98.5%,#bb1d24)"></i><i style="top:385.67px;height:4.66px;background:linear-gradient(90deg,#861317,#8c1419 50.2%,#811116 52.5%,#91161b 55.2%,#7d1014 57.5%,#91161b 60.2%,#7e1015 64.2%,#93161c 67.5%,#7d1015 73.5%,#9b181e 78.5%,#780f13 89.2%,#841217 90.5%,#7d1014 91.8%,#8c151a 93.2%,#801116 94.5%,#99181d 95.8%,#861318 97.2%,#af1c23 98.5%,#8b1419)"></i><i style="top:389.73px;height:4.66px;background:linear-gradient(90deg,#881318,#831217 50.2%,#8d151a 52.5%,#7f1115 54.8%,#93161b 57.2%,#7d1015 59.8%,#90151b 63.2%,#7e1015 66.8%,#92161b 70.5%,#7b0f14 76.5%,#97171d 81.2%,#9f191f 85.2%,#7b0f14 90.8%,#831216 92.2%,#790f13 93.5%,#851317 94.5%,#760e12 95.8%,#881318 97.2%,#780e13 98.8%,#95171c)"></i><i style="top:393.80px;height:4.66px;background:linear-gradient(90deg,#861318,#8b1419 50.2%,#821216 52.2%,#8f151a 54.5%,#7e1015 56.8%,#93161b 59.5%,#7f1115 62.2%,#91161b 66.2%,#7d1015 69.5%,#92161b 74.8%,#7c1014 79.5%,#a61b21 88.8%,#96171c 89.8%,#9e191f 91.2%,#891418 92.2%,#92161b 93.5%,#7e1015 94.8%,#8d151a 96.2%,#770e12 97.5%,#881418 98.8%,#770e13)"></i><i style="top:397.86px;height:4.66px;background:linear-gradient(90deg,#891419,#841217 50.2%,#8c151a 52.2%,#811116 54.2%,#91161b 56.8%,#7d1015 59.2%,#91161b 61.5%,#801115 65.2%,#92161b 68.5%,#7f1115 71.8%,#97171d 78.2%,#7e1015 82.8%,#8b1419 88.8%,#9d191e 89.8%,#96171c 91.2%,#aa1c22 92.5%,#95171c 93.5%,#a21a20 95.2%,#891419 96.2%,#9e191f 97.5%,#821116 98.8%,#891419)"></i><i style="top:401.92px;height:4.66px;background:linear-gradient(90deg,#851217,#831217 52.2%,#8e151a 54.2%,#7f1115 56.5%,#92161b 58.8%,#7e1015 61.5%,#90151b 64.2%,#7f1115 68.2%,#93161b 71.2%,#811116 75.8%,#9a181e 81.2%,#811116 85.8%,#7d1015 90.2%,#861318 92.5%,#a0191f 93.8%,#92161b 95.2%,#ab1c22 96.2%,#8f151a 97.8%,#ac1c22 99.2%,#a11a20)"></i><i style="top:405.98px;height:4.66px;background:linear-gradient(90deg,#881418,#8b1419 51.8%,#811116 54.2%,#8f151a 56.2%,#7e1015 58.8%,#93161b 61.2%,#7f1015 63.5%,#90151b 67.2%,#7e1015 70.5%,#92161b 73.8%,#811116 80.5%,#9c181e 84.2%,#790f13 93.8%,#8b1419 95.2%,#831216 96.5%,#a11a1f 97.8%,#881318 99.2%,#8f151a)"></i><i style="top:410.04px;height:12.66px;background:linear-gradient(90deg,#861318,#8b1419 53.8%,#821116 55.8%,#8e151a 58.2%,#801116 60.8%,#8f151a 63.2%,#821116 65.8%,#8e151a 69.8%,#811116 73.2%,#8f151a 77.5%,#811116 82.5%,#98171d 89.2%,#7a0f13 97.8%,#8e151a 99.2%,#8a1419)"></i></div><b class="tx"></b></div>
<div class="h" style="left:1459.7px;top:579.7px;width:463.1px;height:406.1px;background:#831217"><div class="hh" style="top:-8px;height:422.1px;background:#831217"><i style="top:0.00px;height:12.66px;background:linear-gradient(90deg,#801115,#8a1419 36.2%,#811116 37.2%,#8b1419 38.5%,#801116 39.5%,#8b1419 40.5%,#801116 41.8%,#891419 42.8%,#801115 46.5%,#8a1419 47.8%,#7c1014 49.2%,#92161b 50.5%,#750e12 52.2%,#98171d 53.8%,#720d11 55.8%,#9b181e 58.2%,#630e11 60.5%,#a41a20 62.8%,#630e11 65.5%,#97171d 68.2%,#9c181e 69.2%,#93161c 70.2%,#580f12 72.5%,#5d0f12 73.2%,#7e1015 74.2%,#a11a20 76.2%,#891419 79.5%,#720d11 81.2%,#551012 82.2%,#640e11 83.8%,#841217 84.8%,#8b1419 86.2%,#a31a20 87.2%,#96171c 88.2%,#a51b21 89.5%,#93161b 90.5%,#9f191f 91.8%,#831217 92.8%,#881318 94.2%,#5c0f12 95.2%,#590f12 95.5%,#770e12 96.5%,#4a1112 97.8%,#511012 98.2%,#790f13 98.8%,#7d1015)"></i><i style="top:12.06px;height:4.66px;background:linear-gradient(90deg,#871318,#821116 36.2%,#8b1419 37.2%,#811116 38.2%,#8b1419 39.2%,#801116 40.5%,#881318 46.2%,#7e1015 47.5%,#90161b 49.2%,#760e12 50.5%,#9a181e 52.2%,#6b0d10 54.2%,#a01a1f 56.2%,#95171c 56.8%,#580f12 58.5%,#9f191f 60.2%,#ae1c22 60.8%,#9e191f 61.5%,#560f12 62.8%,#501012 63.2%,#590f12 63.8%,#720d11 64.2%,#97171d 65.2%,#a81b21 66.2%,#93161c 67.5%,#541012 69.5%,#501012 70.2%,#5c0f12 70.8%,#9f191f 72.5%,#b41d23 73.5%,#9c181e 75.2%,#710c10 77.2%,#580f12 77.8%,#501012 79.2%,#551012 79.8%,#95171c 82.2%,#b81d24 84.2%,#a51b21 85.2%,#aa1c22 86.2%,#8c141a 87.2%,#92161b 88.2%,#760e12 89.5%,#7b0f14 90.5%,#4f1012 91.5%,#5a0f12 92.8%,#431212 93.8%,#481112 94.2%,#720d11 94.8%,#7a0f13 95.2%,#670d11 96.5%,#a31a20 97.8%,#7d1014 99.2%,#841217)"></i><i style="top:16.12px;height:4.66px;background:linear-gradient(90deg,#811116,#8a1419 35.8%,#811116 36.8%,#8b1419 37.8%,#811116 39.2%,#8a1419 40.2%,#801115 46.2%,#8c1419 47.5%,#7a0f14 48.8%,#96171c 50.5%,#720d11 52.2%,#9c191e 54.2%,#630e11 56.5%,#a01a1f 58.2%,#a81b21 58.8%,#94161c 59.5%,#5c0f12 60.5%,#511012 61.2%,#570f12 61.5%,#710c10 61.8%,#9c191e 62.8%,#ab1c22 63.5%,#a61b21 64.2%,#5d0f12 66.5%,#561012 67.2%,#5d0f12 67.8%,#a21a20 69.8%,#b41d23 71.2%,#5a0f12 74.2%,#501012 75.2%,#5b0f12 76.5%,#740d11 77.2%,#9c191e 79.2%,#b81d24 81.2%,#a71b21 82.8%,#861318 83.8%,#811116 84.8%,#600e11 86.2%,#700c10 86.8%,#501012 87.8%,#5a0f12 89.2%,#4d1112 90.2%,#770e12 91.2%,#750e12 92.5%,#a41b20 93.8%,#8f151a 95.2%,#bb1d24 96.2%,#bc1d24 96.5%,#90161b 97.5%,#8d151a 97.8%,#c11d25 99.2%,#b31d23)"></i><i style="top:20.18px;height:4.66px;background:linear-gradient(90deg,#861318,#821216 35.8%,#8b1419 36.8%,#811116 37.8%,#8b1419 38.8%,#811116 40.2%,#891419 46.2%,#7d1015 47.5%,#92161b 48.8%,#750e12 50.5%,#9a181e 52.2%,#6c0d10 54.2%,#a31a20 56.5%,#99181d 57.2%,#570f12 58.5%,#521012 58.8%,#551012 59.2%,#a81c21 60.8%,#af1c23 61.5%,#570f12 63.8%,#541012 64.2%,#5b0f12 64.8%,#a91c22 67.5%,#ae1c23 68.5%,#730d11 70.5%,#511012 71.2%,#4a1112 71.8%,#4f1012 72.5%,#720c11 73.5%,#a91c22 76.5%,#b31d23 78.2%,#99181d 79.8%,#4d1112 82.8%,#511012 84.8%,#700c10 85.8%,#600e11 86.5%,#831216 87.8%,#811116 88.8%,#a31a20 89.8%,#9b181e 91.2%,#be1d24 92.5%,#9a181e 93.5%,#9a181d 93.8%,#b81d24 94.8%,#861318 96.2%,#861318 96.5%,#ac1c22 97.5%,#aa1c22 97.8%,#750d12 99.2%,#801116)"></i><i style="top:24.24px;height:4.66px;background:linear-gradient(90deg,#811116,#8a1419 35.5%,#821116 36.5%,#8b1419 37.5%,#811116 38.8%,#8a1419 39.8%,#7f1115 45.8%,#8d151a 47.2%,#790f13 48.8%,#97171d 50.5%,#710c10 52.2%,#9d191e 54.5%,#841217 55.5%,#580f12 56.5%,#570f12 56.8%,#a31a20 58.5%,#b01c23 59.2%,#9f191f 59.8%,#570f12 61.2%,#501012 61.5%,#551012 62.2%,#770e12 62.8%,#9e191f 64.2%,#a91c22 65.2%,#98181d 66.5%,#561012 68.2%,#471112 68.8%,#521012 69.8%,#740d11 70.5%,#a11a1f 72.2%,#ad1c22 73.8%,#a31a20 75.5%,#7a0f13 77.5%,#5a0f12 78.2%,#451212 79.8%,#580f12 81.5%,#7c1014 82.5%,#7e1015 83.5%,#93161c 84.5%,#8f151a 85.5%,#ac1c22 86.5%,#a31a20 87.5%,#bc1d24 88.8%,#a11a1f 89.8%,#ad1c22 91.2%,#861318 92.2%,#97171d 93.5%,#6c0d10 94.8%,#8b1419 96.2%,#750e12 96.8%,#580f12 97.2%,#4e1012 97.5%,#511012 97.8%,#770e12 98.5%,#7b0f14 99.2%,#531012)"></i><i style="top:28.30px;height:4.66px;background:linear-gradient(90deg,#851217,#821216 35.5%,#8b1419 36.5%,#811116 37.5%,#8b1419 38.5%,#811116 39.5%,#891419 40.8%,#801116 44.5%,#8a1419 45.8%,#7d1014 47.2%,#93161c 48.8%,#740d11 50.5%,#9a181d 52.2%,#93161c 52.8%,#660d11 54.5%,#ac1c22 56.8%,#a21a20 57.5%,#730d11 58.5%,#580f12 58.8%,#4d1112 59.5%,#97171d 61.2%,#ab1c22 62.2%,#9f191f 63.2%,#740d11 64.8%,#551012 65.5%,#4b1112 66.2%,#590f12 67.2%,#710c10 67.5%,#a01a1f 68.8%,#b51d23 70.2%,#730d11 74.2%,#4b1112 75.5%,#461112 76.8%,#8d151a 79.5%,#a41a20 81.2%,#9e191f 82.2%,#af1c23 83.5%,#a41a20 84.2%,#b41d23 85.5%,#9c181e 86.5%,#a21a20 87.5%,#811116 88.5%,#811116 89.8%,#570f12 90.8%,#760e12 92.2%,#6e0c10 92.5%,#551012 92.8%,#4b1112 93.5%,#6e0c10 94.2%,#740d11 94.8%,#421212 95.8%,#511012 96.5%,#6d0c10 96.8%,#780e13 97.2%,#6b0d10 97.8%,#461112 98.5%,#461112 98.8%,#541012 99.2%,#740d11 99.5%,#841217)"></i><i style="top:32.37px;height:4.66px;background:linear-gradient(90deg,#831217,#821216 34.2%,#8b1419 35.2%,#811116 36.2%,#8c1419 37.2%,#811116 38.5%,#8a1419 39.5%,#811116 40.8%,#891419 44.2%,#7e1015 45.5%,#8f151a 47.2%,#780f13 48.5%,#98171d 50.5%,#710c10 52.5%,#a31a20 54.8%,#95171c 55.5%,#521012 56.8%,#4e1012 57.2%,#531012 57.5%,#a91c22 59.2%,#b11c23 59.8%,#590f12 62.5%,#511012 63.2%,#5c0f12 64.2%,#a71b21 66.2%,#b91d24 67.2%,#b41d23 67.8%,#570f12 71.2%,#4c1112 72.8%,#580f12 74.2%,#760e12 74.8%,#a71b21 76.8%,#b41d23 78.5%,#8f151a 84.2%,#730d11 85.2%,#710c10 86.2%,#4b1112 87.2%,#560f12 88.5%,#481112 89.5%,#5a0f12 90.2%,#700c10 90.5%,#710c10 90.8%,#501012 91.8%,#560f12 92.2%,#710c10 92.5%,#7e1015 93.2%,#570f12 94.2%,#580f12 94.5%,#811116 95.2%,#94161c 95.8%,#750d12 97.2%,#b51d23 98.5%,#b41d23 98.8%,#831217)"></i><i style="top:36.43px;height:4.66px;background:linear-gradient(90deg,#851217,#821216 34.8%,#8b1419 36.2%,#811116 37.2%,#8b1419 38.2%,#811116 39.2%,#891419 40.5%,#801115 44.2%,#8c151a 45.5%,#7c1014 46.8%,#95171c 48.5%,#730d11 50.5%,#9b181e 52.5%,#94171c 53.2%,#580f12 54.8%,#580f12 55.2%,#a81c21 56.8%,#b41d23 57.5%,#a31a20 58.2%,#5e0e12 59.5%,#4f1012 60.2%,#541012 60.8%,#a0191f 63.2%,#b61d23 64.5%,#a51b21 65.5%,#531012 67.5%,#481112 68.5%,#5c0f12 70.2%,#b61d24 74.2%,#b91d24 75.5%,#891419 78.5%,#760e12 81.2%,#590f12 81.8%,#421212 83.8%,#4f1012 84.8%,#4b1112 85.8%,#5d0f12 86.5%,#720d11 86.8%,#710c10 88.2%,#891419 89.2%,#7a0f13 90.5%,#9a181d 91.5%,#821116 92.8%,#b61d23 94.2%,#b51d23 94.5%,#8e151a 95.5%,#92161b 95.8%,#c81e26 96.8%,#cb1e26 97.2%,#8c141a 98.5%,#90151b 98.8%,#c91e26 99.8%,#c91e26)"></i><i style="top:40.49px;height:4.66px;background:linear-gradient(90deg,#831217,#821216 33.8%,#8b1419 34.8%,#811116 35.8%,#8c151a 36.8%,#811116 38.2%,#8a1419 43.8%,#7d1015 45.2%,#91161b 46.8%,#770e12 48.5%,#98181d 50.5%,#6a0d11 52.8%,#ad1c22 55.2%,#a31a20 55.8%,#720d11 56.8%,#560f12 57.2%,#4a1112 57.8%,#590f12 58.5%,#720d11 58.8%,#a0191f 60.2%,#ad1c22 61.5%,#a11a20 62.5%,#760e12 63.8%,#511012 64.5%,#411212 65.5%,#4a1112 66.2%,#740d11 67.2%,#99181d 68.8%,#b71d24 71.8%,#a91c22 73.2%,#560f12 77.2%,#491112 80.8%,#5b0f12 82.5%,#811116 83.5%,#851217 84.8%,#9d191e 85.8%,#8f151a 86.8%,#a61b21 88.2%,#93161b 89.2%,#b41d23 90.5%,#98181d 91.5%,#c61e25 92.8%,#95171c 94.2%,#c41e25 95.5%,#be1d24 95.8%,#851317 96.8%,#831216 97.2%,#b51d23 98.5%,#740d11)"></i><i style="top:44.55px;height:4.66px;background:linear-gradient(90deg,#801116,#821216 34.5%,#8c1419 35.5%,#811116 36.8%,#8b1419 37.8%,#811116 38.8%,#891419 42.5%,#7f1115 43.8%,#8f151a 45.2%,#7b0f14 46.8%,#96171c 48.5%,#730d11 50.5%,#a21a20 53.2%,#93161c 53.8%,#521012 55.2%,#4d1112 55.5%,#5d0f12 56.2%,#a51b21 57.5%,#b31d23 58.2%,#a61b21 59.2%,#770e12 60.8%,#560f12 61.5%,#431212 62.5%,#521012 63.5%,#780e13 64.2%,#a51b20 65.5%,#b31d23 66.8%,#a31a20 69.5%,#770e12 71.5%,#4c1112 72.8%,#461112 74.2%,#570f12 76.5%,#96171c 80.5%,#9a181d 81.5%,#b11c23 82.5%,#a31a20 83.5%,#b31d23 84.5%,#9f191f 85.8%,#b11c23 86.8%,#9c191e 87.8%,#b61d23 89.2%,#97171d 90.2%,#b51d23 91.5%,#831216 92.8%,#a31a20 94.2%,#6a0d11 95.5%,#99181d 96.8%,#95171c 97.2%,#750e12 97.8%,#590f12 98.2%,#541012 98.5%,#9e191f 99.8%,#9e191f)"></i><i style="top:48.61px;height:4.66px;background:linear-gradient(90deg,#851217,#821216 33.5%,#8b1419 34.5%,#811116 35.5%,#8c151a 36.5%,#811116 37.5%,#8a1419 38.8%,#801115 42.2%,#8c151a 43.5%,#7c1014 45.2%,#92161b 46.8%,#760e12 48.5%,#9a181d 50.8%,#881318 51.8%,#580f12 53.2%,#590f12 53.5%,#a71b21 55.2%,#b61d23 55.8%,#ab1c22 56.5%,#561012 58.5%,#4b1112 59.5%,#580f12 60.5%,#aa1c22 62.5%,#bf1d25 63.5%,#b61d23 64.5%,#730d11 67.8%,#4a1112 69.2%,#3e1111 70.5%,#570f12 72.2%,#730d11 72.8%,#ba1d24 79.5%,#af1c23 80.5%,#b51d23 81.5%,#9f191f 82.5%,#a91c22 83.5%,#94171c 84.5%,#a41b20 85.5%,#8f151a 86.5%,#9d191e 87.8%,#7e1015 88.8%,#8b1419 90.2%,#740d11 90.8%,#5c0f12 91.2%,#590f12 91.5%,#801116 92.5%,#710c11 93.2%,#541012 93.5%,#4a1112 93.8%,#5a0f12 94.5%,#770e12 94.8%,#811116 95.5%,#760e12 95.8%,#481112 96.5%,#431212 96.8%,#821216 98.2%,#730d11 98.8%,#3c1111 99.5%,#2f0e0e)"></i><i style="top:52.67px;height:4.66px;background:linear-gradient(90deg,#851217,#821216 34.2%,#8c151a 35.2%,#811116 36.5%,#8c1419 37.5%,#811116 38.5%,#8a1419 42.2%,#7d1015 43.5%,#91161b 44.8%,#7a0f14 46.8%,#95171c 48.5%,#6e0c10 51.2%,#ae1c22 53.5%,#97171d 54.5%,#501012 55.8%,#481112 56.5%,#531012 57.2%,#740d11 57.8%,#af1c23 59.8%,#c01d25 60.8%,#b01c23 61.8%,#541012 64.5%,#441212 66.8%,#521012 68.2%,#6f0c10 68.8%,#9c191e 70.8%,#b71d24 76.8%,#841217 81.2%,#8b1419 82.2%,#7c1014 83.5%,#841217 84.2%,#6d0c10 85.5%,#750e12 86.5%,#4d1112 87.5%,#5f0e12 88.5%,#411212 89.8%,#700c10 91.2%,#4e1012 91.8%,#441212 92.5%,#790f13 93.5%,#7b0f14 93.8%,#720d11 94.2%,#451212 94.8%,#411212 95.2%,#491112 95.5%,#780e13 96.2%,#7f1115 96.5%,#7b0f14 96.8%,#3f1212 97.8%,#3d1111 98.2%,#471112 98.5%,#7c1014 99.2%,#93161c)"></i><i style="top:56.73px;height:4.66px;background:linear-gradient(90deg,#91161b,#841217 2.5%,#821216 33.2%,#8c1419 34.2%,#811116 35.2%,#8d151a 36.2%,#811116 37.2%,#891419 38.5%,#7f1115 41.8%,#8f151a 43.5%,#7b0f14 44.8%,#92161b 46.8%,#750d12 48.8%,#a21a20 51.5%,#93161c 52.2%,#531012 53.5%,#4d1112 53.8%,#561012 54.5%,#7b0f14 55.2%,#aa1c22 56.5%,#b51d23 57.8%,#a01a1f 59.2%,#481112 61.2%,#3c1111 62.2%,#551012 63.8%,#b11c23 67.8%,#bb1d24 69.5%,#a41a20 74.2%,#580f12 80.2%,#670d11 81.2%,#501012 82.2%,#560f12 83.2%,#431212 84.2%,#4f1012 85.2%,#411212 86.2%,#590f12 87.2%,#4d1112 88.5%,#7a0f13 89.5%,#700c10 90.2%,#570f12 90.5%,#521012 90.8%,#5a0f12 91.2%,#750d12 91.5%,#861317 92.2%,#501012 93.5%,#8e151a 94.8%,#7f1115 95.5%,#551012 96.2%,#551012 96.5%,#a41a20 97.8%,#94161c 98.5%,#590f12 99.5%,#551012)"></i><i style="top:60.79px;height:4.66px;background:linear-gradient(90deg,#831217,#821216 33.8%,#8d151a 34.8%,#821116 35.8%,#8b1419 37.2%,#801116 40.5%,#8c151a 41.8%,#7c1014 43.2%,#93161c 44.8%,#790f13 46.8%,#98171d 49.2%,#861318 50.2%,#580f12 51.5%,#590f12 51.8%,#ac1c22 53.8%,#b51d23 54.5%,#a61b21 55.5%,#750e12 57.2%,#461112 58.2%,#381010 59.2%,#421212 59.8%,#590f12 60.5%,#720d11 60.8%,#95171c 62.2%,#c11d25 65.8%,#90151b 69.5%,#6f0c10 73.2%,#501012 74.2%,#441212 75.8%,#531012 79.8%,#4a1112 80.8%,#570f12 81.8%,#501012 82.8%,#730d11 83.8%,#690d11 84.8%,#841217 85.8%,#790f13 87.2%,#91161b 88.2%,#770e13 89.5%,#98181d 90.5%,#98181d 90.8%,#760e12 91.8%,#780e13 92.2%,#a71b21 93.2%,#aa1c22 93.5%,#7f1115 94.5%,#7c1014 94.8%,#bf1d25 96.2%,#bf1d24 96.5%,#871318 97.5%,#7f1115 97.8%,#841217 98.2%,#d11e26 99.5%,#d51d25)"></i><i style="top:64.85px;height:4.66px;background:linear-gradient(90deg,#801115,#831216 32.8%,#8c151a 33.8%,#811116 34.8%,#8d151a 35.8%,#811116 36.8%,#891419 40.5%,#7e1015 41.5%,#92161b 43.2%,#790f13 44.8%,#93161b 46.8%,#710c10 49.5%,#7b0f14 50.2%,#a91c22 51.5%,#b01c23 52.2%,#710c10 54.2%,#590f12 54.5%,#431212 56.2%,#551012 57.2%,#ae1c22 59.2%,#be1d24 60.5%,#b01c23 63.5%,#5b0f12 67.5%,#3d1111 71.8%,#411212 73.2%,#720c11 76.8%,#821216 81.5%,#98181d 82.5%,#8e151a 83.5%,#a11a20 84.5%,#8e151a 85.8%,#a51b21 86.8%,#8a1419 88.2%,#ae1c22 89.2%,#8b1419 90.5%,#c01d25 91.8%,#bc1d24 92.2%,#90161b 93.2%,#92161b 93.5%,#c61e25 94.5%,#ca1e26 94.8%,#97171d 95.8%,#8d151a 96.5%,#ca1e26 97.8%,#c41e25 98.2%,#881318 99.2%,#790f13)"></i><i style="top:68.91px;height:4.66px;background:linear-gradient(90deg,#760e12,#851217 1.2%,#871318 4.5%,#8a1419 32.5%,#821216 33.5%,#8e151a 34.5%,#811116 35.5%,#8b1419 36.8%,#7f1115 40.2%,#90151b 41.5%,#7b0f14 43.2%,#94171c 44.8%,#780e13 47.2%,#a31a20 49.8%,#97171d 50.5%,#730d11 51.5%,#5a0f12 51.8%,#4d1112 52.8%,#580f12 53.5%,#c71e26 56.8%,#cd1e26 57.5%,#760e12 62.2%,#421212 63.8%,#3a1111 65.2%,#4f1012 69.5%,#730d11 71.2%,#871318 72.8%,#90161b 76.8%,#b21c23 81.5%,#a01a1f 82.5%,#af1c23 83.5%,#9b181e 84.5%,#ad1c22 85.8%,#9c181e 86.8%,#b91d24 87.8%,#9d191e 89.2%,#c51e25 90.5%,#98181d 91.8%,#c61e25 93.2%,#8f151a 94.5%,#8d151a 94.8%,#c51e25 96.2%,#841217 97.8%,#891419 98.2%,#c51e25 99.2%,#d51d25)"></i><i style="top:72.98px;height:4.66px;background:linear-gradient(90deg,#811116,#831217 32.5%,#8d151a 33.5%,#821116 34.5%,#8d151a 35.5%,#811116 36.5%,#8c1419 40.2%,#7c1014 41.5%,#94171c 43.2%,#780f13 44.8%,#96171c 47.5%,#871318 48.5%,#560f12 50.2%,#a21a20 52.5%,#bd1d24 54.8%,#ae1c22 55.8%,#541012 58.2%,#330f0f 61.5%,#431212 62.8%,#710c10 64.5%,#a81c21 70.5%,#a41a20 74.2%,#b61d23 78.5%,#b01c23 80.5%,#a31a20 81.2%,#ae1c22 82.5%,#a21a20 83.2%,#b31d23 84.5%,#a41a20 85.5%,#bb1d24 86.5%,#9f191f 87.8%,#bd1d24 89.2%,#94161c 90.2%,#93161b 90.5%,#bb1d24 91.5%,#bb1d24 91.8%,#8a1419 92.8%,#851217 93.2%,#c01d25 94.5%,#bd1d24 94.8%,#861318 95.8%,#801116 96.2%,#861318 96.5%,#c51e25 97.5%,#cc1e26 97.8%,#c51e25 98.2%,#831217 99.2%,#720d11)"></i><i style="top:77.04px;height:4.66px;background:linear-gradient(90deg,#8f151b,#851317 5.5%,#8b1419 32.2%,#821216 33.2%,#8e151a 34.2%,#811116 35.2%,#891419 38.5%,#7e1015 39.8%,#93161c 41.2%,#790f13 42.8%,#95171c 44.8%,#710c10 47.8%,#790f13 48.5%,#ad1c22 50.2%,#b21d23 50.8%,#8b1419 53.2%,#6d0c10 54.2%,#551012 54.5%,#3d1111 55.2%,#2f0e0e 56.2%,#5a0f12 59.5%,#740d11 60.2%,#9c181e 62.2%,#b91d24 67.5%,#ad1c22 70.8%,#b41d23 75.8%,#9e191f 80.2%,#ad1c22 81.2%,#a0191f 82.2%,#b21c23 83.2%,#9f191f 84.2%,#b11c23 85.2%,#92161b 86.5%,#ad1c22 87.5%,#ac1c22 87.8%,#841217 88.8%,#861318 89.2%,#af1c23 90.2%,#ab1c22 90.5%,#7d1015 91.5%,#7f1115 91.8%,#b51d23 92.8%,#b91d24 93.2%,#7a0f14 94.5%,#7e1015 94.8%,#bb1d24 95.8%,#c41e25 96.2%,#bb1d24 96.5%,#790f13 97.5%,#710c10 97.8%,#861318 98.5%,#c91e26 99.5%,#d11e26)"></i><i style="top:81.10px;height:4.66px;background:linear-gradient(90deg,#94161c,#861318 1.5%,#831216 31.8%,#8d151a 33.2%,#821116 34.2%,#8d151a 35.2%,#811116 36.2%,#801116 38.5%,#90151b 39.8%,#7a0f14 41.2%,#96171d 42.8%,#760e12 45.2%,#a81b21 48.5%,#740d11 50.5%,#560f12 51.2%,#3c1111 53.2%,#4d1112 54.2%,#6d0c10 54.8%,#861318 55.8%,#bf1d25 60.2%,#b41d23 62.8%,#bc1d24 65.5%,#a91c22 68.5%,#ae1c22 71.8%,#97171d 75.8%,#96171c 79.2%,#a31a20 80.2%,#94161c 81.2%,#a0191f 82.2%,#8a1419 83.2%,#98181d 84.2%,#801116 85.2%,#95171c 86.5%,#780f13 87.5%,#a01a1f 88.8%,#750e12 90.2%,#ab1c22 91.5%,#a51b21 91.8%,#720d11 92.8%,#710c10 93.2%,#ae1c23 94.5%,#a71b21 94.8%,#5f0e12 95.8%,#541012 96.2%,#5d0f12 96.5%,#a41b20 97.5%,#ad1c22 97.8%,#91161b 98.5%,#401212 99.5%,#371010)"></i><i style="top:85.16px;height:4.66px;background:linear-gradient(90deg,#a11a20,#8c1419 .8%,#871318 2.2%,#8b1419 31.8%,#821216 32.8%,#8f151a 33.8%,#821116 34.8%,#8c1419 38.2%,#7c1014 39.5%,#97171d 41.2%,#770e13 43.2%,#9b181e 45.8%,#841217 47.2%,#551012 48.5%,#501012 49.2%,#5a0f12 50.2%,#b91d24 53.8%,#c81e26 57.8%,#b01c23 60.5%,#b21d23 63.2%,#97171d 66.5%,#9b181e 69.8%,#841217 73.2%,#8b1419 78.8%,#7d1015 79.8%,#851217 80.8%,#740d11 81.8%,#801115 82.8%,#710c10 83.8%,#841217 85.2%,#6e0c10 86.2%,#8f151b 87.5%,#670d11 88.5%,#640e11 88.8%,#94161c 89.8%,#95171c 90.2%,#750e12 90.8%,#570f12 91.2%,#501012 91.5%,#94171c 92.8%,#7f1115 93.5%,#481112 94.2%,#411212 94.5%,#4b1112 94.8%,#811116 95.5%,#96171c 96.2%,#780f13 96.8%,#531012 97.2%,#3f1212 97.5%,#381010 97.8%,#541012 98.5%,#7a0f14 98.8%,#a51b21 99.5%,#b01c23)"></i><i style="top:89.22px;height:4.66px;background:linear-gradient(90deg,#92161b,#861318 4.8%,#841217 31.5%,#8f151a 32.8%,#821216 33.8%,#8d151a 34.8%,#7f1115 38.2%,#95171c 39.5%,#780f13 41.2%,#98181d 43.2%,#670d11 46.2%,#a21a20 49.2%,#c61e25 51.8%,#b91d24 55.8%,#9b181e 58.2%,#99181d 60.8%,#7f1115 63.8%,#841217 66.8%,#710c10 70.8%,#780f13 74.8%,#670d11 77.2%,#6c0d10 77.8%,#561012 78.8%,#670d11 79.8%,#541012 80.8%,#710c10 81.8%,#580f12 82.5%,#570f12 82.8%,#770e13 83.8%,#551012 84.8%,#5a0f12 85.2%,#720d11 85.5%,#7b1014 86.2%,#4b1112 87.2%,#4d1112 87.5%,#770e12 88.2%,#7d1015 88.5%,#780f13 88.8%,#471112 89.5%,#3d1111 89.8%,#511012 90.5%,#720d11 90.8%,#7c1014 91.5%,#3a1111 92.5%,#340f0f 92.8%,#531012 93.5%,#770e12 93.8%,#851317 94.5%,#7a0f14 94.8%,#401212 95.5%,#320f0f 96.2%,#580f12 96.8%,#7d1014 97.2%,#96171c 97.8%,#7c1014 98.5%,#560f12 98.8%,#290d0d 99.5%,#210b0b)"></i><i style="top:93.28px;height:4.66px;background:linear-gradient(90deg,#841217,#8d151a 31.5%,#851217 32.5%,#92161b 33.5%,#831217 34.5%,#821216 36.8%,#91161b 37.8%,#7b0f14 39.5%,#9a181e 41.2%,#720d11 43.5%,#7c1014 44.5%,#af1c23 46.5%,#b51d23 47.5%,#af1c23 49.8%,#92161b 52.2%,#750d12 56.5%,#740d11 59.2%,#541012 61.2%,#600e11 64.2%,#491112 67.8%,#541012 71.2%,#431212 77.5%,#4e1012 78.5%,#461112 79.5%,#570f12 80.5%,#481112 81.5%,#580f12 82.5%,#421212 83.5%,#541012 84.8%,#361010 85.8%,#580f12 87.2%,#310f0f 88.2%,#300f0f 88.5%,#670d11 89.5%,#6e0c10 89.8%,#320f0f 90.8%,#2d0e0e 91.2%,#351010 91.5%,#7a0f14 92.5%,#7a0f14 92.8%,#6b0d10 93.2%,#351010 93.8%,#2a0d0d 94.2%,#3d1111 94.8%,#790f13 95.5%,#851217 95.8%,#770e12 96.5%,#391010 97.2%,#1f0b0b 97.8%,#391010 98.5%,#790f13 99.2%,#95171c)"></i><i style="top:97.34px;height:4.66px;background:linear-gradient(90deg,#831217,#881318 31.2%,#93161c 32.5%,#851317 33.5%,#8e151a 36.5%,#7f1015 37.8%,#9a181e 39.5%,#760e12 41.2%,#b21c23 44.5%,#740d11 48.8%,#531012 50.2%,#3c1111 54.5%,#330f0f 59.5%,#3c1111 62.2%,#2f0e0e 65.2%,#3d1111 68.5%,#300f0f 73.5%,#411212 79.2%,#340f0f 80.2%,#3b1111 81.5%,#2e0e0e 82.2%,#3b1111 83.5%,#2a0d0d 84.5%,#461112 85.5%,#290d0d 86.8%,#580f12 88.2%,#270d0d 89.5%,#3d1111 90.2%,#6c0d10 90.8%,#6c0c10 91.2%,#2a0d0d 92.2%,#210b0b 92.5%,#371010 93.2%,#6b0d10 93.8%,#740d12 94.2%,#6b0d10 94.5%,#381010 95.2%,#190808 95.8%,#2b0e0e 96.5%,#750d12 97.5%,#790f13 97.8%,#710c10 98.2%,#531012 98.5%,#1a0909 99.5%,#130707)"></i><i style="top:101.40px;height:4.66px;background:linear-gradient(90deg,#7e1015,#891419 29.8%,#94161c 31.2%,#8b1419 32.2%,#97171d 33.2%,#891419 34.2%,#8f151a 35.2%,#861318 36.2%,#9c181e 37.8%,#7e1015 39.2%,#a71b21 41.5%,#97171d 42.8%,#730d11 44.2%,#521012 44.8%,#371010 46.2%,#1d0a0a 48.8%,#110606 52.8%,#210b0b 59.5%,#190909 62.5%,#280d0d 65.5%,#1e0a0a 69.8%,#2f0e0e 74.8%,#230c0c 81.2%,#320f0f 82.2%,#260d0d 83.2%,#3e1111 84.2%,#250c0c 85.5%,#491112 86.5%,#481112 86.8%,#210b0b 87.8%,#210b0b 88.2%,#4c1112 89.2%,#4e1012 89.5%,#190808 90.8%,#4f1012 92.2%,#511012 92.5%,#180808 93.8%,#170808 94.2%,#600e11 95.8%,#210b0b 97.2%,#150707 97.8%,#481112 98.8%,#790f13 99.5%,#811116)"></i><i style="top:105.46px;height:4.66px;background:linear-gradient(90deg,#8a1419,#881318 28.5%,#8a1419 30.8%,#98181d 31.8%,#8b1419 33.2%,#94161c 34.2%,#8c1419 35.2%,#9a181d 36.2%,#851217 37.5%,#a71b21 39.5%,#720c11 41.5%,#531012 42.2%,#351010 44.2%,#080303 55.5%,#140707 62.8%,#0c0404 66.2%,#1f0b0b 69.8%,#160808 76.2%,#280d0d 78.8%,#200b0b 79.8%,#2f0e0e 80.8%,#210b0b 81.8%,#320f0f 82.8%,#1d0a0a 84.2%,#361010 85.2%,#190909 86.5%,#3b1111 87.8%,#190909 89.2%,#431212 90.5%,#180808 92.2%,#531012 93.8%,#150707 95.5%,#250c0c 96.2%,#710c10 97.5%,#700c10 97.8%,#170808 99.5%,#120606)"></i><i style="top:109.53px;height:4.66px;background:linear-gradient(90deg,#93161c,#861318 1.2%,#831217 13.5%,#851317 29.5%,#94171c 32.8%,#851217 35.8%,#a21a20 37.5%,#710c10 39.2%,#5d0f12 39.5%,#4e1012 40.5%,#0a0303 55.5%,#080303 70.8%,#220c0c 79.5%,#150707 80.5%,#200b0b 81.5%,#150707 82.5%,#260d0d 83.8%,#1a0909 84.8%,#320f0f 86.2%,#1d0a0a 87.5%,#3f1212 88.8%,#1b0909 90.2%,#4c1112 91.8%,#4a1112 92.2%,#180808 93.5%,#190909 93.8%,#570f12 95.5%,#160808 97.5%,#230c0c 98.2%,#710c10)"></i><i style="top:113.59px;height:4.66px;background:linear-gradient(90deg,#8b1419,#831217 30.5%,#92161b 31.5%,#841217 32.5%,#821216 34.5%,#99181d 35.8%,#8b1419 36.5%,#700c10 37.2%,#560f12 37.5%,#481112 38.2%,#4b1112 42.8%,#0c0404 55.8%,#0f0505 63.2%,#020101 66.8%,#100606 70.8%,#0d0404 75.8%,#160707 81.2%,#220c0c 82.2%,#180808 83.2%,#300f0f 84.5%,#1d0a0a 85.8%,#3b1111 87.2%,#1e0a0a 88.5%,#411212 90.2%,#1e0a0a 91.8%,#471112 93.5%,#1f0b0b 95.5%,#4f1012 97.5%,#1c0909)"></i><i style="top:117.65px;height:4.66px;background:linear-gradient(90deg,#8e151a,#841217 1.5%,#831217 29.2%,#90151b 30.5%,#851217 31.5%,#8f151a 32.5%,#871318 33.5%,#94161c 34.5%,#760e12 35.5%,#511012 36.2%,#471112 37.2%,#481112 45.2%,#0d0505 56.2%,#030101 71.8%,#1d0a0a 78.8%,#150707 79.8%,#220c0c 80.8%,#170808 81.8%,#290d0d 83.2%,#1d0a0a 84.2%,#300f0f 85.5%,#220c0c 86.8%,#340f0f 88.5%,#260d0d 89.8%,#3a1111 91.5%,#270d0d 93.2%,#451212 95.2%,#240c0c 97.2%,#5b0f12)"></i><i style="top:121.71px;height:4.66px;background:linear-gradient(90deg,#8c151a,#841217 30.2%,#96171c 31.2%,#861318 33.5%,#700c10 34.2%,#570f12 34.5%,#4a1112 35.2%,#4d1112 45.5%,#170808 54.5%,#0d0404 58.2%,#030101 68.8%,#170808 80.8%,#2e0e0e 86.2%,#270d0d 87.5%,#371010 89.2%,#260d0d 90.8%,#431212 92.8%,#250c0c 94.8%,#511012 97.2%,#290d0d 99.2%,#240c0c)"></i><i style="top:125.77px;height:4.66px;background:linear-gradient(90deg,#7f1015,#821216 28.8%,#90161b 30.2%,#831217 31.2%,#881318 32.2%,#541012 33.5%,#4c1112 34.5%,#501012 46.8%,#110606 56.8%,#110606 67.2%,#040101 72.2%,#1e0a0a 82.8%,#2f0e0e 84.5%,#240c0c 85.8%,#371010 87.2%,#260d0d 88.8%,#3e1111 90.5%,#290d0d 92.5%,#471112 94.8%,#2d0e0e 97.2%,#541012)"></i><i style="top:129.83px;height:4.66px;background:linear-gradient(90deg,#7f1115,#831216 29.8%,#93161c 30.8%,#560f12 32.8%,#4c1112 42.5%,#541012 48.5%,#100505 58.8%,#070202 72.2%,#310f0f 85.8%,#351010 94.5%,#451212 96.5%,#391010)"></i><i style="top:133.89px;height:4.66px;background:linear-gradient(90deg,#871318,#8c1419 27.2%,#821216 28.5%,#92161b 29.8%,#730d11 30.8%,#590f12 31.2%,#4f1012 31.8%,#5f0e12 38.8%,#4b1112 44.8%,#5c0f12 49.8%,#200b0b 56.5%,#140707 59.2%,#140707 69.5%,#080303 73.2%,#391010 89.2%,#310f0f 91.2%,#441212 93.5%,#340f0f 96.2%,#531012 98.5%,#541012)"></i><i style="top:137.95px;height:4.66px;background:linear-gradient(90deg,#831217,#8b1419 28.2%,#770e12 29.5%,#4f1012 30.5%,#481112 32.8%,#6c0d10 42.2%,#4a1112 48.2%,#6b0d10 52.2%,#391010 55.2%,#190909 58.5%,#0d0404 73.2%,#1a0909 80.2%,#320f0f 84.2%,#2b0e0e 85.8%,#391010 87.2%,#2f0e0e 89.2%,#431212 91.2%,#330f0f 93.5%,#501012 96.2%,#3d1111)"></i><i style="top:142.01px;height:4.66px;background:linear-gradient(90deg,#801116,#8b1419 27.2%,#5d0f12 32.2%,#4e1012 36.8%,#4f1012 41.5%,#700c10 44.8%,#750e12 47.5%,#531012 51.8%,#580f12 55.2%,#2a0d0d 57.5%,#180808 60.2%,#0d0505 73.8%,#180808 79.2%,#2e0e0e 82.8%,#411212 96.2%,#551012)"></i><i style="top:146.07px;height:4.66px;background:linear-gradient(90deg,#881418,#841217 26.5%,#8d151a 27.8%,#720d11 29.2%,#780e13 38.5%,#511012 45.8%,#5a0f12 49.2%,#710c10 50.8%,#740d12 52.5%,#4b1112 57.2%,#1a0909 59.8%,#130606 61.8%,#110606 75.2%,#351010 85.2%,#531012)"></i><i style="top:150.13px;height:4.66px;background:linear-gradient(90deg,#91161b,#851317 1.5%,#881318 26.8%,#570f12 28.2%,#4f1012 29.5%,#580f12 34.5%,#710c10 38.2%,#710c10 46.2%,#5a0f12 51.2%,#710c10 53.2%,#750d12 55.8%,#700c10 56.8%,#1a0909 60.8%,#100606 63.2%,#130606 75.5%,#371010 83.8%,#300f0f 85.5%,#401212 87.2%,#371010 89.2%,#4c1112 91.5%,#411212 94.5%,#680d11 98.2%,#5b0f12)"></i><i style="top:154.20px;height:4.66px;background:linear-gradient(90deg,#90161b,#861318 1.2%,#881318 25.2%,#640e11 28.5%,#780e13 57.8%,#720d11 58.8%,#340f0f 60.8%,#190909 62.2%,#100505 65.8%,#180808 77.2%,#461112 89.2%,#441212 92.2%,#580f12 95.2%,#521012)"></i><i style="top:158.26px;height:4.66px;background:linear-gradient(90deg,#861318,#881318 25.8%,#720d11 27.2%,#6c0d10 32.8%,#7d1015 59.2%,#730d11 60.5%,#3f1212 61.8%,#1c0a0a 63.2%,#090303 72.8%,#351010 81.5%,#300f0f 83.2%,#3e1111 84.8%,#3b1111 86.8%,#5f0e12 96.5%,#5a0f12)"></i><i style="top:162.32px;height:4.66px;background:linear-gradient(90deg,#801115,#851217 24.8%,#790f13 25.8%,#580f12 26.8%,#560f12 27.5%,#760e12 37.2%,#861318 60.5%,#710c10 62.2%,#3e1111 63.2%,#230c0c 64.2%,#090303 73.2%,#3a1111 82.8%,#381010 84.8%,#4b1112 86.5%,#411212 89.2%,#640e11 92.5%,#561012 96.2%,#650d11)"></i><i style="top:166.38px;height:4.66px;background:linear-gradient(90deg,#7f1115,#871318 24.2%,#710c10 26.2%,#6e0c10 33.2%,#831217 56.8%,#94171c 61.8%,#811116 63.2%,#3c1111 64.5%,#2c0e0e 65.2%,#180808 67.8%,#080303 73.8%,#310f0f 79.5%,#551012 89.5%,#570f12 93.2%,#740d11 95.8%,#700c10)"></i><i style="top:170.44px;height:4.66px;background:linear-gradient(90deg,#821216,#841217 24.5%,#5c0f12 26.2%,#5b0f12 27.2%,#700c10 29.8%,#690d11 31.8%,#8b1419 58.8%,#a71b21 63.2%,#9a181d 64.2%,#441212 65.8%,#2d0e0e 66.8%,#1a0909 68.8%,#0b0404 73.8%,#361010 80.5%,#371010 82.2%,#4b1112 83.8%,#421212 86.2%,#600e11 89.2%,#700c10 93.2%,#680d11)"></i><i style="top:174.50px;height:4.66px;background:linear-gradient(90deg,#851217,#861318 23.2%,#6e0c10 25.5%,#6b0d10 29.2%,#780f13 43.8%,#94171c 60.8%,#bf1d25 64.8%,#af1c23 65.5%,#700c10 66.8%,#551012 67.2%,#2f0e0e 68.5%,#180808 70.5%,#0d0505 74.2%,#560f12 85.8%,#511012 89.2%,#720d11 91.2%,#7e1015 92.8%,#7a0f13)"></i><i style="top:178.56px;height:4.66px;background:linear-gradient(90deg,#811116,#871318 23.5%,#640e11 25.5%,#720d11 29.5%,#801115 50.8%,#9d191e 63.2%,#aa1c22 64.5%,#d41d25 66.2%,#c81e26 66.8%,#6f0c10 68.8%,#551012 69.2%,#371010 70.2%,#180808 72.2%,#110606 74.2%,#421212 81.2%,#421212 82.8%,#630e11 85.5%,#610e11 87.2%,#790f13 90.8%,#6d0c10 95.8%,#821216)"></i><i style="top:182.62px;height:4.66px;background:linear-gradient(90deg,#7c1014,#851217 1.5%,#851217 23.2%,#640e11 25.2%,#610e11 26.2%,#760e12 32.2%,#821216 52.8%,#a81b21 65.5%,#df1d25 67.2%,#e81c24 67.8%,#d11e26 68.8%,#6e0c10 71.2%,#560f12 71.5%,#411212 72.2%,#230c0c 73.8%,#180808 75.2%,#511012 82.8%,#560f12 85.5%,#730d11 86.8%,#821216 88.5%,#831217 94.8%,#a0191f)"></i><i style="top:186.68px;height:4.66px;background:linear-gradient(90deg,#790f13,#851217 1.5%,#831217 22.5%,#6c0d10 25.5%,#6a0d11 27.8%,#8b1419 58.2%,#a81c22 67.2%,#e71c24 68.8%,#ed2024 70.2%,#d21e26 71.2%,#4a1112 74.5%,#300f0f 75.8%,#2d0e0e 77.2%,#3e1111 79.8%,#551012 81.5%,#590f12 84.2%,#720c11 85.8%,#801115 93.5%,#9b181e 97.8%,#9b181e)"></i><i style="top:190.75px;height:4.66px;background:linear-gradient(90deg,#790f13,#851217 1.5%,#851217 22.5%,#6d0c10 24.8%,#811116 51.5%,#9e191f 63.8%,#b51d23 67.5%,#aa1c22 68.8%,#ba1d24 69.5%,#ea1c24 70.5%,#ee3324 71.5%,#ee2e24 72.5%,#e41d25 73.5%,#7a0f13 76.5%,#471112 77.5%,#371010 78.8%,#7a0f14 83.8%,#97171d 91.8%,#b31d23 96.2%,#a61b21)"></i><i style="top:194.81px;height:4.66px;background:linear-gradient(90deg,#790f13,#851317 1.5%,#861317 22.5%,#670d11 24.5%,#790f13 31.8%,#7c1014 46.8%,#9f191f 65.5%,#b91d24 69.2%,#a51b21 70.8%,#b51d23 71.5%,#e81c24 72.5%,#ef4523 74.2%,#ed2124 76.8%,#8b1419 78.2%,#720d11 78.8%,#580f12 79.2%,#4a1112 79.8%,#770e12 81.5%,#801116 84.2%,#a41a20 88.2%,#b71d24 94.8%,#9a181d)"></i><i style="top:198.87px;height:4.66px;background:linear-gradient(90deg,#7a0f13,#861317 1.5%,#871318 22.2%,#690d11 24.2%,#630e11 26.2%,#770e12 32.8%,#841217 54.5%,#a61b21 69.2%,#bf1d25 71.2%,#a51b21 73.2%,#b81d24 73.8%,#dd1d25 74.5%,#ed2024 74.8%,#f78f1d 76.8%,#f7911d 77.2%,#ed2324 78.8%,#871318 80.5%,#7a0f14 81.2%,#99181d 83.5%,#d31e26 92.8%,#ae1c22)"></i><i style="top:202.93px;height:4.66px;background:linear-gradient(90deg,#7b0f14,#851217 1.5%,#871318 22.2%,#7f1115 23.2%,#5f0e12 24.2%,#5a0f12 24.8%,#690d11 26.5%,#610e11 28.2%,#740d11 32.2%,#7d1014 49.5%,#ac1c22 71.2%,#d71d25 73.5%,#b61d24 75.5%,#d01e26 76.2%,#ed1c24 76.5%,#faa519 77.8%,#fdbc0f 78.5%,#fcb214 79.2%,#f8971c 79.8%,#ed2124 81.5%,#92161b 82.8%,#94161c 83.8%,#cc1e26 85.5%,#ed1c24 87.2%,#ee3024 90.2%,#ec1c24 92.8%,#c31e25 96.2%,#c41e25)"></i><i style="top:206.99px;height:4.66px;background:linear-gradient(90deg,#7d1014,#851317 1.2%,#871318 22.2%,#831217 22.8%,#630e11 24.2%,#5f0e12 26.5%,#730d11 32.2%,#700c10 39.8%,#9c181e 64.5%,#bb1d24 70.2%,#d01e26 71.5%,#c81e26 73.8%,#e61c24 76.8%,#f04e23 78.5%,#fdbc0f 79.8%,#ffe301 80.5%,#f7ed3a 81.8%,#f7ef50 83.2%,#f7ed3f 84.2%,#fee803 85.5%,#f26821 89.5%,#ee3124 92.2%,#ed1c24 94.8%,#bb1d24)"></i><i style="top:211.05px;height:4.66px;background:linear-gradient(90deg,#7d1014,#851317 1.2%,#871318 22.2%,#831217 22.8%,#630e11 24.2%,#5f0e12 26.5%,#730d11 32.2%,#700c10 39.8%,#9c181e 64.5%,#bb1d24 70.2%,#d01e26 71.5%,#c81e26 73.8%,#e61c24 76.8%,#f04e23 78.5%,#fdbc0f 79.8%,#ffe301 80.5%,#f7ed3a 81.8%,#f7ef50 83.2%,#f7ed3f 84.2%,#fee803 85.5%,#f26821 89.5%,#ee3124 92.2%,#ed1c24 94.8%,#bb1d24)"></i><i style="top:215.11px;height:4.66px;background:linear-gradient(90deg,#7b0f14,#851217 1.5%,#871318 22.2%,#7f1115 23.2%,#5f0e12 24.2%,#5a0f12 24.8%,#690d11 26.5%,#610e11 28.2%,#740d11 32.2%,#7d1014 49.5%,#ac1c22 71.2%,#d71d25 73.5%,#b61d24 75.5%,#d01e26 76.2%,#ed1c24 76.5%,#faa519 77.8%,#fdbc0f 78.5%,#fcb214 79.2%,#f8971c 79.8%,#ed2124 81.5%,#92161b 82.8%,#94161c 83.8%,#cc1e26 85.5%,#ed1c24 87.2%,#ee3024 90.2%,#ec1c24 92.8%,#c31e25 96.2%,#c41e25)"></i><i style="top:219.17px;height:4.66px;background:linear-gradient(90deg,#7a0f13,#861317 1.5%,#871318 22.2%,#690d11 24.2%,#630e11 26.2%,#770e12 32.8%,#841217 54.5%,#a61b21 69.2%,#bf1d25 71.2%,#a51b21 73.2%,#b81d24 73.8%,#dd1d25 74.5%,#ed2024 74.8%,#f78f1d 76.8%,#f7911d 77.2%,#ed2324 78.8%,#871318 80.5%,#7a0f14 81.2%,#99181d 83.5%,#d31e26 92.8%,#ae1c22)"></i><i style="top:223.23px;height:4.66px;background:linear-gradient(90deg,#790f13,#851317 1.5%,#861317 22.5%,#670d11 24.5%,#790f13 31.8%,#7c1014 46.8%,#9f191f 65.5%,#b91d24 69.2%,#a51b21 70.8%,#b51d23 71.5%,#e81c24 72.5%,#ef4523 74.2%,#ed2124 76.8%,#8b1419 78.2%,#720d11 78.8%,#580f12 79.2%,#4a1112 79.8%,#770e12 81.5%,#801116 84.2%,#a41a20 88.2%,#b71d24 94.8%,#9a181d)"></i><i style="top:227.29px;height:4.66px;background:linear-gradient(90deg,#790f13,#851217 1.5%,#851217 22.5%,#6d0c10 24.8%,#811116 51.5%,#9e191f 63.8%,#b51d23 67.5%,#aa1c22 68.8%,#ba1d24 69.5%,#ea1c24 70.5%,#ee3324 71.5%,#ee2e24 72.5%,#e41d25 73.5%,#7a0f13 76.5%,#471112 77.5%,#371010 78.8%,#7a0f14 83.8%,#97171d 91.8%,#b31d23 96.2%,#a61b21)"></i><i style="top:231.35px;height:4.66px;background:linear-gradient(90deg,#790f13,#851217 1.5%,#831217 22.5%,#6c0d10 25.5%,#6a0d11 27.8%,#8b1419 58.2%,#a81c22 67.2%,#e71c24 68.8%,#ed2024 70.2%,#d21e26 71.2%,#4a1112 74.5%,#300f0f 75.8%,#2d0e0e 77.2%,#3e1111 79.8%,#551012 81.5%,#590f12 84.2%,#720c11 85.8%,#801115 93.5%,#9b181e 97.8%,#9b181e)"></i><i style="top:235.42px;height:4.66px;background:linear-gradient(90deg,#7c1014,#851217 1.5%,#851217 23.2%,#640e11 25.2%,#610e11 26.2%,#760e12 32.2%,#821216 52.8%,#a81b21 65.5%,#df1d25 67.2%,#e81c24 67.8%,#d11e26 68.8%,#6e0c10 71.2%,#560f12 71.5%,#411212 72.2%,#230c0c 73.8%,#180808 75.2%,#511012 82.8%,#560f12 85.5%,#730d11 86.8%,#821216 88.5%,#831217 94.8%,#a0191f)"></i><i style="top:239.48px;height:4.66px;background:linear-gradient(90deg,#811116,#871318 23.5%,#640e11 25.5%,#720d11 29.5%,#801115 50.8%,#9d191e 63.2%,#aa1c22 64.5%,#d41d25 66.2%,#c81e26 66.8%,#6f0c10 68.8%,#551012 69.2%,#371010 70.2%,#180808 72.2%,#110606 74.2%,#421212 81.2%,#421212 82.8%,#630e11 85.5%,#610e11 87.2%,#790f13 90.8%,#6d0c10 95.8%,#821216)"></i><i style="top:243.54px;height:4.66px;background:linear-gradient(90deg,#851217,#861318 23.2%,#6e0c10 25.5%,#6b0d10 29.2%,#780f13 43.8%,#94171c 60.8%,#bf1d25 64.8%,#af1c23 65.5%,#700c10 66.8%,#551012 67.2%,#2f0e0e 68.5%,#180808 70.5%,#0d0505 74.2%,#560f12 85.8%,#511012 89.2%,#720d11 91.2%,#7e1015 92.8%,#7a0f13)"></i><i style="top:247.60px;height:4.66px;background:linear-gradient(90deg,#821216,#841217 24.5%,#5c0f12 26.2%,#5b0f12 27.2%,#700c10 29.8%,#690d11 31.8%,#8b1419 58.8%,#a71b21 63.2%,#9a181d 64.2%,#441212 65.8%,#2d0e0e 66.8%,#1a0909 68.8%,#0b0404 73.8%,#361010 80.5%,#371010 82.2%,#4b1112 83.8%,#421212 86.2%,#600e11 89.2%,#700c10 93.2%,#680d11)"></i><i style="top:251.66px;height:4.66px;background:linear-gradient(90deg,#7f1115,#871318 24.2%,#710c10 26.2%,#6e0c10 33.2%,#831217 56.8%,#94171c 61.8%,#811116 63.2%,#3c1111 64.5%,#2c0e0e 65.2%,#180808 67.8%,#080303 73.8%,#310f0f 79.5%,#551012 89.5%,#570f12 93.2%,#740d11 95.8%,#700c10)"></i><i style="top:255.72px;height:4.66px;background:linear-gradient(90deg,#801115,#851217 24.8%,#790f13 25.8%,#580f12 26.8%,#560f12 27.5%,#760e12 37.2%,#861318 60.5%,#710c10 62.2%,#3e1111 63.2%,#230c0c 64.2%,#090303 73.2%,#3a1111 82.8%,#381010 84.8%,#4b1112 86.5%,#411212 89.2%,#640e11 92.5%,#561012 96.2%,#650d11)"></i><i style="top:259.78px;height:4.66px;background:linear-gradient(90deg,#861318,#881318 25.8%,#720d11 27.2%,#6c0d10 32.8%,#7d1015 59.2%,#730d11 60.5%,#3f1212 61.8%,#1c0a0a 63.2%,#090303 72.8%,#351010 81.5%,#300f0f 83.2%,#3e1111 84.8%,#3b1111 86.8%,#5f0e12 96.5%,#5a0f12)"></i><i style="top:263.84px;height:4.66px;background:linear-gradient(90deg,#90161b,#861318 1.2%,#881318 25.2%,#640e11 28.5%,#780e13 57.8%,#720d11 58.8%,#340f0f 60.8%,#190909 62.2%,#100505 65.8%,#180808 77.2%,#461112 89.2%,#441212 92.2%,#580f12 95.2%,#521012)"></i><i style="top:267.90px;height:4.66px;background:linear-gradient(90deg,#91161b,#851317 1.5%,#881318 26.8%,#570f12 28.2%,#4f1012 29.5%,#580f12 34.5%,#710c10 38.2%,#710c10 46.2%,#5a0f12 51.2%,#710c10 53.2%,#750d12 55.8%,#700c10 56.8%,#1a0909 60.8%,#100606 63.2%,#130606 75.5%,#371010 83.8%,#300f0f 85.5%,#401212 87.2%,#371010 89.2%,#4c1112 91.5%,#411212 94.5%,#680d11 98.2%,#5b0f12)"></i><i style="top:271.96px;height:4.66px;background:linear-gradient(90deg,#881418,#841217 26.5%,#8d151a 27.8%,#720d11 29.2%,#780e13 38.5%,#511012 45.8%,#5a0f12 49.2%,#710c10 50.8%,#740d12 52.5%,#4b1112 57.2%,#1a0909 59.8%,#130606 61.8%,#110606 75.2%,#351010 85.2%,#531012)"></i><i style="top:276.03px;height:4.66px;background:linear-gradient(90deg,#801116,#8b1419 27.2%,#5d0f12 32.2%,#4e1012 36.8%,#4f1012 41.5%,#700c10 44.8%,#750e12 47.5%,#531012 51.8%,#580f12 55.2%,#2a0d0d 57.5%,#180808 60.2%,#0d0505 73.8%,#180808 79.2%,#2e0e0e 82.8%,#411212 96.2%,#551012)"></i><i style="top:280.09px;height:4.66px;background:linear-gradient(90deg,#831217,#8b1419 28.2%,#770e12 29.5%,#4f1012 30.5%,#481112 32.8%,#6c0d10 42.2%,#4a1112 48.2%,#6b0d10 52.2%,#391010 55.2%,#190909 58.5%,#0d0404 73.2%,#1a0909 80.2%,#320f0f 84.2%,#2b0e0e 85.8%,#391010 87.2%,#2f0e0e 89.2%,#431212 91.2%,#330f0f 93.5%,#501012 96.2%,#3d1111)"></i><i style="top:284.15px;height:4.66px;background:linear-gradient(90deg,#871318,#8c1419 27.2%,#821216 28.5%,#92161b 29.8%,#730d11 30.8%,#590f12 31.2%,#4f1012 31.8%,#5f0e12 38.8%,#4b1112 44.8%,#5c0f12 49.8%,#200b0b 56.5%,#140707 59.2%,#140707 69.5%,#080303 73.2%,#391010 89.2%,#310f0f 91.2%,#441212 93.5%,#340f0f 96.2%,#531012 98.5%,#541012)"></i><i style="top:288.21px;height:4.66px;background:linear-gradient(90deg,#7f1115,#831216 29.8%,#93161c 30.8%,#560f12 32.8%,#4c1112 42.5%,#541012 48.5%,#100505 58.8%,#070202 72.2%,#310f0f 85.8%,#351010 94.5%,#451212 96.5%,#391010)"></i><i style="top:292.27px;height:4.66px;background:linear-gradient(90deg,#7f1015,#821216 28.8%,#90161b 30.2%,#831217 31.2%,#881318 32.2%,#541012 33.5%,#4c1112 34.5%,#501012 46.8%,#110606 56.8%,#110606 67.2%,#040101 72.2%,#1e0a0a 82.8%,#2f0e0e 84.5%,#240c0c 85.8%,#371010 87.2%,#260d0d 88.8%,#3e1111 90.5%,#290d0d 92.5%,#471112 94.8%,#2d0e0e 97.2%,#541012)"></i><i style="top:296.33px;height:4.66px;background:linear-gradient(90deg,#8c151a,#841217 30.2%,#96171c 31.2%,#861318 33.5%,#700c10 34.2%,#570f12 34.5%,#4a1112 35.2%,#4d1112 45.5%,#170808 54.5%,#0d0404 58.2%,#030101 68.8%,#170808 80.8%,#2e0e0e 86.2%,#270d0d 87.5%,#371010 89.2%,#260d0d 90.8%,#431212 92.8%,#250c0c 94.8%,#511012 97.2%,#290d0d 99.2%,#240c0c)"></i><i style="top:300.39px;height:4.66px;background:linear-gradient(90deg,#8e151a,#841217 1.5%,#831217 29.2%,#90151b 30.5%,#851217 31.5%,#8f151a 32.5%,#871318 33.5%,#94161c 34.5%,#760e12 35.5%,#511012 36.2%,#471112 37.2%,#481112 45.2%,#0d0505 56.2%,#030101 71.8%,#1d0a0a 78.8%,#150707 79.8%,#220c0c 80.8%,#170808 81.8%,#290d0d 83.2%,#1d0a0a 84.2%,#300f0f 85.5%,#220c0c 86.8%,#340f0f 88.5%,#260d0d 89.8%,#3a1111 91.5%,#270d0d 93.2%,#451212 95.2%,#240c0c 97.2%,#5b0f12)"></i><i style="top:304.45px;height:4.66px;background:linear-gradient(90deg,#8b1419,#831217 30.5%,#92161b 31.5%,#841217 32.5%,#821216 34.5%,#99181d 35.8%,#8b1419 36.5%,#700c10 37.2%,#560f12 37.5%,#481112 38.2%,#4b1112 42.8%,#0c0404 55.8%,#0f0505 63.2%,#020101 66.8%,#100606 70.8%,#0d0404 75.8%,#160707 81.2%,#220c0c 82.2%,#180808 83.2%,#300f0f 84.5%,#1d0a0a 85.8%,#3b1111 87.2%,#1e0a0a 88.5%,#411212 90.2%,#1e0a0a 91.8%,#471112 93.5%,#1f0b0b 95.5%,#4f1012 97.5%,#1c0909)"></i><i style="top:308.51px;height:4.66px;background:linear-gradient(90deg,#93161c,#861318 1.2%,#831217 13.5%,#851317 29.5%,#94171c 32.8%,#851217 35.8%,#a21a20 37.5%,#710c10 39.2%,#5d0f12 39.5%,#4e1012 40.5%,#0a0303 55.5%,#080303 70.8%,#220c0c 79.5%,#150707 80.5%,#200b0b 81.5%,#150707 82.5%,#260d0d 83.8%,#1a0909 84.8%,#320f0f 86.2%,#1d0a0a 87.5%,#3f1212 88.8%,#1b0909 90.2%,#4c1112 91.8%,#4a1112 92.2%,#180808 93.5%,#190909 93.8%,#570f12 95.5%,#160808 97.5%,#230c0c 98.2%,#710c10)"></i><i style="top:312.57px;height:4.66px;background:linear-gradient(90deg,#8a1419,#881318 28.5%,#8a1419 30.8%,#98181d 31.8%,#8b1419 33.2%,#94161c 34.2%,#8c1419 35.2%,#9a181d 36.2%,#851217 37.5%,#a71b21 39.5%,#720c11 41.5%,#531012 42.2%,#351010 44.2%,#080303 55.5%,#140707 62.8%,#0c0404 66.2%,#1f0b0b 69.8%,#160808 76.2%,#280d0d 78.8%,#200b0b 79.8%,#2f0e0e 80.8%,#210b0b 81.8%,#320f0f 82.8%,#1d0a0a 84.2%,#361010 85.2%,#190909 86.5%,#3b1111 87.8%,#190909 89.2%,#431212 90.5%,#180808 92.2%,#531012 93.8%,#150707 95.5%,#250c0c 96.2%,#710c10 97.5%,#700c10 97.8%,#170808 99.5%,#120606)"></i><i style="top:316.64px;height:4.66px;background:linear-gradient(90deg,#7e1015,#891419 29.8%,#94161c 31.2%,#8b1419 32.2%,#97171d 33.2%,#891419 34.2%,#8f151a 35.2%,#861318 36.2%,#9c181e 37.8%,#7e1015 39.2%,#a71b21 41.5%,#97171d 42.8%,#730d11 44.2%,#521012 44.8%,#371010 46.2%,#1d0a0a 48.8%,#110606 52.8%,#210b0b 59.5%,#190909 62.5%,#280d0d 65.5%,#1e0a0a 69.8%,#2f0e0e 74.8%,#230c0c 81.2%,#320f0f 82.2%,#260d0d 83.2%,#3e1111 84.2%,#250c0c 85.5%,#491112 86.5%,#481112 86.8%,#210b0b 87.8%,#210b0b 88.2%,#4c1112 89.2%,#4e1012 89.5%,#190808 90.8%,#4f1012 92.2%,#511012 92.5%,#180808 93.8%,#170808 94.2%,#600e11 95.8%,#210b0b 97.2%,#150707 97.8%,#481112 98.8%,#790f13 99.5%,#811116)"></i><i style="top:320.70px;height:4.66px;background:linear-gradient(90deg,#831217,#881318 31.2%,#93161c 32.5%,#851317 33.5%,#8e151a 36.5%,#7f1015 37.8%,#9a181e 39.5%,#760e12 41.2%,#b21c23 44.5%,#740d11 48.8%,#531012 50.2%,#3c1111 54.5%,#330f0f 59.5%,#3c1111 62.2%,#2f0e0e 65.2%,#3d1111 68.5%,#300f0f 73.5%,#411212 79.2%,#340f0f 80.2%,#3b1111 81.5%,#2e0e0e 82.2%,#3b1111 83.5%,#2a0d0d 84.5%,#461112 85.5%,#290d0d 86.8%,#580f12 88.2%,#270d0d 89.5%,#3d1111 90.2%,#6c0d10 90.8%,#6c0c10 91.2%,#2a0d0d 92.2%,#210b0b 92.5%,#371010 93.2%,#6b0d10 93.8%,#740d12 94.2%,#6b0d10 94.5%,#381010 95.2%,#190808 95.8%,#2b0e0e 96.5%,#750d12 97.5%,#790f13 97.8%,#710c10 98.2%,#531012 98.5%,#1a0909 99.5%,#130707)"></i><i style="top:324.76px;height:4.66px;background:linear-gradient(90deg,#841217,#8d151a 31.5%,#851217 32.5%,#92161b 33.5%,#831217 34.5%,#821216 36.8%,#91161b 37.8%,#7b0f14 39.5%,#9a181e 41.2%,#720d11 43.5%,#7c1014 44.5%,#af1c23 46.5%,#b51d23 47.5%,#af1c23 49.8%,#92161b 52.2%,#750d12 56.5%,#740d11 59.2%,#541012 61.2%,#600e11 64.2%,#491112 67.8%,#541012 71.2%,#431212 77.5%,#4e1012 78.5%,#461112 79.5%,#570f12 80.5%,#481112 81.5%,#580f12 82.5%,#421212 83.5%,#541012 84.8%,#361010 85.8%,#580f12 87.2%,#310f0f 88.2%,#300f0f 88.5%,#670d11 89.5%,#6e0c10 89.8%,#320f0f 90.8%,#2d0e0e 91.2%,#351010 91.5%,#7a0f14 92.5%,#7a0f14 92.8%,#6b0d10 93.2%,#351010 93.8%,#2a0d0d 94.2%,#3d1111 94.8%,#790f13 95.5%,#851217 95.8%,#770e12 96.5%,#391010 97.2%,#1f0b0b 97.8%,#391010 98.5%,#790f13 99.2%,#95171c)"></i><i style="top:328.82px;height:4.66px;background:linear-gradient(90deg,#92161b,#861318 4.8%,#841217 31.5%,#8f151a 32.8%,#821216 33.8%,#8d151a 34.8%,#7f1115 38.2%,#95171c 39.5%,#780f13 41.2%,#98181d 43.2%,#670d11 46.2%,#a21a20 49.2%,#c61e25 51.8%,#b91d24 55.8%,#9b181e 58.2%,#99181d 60.8%,#7f1115 63.8%,#841217 66.8%,#710c10 70.8%,#780f13 74.8%,#670d11 77.2%,#6c0d10 77.8%,#561012 78.8%,#670d11 79.8%,#541012 80.8%,#710c10 81.8%,#580f12 82.5%,#570f12 82.8%,#770e13 83.8%,#551012 84.8%,#5a0f12 85.2%,#720d11 85.5%,#7b1014 86.2%,#4b1112 87.2%,#4d1112 87.5%,#770e12 88.2%,#7d1015 88.5%,#780f13 88.8%,#471112 89.5%,#3d1111 89.8%,#511012 90.5%,#720d11 90.8%,#7c1014 91.5%,#3a1111 92.5%,#340f0f 92.8%,#531012 93.5%,#770e12 93.8%,#851317 94.5%,#7a0f14 94.8%,#401212 95.5%,#320f0f 96.2%,#580f12 96.8%,#7d1014 97.2%,#96171c 97.8%,#7c1014 98.5%,#560f12 98.8%,#290d0d 99.5%,#210b0b)"></i><i style="top:332.88px;height:4.66px;background:linear-gradient(90deg,#a11a20,#8c1419 .8%,#871318 2.2%,#8b1419 31.8%,#821216 32.8%,#8f151a 33.8%,#821116 34.8%,#8c1419 38.2%,#7c1014 39.5%,#97171d 41.2%,#770e13 43.2%,#9b181e 45.8%,#841217 47.2%,#551012 48.5%,#501012 49.2%,#5a0f12 50.2%,#b91d24 53.8%,#c81e26 57.8%,#b01c23 60.5%,#b21d23 63.2%,#97171d 66.5%,#9b181e 69.8%,#841217 73.2%,#8b1419 78.8%,#7d1015 79.8%,#851217 80.8%,#740d11 81.8%,#801115 82.8%,#710c10 83.8%,#841217 85.2%,#6e0c10 86.2%,#8f151b 87.5%,#670d11 88.5%,#640e11 88.8%,#94161c 89.8%,#95171c 90.2%,#750e12 90.8%,#570f12 91.2%,#501012 91.5%,#94171c 92.8%,#7f1115 93.5%,#481112 94.2%,#411212 94.5%,#4b1112 94.8%,#811116 95.5%,#96171c 96.2%,#780f13 96.8%,#531012 97.2%,#3f1212 97.5%,#381010 97.8%,#541012 98.5%,#7a0f14 98.8%,#a51b21 99.5%,#b01c23)"></i><i style="top:336.94px;height:4.66px;background:linear-gradient(90deg,#94161c,#861318 1.5%,#831216 31.8%,#8d151a 33.2%,#821116 34.2%,#8d151a 35.2%,#811116 36.2%,#801116 38.5%,#90151b 39.8%,#7a0f14 41.2%,#96171d 42.8%,#760e12 45.2%,#a81b21 48.5%,#740d11 50.5%,#560f12 51.2%,#3c1111 53.2%,#4d1112 54.2%,#6d0c10 54.8%,#861318 55.8%,#bf1d25 60.2%,#b41d23 62.8%,#bc1d24 65.5%,#a91c22 68.5%,#ae1c22 71.8%,#97171d 75.8%,#96171c 79.2%,#a31a20 80.2%,#94161c 81.2%,#a0191f 82.2%,#8a1419 83.2%,#98181d 84.2%,#801116 85.2%,#95171c 86.5%,#780f13 87.5%,#a01a1f 88.8%,#750e12 90.2%,#ab1c22 91.5%,#a51b21 91.8%,#720d11 92.8%,#710c10 93.2%,#ae1c23 94.5%,#a71b21 94.8%,#5f0e12 95.8%,#541012 96.2%,#5d0f12 96.5%,#a41b20 97.5%,#ad1c22 97.8%,#91161b 98.5%,#401212 99.5%,#371010)"></i><i style="top:341.00px;height:4.66px;background:linear-gradient(90deg,#8f151b,#851317 5.5%,#8b1419 32.2%,#821216 33.2%,#8e151a 34.2%,#811116 35.2%,#891419 38.5%,#7e1015 39.8%,#93161c 41.2%,#790f13 42.8%,#95171c 44.8%,#710c10 47.8%,#790f13 48.5%,#ad1c22 50.2%,#b21d23 50.8%,#8b1419 53.2%,#6d0c10 54.2%,#551012 54.5%,#3d1111 55.2%,#2f0e0e 56.2%,#5a0f12 59.5%,#740d11 60.2%,#9c181e 62.2%,#b91d24 67.5%,#ad1c22 70.8%,#b41d23 75.8%,#9e191f 80.2%,#ad1c22 81.2%,#a0191f 82.2%,#b21c23 83.2%,#9f191f 84.2%,#b11c23 85.2%,#92161b 86.5%,#ad1c22 87.5%,#ac1c22 87.8%,#841217 88.8%,#861318 89.2%,#af1c23 90.2%,#ab1c22 90.5%,#7d1015 91.5%,#7f1115 91.8%,#b51d23 92.8%,#b91d24 93.2%,#7a0f14 94.5%,#7e1015 94.8%,#bb1d24 95.8%,#c41e25 96.2%,#bb1d24 96.5%,#790f13 97.5%,#710c10 97.8%,#861318 98.5%,#c91e26 99.5%,#d11e26)"></i><i style="top:345.06px;height:4.66px;background:linear-gradient(90deg,#811116,#831217 32.5%,#8d151a 33.5%,#821116 34.5%,#8d151a 35.5%,#811116 36.5%,#8c1419 40.2%,#7c1014 41.5%,#94171c 43.2%,#780f13 44.8%,#96171c 47.5%,#871318 48.5%,#560f12 50.2%,#a21a20 52.5%,#bd1d24 54.8%,#ae1c22 55.8%,#541012 58.2%,#330f0f 61.5%,#431212 62.8%,#710c10 64.5%,#a81c21 70.5%,#a41a20 74.2%,#b61d23 78.5%,#b01c23 80.5%,#a31a20 81.2%,#ae1c22 82.5%,#a21a20 83.2%,#b31d23 84.5%,#a41a20 85.5%,#bb1d24 86.5%,#9f191f 87.8%,#bd1d24 89.2%,#94161c 90.2%,#93161b 90.5%,#bb1d24 91.5%,#bb1d24 91.8%,#8a1419 92.8%,#851217 93.2%,#c01d25 94.5%,#bd1d24 94.8%,#861318 95.8%,#801116 96.2%,#861318 96.5%,#c51e25 97.5%,#cc1e26 97.8%,#c51e25 98.2%,#831217 99.2%,#720d11)"></i><i style="top:349.12px;height:4.66px;background:linear-gradient(90deg,#760e12,#851217 1.2%,#871318 4.5%,#8a1419 32.5%,#821216 33.5%,#8e151a 34.5%,#811116 35.5%,#8b1419 36.8%,#7f1115 40.2%,#90151b 41.5%,#7b0f14 43.2%,#94171c 44.8%,#780e13 47.2%,#a31a20 49.8%,#97171d 50.5%,#730d11 51.5%,#5a0f12 51.8%,#4d1112 52.8%,#580f12 53.5%,#c71e26 56.8%,#cd1e26 57.5%,#760e12 62.2%,#421212 63.8%,#3a1111 65.2%,#4f1012 69.5%,#730d11 71.2%,#871318 72.8%,#90161b 76.8%,#b21c23 81.5%,#a01a1f 82.5%,#af1c23 83.5%,#9b181e 84.5%,#ad1c22 85.8%,#9c181e 86.8%,#b91d24 87.8%,#9d191e 89.2%,#c51e25 90.5%,#98181d 91.8%,#c61e25 93.2%,#8f151a 94.5%,#8d151a 94.8%,#c51e25 96.2%,#841217 97.8%,#891419 98.2%,#c51e25 99.2%,#d51d25)"></i><i style="top:353.19px;height:4.66px;background:linear-gradient(90deg,#801115,#831216 32.8%,#8c151a 33.8%,#811116 34.8%,#8d151a 35.8%,#811116 36.8%,#891419 40.5%,#7e1015 41.5%,#92161b 43.2%,#790f13 44.8%,#93161b 46.8%,#710c10 49.5%,#7b0f14 50.2%,#a91c22 51.5%,#b01c23 52.2%,#710c10 54.2%,#590f12 54.5%,#431212 56.2%,#551012 57.2%,#ae1c22 59.2%,#be1d24 60.5%,#b01c23 63.5%,#5b0f12 67.5%,#3d1111 71.8%,#411212 73.2%,#720c11 76.8%,#821216 81.5%,#98181d 82.5%,#8e151a 83.5%,#a11a20 84.5%,#8e151a 85.8%,#a51b21 86.8%,#8a1419 88.2%,#ae1c22 89.2%,#8b1419 90.5%,#c01d25 91.8%,#bc1d24 92.2%,#90161b 93.2%,#92161b 93.5%,#c61e25 94.5%,#ca1e26 94.8%,#97171d 95.8%,#8d151a 96.5%,#ca1e26 97.8%,#c41e25 98.2%,#881318 99.2%,#790f13)"></i><i style="top:357.25px;height:4.66px;background:linear-gradient(90deg,#831217,#821216 33.8%,#8d151a 34.8%,#821116 35.8%,#8b1419 37.2%,#801116 40.5%,#8c151a 41.8%,#7c1014 43.2%,#93161c 44.8%,#790f13 46.8%,#98171d 49.2%,#861318 50.2%,#580f12 51.5%,#590f12 51.8%,#ac1c22 53.8%,#b51d23 54.5%,#a61b21 55.5%,#750e12 57.2%,#461112 58.2%,#381010 59.2%,#421212 59.8%,#590f12 60.5%,#720d11 60.8%,#95171c 62.2%,#c11d25 65.8%,#90151b 69.5%,#6f0c10 73.2%,#501012 74.2%,#441212 75.8%,#531012 79.8%,#4a1112 80.8%,#570f12 81.8%,#501012 82.8%,#730d11 83.8%,#690d11 84.8%,#841217 85.8%,#790f13 87.2%,#91161b 88.2%,#770e13 89.5%,#98181d 90.5%,#98181d 90.8%,#760e12 91.8%,#780e13 92.2%,#a71b21 93.2%,#aa1c22 93.5%,#7f1115 94.5%,#7c1014 94.8%,#bf1d25 96.2%,#bf1d24 96.5%,#871318 97.5%,#7f1115 97.8%,#841217 98.2%,#d11e26 99.5%,#d51d25)"></i><i style="top:361.31px;height:4.66px;background:linear-gradient(90deg,#91161b,#841217 2.5%,#821216 33.2%,#8c1419 34.2%,#811116 35.2%,#8d151a 36.2%,#811116 37.2%,#891419 38.5%,#7f1115 41.8%,#8f151a 43.5%,#7b0f14 44.8%,#92161b 46.8%,#750d12 48.8%,#a21a20 51.5%,#93161c 52.2%,#531012 53.5%,#4d1112 53.8%,#561012 54.5%,#7b0f14 55.2%,#aa1c22 56.5%,#b51d23 57.8%,#a01a1f 59.2%,#481112 61.2%,#3c1111 62.2%,#551012 63.8%,#b11c23 67.8%,#bb1d24 69.5%,#a41a20 74.2%,#580f12 80.2%,#670d11 81.2%,#501012 82.2%,#560f12 83.2%,#431212 84.2%,#4f1012 85.2%,#411212 86.2%,#590f12 87.2%,#4d1112 88.5%,#7a0f13 89.5%,#700c10 90.2%,#570f12 90.5%,#521012 90.8%,#5a0f12 91.2%,#750d12 91.5%,#861317 92.2%,#501012 93.5%,#8e151a 94.8%,#7f1115 95.5%,#551012 96.2%,#551012 96.5%,#a41a20 97.8%,#94161c 98.5%,#590f12 99.5%,#551012)"></i><i style="top:365.37px;height:4.66px;background:linear-gradient(90deg,#851217,#821216 34.2%,#8c151a 35.2%,#811116 36.5%,#8c1419 37.5%,#811116 38.5%,#8a1419 42.2%,#7d1015 43.5%,#91161b 44.8%,#7a0f14 46.8%,#95171c 48.5%,#6e0c10 51.2%,#ae1c22 53.5%,#97171d 54.5%,#501012 55.8%,#481112 56.5%,#531012 57.2%,#740d11 57.8%,#af1c23 59.8%,#c01d25 60.8%,#b01c23 61.8%,#541012 64.5%,#441212 66.8%,#521012 68.2%,#6f0c10 68.8%,#9c191e 70.8%,#b71d24 76.8%,#841217 81.2%,#8b1419 82.2%,#7c1014 83.5%,#841217 84.2%,#6d0c10 85.5%,#750e12 86.5%,#4d1112 87.5%,#5f0e12 88.5%,#411212 89.8%,#700c10 91.2%,#4e1012 91.8%,#441212 92.5%,#790f13 93.5%,#7b0f14 93.8%,#720d11 94.2%,#451212 94.8%,#411212 95.2%,#491112 95.5%,#780e13 96.2%,#7f1115 96.5%,#7b0f14 96.8%,#3f1212 97.8%,#3d1111 98.2%,#471112 98.5%,#7c1014 99.2%,#93161c)"></i><i style="top:369.43px;height:4.66px;background:linear-gradient(90deg,#851217,#821216 33.5%,#8b1419 34.5%,#811116 35.5%,#8c151a 36.5%,#811116 37.5%,#8a1419 38.8%,#801115 42.2%,#8c151a 43.5%,#7c1014 45.2%,#92161b 46.8%,#760e12 48.5%,#9a181d 50.8%,#881318 51.8%,#580f12 53.2%,#590f12 53.5%,#a71b21 55.2%,#b61d23 55.8%,#ab1c22 56.5%,#561012 58.5%,#4b1112 59.5%,#580f12 60.5%,#aa1c22 62.5%,#bf1d25 63.5%,#b61d23 64.5%,#730d11 67.8%,#4a1112 69.2%,#3e1111 70.5%,#570f12 72.2%,#730d11 72.8%,#ba1d24 79.5%,#af1c23 80.5%,#b51d23 81.5%,#9f191f 82.5%,#a91c22 83.5%,#94171c 84.5%,#a41b20 85.5%,#8f151a 86.5%,#9d191e 87.8%,#7e1015 88.8%,#8b1419 90.2%,#740d11 90.8%,#5c0f12 91.2%,#590f12 91.5%,#801116 92.5%,#710c11 93.2%,#541012 93.5%,#4a1112 93.8%,#5a0f12 94.5%,#770e12 94.8%,#811116 95.5%,#760e12 95.8%,#481112 96.5%,#431212 96.8%,#821216 98.2%,#730d11 98.8%,#3c1111 99.5%,#2f0e0e)"></i><i style="top:373.49px;height:4.66px;background:linear-gradient(90deg,#801116,#821216 34.5%,#8c1419 35.5%,#811116 36.8%,#8b1419 37.8%,#811116 38.8%,#891419 42.5%,#7f1115 43.8%,#8f151a 45.2%,#7b0f14 46.8%,#96171c 48.5%,#730d11 50.5%,#a21a20 53.2%,#93161c 53.8%,#521012 55.2%,#4d1112 55.5%,#5d0f12 56.2%,#a51b21 57.5%,#b31d23 58.2%,#a61b21 59.2%,#770e12 60.8%,#560f12 61.5%,#431212 62.5%,#521012 63.5%,#780e13 64.2%,#a51b20 65.5%,#b31d23 66.8%,#a31a20 69.5%,#770e12 71.5%,#4c1112 72.8%,#461112 74.2%,#570f12 76.5%,#96171c 80.5%,#9a181d 81.5%,#b11c23 82.5%,#a31a20 83.5%,#b31d23 84.5%,#9f191f 85.8%,#b11c23 86.8%,#9c191e 87.8%,#b61d23 89.2%,#97171d 90.2%,#b51d23 91.5%,#831216 92.8%,#a31a20 94.2%,#6a0d11 95.5%,#99181d 96.8%,#95171c 97.2%,#750e12 97.8%,#590f12 98.2%,#541012 98.5%,#9e191f 99.8%,#9e191f)"></i><i style="top:377.55px;height:4.66px;background:linear-gradient(90deg,#831217,#821216 33.8%,#8b1419 34.8%,#811116 35.8%,#8c151a 36.8%,#811116 38.2%,#8a1419 43.8%,#7d1015 45.2%,#91161b 46.8%,#770e12 48.5%,#98181d 50.5%,#6a0d11 52.8%,#ad1c22 55.2%,#a31a20 55.8%,#720d11 56.8%,#560f12 57.2%,#4a1112 57.8%,#590f12 58.5%,#720d11 58.8%,#a0191f 60.2%,#ad1c22 61.5%,#a11a20 62.5%,#760e12 63.8%,#511012 64.5%,#411212 65.5%,#4a1112 66.2%,#740d11 67.2%,#99181d 68.8%,#b71d24 71.8%,#a91c22 73.2%,#560f12 77.2%,#491112 80.8%,#5b0f12 82.5%,#811116 83.5%,#851217 84.8%,#9d191e 85.8%,#8f151a 86.8%,#a61b21 88.2%,#93161b 89.2%,#b41d23 90.5%,#98181d 91.5%,#c61e25 92.8%,#95171c 94.2%,#c41e25 95.5%,#be1d24 95.8%,#851317 96.8%,#831216 97.2%,#b51d23 98.5%,#740d11)"></i><i style="top:381.61px;height:4.66px;background:linear-gradient(90deg,#851217,#821216 34.8%,#8b1419 36.2%,#811116 37.2%,#8b1419 38.2%,#811116 39.2%,#891419 40.5%,#801115 44.2%,#8c151a 45.5%,#7c1014 46.8%,#95171c 48.5%,#730d11 50.5%,#9b181e 52.5%,#94171c 53.2%,#580f12 54.8%,#580f12 55.2%,#a81c21 56.8%,#b41d23 57.5%,#a31a20 58.2%,#5e0e12 59.5%,#4f1012 60.2%,#541012 60.8%,#a0191f 63.2%,#b61d23 64.5%,#a51b21 65.5%,#531012 67.5%,#481112 68.5%,#5c0f12 70.2%,#b61d24 74.2%,#b91d24 75.5%,#891419 78.5%,#760e12 81.2%,#590f12 81.8%,#421212 83.8%,#4f1012 84.8%,#4b1112 85.8%,#5d0f12 86.5%,#720d11 86.8%,#710c10 88.2%,#891419 89.2%,#7a0f13 90.5%,#9a181d 91.5%,#821116 92.8%,#b61d23 94.2%,#b51d23 94.5%,#8e151a 95.5%,#92161b 95.8%,#c81e26 96.8%,#cb1e26 97.2%,#8c141a 98.5%,#90151b 98.8%,#c91e26 99.8%,#c91e26)"></i><i style="top:385.67px;height:4.66px;background:linear-gradient(90deg,#831217,#821216 34.2%,#8b1419 35.2%,#811116 36.2%,#8c1419 37.2%,#811116 38.5%,#8a1419 39.5%,#811116 40.8%,#891419 44.2%,#7e1015 45.5%,#8f151a 47.2%,#780f13 48.5%,#98171d 50.5%,#710c10 52.5%,#a31a20 54.8%,#95171c 55.5%,#521012 56.8%,#4e1012 57.2%,#531012 57.5%,#a91c22 59.2%,#b11c23 59.8%,#590f12 62.5%,#511012 63.2%,#5c0f12 64.2%,#a71b21 66.2%,#b91d24 67.2%,#b41d23 67.8%,#570f12 71.2%,#4c1112 72.8%,#580f12 74.2%,#760e12 74.8%,#a71b21 76.8%,#b41d23 78.5%,#8f151a 84.2%,#730d11 85.2%,#710c10 86.2%,#4b1112 87.2%,#560f12 88.5%,#481112 89.5%,#5a0f12 90.2%,#700c10 90.5%,#710c10 90.8%,#501012 91.8%,#560f12 92.2%,#710c10 92.5%,#7e1015 93.2%,#570f12 94.2%,#580f12 94.5%,#811116 95.2%,#94161c 95.8%,#750d12 97.2%,#b51d23 98.5%,#b41d23 98.8%,#831217)"></i><i style="top:389.73px;height:4.66px;background:linear-gradient(90deg,#851217,#821216 35.5%,#8b1419 36.5%,#811116 37.5%,#8b1419 38.5%,#811116 39.5%,#891419 40.8%,#801116 44.5%,#8a1419 45.8%,#7d1014 47.2%,#93161c 48.8%,#740d11 50.5%,#9a181d 52.2%,#93161c 52.8%,#660d11 54.5%,#ac1c22 56.8%,#a21a20 57.5%,#730d11 58.5%,#580f12 58.8%,#4d1112 59.5%,#97171d 61.2%,#ab1c22 62.2%,#9f191f 63.2%,#740d11 64.8%,#551012 65.5%,#4b1112 66.2%,#590f12 67.2%,#710c10 67.5%,#a01a1f 68.8%,#b51d23 70.2%,#730d11 74.2%,#4b1112 75.5%,#461112 76.8%,#8d151a 79.5%,#a41a20 81.2%,#9e191f 82.2%,#af1c23 83.5%,#a41a20 84.2%,#b41d23 85.5%,#9c181e 86.5%,#a21a20 87.5%,#811116 88.5%,#811116 89.8%,#570f12 90.8%,#760e12 92.2%,#6e0c10 92.5%,#551012 92.8%,#4b1112 93.5%,#6e0c10 94.2%,#740d11 94.8%,#421212 95.8%,#511012 96.5%,#6d0c10 96.8%,#780e13 97.2%,#6b0d10 97.8%,#461112 98.5%,#461112 98.8%,#541012 99.2%,#740d11 99.5%,#841217)"></i><i style="top:393.80px;height:4.66px;background:linear-gradient(90deg,#811116,#8a1419 35.5%,#821116 36.5%,#8b1419 37.5%,#811116 38.8%,#8a1419 39.8%,#7f1115 45.8%,#8d151a 47.2%,#790f13 48.8%,#97171d 50.5%,#710c10 52.2%,#9d191e 54.5%,#841217 55.5%,#580f12 56.5%,#570f12 56.8%,#a31a20 58.5%,#b01c23 59.2%,#9f191f 59.8%,#570f12 61.2%,#501012 61.5%,#551012 62.2%,#770e12 62.8%,#9e191f 64.2%,#a91c22 65.2%,#98181d 66.5%,#561012 68.2%,#471112 68.8%,#521012 69.8%,#740d11 70.5%,#a11a1f 72.2%,#ad1c22 73.8%,#a31a20 75.5%,#7a0f13 77.5%,#5a0f12 78.2%,#451212 79.8%,#580f12 81.5%,#7c1014 82.5%,#7e1015 83.5%,#93161c 84.5%,#8f151a 85.5%,#ac1c22 86.5%,#a31a20 87.5%,#bc1d24 88.8%,#a11a1f 89.8%,#ad1c22 91.2%,#861318 92.2%,#97171d 93.5%,#6c0d10 94.8%,#8b1419 96.2%,#750e12 96.8%,#580f12 97.2%,#4e1012 97.5%,#511012 97.8%,#770e12 98.5%,#7b0f14 99.2%,#531012)"></i><i style="top:397.86px;height:4.66px;background:linear-gradient(90deg,#861318,#821216 35.8%,#8b1419 36.8%,#811116 37.8%,#8b1419 38.8%,#811116 40.2%,#891419 46.2%,#7d1015 47.5%,#92161b 48.8%,#750e12 50.5%,#9a181e 52.2%,#6c0d10 54.2%,#a31a20 56.5%,#99181d 57.2%,#570f12 58.5%,#521012 58.8%,#551012 59.2%,#a81c21 60.8%,#af1c23 61.5%,#570f12 63.8%,#541012 64.2%,#5b0f12 64.8%,#a91c22 67.5%,#ae1c23 68.5%,#730d11 70.5%,#511012 71.2%,#4a1112 71.8%,#4f1012 72.5%,#720c11 73.5%,#a91c22 76.5%,#b31d23 78.2%,#99181d 79.8%,#4d1112 82.8%,#511012 84.8%,#700c10 85.8%,#600e11 86.5%,#831216 87.8%,#811116 88.8%,#a31a20 89.8%,#9b181e 91.2%,#be1d24 92.5%,#9a181e 93.5%,#9a181d 93.8%,#b81d24 94.8%,#861318 96.2%,#861318 96.5%,#ac1c22 97.5%,#aa1c22 97.8%,#750d12 99.2%,#801116)"></i><i style="top:401.92px;height:4.66px;background:linear-gradient(90deg,#811116,#8a1419 35.8%,#811116 36.8%,#8b1419 37.8%,#811116 39.2%,#8a1419 40.2%,#801115 46.2%,#8c1419 47.5%,#7a0f14 48.8%,#96171c 50.5%,#720d11 52.2%,#9c191e 54.2%,#630e11 56.5%,#a01a1f 58.2%,#a81b21 58.8%,#94161c 59.5%,#5c0f12 60.5%,#511012 61.2%,#570f12 61.5%,#710c10 61.8%,#9c191e 62.8%,#ab1c22 63.5%,#a61b21 64.2%,#5d0f12 66.5%,#561012 67.2%,#5d0f12 67.8%,#a21a20 69.8%,#b41d23 71.2%,#5a0f12 74.2%,#501012 75.2%,#5b0f12 76.5%,#740d11 77.2%,#9c191e 79.2%,#b81d24 81.2%,#a71b21 82.8%,#861318 83.8%,#811116 84.8%,#600e11 86.2%,#700c10 86.8%,#501012 87.8%,#5a0f12 89.2%,#4d1112 90.2%,#770e12 91.2%,#750e12 92.5%,#a41b20 93.8%,#8f151a 95.2%,#bb1d24 96.2%,#bc1d24 96.5%,#90161b 97.5%,#8d151a 97.8%,#c11d25 99.2%,#b31d23)"></i><i style="top:405.98px;height:4.66px;background:linear-gradient(90deg,#871318,#821116 36.2%,#8b1419 37.2%,#811116 38.2%,#8b1419 39.2%,#801116 40.5%,#881318 46.2%,#7e1015 47.5%,#90161b 49.2%,#760e12 50.5%,#9a181e 52.2%,#6b0d10 54.2%,#a01a1f 56.2%,#95171c 56.8%,#580f12 58.5%,#9f191f 60.2%,#ae1c22 60.8%,#9e191f 61.5%,#560f12 62.8%,#501012 63.2%,#590f12 63.8%,#720d11 64.2%,#97171d 65.2%,#a81b21 66.2%,#93161c 67.5%,#541012 69.5%,#501012 70.2%,#5c0f12 70.8%,#9f191f 72.5%,#b41d23 73.5%,#9c181e 75.2%,#710c10 77.2%,#580f12 77.8%,#501012 79.2%,#551012 79.8%,#95171c 82.2%,#b81d24 84.2%,#a51b21 85.2%,#aa1c22 86.2%,#8c141a 87.2%,#92161b 88.2%,#760e12 89.5%,#7b0f14 90.5%,#4f1012 91.5%,#5a0f12 92.8%,#431212 93.8%,#481112 94.2%,#720d11 94.8%,#7a0f13 95.2%,#670d11 96.5%,#a31a20 97.8%,#7d1014 99.2%,#841217)"></i><i style="top:410.04px;height:12.66px;background:linear-gradient(90deg,#801115,#8a1419 36.2%,#811116 37.2%,#8b1419 38.5%,#801116 39.5%,#8b1419 40.5%,#801116 41.8%,#891419 42.8%,#801115 46.5%,#8a1419 47.8%,#7c1014 49.2%,#92161b 50.5%,#750e12 52.2%,#98171d 53.8%,#720d11 55.8%,#9b181e 58.2%,#630e11 60.5%,#a41a20 62.8%,#630e11 65.5%,#97171d 68.2%,#9c181e 69.2%,#93161c 70.2%,#580f12 72.5%,#5d0f12 73.2%,#7e1015 74.2%,#a11a20 76.2%,#891419 79.5%,#720d11 81.2%,#551012 82.2%,#640e11 83.8%,#841217 84.8%,#8b1419 86.2%,#a31a20 87.2%,#96171c 88.2%,#a51b21 89.5%,#93161b 90.5%,#9f191f 91.8%,#831217 92.8%,#881318 94.2%,#5c0f12 95.2%,#590f12 95.5%,#770e12 96.5%,#4a1112 97.8%,#511012 98.2%,#790f13 98.8%,#7d1015)"></i></div><b class="tx"></b></div>
<div class="h" style="left:158.9px;top:1873.7px;width:725.4px;height:350.3px;background:#d11e26"><div class="hh" style="top:-8px;height:366.3px;background:#d11e26"><i style="top:0.00px;height:13.60px;background:linear-gradient(90deg,#e11d25,#b51d23 1.2%,#ed1c24 2.6%,#ed1e24 2.9%,#b71d24 4.6%,#e51c24 6%,#c61e25 7.4%,#dc1d25 8.8%,#c31d25 10.4%,#df1d25 11.8%,#c11d25 13.2%,#e11d25 14.9%,#ca1e26 16.2%,#e51c24 17.9%,#cf1e26 19.3%,#e81c24 21.2%,#d01e26 22.6%,#e71c24 24.3%,#c51e25 26%,#dd1d25 27.6%,#b31d23 29.3%,#ce1e26 31.2%,#a51b21 33.2%,#bd1d24 35.1%,#a41b20 37.1%,#af1c23 39.6%,#a21a20 42.1%,#c41e25 45.7%,#871318 50.1%,#92161b 51.5%,#dc1d25 55.1%,#eb1c24 58.2%,#c91e26 61.8%,#580f12 67.6%,#481112 70.1%,#560f12 72.6%,#710c10 74%,#9b181e 78.8%,#bb1d24 83.8%,#cc1e26 89.9%,#cf1e26)"></i><i style="top:13.00px;height:5.60px;background:linear-gradient(90deg,#da1d25,#b71d24 1.2%,#e91c24 2.4%,#ed1e24 2.9%,#b41d23 4.3%,#ea1c24 6%,#c11d25 7.4%,#dd1d25 8.8%,#c11d25 10.1%,#df1d25 11.8%,#c21d25 13.2%,#e31d25 14.6%,#cb1e26 16.2%,#e51c24 17.6%,#ce1e26 19.3%,#e61c24 21%,#cc1e26 22.4%,#de1d25 24.3%,#b91d24 25.7%,#d41d25 27.4%,#a51b20 29%,#c51e25 30.7%,#96171d 32.6%,#b41d23 34.6%,#98171d 37.1%,#a61b21 39%,#9d191e 41.8%,#bb1d24 44.9%,#851217 49.3%,#92161b 50.7%,#d61d25 54%,#e61c24 56.8%,#ce1e26 59.9%,#590f12 66%,#491112 68.2%,#561012 70.7%,#710c10 72.1%,#9e191f 77.1%,#bf1d25 82.4%,#cd1e26 88.8%,#cc1e26)"></i><i style="top:18.01px;height:5.60px;background:linear-gradient(90deg,#d51d25,#bc1d24 1.2%,#ec1c24 2.4%,#ec1c24 2.9%,#b51d23 4%,#b31d23 4.3%,#ed1c24 5.7%,#bd1d24 7.4%,#df1d25 8.8%,#c01d25 10.1%,#e11d25 11.5%,#c31e25 12.9%,#e61c24 14.6%,#ca1e26 16%,#e31d25 17.4%,#cc1e26 19%,#e11d25 20.7%,#c31e25 22.4%,#d51d25 24%,#ac1c22 25.4%,#c81e26 27.1%,#94171c 28.7%,#b81d24 30.4%,#871318 32.4%,#aa1c22 34.3%,#8b1419 36.5%,#9e191f 38.8%,#97171d 41.2%,#b11c23 44%,#841217 48.5%,#8d151a 49.6%,#d01e26 52.9%,#df1d25 55.7%,#cd1e26 58.2%,#5b0f12 64.3%,#4b1112 66.5%,#5a0f12 69%,#720d11 70.1%,#a11a1f 75.1%,#c21d25 80.7%,#ce1e26 87.6%,#c71e26)"></i><i style="top:23.01px;height:5.60px;background:linear-gradient(90deg,#d21e26,#be1d24 1%,#ed1c24 2.6%,#b11c23 4%,#ed1d24 5.4%,#ec1c24 6%,#b91d24 7.1%,#e21d25 8.8%,#c01d25 10.1%,#e31d25 11.5%,#c41e25 12.9%,#e81c24 14.3%,#c71e25 16%,#e31d25 17.4%,#c81e26 19%,#db1d25 20.4%,#ba1d24 22.1%,#ca1e26 23.8%,#9c181e 25.4%,#b61d23 27.1%,#841217 28.5%,#aa1c22 30.1%,#790f13 32.1%,#a0191f 33.8%,#801116 36.2%,#97171d 38.2%,#91161b 40.7%,#a81b21 43.5%,#831217 47.9%,#cd1e26 52.1%,#d91d25 54.6%,#c41e25 57.1%,#580f12 62.9%,#4e1012 64.9%,#580f12 66.8%,#700c10 67.9%,#a31a20 73.2%,#c51e25 79%,#cd1e26 86.2%,#c11d25)"></i><i style="top:28.02px;height:5.60px;background:linear-gradient(90deg,#d21e26,#c31e25 1%,#e51c24 2.1%,#e81c24 2.6%,#b21d23 4%,#eb1c24 5.1%,#ed1f24 5.7%,#b31d23 7.1%,#e71c24 8.5%,#bf1d25 10.1%,#e41d25 11.2%,#c31e25 12.9%,#ea1c24 14.3%,#c21d25 15.7%,#e11d25 17.4%,#bf1d25 18.8%,#d51d25 20.1%,#b01c23 21.8%,#b81d24 23.8%,#8e151a 25.1%,#a71b21 26.8%,#770e12 28.2%,#9d191e 29.9%,#660d11 31.8%,#97171d 33.5%,#760e12 35.7%,#91161b 37.9%,#8a1419 40.1%,#9f191f 42.9%,#821116 47.1%,#c91e26 51.2%,#d21e26 53.5%,#ba1d24 56%,#580f12 61.5%,#511012 62.9%,#5a0f12 64.9%,#710c10 66%,#aa1c22 71.8%,#c71e26 77.4%,#cc1e26 84.9%,#ba1d24)"></i><i style="top:33.02px;height:5.60px;background:linear-gradient(90deg,#d51d25,#c81e26 1%,#e51c24 2.4%,#b51d23 3.8%,#b61d24 4%,#ed1d24 5.1%,#ed1e24 5.7%,#b21c23 6.8%,#af1c23 7.1%,#ec1c24 8.5%,#bd1d24 9.9%,#e71c24 11.2%,#c21d25 12.9%,#ea1c24 14.3%,#ba1d24 15.7%,#e11d25 17.1%,#b51d23 18.5%,#d01e26 19.9%,#a91c22 21.2%,#a81c21 23.5%,#821116 25.1%,#99181d 26.5%,#5b0f12 28.2%,#8d151a 29.3%,#8f151a 29.9%,#4f1012 31.2%,#590f12 31.8%,#7d1015 32.4%,#8f151b 33.2%,#640e11 35.1%,#8c151a 37.6%,#841217 39.6%,#96171c 42.4%,#7f1115 46%,#cb1e26 51.5%,#bd1d24 54%,#590f12 60.1%,#551012 61.3%,#5a0f12 62.6%,#700c10 63.7%,#ac1c22 69.9%,#c91e26 75.4%,#cb1e26 82.6%,#b11c23)"></i><i style="top:38.03px;height:5.60px;background:linear-gradient(90deg,#da1d25,#ca1e26 1%,#e11d25 2.4%,#b81d24 3.8%,#e71c24 4.9%,#ed1f24 5.4%,#eb1c24 5.7%,#ad1c22 6.8%,#b01c23 7.1%,#ed1d24 8.2%,#ec1c24 8.8%,#b91d24 9.9%,#eb1c24 11.2%,#bd1d24 12.6%,#e91c24 14.3%,#b01c23 15.7%,#e01d25 17.1%,#a61b21 18.5%,#cd1e26 19.9%,#93161c 21.2%,#9a181d 22.6%,#790f13 25.1%,#8a1419 26.5%,#4d1112 27.9%,#821216 29%,#861317 29.6%,#401212 31%,#871318 32.6%,#801115 33.5%,#5a0f12 34.3%,#531012 34.9%,#861318 36.8%,#7e1015 39.3%,#8e151a 42.1%,#7d1015 45.1%,#b71d24 49%,#c31d25 50.7%,#b51d23 52.9%,#5a0f12 59.6%,#b01c23 68.2%,#ca1e26 73.8%,#a81c21)"></i><i style="top:43.03px;height:5.60px;background:linear-gradient(90deg,#e11d25,#c71e26 1.2%,#dc1d25 2.6%,#be1d24 3.8%,#e71c24 4.9%,#ec1c24 5.4%,#ac1c22 6.8%,#ec1c24 7.9%,#ec1c24 8.8%,#b51d23 9.9%,#eb1c24 11%,#ec1c24 11.5%,#b51d23 12.6%,#e91c24 14%,#dd1d25 14.6%,#a61b21 15.4%,#a51b21 15.7%,#d81d25 16.5%,#e11d25 17.1%,#94171c 18.2%,#8f151a 18.5%,#af1c23 19.6%,#531012 21%,#6a0d11 22.1%,#3f1212 23.5%,#471112 25.4%,#5e0e12 26.5%,#431212 27.6%,#541012 28.2%,#710c10 28.5%,#801116 29%,#760e12 29.6%,#471112 30.1%,#330f0f 30.7%,#481112 31.2%,#750e12 31.8%,#811116 32.4%,#730d11 33.2%,#501012 33.8%,#451212 34.3%,#5a0f12 35.1%,#710c10 35.4%,#811116 36.2%,#750e12 38.5%,#871318 41.2%,#7c1014 44.3%,#b81d24 49.3%,#b01c23 51.2%,#660d11 57.6%,#b61d23 66.5%,#cb1e26 71.5%,#9d191e)"></i><i style="top:48.03px;height:5.60px;background:linear-gradient(90deg,#e51c24,#c11d25 1.2%,#dd1d25 2.6%,#c31d25 3.8%,#e91c24 5.1%,#af1c23 6.8%,#ed1f24 7.9%,#ea1c24 8.8%,#b41d23 9.6%,#b21c23 9.9%,#ed1d24 11%,#ed1d24 11.5%,#ad1c22 12.6%,#b01c23 12.9%,#e91c24 14%,#da1d25 14.6%,#9b181e 15.4%,#9b181e 15.7%,#e31d25 16.8%,#cb1e26 17.4%,#841217 17.9%,#5f0e12 18.5%,#811116 19.3%,#710c10 19.9%,#491112 20.4%,#650d11 21.5%,#3d1111 22.9%,#441212 24.3%,#2c0e0e 26%,#2c0e0e 27.6%,#421212 28.2%,#720d11 28.7%,#770e12 29%,#720d11 29.3%,#411212 29.9%,#2b0e0e 30.4%,#441212 31%,#730d11 31.5%,#7d1015 32.1%,#730d11 32.6%,#4c1112 33.2%,#3a1111 33.8%,#411212 34.3%,#710c10 35.1%,#7f1115 36%,#670d11 38.2%,#831216 40.7%,#7b0f14 43.8%,#af1c23 48.5%,#700c10 56%,#7c1014 58.5%,#bc1d24 65.1%,#cc1e26 69.9%,#92161b)"></i><i style="top:53.04px;height:5.60px;background:linear-gradient(90deg,#e71c24,#ba1d24 1.2%,#df1d25 2.4%,#c61e25 3.8%,#e21d25 5.4%,#b31d23 6.5%,#b51d23 6.8%,#e71c24 7.6%,#ed2024 8.5%,#af1c23 9.6%,#af1c23 9.9%,#e51c24 10.7%,#ed1d24 11.5%,#a51b21 12.6%,#a81c22 12.9%,#ea1c24 14%,#da1d25 14.6%,#90161b 15.4%,#8f151a 15.7%,#bb1d24 16.5%,#ba1d24 16.8%,#580f12 17.9%,#811116 19%,#501012 19.9%,#4d1112 20.1%,#6f0c10 20.7%,#760e12 21.2%,#521012 21.8%,#401212 22.4%,#531012 23.5%,#3a1111 24.6%,#250c0c 27.9%,#371010 29.3%,#240c0c 30.1%,#421212 30.7%,#720d11 31.2%,#790f13 31.5%,#740d11 32.1%,#3c1111 32.9%,#2e0e0e 33.5%,#3f1212 34%,#720d11 34.9%,#7b0f14 35.4%,#541012 37.6%,#7d1015 39.9%,#7a0f13 43.2%,#a61b21 47.6%,#7a0f13 52.9%,#760e12 55.1%,#b91d24 62.6%,#cb1e26 66.8%,#881318)"></i><i style="top:58.04px;height:5.60px;background:linear-gradient(90deg,#e61c24,#b51d23 1%,#b31d23 1.2%,#e71c24 2.6%,#c41e25 4%,#e01d25 5.4%,#b91d24 6.5%,#bb1d24 6.8%,#e81c24 7.6%,#ed1d24 8.5%,#ab1c22 9.6%,#ae1c22 9.9%,#e71c24 10.7%,#ed1c24 11.5%,#9e191f 12.6%,#a31a20 12.9%,#ed1c24 14%,#dc1d25 14.6%,#821216 15.4%,#7a0f13 15.7%,#93161c 16.5%,#590f12 17.6%,#8a1419 18.5%,#7d1014 19%,#4e1012 19.6%,#501012 19.9%,#790f13 20.4%,#7f1115 20.7%,#7b0f14 21%,#461112 21.8%,#6c0d10 22.9%,#3b1111 24.3%,#451212 25.4%,#170808 29.9%,#2b0e0e 30.4%,#750e12 31.2%,#6c0c10 31.8%,#3d1111 32.4%,#220c0c 32.9%,#300f0f 33.5%,#740d11 34.6%,#780e13 34.9%,#720d11 35.7%,#560f12 36.2%,#481112 37.1%,#7a0f14 39.3%,#780e13 42.6%,#9d191e 46.2%,#790f13 53.5%,#b91d24 60.7%,#cb1e26 64.6%,#c71e26 69.9%,#8e151a 87.4%,#7e1015)"></i><i style="top:63.05px;height:5.60px;background:linear-gradient(90deg,#e21d25,#ad1c22 1%,#ae1c22 1.2%,#ec1c24 2.4%,#e81c24 2.9%,#be1d24 4%,#e01d25 5.4%,#c11d25 6.8%,#e51c24 7.6%,#ed1e24 8.2%,#ab1c22 9.6%,#af1c23 9.9%,#e71c24 10.7%,#ed2024 11.2%,#ea1c24 11.5%,#9b181e 12.6%,#a11a1f 12.9%,#e51c24 13.8%,#ec1c24 14%,#c91e26 14.6%,#811116 15.1%,#760e12 15.4%,#96171c 16.2%,#5b0f12 17.4%,#90161b 18.2%,#8c151a 18.5%,#551012 19.3%,#790f13 19.9%,#841217 20.4%,#501012 21.2%,#501012 21.5%,#780e13 22.4%,#461112 23.8%,#501012 25.1%,#361010 26.5%,#200b0b 30.1%,#431212 31.5%,#170808 32.6%,#740d12 34.3%,#730d11 34.9%,#4e1012 35.7%,#3d1111 36.5%,#4b1112 37.4%,#6f0c10 38.2%,#7a0f13 39%,#730d11 41.8%,#96171c 46%,#7e1015 52.1%,#bb1d24 59%,#cb1e26 62.6%,#c51e25 67.9%,#8a1419 83.5%,#750d12)"></i><i style="top:68.05px;height:5.60px;background:linear-gradient(90deg,#dc1d25,#a61b21 1%,#ad1c22 1.2%,#e91c24 2.1%,#ed2124 2.4%,#ec1c24 2.9%,#b81d24 4%,#e01d25 5.1%,#e01d25 5.7%,#c41e25 6.8%,#e81c24 8.2%,#ae1c23 9.6%,#e61c24 10.7%,#ed1e24 11.2%,#e71c24 11.5%,#9e191f 12.6%,#d11e26 13.8%,#c81e26 14%,#7d1015 14.9%,#770e12 15.1%,#9b181e 16%,#6a0d11 17.1%,#98181d 17.9%,#5a0f12 19%,#90161b 19.9%,#7c1014 20.4%,#5d0f12 20.7%,#511012 21%,#5a0f12 21.2%,#770e12 21.5%,#831217 22.1%,#4c1112 22.9%,#471112 23.2%,#6b0d10 24%,#6a0d11 24.3%,#431212 25.4%,#110606 32.1%,#130606 32.4%,#730d11 33.8%,#720d11 34.3%,#3c1111 35.4%,#310f0f 36%,#431212 36.8%,#730d11 37.9%,#790f13 38.5%,#6d0c10 41%,#8f151a 45.1%,#821216 50.7%,#bd1d24 57.4%,#cb1e26 61%,#c31e25 65.7%,#861318 80.1%,#620e11)"></i><i style="top:73.06px;height:5.60px;background:linear-gradient(90deg,#d31e26,#a41a20 1%,#ed1f24 2.1%,#ec1c24 2.9%,#b61d23 3.8%,#b11c23 4%,#e81c24 5.4%,#c31e25 6.8%,#e11d25 8.2%,#b71d24 9.6%,#e31d25 10.7%,#ec1c24 11.2%,#a61b21 12.6%,#a71b21 13.8%,#7b0f14 14.9%,#9e191f 15.7%,#740d11 16.8%,#a0191f 17.6%,#720d11 18.8%,#9c191e 19.6%,#600e11 20.7%,#91161b 21.5%,#7a0f14 22.1%,#5a0f12 22.4%,#4f1012 22.6%,#551012 22.9%,#700c10 23.2%,#7d1015 23.8%,#431212 24.9%,#531012 26%,#160707 30.7%,#1e0a0a 32.4%,#720d11 33.5%,#730d11 33.8%,#351010 34.9%,#290d0d 35.4%,#340f0f 36%,#720d11 37.4%,#780e13 37.9%,#600e11 40.4%,#871318 43.8%,#861318 49.3%,#bb1d24 55.4%,#c91e26 59%,#c11d25 63.7%,#7f1115 78.2%,#5a0f12 91%,#521012)"></i><i style="top:78.06px;height:5.60px;background:linear-gradient(90deg,#c91e26,#a41a20 .7%,#a61b21 1%,#e91c24 1.8%,#ed2424 2.6%,#e91c24 2.9%,#ae1c22 3.8%,#ad1c22 4%,#de1d25 4.9%,#ed1c24 5.4%,#c01d25 6.8%,#da1d25 8.2%,#c41e25 9.6%,#e81c24 11.2%,#de1d25 11.8%,#96171c 12.9%,#9d191e 13.8%,#841217 14.6%,#a41b20 15.4%,#801115 16.5%,#a91c22 17.4%,#7d1014 18.2%,#7e1015 18.5%,#b11c23 19.3%,#740d11 20.1%,#750e12 20.4%,#a31a20 21%,#ab1c22 21.2%,#9c181e 21.5%,#610e11 22.1%,#5e0f12 22.4%,#8f151a 22.9%,#9a181d 23.2%,#92161b 23.5%,#501012 24.3%,#7a0f13 25.4%,#431212 26.8%,#1d0a0a 32.4%,#3e1111 33.8%,#260d0d 34.9%,#6f0c10 36.5%,#770e12 37.1%,#551012 39.9%,#831216 42.9%,#8a1419 47.9%,#ba1d24 53.5%,#c71e26 57.1%,#bd1d24 61.5%,#5a0f12 82.1%,#451112)"></i><i style="top:83.06px;height:5.60px;background:linear-gradient(90deg,#be1d24,#a31a20 .7%,#ad1c22 1%,#ed1f24 1.8%,#ed2124 2.6%,#aa1c22 3.8%,#ae1c22 4%,#ed1d24 5.1%,#eb1c24 5.7%,#bb1d24 6.8%,#d71d25 8.2%,#cf1e26 9.6%,#e41d25 11.2%,#d11e26 11.8%,#9e191f 12.4%,#95171c 12.6%,#90151b 14.6%,#a81c21 15.4%,#8d151a 16.2%,#b51d23 17.1%,#b31d23 17.4%,#891419 17.9%,#841217 18.2%,#c01d25 19%,#ba1d24 19.3%,#831217 19.9%,#7e1015 20.1%,#be1d24 21%,#b31d23 21.2%,#790f13 21.8%,#740d11 22.1%,#b51d23 22.9%,#aa1c22 23.2%,#590f12 24%,#99181d 24.9%,#96171c 25.1%,#511012 26%,#610e11 27.1%,#3b1111 28.5%,#110606 32.1%,#180808 34%,#6c0d10 35.7%,#770e12 36.2%,#700c10 37.4%,#590f12 37.9%,#4e1012 39%,#801116 42.1%,#8d151a 46.5%,#b91d24 51.8%,#c51e25 55.1%,#b91d24 59.9%,#570f12 77.6%,#3d1111)"></i><i style="top:88.07px;height:5.60px;background:linear-gradient(90deg,#b51d23,#a71b21 .7%,#e51c24 1.5%,#ed2524 2.4%,#ec1c24 2.6%,#af1c23 3.5%,#aa1c22 3.8%,#eb1c24 4.9%,#ed1f24 5.4%,#b81d24 6.8%,#d71d25 8.2%,#d91d25 11%,#a21a20 11.8%,#97171d 12.9%,#a91c22 15.4%,#9b181e 16.2%,#bd1d24 17.1%,#96171c 17.9%,#96171c 18.2%,#c01d25 19%,#8e151a 19.9%,#95171c 20.1%,#c11d25 20.7%,#c01d25 21%,#8e151a 21.5%,#831216 21.8%,#c01d25 22.6%,#ba1d24 22.9%,#7f1115 23.5%,#740d11 23.8%,#b21c23 24.6%,#ae1c22 24.9%,#551012 25.7%,#590f12 26%,#861318 26.5%,#881318 26.8%,#421212 27.9%,#3f1212 29%,#220c0c 30.4%,#260d0d 32.9%,#180808 34%,#351010 34.6%,#750e12 35.1%,#7b1014 35.4%,#710c10 36.5%,#570f12 37.1%,#481112 38.2%,#7f1115 41.2%,#c21d25 53.5%,#b51d23 58.2%,#4e1012 76.5%,#361010)"></i><i style="top:93.07px;height:5.60px;background:linear-gradient(90deg,#af1c23,#ae1c22 .7%,#ec1c24 1.5%,#ed2424 1.8%,#ed2024 2.4%,#ac1c22 3.5%,#af1c23 3.8%,#ed1f24 4.9%,#ed1d24 5.4%,#c41e25 6.2%,#b91d24 6.8%,#d71d25 7.9%,#e51c24 10.1%,#d61d25 10.7%,#94161c 11.5%,#a31a20 12.4%,#96171c 13.2%,#ab1c22 14%,#a61b21 16.5%,#b71d24 17.4%,#a41a20 18.2%,#b51d23 19%,#9d191e 19.9%,#bc1d24 20.7%,#92161b 21.5%,#97171d 21.8%,#be1d24 22.4%,#bf1d25 22.6%,#831217 23.5%,#bd1d24 24.3%,#bc1d24 24.6%,#710c10 25.4%,#770e12 25.7%,#a31a20 26.2%,#a71b21 26.5%,#7a0f13 27.1%,#541012 27.4%,#491112 27.6%,#650e11 28.5%,#2e0e0e 29.9%,#351010 31.2%,#200b0b 34%,#2b0e0e 34.6%,#750e12 35.4%,#6c0c10 36%,#4f1012 36.5%,#431212 37.4%,#801115 40.4%,#be1d24 52.1%,#b11c23 56.5%,#700c10 68.2%,#5a0f12 70.1%,#471112 75.1%,#320f0f)"></i><i style="top:98.08px;height:5.60px;background:linear-gradient(90deg,#aa1c22,#ab1c22 .4%,#e21d25 1.2%,#ed2524 1.8%,#e91c24 2.4%,#af1c23 3.2%,#ad1c22 3.5%,#ed1f24 4.6%,#e81c24 5.4%,#bb1d24 6.2%,#b91d24 6.5%,#de1d25 7.6%,#d81d25 9%,#ed1d24 10.1%,#e21d25 10.4%,#8d151a 11.2%,#b11c23 12.1%,#8f151a 12.9%,#b21c23 13.8%,#99181d 14.9%,#be1d24 15.7%,#9b181e 16.5%,#b51d23 17.4%,#a11a1f 18.2%,#ae1c23 20.7%,#a0191f 21.5%,#b81d24 22.4%,#96171c 23.2%,#bc1d24 24%,#bd1d24 24.3%,#841217 25.1%,#8b1419 25.4%,#b71d24 26%,#b91d24 26.2%,#710c11 27.1%,#6a0d11 27.4%,#8d151a 28.2%,#720c11 28.7%,#4f1012 29%,#411212 29.3%,#310f0f 31.2%,#1a0909 32.1%,#270d0d 33.2%,#130707 34%,#441212 35.7%,#441212 36.8%,#700c10 38.2%,#7c1014 39%,#b91d24 50.4%,#ae1c22 54.9%,#700c10 66.2%,#5a0f12 68.2%,#431212 74.3%,#320f0f)"></i><i style="top:103.08px;height:5.60px;background:linear-gradient(90deg,#a81b21,#ae1c23 .4%,#e91c24 1.2%,#ed2224 1.5%,#ed1e24 2.1%,#aa1c22 3.2%,#ed1e24 4.3%,#ed1e24 5.1%,#b41d23 6.2%,#ed1c24 7.6%,#d01e26 8.8%,#eb1c24 10.1%,#8e151a 11%,#8b1419 11.2%,#b91d24 11.8%,#c11d25 12.1%,#881318 12.9%,#bc1d24 13.8%,#b51d23 14%,#891419 14.6%,#8c1419 14.9%,#bb1d24 15.4%,#bf1d25 15.7%,#8b1419 16.5%,#b61d23 17.4%,#95171c 18.5%,#b01c23 19.3%,#9f191f 20.1%,#ad1c22 21%,#a61b21 22.9%,#ba1d24 24%,#98171d 24.9%,#c21d25 25.7%,#c21d25 26%,#831216 26.8%,#b01c23 27.9%,#531012 29%,#5a0f12 29.9%,#351010 30.7%,#1e0a0a 32.1%,#2e0e0e 33.2%,#1a0909 34%,#270d0d 34.6%,#240c0c 35.7%,#720d11 37.1%,#7f1115 37.9%,#b41d23 49%,#a81b21 54%,#700c10 65.1%,#590f12 67.4%,#441212 73.5%,#351010)"></i><i style="top:108.09px;height:5.60px;background:linear-gradient(90deg,#a71b21,#b31d23 .4%,#ed1e24 1.2%,#e81c24 2.1%,#a71b21 2.9%,#a71b21 3.2%,#eb1c24 4%,#ee2b24 4.6%,#eb1c24 5.1%,#ac1c22 6%,#af1c23 6.2%,#ed1e24 7.1%,#ed2324 7.9%,#bd1d24 9%,#dd1d25 9.9%,#861318 11%,#91161b 11.2%,#c71e25 11.8%,#c51e25 12.1%,#881318 12.6%,#821116 12.9%,#b61d24 13.5%,#c21d25 13.8%,#821116 14.6%,#8a1419 14.9%,#bb1d24 15.4%,#b61d23 15.7%,#851217 16.2%,#831217 16.5%,#b11c23 17.1%,#ba1d24 17.4%,#8c141a 18.2%,#b91d24 19%,#9a181d 20.1%,#ba1d24 21%,#a71b21 21.8%,#b81d24 23.2%,#ad1c22 24.6%,#c61e25 25.4%,#c41e25 25.7%,#9b181e 26.5%,#c61e25 27.6%,#821116 28.5%,#7b0f14 28.7%,#8f151a 29.6%,#841217 29.9%,#4c1112 30.4%,#3f1212 30.7%,#2b0e0e 32.1%,#3a1111 32.9%,#290d0d 33.8%,#340f0f 34.9%,#260d0d 35.7%,#320f0f 36%,#7b1014 36.5%,#871318 36.8%,#811116 40.1%,#a61b21 44.9%,#b11c23 48.2%,#a51b20 53.5%,#700c10 65.1%,#5a0f12 67.4%,#481112 73.2%,#3b1111)"></i><i style="top:113.09px;height:5.60px;background:linear-gradient(90deg,#a61b21,#b71d24 .4%,#e71c24 1%,#ed2324 1.2%,#e11d25 2.1%,#ab1c22 2.6%,#9e191f 2.9%,#a71b21 3.2%,#e11d25 3.8%,#ed2524 4%,#ee3024 4.6%,#ed2624 4.9%,#e31d25 5.1%,#a71b21 5.7%,#9d191e 6%,#ab1c22 6.2%,#eb1c24 6.8%,#ee3724 7.4%,#ee2b24 7.9%,#e81c24 8.2%,#a81b21 8.8%,#9a181d 9%,#b31d23 10.1%,#841217 10.7%,#7d1014 11%,#c51e25 11.8%,#b71d24 12.1%,#7c1014 12.6%,#821216 12.9%,#be1d24 13.5%,#be1d24 13.8%,#861318 14.3%,#801116 14.6%,#b31d23 15.1%,#bd1d24 15.4%,#7f1115 16.2%,#bf1d25 17.1%,#bb1d24 17.4%,#8e151a 17.9%,#90151b 18.2%,#bf1d25 18.8%,#c51e25 19%,#96171c 19.9%,#c51e25 20.7%,#a41b20 21.8%,#c51e25 22.6%,#b31d23 23.5%,#c81e26 24.9%,#b71d24 26.2%,#d21e26 27.1%,#ce1e26 27.4%,#9f191f 28.2%,#bc1d24 29.3%,#5b0f12 30.4%,#560f12 31.2%,#240c0c 32.1%,#340f0f 32.9%,#1b0909 33.8%,#2f0e0e 34.6%,#300f0f 36%,#3e1111 36.2%,#851217 36.8%,#8d151a 37.1%,#770e13 39%,#a21a20 43.5%,#af1c23 47.6%,#a41a20 53.8%,#511012 73.2%,#451212)"></i><i style="top:118.09px;height:5.60px;background:linear-gradient(90deg,#a51b21,#a51b21 .1%,#ed1d24 1%,#ee2824 1.5%,#ed2024 1.8%,#a21a20 2.6%,#99181d 2.9%,#a91c22 3.2%,#ea1c24 3.8%,#ee3524 4.3%,#ed2524 4.9%,#dc1d25 5.1%,#98181d 5.7%,#92161b 6%,#ed2224 6.8%,#ef4123 7.4%,#ee2f24 7.9%,#e71c24 8.2%,#92161b 8.8%,#7c1014 9%,#7e1015 9.3%,#aa1c22 9.9%,#aa1c22 10.1%,#750e12 10.7%,#740d11 11%,#af1c23 11.5%,#ba1d24 11.8%,#8a1419 12.4%,#811116 12.6%,#c51e25 13.5%,#b81d24 13.8%,#801116 14.3%,#861318 14.6%,#bf1d25 15.1%,#bf1d25 15.4%,#8e151a 16%,#8a1419 16.2%,#be1d24 16.8%,#c61e25 17.1%,#8f151a 17.9%,#cb1e26 18.8%,#c51e25 19%,#99181d 19.6%,#9b181e 19.9%,#c71e26 20.4%,#cd1e26 20.7%,#a21a20 21.5%,#ce1e26 22.4%,#b11c23 23.5%,#d01e26 24.3%,#bd1d24 25.4%,#d41d25 26.8%,#ba1d24 27.9%,#d61d25 28.7%,#d31e26 29%,#91161b 29.9%,#871318 30.1%,#8b1419 31%,#7d1014 31.2%,#3f1212 31.8%,#361010 32.9%,#1f0b0b 33.5%,#310f0f 34.3%,#230c0c 35.4%,#381010 36.5%,#700c10 37.1%,#740d11 37.4%,#690d11 38.2%,#a31a20 42.6%,#b31d23 48.5%,#aa1c22 54%,#5a0f12 74%,#4f1012)"></i><i style="top:123.10px;height:5.60px;background:linear-gradient(90deg,#a51b21,#a51b21 .1%,#ed2124 1%,#ee2a24 1.5%,#ed2024 1.8%,#9c191e 2.6%,#97171d 2.9%,#ed1e24 3.8%,#ee3824 4.3%,#ed2324 4.9%,#8e151a 5.7%,#8c141a 6%,#ed2524 6.8%,#ef4423 7.4%,#ee2e24 7.9%,#e21d25 8.2%,#871318 8.8%,#740d11 9%,#7f1015 9.3%,#af1c23 9.9%,#a61b21 10.1%,#6a0d11 10.7%,#730d11 11%,#ab1c22 11.5%,#b01c23 11.8%,#891419 12.4%,#8d151a 12.6%,#c21d25 13.2%,#c91e26 13.5%,#8c1419 14.3%,#c71e25 15.1%,#93161c 16%,#c91e26 16.8%,#c41e25 17.1%,#96171c 17.6%,#96171d 17.9%,#c71e26 18.5%,#cc1e26 18.8%,#9a181d 19.6%,#d01e26 20.4%,#a41a20 21.2%,#a81c22 21.5%,#d11e26 22.1%,#d31e26 22.4%,#ad1c22 23.2%,#d51d25 24%,#ba1d24 25.1%,#d81d25 26%,#c71e25 27.1%,#e11d25 28.5%,#b61d23 29.6%,#c01d25 30.7%,#6c0d10 31.8%,#270d0d 33.5%,#481112 34.3%,#340f0f 35.1%,#3b1111 36%,#2c0e0e 36.8%,#6d0c10 37.6%,#9d191e 40.4%,#bf1d25 49.3%,#780e13 70.4%,#5a0f12)"></i><i style="top:128.10px;height:5.60px;background:linear-gradient(90deg,#a51b20,#a51b20 .1%,#e01d25 .7%,#ed2424 1%,#ee2e24 1.2%,#ed2124 1.8%,#9a181d 2.6%,#96171d 2.9%,#ed2024 3.8%,#ee3824 4.3%,#ed2124 4.9%,#8b1419 5.7%,#8b1419 6%,#d61d25 6.5%,#ed2524 6.8%,#ef3f23 7.4%,#ee2724 7.9%,#da1d25 8.2%,#881318 8.8%,#7d1015 9%,#b31d23 9.9%,#710c10 10.7%,#ab1c22 11.5%,#891419 12.4%,#c21d25 13.2%,#c11d25 13.5%,#9d191e 14%,#a01a1f 14.3%,#c91e26 14.9%,#c91e26 15.1%,#9e191f 15.7%,#9a181d 16%,#c41e25 16.5%,#ca1e26 16.8%,#95171c 17.6%,#cc1e26 18.5%,#9b181e 19.3%,#a31a20 19.6%,#d01e26 20.1%,#d01e26 20.4%,#a71b21 21%,#a31a20 21.2%,#d71d25 22.1%,#a91c22 22.9%,#d71d25 23.8%,#b51d23 24.9%,#de1d25 25.7%,#c61e25 26.8%,#e91c24 27.9%,#d31e26 29%,#e91c24 30.1%,#d51d25 30.7%,#99181d 31.5%,#811116 32.4%,#411212 32.9%,#310f0f 33.2%,#551012 34%,#3e1111 34.9%,#461112 36%,#270d0d 36.8%,#340f0f 37.1%,#8a1419 37.6%,#a0191f 38.2%,#cf1e26 49%,#ca1e26 52.9%,#811116 70.7%,#710c10)"></i><i style="top:133.11px;height:5.60px;background:linear-gradient(90deg,#a51b21,#a51b21 .1%,#e31d25 .7%,#ed2724 1%,#ee3024 1.2%,#ed2124 1.8%,#9a181e 2.6%,#97171d 2.9%,#ed2024 3.8%,#ee3624 4.3%,#ed1f24 4.9%,#90161b 5.7%,#93161b 6%,#ed2324 6.8%,#ee3724 7.4%,#ed1e24 7.9%,#8a1419 8.8%,#871318 9%,#af1c23 9.6%,#b01c23 9.9%,#871318 10.4%,#811116 10.7%,#b11c23 11.5%,#92161b 12.4%,#bb1d24 13.2%,#9f191f 14%,#cc1e26 14.9%,#98181d 15.7%,#c91e26 16.5%,#c31e25 16.8%,#99181d 17.4%,#9b181e 17.6%,#c91e26 18.2%,#cb1e26 18.5%,#a11a1f 19%,#9c191e 19.3%,#cb1e26 19.9%,#d31e26 20.1%,#a0191f 21%,#d71d25 21.8%,#d41d25 22.1%,#a91c22 22.6%,#aa1c22 22.9%,#d61d25 23.5%,#dc1d25 23.8%,#b41d23 24.6%,#e31d25 25.4%,#c71e26 26.5%,#ed1d24 27.4%,#dc1d25 28.5%,#ed1c24 29%,#ed2324 30.1%,#c41e25 32.1%,#7f1115 32.9%,#740d11 34%,#421212 34.6%,#391010 34.9%,#4b1112 35.7%,#310f0f 36.5%,#451212 37.1%,#c31e25 37.9%,#c81e26 38.2%,#aa1c22 41.2%,#de1d25 48.8%,#8a1419 71%,#7a0f13)"></i><i style="top:138.11px;height:5.60px;background:linear-gradient(90deg,#a71b21,#a71b21 .1%,#e61c24 .7%,#ee2824 1%,#ee3024 1.2%,#ed2124 1.8%,#9c181e 2.6%,#98181d 2.9%,#ed1d24 3.8%,#ee3124 4.3%,#ed1c24 4.9%,#9a181e 5.7%,#9f191f 6%,#ed2224 6.8%,#ee2d24 7.1%,#ed2524 7.6%,#e21d25 7.9%,#9f191f 8.5%,#8b1419 8.8%,#ad1c22 9.6%,#93161b 10.4%,#b81d24 11.2%,#9c191e 12.1%,#bc1d24 12.9%,#97171d 13.8%,#9c181e 14%,#c21d25 14.6%,#c31d25 14.9%,#98181d 15.4%,#95171c 15.7%,#c01d25 16.2%,#c81e26 16.5%,#99181d 17.4%,#ce1e26 18.2%,#9a181e 19%,#a31a20 19.3%,#d21e26 19.9%,#d01e26 20.1%,#a11a1f 20.7%,#a21a20 21%,#d31e26 21.5%,#d91d25 21.8%,#a61b21 22.6%,#e11d25 23.5%,#b51d23 24.3%,#bc1d24 24.6%,#e71c24 25.1%,#ea1c24 25.4%,#c61e25 26.2%,#ed2224 27.1%,#dc1d25 27.9%,#ee3124 29.3%,#ed2324 30.1%,#ee2d24 31.5%,#ed1e24 32.1%,#99181d 33.8%,#511012 34.6%,#6c0d10 35.4%,#411212 36.2%,#451112 36.5%,#7d1015 37.4%,#c71e26 37.9%,#d11e26 38.2%,#ab1c22 39.3%,#a0191f 40.4%,#da1d25 44.9%,#ec1c24 48.2%,#98181d 69.6%,#821216)"></i><i style="top:143.12px;height:5.60px;background:linear-gradient(90deg,#aa1c22,#aa1c22 .1%,#e71c24 .7%,#ee2824 1%,#ee2f24 1.2%,#ed2024 1.8%,#9e191f 2.6%,#9b181e 2.9%,#e91c24 3.8%,#ee2a24 4.3%,#e61c24 4.9%,#a61b21 5.7%,#ae1c22 6%,#ed2124 6.8%,#ed2724 7.4%,#ed1d24 7.6%,#98181d 8.5%,#8f151a 8.8%,#ab1c22 9.6%,#9e191f 10.4%,#be1d24 11%,#c01d25 11.2%,#96171c 12.1%,#be1d24 12.9%,#8b1419 13.8%,#ba1d24 14.6%,#8f151a 15.4%,#98181d 15.7%,#c61e25 16.2%,#c41e25 16.5%,#9b181e 17.1%,#9d191e 17.4%,#cd1e26 17.9%,#cf1e26 18.2%,#a11a20 18.8%,#9b181e 19%,#cc1e26 19.6%,#d41d25 19.9%,#9e191f 20.7%,#dc1d25 21.5%,#d61d25 21.8%,#a91c22 22.4%,#b11c23 22.6%,#e31d25 23.2%,#e51c24 23.5%,#bc1d24 24%,#b81d24 24.3%,#e61c24 24.9%,#ed1f24 25.1%,#c71e25 26%,#ed2524 26.8%,#d91d25 27.9%,#ee3324 28.7%,#ed2424 29.9%,#ef4423 30.7%,#f04723 31.2%,#e91c24 32.9%,#8e151a 34.3%,#9c181e 35.1%,#811116 36.2%,#8d151a 37.4%,#b91d24 38.2%,#99181d 39%,#93161b 39.9%,#ec1c24 44.9%,#ed2624 47.9%,#ed1c24 52.1%,#a41b20 68.5%,#8a1419)"></i><i style="top:148.12px;height:5.60px;background:linear-gradient(90deg,#b11c23,#b11c23 .1%,#e71c24 .7%,#ed2624 1%,#ee2c24 1.2%,#ed1d24 1.8%,#a41a20 2.6%,#a21a20 2.9%,#e41d25 3.8%,#ed2024 4%,#ed1d24 4.6%,#b71d24 5.4%,#b21c23 5.7%,#e71c24 6.5%,#ed2024 7.4%,#e21d25 7.6%,#94161c 8.5%,#af1c23 9.3%,#95171c 10.1%,#c31e25 11%,#be1d24 11.2%,#90161b 11.8%,#8e151a 12.1%,#b81d24 12.6%,#ba1d24 12.9%,#8a1419 13.5%,#821216 13.8%,#b41d23 14.6%,#8d151a 15.4%,#c91e26 16.2%,#96171c 17.1%,#d11e26 17.9%,#cb1e26 18.2%,#9c191e 18.8%,#a21a20 19%,#d41d25 19.6%,#d31e26 19.9%,#a51b21 20.4%,#a51b21 20.7%,#db1d25 21.2%,#e01d25 21.5%,#b51d23 22.1%,#ad1c22 22.4%,#ec1c24 23.2%,#b71d24 24%,#ed2124 24.9%,#ed1f24 25.1%,#c71e26 25.7%,#c91e26 26%,#ed2524 26.5%,#ed1e24 27.1%,#d21e26 27.6%,#ee3324 28.5%,#ed1d24 29.6%,#f04e23 30.4%,#ef4123 31.5%,#f04623 32.6%,#ed1e24 33.8%,#df1d25 34.9%,#c01d25 35.7%,#c81e26 36.5%,#8b1419 37.6%,#a31a20 38.2%,#a51b21 39.6%,#ed1c24 42.9%,#ee3024 46.8%,#ed1c24 52.9%,#b01c23 67.6%,#94171c)"></i><i style="top:153.12px;height:5.60px;background:linear-gradient(90deg,#b81d24,#ed2324 1%,#e81c24 1.8%,#aa1c22 2.6%,#ab1c22 2.9%,#ed1c24 4%,#e51c24 4.6%,#b91d24 5.4%,#ba1d24 5.7%,#ed1c24 6.5%,#ed1c24 7.4%,#9d191e 8.2%,#91161b 8.5%,#b91d24 9.3%,#891419 10.1%,#be1d24 11%,#b81d24 11.2%,#8f151a 11.8%,#94161c 12.1%,#bf1d25 12.6%,#bc1d24 12.9%,#8b1419 13.5%,#881318 13.8%,#b31d23 14.3%,#b71d24 14.6%,#8f151b 15.1%,#8f151b 15.4%,#c11d25 16%,#c71e26 16.2%,#9b181e 16.8%,#95171c 17.1%,#d11e26 17.9%,#9d191e 18.8%,#da1d25 19.6%,#d11e26 19.9%,#a61b21 20.4%,#e31d25 21.2%,#df1d25 21.5%,#b01c23 22.1%,#b51d23 22.4%,#ea1c24 22.9%,#ec1c24 23.2%,#bd1d24 23.8%,#b81d24 24%,#ec1c24 24.6%,#e81c24 25.1%,#bf1d25 25.7%,#ed1c24 26.2%,#ee2a24 26.5%,#ed2524 26.8%,#cd1e26 27.4%,#d31e26 27.6%,#ed1d24 27.9%,#ee3224 28.5%,#df1d25 29.3%,#ed2124 29.6%,#f04823 30.1%,#ee3824 31.2%,#f36b21 32.1%,#f36e21 32.4%,#f04723 34.3%,#e71c24 35.4%,#dc1d25 35.7%,#e71c24 36.5%,#da1d25 36.8%,#97171d 37.4%,#871318 37.6%,#98181d 37.9%,#c71e26 38.2%,#e31d25 38.5%,#e91c24 38.8%,#ef3c24 43.8%,#ef3c24 46.5%,#ec1c24 53.2%,#ba1d24 66.2%,#9c181e)"></i><i style="top:158.13px;height:5.60px;background:linear-gradient(90deg,#c11d25,#ed1e24 1%,#ed1d24 1.5%,#b21d23 2.6%,#ea1c24 4%,#ba1d24 5.4%,#ed2024 6.5%,#ed2324 7.1%,#e91c24 7.4%,#96171c 8.2%,#8f151a 8.5%,#c11d25 9.3%,#811116 10.1%,#891419 10.4%,#b41d23 11%,#8d151a 11.8%,#c21d25 12.6%,#bd1d24 12.9%,#93161b 13.5%,#98171d 13.8%,#c31e25 14.3%,#c01d25 14.6%,#90161b 15.1%,#92161b 15.4%,#c21d25 16%,#c41e25 16.2%,#96171c 16.8%,#96171c 17.1%,#ca1e26 17.6%,#cf1e26 17.9%,#a41b20 18.5%,#a01a1f 18.8%,#d41d25 19.3%,#dc1d25 19.6%,#a81c21 20.4%,#e61c24 21.2%,#ad1c22 22.1%,#ec1c24 22.9%,#e61c24 23.2%,#b31d23 23.8%,#bb1d24 24%,#ed2024 24.6%,#ed2024 24.9%,#bf1d25 25.4%,#bd1d24 25.7%,#ed2324 26.2%,#ee2924 26.5%,#ec1c24 26.8%,#c61e25 27.4%,#ed2524 27.9%,#ee3124 28.2%,#d41d25 29%,#df1d25 29.3%,#ef3d23 29.9%,#ef3f23 30.1%,#ed2224 30.7%,#ed2524 31%,#f37021 31.8%,#f26821 32.6%,#f47c20 33.5%,#f04f23 34.9%,#ed2424 35.7%,#ea1c24 36.8%,#b71d24 37.4%,#ad1c22 37.6%,#c31d25 37.9%,#ed2724 38.2%,#f15e22 38.5%,#f47821 38.8%,#f26322 40.1%,#f15622 44.3%,#ed1c24 52.6%,#c31e25 64%,#a21a20)"></i><i style="top:163.13px;height:5.60px;background:linear-gradient(90deg,#ca1e26,#ea1c24 1.2%,#ba1d24 2.6%,#ea1c24 4%,#b91d24 5.4%,#e81c24 6.2%,#ed2324 7.1%,#e81c24 7.4%,#94161c 8.2%,#8f151a 8.5%,#bd1d24 9%,#c51e25 9.3%,#7e1015 10.1%,#b11c23 11%,#8a1419 11.8%,#c11d25 12.6%,#97171d 13.5%,#ce1e26 14.3%,#c71e25 14.6%,#92161b 15.1%,#96171c 15.4%,#c41e25 16%,#c31d25 16.2%,#96171c 16.8%,#9a181d 17.1%,#cd1e26 17.6%,#ce1e26 17.9%,#a21a20 18.5%,#a41a20 18.8%,#d91d25 19.3%,#dc1d25 19.6%,#af1c23 20.1%,#a91c22 20.4%,#dd1d25 21%,#e41d25 21.2%,#aa1c22 22.1%,#de1d25 22.6%,#ea1c24 22.9%,#ad1c22 23.8%,#ed2024 24.6%,#ea1c24 24.9%,#b51d23 25.4%,#ed2624 26.2%,#ed2424 26.5%,#c21d25 27.1%,#c51e25 27.4%,#e41d25 27.6%,#ee2c24 27.9%,#ee2f24 28.2%,#ed1e24 28.5%,#d31e26 28.7%,#cd1e26 29%,#e71c24 29.3%,#ef3c23 29.9%,#e91c24 30.4%,#dc1d25 30.7%,#ed2124 31%,#f15f22 31.5%,#f26421 31.8%,#f04a23 32.4%,#f05222 32.6%,#f68b1e 33.2%,#f8941c 33.5%,#f26422 34.3%,#f36c21 35.1%,#ef3b24 36%,#ef3d23 36.5%,#ed2024 37.4%,#ee3424 37.9%,#f36f21 38.2%,#ffdf03 38.5%,#f7ed3b 38.8%,#ffe601 39.6%,#faa519 41.8%,#f15c22 45.7%,#ed1d24 52.1%,#c91e26 61.8%,#a71b21)"></i><i style="top:168.14px;height:5.60px;background:linear-gradient(90deg,#d01e26,#e21d25 1%,#bd1d24 2.4%,#ed1c24 3.8%,#e21d25 4.3%,#b51d23 5.1%,#b51d23 5.4%,#e91c24 6.2%,#ed2024 7.1%,#ce1e26 7.6%,#93161b 8.2%,#90161b 8.5%,#bd1d24 9%,#c21d25 9.3%,#871318 10.1%,#bd1d24 11%,#95171c 11.8%,#c71e26 12.6%,#9b181e 13.5%,#d21e26 14.3%,#c81e26 14.6%,#97171d 15.1%,#9e191f 15.4%,#cb1e26 16%,#c61e25 16.2%,#9a181d 16.8%,#a11a1f 17.1%,#d11e26 17.6%,#cf1e26 17.9%,#a11a1f 18.5%,#a51b21 18.8%,#d91d25 19.3%,#d91d25 19.6%,#a81c22 20.1%,#a71b21 20.4%,#dc1d25 21%,#df1d25 21.2%,#ad1c22 21.8%,#a71b21 22.1%,#df1d25 22.6%,#e61c24 22.9%,#b51d23 23.5%,#aa1c22 23.8%,#e41d25 24.3%,#ed1e24 24.6%,#b01c23 25.4%,#e81c24 26%,#ed2624 26.2%,#ed1e24 26.5%,#b91d24 27.1%,#ca1e26 27.4%,#ed1c24 27.6%,#ee2f24 27.9%,#ee2a24 28.2%,#c51e25 28.7%,#cd1e26 29%,#ed2024 29.3%,#ee3824 29.6%,#ee3824 29.9%,#ed2124 30.1%,#d21e26 30.4%,#d11e26 30.7%,#ed2524 31%,#f04723 31.2%,#f15622 31.5%,#ee2e24 32.1%,#ee2b24 32.4%,#f04923 32.6%,#faa319 33.2%,#f99d1b 33.5%,#f25f22 34%,#f26621 34.3%,#fbad16 34.9%,#fcb014 35.1%,#f37121 35.7%,#f36921 36%,#f78e1e 36.5%,#f68c1e 36.8%,#f26322 37.4%,#f26621 37.6%,#f6871f 37.9%,#ffd207 38.2%,#f9f176 38.5%,#fcf7c1 38.8%,#fcf7bf 39%,#ffe700 42.1%,#f68a1e 44.6%,#f15922 46.5%,#ee3324 49%,#ec1c24 51.8%,#cd1e26 59.3%,#ab1c22)"></i><i style="top:173.14px;height:5.60px;background:linear-gradient(90deg,#d41d25,#dd1d25 1%,#bc1d24 2.4%,#ed1c24 3.5%,#ec1c24 4%,#ad1c22 5.1%,#af1c23 5.4%,#e51c24 6.2%,#ed2024 6.8%,#dc1d25 7.4%,#90161b 8.2%,#8e151a 8.5%,#b71d24 9%,#be1d24 9.3%,#9a181d 9.9%,#97171d 10.1%,#c41e25 10.7%,#cc1e26 11%,#a01a1f 11.8%,#cf1e26 12.6%,#9c181e 13.5%,#cf1e26 14.3%,#9c181e 15.1%,#d21e26 16%,#cc1e26 16.2%,#9f191f 16.8%,#a71b21 17.1%,#d51d25 17.6%,#d11e26 17.9%,#a0191f 18.5%,#a41b20 18.8%,#d61d25 19.3%,#d41d25 19.6%,#a11a20 20.1%,#a31a20 20.4%,#d91d25 21%,#d91d25 21.2%,#a61b21 21.8%,#a51b20 22.1%,#de1d25 22.6%,#e21d25 22.9%,#ae1c22 23.5%,#a91c22 23.8%,#e51c24 24.3%,#ed1c24 24.6%,#b81d24 25.1%,#af1c23 25.4%,#ed1c24 26%,#ed2624 26.2%,#e81c24 26.5%,#b51d23 27.1%,#ed2224 27.6%,#ee3124 27.9%,#ed2524 28.2%,#bd1d24 28.7%,#ee2724 29.3%,#ef3d23 29.6%,#e81c24 30.1%,#c61e25 30.4%,#ee2b24 31%,#f04b23 31.2%,#f04b23 31.5%,#dd1d25 32.1%,#e61c24 32.4%,#ef4223 32.6%,#f57e20 32.9%,#f99c1b 33.2%,#f15522 33.8%,#f04a23 34%,#f36d21 34.3%,#fdb711 34.6%,#fce90e 34.9%,#fee805 35.1%,#f7921d 35.7%,#f9a01a 36%,#ffdf03 36.2%,#f7ee4c 36.5%,#f8ef57 36.8%,#f9eb1b 37.1%,#ffc50b 37.4%,#fdba10 37.6%,#ffe801 37.9%,#fdf9d5 38.5%,#fffef7 38.8%,#fffef8 39%,#fdf9d1 40.1%,#ffe401 43.2%,#f68b1e 45.1%,#f15922 46.8%,#ed1d24 51.2%,#cd1e26 58.2%,#ae1c23)"></i><i style="top:178.15px;height:5.60px;background:linear-gradient(90deg,#d71d25,#d91d25 1%,#b81d24 2.1%,#e61c24 3.2%,#ed1c24 4%,#a81b21 5.1%,#a91c22 5.4%,#e01d25 6.2%,#ec1c24 6.8%,#d31e26 7.4%,#8d151a 8.2%,#8a1419 8.5%,#ba1d24 9.3%,#a11a1f 9.9%,#a31a20 10.1%,#ce1e26 10.7%,#d21e26 11%,#a0191f 11.8%,#d01e26 12.6%,#97171d 13.5%,#ca1e26 14.3%,#9f191f 15.1%,#d81d25 16%,#d01e26 16.2%,#a21a20 16.8%,#d81d25 17.6%,#d21e26 17.9%,#9f191f 18.5%,#a31a20 18.8%,#d41d25 19.3%,#d01e26 19.6%,#9d191e 20.1%,#a01a1f 20.4%,#d61d25 21%,#d61d25 21.2%,#a31a20 21.8%,#a31a20 22.1%,#dd1d25 22.6%,#df1d25 22.9%,#ab1c22 23.5%,#a91c22 23.8%,#e51c24 24.3%,#eb1c24 24.6%,#b41d23 25.1%,#af1c23 25.4%,#ed1e24 26%,#e41d25 26.5%,#c01d25 26.8%,#b31d23 27.1%,#ed2524 27.6%,#ee3124 27.9%,#ed2224 28.2%,#b91d24 28.7%,#ee2b24 29.3%,#ef4023 29.6%,#e21d25 30.1%,#c21d25 30.4%,#d51d25 30.7%,#ee2f24 31%,#f04c23 31.2%,#ef4323 31.5%,#ed1c24 31.8%,#bd1d24 32.1%,#cd1e26 32.4%,#ee3324 32.6%,#f36921 32.9%,#f47721 33.2%,#ee2b24 33.8%,#ee2f24 34%,#f36a21 34.3%,#ffd406 34.6%,#f7ee43 34.9%,#f6ec28 35.1%,#febf0e 35.4%,#f8991b 35.7%,#fec10d 36%,#f8ef5b 36.2%,#fdf8c8 36.5%,#fefada 36.8%,#faf397 37.1%,#f6ed35 37.4%,#fde90b 37.6%,#f8ef51 37.9%,#fcf7bb 38.2%,#fffef6 38.5%,#fffffc 39.6%,#fefadb 40.7%,#fee803 43.5%,#f8951c 45.1%,#f15c22 46.8%,#ee3224 49%,#ec1c24 51.2%,#cd1e26 57.6%,#b01c23)"></i><i style="top:183.15px;height:5.60px;background:linear-gradient(90deg,#d71d25,#d91d25 1%,#b81d24 2.1%,#e61c24 3.2%,#ed1c24 4%,#a81b21 5.1%,#a91c22 5.4%,#e01d25 6.2%,#ec1c24 6.8%,#d31e26 7.4%,#8d151a 8.2%,#8a1419 8.5%,#ba1d24 9.3%,#a11a1f 9.9%,#a31a20 10.1%,#ce1e26 10.7%,#d21e26 11%,#a0191f 11.8%,#d01e26 12.6%,#97171d 13.5%,#ca1e26 14.3%,#9f191f 15.1%,#d81d25 16%,#d01e26 16.2%,#a21a20 16.8%,#d81d25 17.6%,#d21e26 17.9%,#9f191f 18.5%,#a31a20 18.8%,#d41d25 19.3%,#d01e26 19.6%,#9d191e 20.1%,#a01a1f 20.4%,#d61d25 21%,#d61d25 21.2%,#a31a20 21.8%,#a31a20 22.1%,#dd1d25 22.6%,#df1d25 22.9%,#ab1c22 23.5%,#a91c22 23.8%,#e51c24 24.3%,#eb1c24 24.6%,#b41d23 25.1%,#af1c23 25.4%,#ed1e24 26%,#e41d25 26.5%,#c01d25 26.8%,#b31d23 27.1%,#ed2524 27.6%,#ee3124 27.9%,#ed2224 28.2%,#b91d24 28.7%,#ee2b24 29.3%,#ef4023 29.6%,#e21d25 30.1%,#c21d25 30.4%,#d51d25 30.7%,#ee2f24 31%,#f04c23 31.2%,#ef4323 31.5%,#ed1c24 31.8%,#bd1d24 32.1%,#cd1e26 32.4%,#ee3324 32.6%,#f36921 32.9%,#f47721 33.2%,#ee2b24 33.8%,#ee2f24 34%,#f36a21 34.3%,#ffd406 34.6%,#f7ee43 34.9%,#f6ec28 35.1%,#febf0e 35.4%,#f8991b 35.7%,#fec10d 36%,#f8ef5b 36.2%,#fdf8c8 36.5%,#fefada 36.8%,#faf397 37.1%,#f6ed35 37.4%,#fde90b 37.6%,#f8ef51 37.9%,#fcf7bb 38.2%,#fffef6 38.5%,#fffffc 39.6%,#fefadb 40.7%,#fee803 43.5%,#f8951c 45.1%,#f15c22 46.8%,#ee3224 49%,#ec1c24 51.2%,#cd1e26 57.6%,#b01c23)"></i><i style="top:188.15px;height:5.60px;background:linear-gradient(90deg,#d41d25,#dd1d25 1%,#bc1d24 2.4%,#ed1c24 3.5%,#ec1c24 4%,#ad1c22 5.1%,#af1c23 5.4%,#e51c24 6.2%,#ed2024 6.8%,#dc1d25 7.4%,#90161b 8.2%,#8e151a 8.5%,#b71d24 9%,#be1d24 9.3%,#9a181d 9.9%,#97171d 10.1%,#c41e25 10.7%,#cc1e26 11%,#a01a1f 11.8%,#cf1e26 12.6%,#9c181e 13.5%,#cf1e26 14.3%,#9c181e 15.1%,#d21e26 16%,#cc1e26 16.2%,#9f191f 16.8%,#a71b21 17.1%,#d51d25 17.6%,#d11e26 17.9%,#a0191f 18.5%,#a41b20 18.8%,#d61d25 19.3%,#d41d25 19.6%,#a11a20 20.1%,#a31a20 20.4%,#d91d25 21%,#d91d25 21.2%,#a61b21 21.8%,#a51b20 22.1%,#de1d25 22.6%,#e21d25 22.9%,#ae1c22 23.5%,#a91c22 23.8%,#e51c24 24.3%,#ed1c24 24.6%,#b81d24 25.1%,#af1c23 25.4%,#ed1c24 26%,#ed2624 26.2%,#e81c24 26.5%,#b51d23 27.1%,#ed2224 27.6%,#ee3124 27.9%,#ed2524 28.2%,#bd1d24 28.7%,#ee2724 29.3%,#ef3d23 29.6%,#e81c24 30.1%,#c61e25 30.4%,#ee2b24 31%,#f04b23 31.2%,#f04b23 31.5%,#dd1d25 32.1%,#e61c24 32.4%,#ef4223 32.6%,#f57e20 32.9%,#f99c1b 33.2%,#f15522 33.8%,#f04a23 34%,#f36d21 34.3%,#fdb711 34.6%,#fce90e 34.9%,#fee805 35.1%,#f7921d 35.7%,#f9a01a 36%,#ffdf03 36.2%,#f7ee4c 36.5%,#f8ef57 36.8%,#f9eb1b 37.1%,#ffc50b 37.4%,#fdba10 37.6%,#ffe801 37.9%,#fdf9d5 38.5%,#fffef7 38.8%,#fffef8 39%,#fdf9d1 40.1%,#ffe401 43.2%,#f68b1e 45.1%,#f15922 46.8%,#ed1d24 51.2%,#cd1e26 58.2%,#ae1c23)"></i><i style="top:193.16px;height:5.60px;background:linear-gradient(90deg,#d01e26,#e21d25 1%,#bd1d24 2.4%,#ed1c24 3.8%,#e21d25 4.3%,#b51d23 5.1%,#b51d23 5.4%,#e91c24 6.2%,#ed2024 7.1%,#ce1e26 7.6%,#93161b 8.2%,#90161b 8.5%,#bd1d24 9%,#c21d25 9.3%,#871318 10.1%,#bd1d24 11%,#95171c 11.8%,#c71e26 12.6%,#9b181e 13.5%,#d21e26 14.3%,#c81e26 14.6%,#97171d 15.1%,#9e191f 15.4%,#cb1e26 16%,#c61e25 16.2%,#9a181d 16.8%,#a11a1f 17.1%,#d11e26 17.6%,#cf1e26 17.9%,#a11a1f 18.5%,#a51b21 18.8%,#d91d25 19.3%,#d91d25 19.6%,#a81c22 20.1%,#a71b21 20.4%,#dc1d25 21%,#df1d25 21.2%,#ad1c22 21.8%,#a71b21 22.1%,#df1d25 22.6%,#e61c24 22.9%,#b51d23 23.5%,#aa1c22 23.8%,#e41d25 24.3%,#ed1e24 24.6%,#b01c23 25.4%,#e81c24 26%,#ed2624 26.2%,#ed1e24 26.5%,#b91d24 27.1%,#ca1e26 27.4%,#ed1c24 27.6%,#ee2f24 27.9%,#ee2a24 28.2%,#c51e25 28.7%,#cd1e26 29%,#ed2024 29.3%,#ee3824 29.6%,#ee3824 29.9%,#ed2124 30.1%,#d21e26 30.4%,#d11e26 30.7%,#ed2524 31%,#f04723 31.2%,#f15622 31.5%,#ee2e24 32.1%,#ee2b24 32.4%,#f04923 32.6%,#faa319 33.2%,#f99d1b 33.5%,#f25f22 34%,#f26621 34.3%,#fbad16 34.9%,#fcb014 35.1%,#f37121 35.7%,#f36921 36%,#f78e1e 36.5%,#f68c1e 36.8%,#f26322 37.4%,#f26621 37.6%,#f6871f 37.9%,#ffd207 38.2%,#f9f176 38.5%,#fcf7c1 38.8%,#fcf7bf 39%,#ffe700 42.1%,#f68a1e 44.6%,#f15922 46.5%,#ee3324 49%,#ec1c24 51.8%,#cd1e26 59.3%,#ab1c22)"></i><i style="top:198.16px;height:5.60px;background:linear-gradient(90deg,#ca1e26,#ea1c24 1.2%,#ba1d24 2.6%,#ea1c24 4%,#b91d24 5.4%,#e81c24 6.2%,#ed2324 7.1%,#e81c24 7.4%,#94161c 8.2%,#8f151a 8.5%,#bd1d24 9%,#c51e25 9.3%,#7e1015 10.1%,#b11c23 11%,#8a1419 11.8%,#c11d25 12.6%,#97171d 13.5%,#ce1e26 14.3%,#c71e25 14.6%,#92161b 15.1%,#96171c 15.4%,#c41e25 16%,#c31d25 16.2%,#96171c 16.8%,#9a181d 17.1%,#cd1e26 17.6%,#ce1e26 17.9%,#a21a20 18.5%,#a41a20 18.8%,#d91d25 19.3%,#dc1d25 19.6%,#af1c23 20.1%,#a91c22 20.4%,#dd1d25 21%,#e41d25 21.2%,#aa1c22 22.1%,#de1d25 22.6%,#ea1c24 22.9%,#ad1c22 23.8%,#ed2024 24.6%,#ea1c24 24.9%,#b51d23 25.4%,#ed2624 26.2%,#ed2424 26.5%,#c21d25 27.1%,#c51e25 27.4%,#e41d25 27.6%,#ee2c24 27.9%,#ee2f24 28.2%,#ed1e24 28.5%,#d31e26 28.7%,#cd1e26 29%,#e71c24 29.3%,#ef3c23 29.9%,#e91c24 30.4%,#dc1d25 30.7%,#ed2124 31%,#f15f22 31.5%,#f26421 31.8%,#f04a23 32.4%,#f05222 32.6%,#f68b1e 33.2%,#f8941c 33.5%,#f26422 34.3%,#f36c21 35.1%,#ef3b24 36%,#ef3d23 36.5%,#ed2024 37.4%,#ee3424 37.9%,#f36f21 38.2%,#ffdf03 38.5%,#f7ed3b 38.8%,#ffe601 39.6%,#faa519 41.8%,#f15c22 45.7%,#ed1d24 52.1%,#c91e26 61.8%,#a71b21)"></i><i style="top:203.17px;height:5.60px;background:linear-gradient(90deg,#c11d25,#ed1e24 1%,#ed1d24 1.5%,#b21d23 2.6%,#ea1c24 4%,#ba1d24 5.4%,#ed2024 6.5%,#ed2324 7.1%,#e91c24 7.4%,#96171c 8.2%,#8f151a 8.5%,#c11d25 9.3%,#811116 10.1%,#891419 10.4%,#b41d23 11%,#8d151a 11.8%,#c21d25 12.6%,#bd1d24 12.9%,#93161b 13.5%,#98171d 13.8%,#c31e25 14.3%,#c01d25 14.6%,#90161b 15.1%,#92161b 15.4%,#c21d25 16%,#c41e25 16.2%,#96171c 16.8%,#96171c 17.1%,#ca1e26 17.6%,#cf1e26 17.9%,#a41b20 18.5%,#a01a1f 18.8%,#d41d25 19.3%,#dc1d25 19.6%,#a81c21 20.4%,#e61c24 21.2%,#ad1c22 22.1%,#ec1c24 22.9%,#e61c24 23.2%,#b31d23 23.8%,#bb1d24 24%,#ed2024 24.6%,#ed2024 24.9%,#bf1d25 25.4%,#bd1d24 25.7%,#ed2324 26.2%,#ee2924 26.5%,#ec1c24 26.8%,#c61e25 27.4%,#ed2524 27.9%,#ee3124 28.2%,#d41d25 29%,#df1d25 29.3%,#ef3d23 29.9%,#ef3f23 30.1%,#ed2224 30.7%,#ed2524 31%,#f37021 31.8%,#f26821 32.6%,#f47c20 33.5%,#f04f23 34.9%,#ed2424 35.7%,#ea1c24 36.8%,#b71d24 37.4%,#ad1c22 37.6%,#c31d25 37.9%,#ed2724 38.2%,#f15e22 38.5%,#f47821 38.8%,#f26322 40.1%,#f15622 44.3%,#ed1c24 52.6%,#c31e25 64%,#a21a20)"></i><i style="top:208.17px;height:5.60px;background:linear-gradient(90deg,#b81d24,#ed2324 1%,#e81c24 1.8%,#aa1c22 2.6%,#ab1c22 2.9%,#ed1c24 4%,#e51c24 4.6%,#b91d24 5.4%,#ba1d24 5.7%,#ed1c24 6.5%,#ed1c24 7.4%,#9d191e 8.2%,#91161b 8.5%,#b91d24 9.3%,#891419 10.1%,#be1d24 11%,#b81d24 11.2%,#8f151a 11.8%,#94161c 12.1%,#bf1d25 12.6%,#bc1d24 12.9%,#8b1419 13.5%,#881318 13.8%,#b31d23 14.3%,#b71d24 14.6%,#8f151b 15.1%,#8f151b 15.4%,#c11d25 16%,#c71e26 16.2%,#9b181e 16.8%,#95171c 17.1%,#d11e26 17.9%,#9d191e 18.8%,#da1d25 19.6%,#d11e26 19.9%,#a61b21 20.4%,#e31d25 21.2%,#df1d25 21.5%,#b01c23 22.1%,#b51d23 22.4%,#ea1c24 22.9%,#ec1c24 23.2%,#bd1d24 23.8%,#b81d24 24%,#ec1c24 24.6%,#e81c24 25.1%,#bf1d25 25.7%,#ed1c24 26.2%,#ee2a24 26.5%,#ed2524 26.8%,#cd1e26 27.4%,#d31e26 27.6%,#ed1d24 27.9%,#ee3224 28.5%,#df1d25 29.3%,#ed2124 29.6%,#f04823 30.1%,#ee3824 31.2%,#f36b21 32.1%,#f36e21 32.4%,#f04723 34.3%,#e71c24 35.4%,#dc1d25 35.7%,#e71c24 36.5%,#da1d25 36.8%,#97171d 37.4%,#871318 37.6%,#98181d 37.9%,#c71e26 38.2%,#e31d25 38.5%,#e91c24 38.8%,#ef3c24 43.8%,#ef3c24 46.5%,#ec1c24 53.2%,#ba1d24 66.2%,#9c181e)"></i><i style="top:213.18px;height:5.60px;background:linear-gradient(90deg,#b11c23,#b11c23 .1%,#e71c24 .7%,#ed2624 1%,#ee2c24 1.2%,#ed1d24 1.8%,#a41a20 2.6%,#a21a20 2.9%,#e41d25 3.8%,#ed2024 4%,#ed1d24 4.6%,#b71d24 5.4%,#b21c23 5.7%,#e71c24 6.5%,#ed2024 7.4%,#e21d25 7.6%,#94161c 8.5%,#af1c23 9.3%,#95171c 10.1%,#c31e25 11%,#be1d24 11.2%,#90161b 11.8%,#8e151a 12.1%,#b81d24 12.6%,#ba1d24 12.9%,#8a1419 13.5%,#821216 13.8%,#b41d23 14.6%,#8d151a 15.4%,#c91e26 16.2%,#96171c 17.1%,#d11e26 17.9%,#cb1e26 18.2%,#9c191e 18.8%,#a21a20 19%,#d41d25 19.6%,#d31e26 19.9%,#a51b21 20.4%,#a51b21 20.7%,#db1d25 21.2%,#e01d25 21.5%,#b51d23 22.1%,#ad1c22 22.4%,#ec1c24 23.2%,#b71d24 24%,#ed2124 24.9%,#ed1f24 25.1%,#c71e26 25.7%,#c91e26 26%,#ed2524 26.5%,#ed1e24 27.1%,#d21e26 27.6%,#ee3324 28.5%,#ed1d24 29.6%,#f04e23 30.4%,#ef4123 31.5%,#f04623 32.6%,#ed1e24 33.8%,#df1d25 34.9%,#c01d25 35.7%,#c81e26 36.5%,#8b1419 37.6%,#a31a20 38.2%,#a51b21 39.6%,#ed1c24 42.9%,#ee3024 46.8%,#ed1c24 52.9%,#b01c23 67.6%,#94171c)"></i><i style="top:218.18px;height:5.60px;background:linear-gradient(90deg,#aa1c22,#aa1c22 .1%,#e71c24 .7%,#ee2824 1%,#ee2f24 1.2%,#ed2024 1.8%,#9e191f 2.6%,#9b181e 2.9%,#e91c24 3.8%,#ee2a24 4.3%,#e61c24 4.9%,#a61b21 5.7%,#ae1c22 6%,#ed2124 6.8%,#ed2724 7.4%,#ed1d24 7.6%,#98181d 8.5%,#8f151a 8.8%,#ab1c22 9.6%,#9e191f 10.4%,#be1d24 11%,#c01d25 11.2%,#96171c 12.1%,#be1d24 12.9%,#8b1419 13.8%,#ba1d24 14.6%,#8f151a 15.4%,#98181d 15.7%,#c61e25 16.2%,#c41e25 16.5%,#9b181e 17.1%,#9d191e 17.4%,#cd1e26 17.9%,#cf1e26 18.2%,#a11a20 18.8%,#9b181e 19%,#cc1e26 19.6%,#d41d25 19.9%,#9e191f 20.7%,#dc1d25 21.5%,#d61d25 21.8%,#a91c22 22.4%,#b11c23 22.6%,#e31d25 23.2%,#e51c24 23.5%,#bc1d24 24%,#b81d24 24.3%,#e61c24 24.9%,#ed1f24 25.1%,#c71e25 26%,#ed2524 26.8%,#d91d25 27.9%,#ee3324 28.7%,#ed2424 29.9%,#ef4423 30.7%,#f04723 31.2%,#e91c24 32.9%,#8e151a 34.3%,#9c181e 35.1%,#811116 36.2%,#8d151a 37.4%,#b91d24 38.2%,#99181d 39%,#93161b 39.9%,#ec1c24 44.9%,#ed2624 47.9%,#ed1c24 52.1%,#a41b20 68.5%,#8a1419)"></i><i style="top:223.18px;height:5.60px;background:linear-gradient(90deg,#a71b21,#a71b21 .1%,#e61c24 .7%,#ee2824 1%,#ee3024 1.2%,#ed2124 1.8%,#9c181e 2.6%,#98181d 2.9%,#ed1d24 3.8%,#ee3124 4.3%,#ed1c24 4.9%,#9a181e 5.7%,#9f191f 6%,#ed2224 6.8%,#ee2d24 7.1%,#ed2524 7.6%,#e21d25 7.9%,#9f191f 8.5%,#8b1419 8.8%,#ad1c22 9.6%,#93161b 10.4%,#b81d24 11.2%,#9c191e 12.1%,#bc1d24 12.9%,#97171d 13.8%,#9c181e 14%,#c21d25 14.6%,#c31d25 14.9%,#98181d 15.4%,#95171c 15.7%,#c01d25 16.2%,#c81e26 16.5%,#99181d 17.4%,#ce1e26 18.2%,#9a181e 19%,#a31a20 19.3%,#d21e26 19.9%,#d01e26 20.1%,#a11a1f 20.7%,#a21a20 21%,#d31e26 21.5%,#d91d25 21.8%,#a61b21 22.6%,#e11d25 23.5%,#b51d23 24.3%,#bc1d24 24.6%,#e71c24 25.1%,#ea1c24 25.4%,#c61e25 26.2%,#ed2224 27.1%,#dc1d25 27.9%,#ee3124 29.3%,#ed2324 30.1%,#ee2d24 31.5%,#ed1e24 32.1%,#99181d 33.8%,#511012 34.6%,#6c0d10 35.4%,#411212 36.2%,#451112 36.5%,#7d1015 37.4%,#c71e26 37.9%,#d11e26 38.2%,#ab1c22 39.3%,#a0191f 40.4%,#da1d25 44.9%,#ec1c24 48.2%,#98181d 69.6%,#821216)"></i><i style="top:228.19px;height:5.60px;background:linear-gradient(90deg,#a51b21,#a51b21 .1%,#e31d25 .7%,#ed2724 1%,#ee3024 1.2%,#ed2124 1.8%,#9a181e 2.6%,#97171d 2.9%,#ed2024 3.8%,#ee3624 4.3%,#ed1f24 4.9%,#90161b 5.7%,#93161b 6%,#ed2324 6.8%,#ee3724 7.4%,#ed1e24 7.9%,#8a1419 8.8%,#871318 9%,#af1c23 9.6%,#b01c23 9.9%,#871318 10.4%,#811116 10.7%,#b11c23 11.5%,#92161b 12.4%,#bb1d24 13.2%,#9f191f 14%,#cc1e26 14.9%,#98181d 15.7%,#c91e26 16.5%,#c31e25 16.8%,#99181d 17.4%,#9b181e 17.6%,#c91e26 18.2%,#cb1e26 18.5%,#a11a1f 19%,#9c191e 19.3%,#cb1e26 19.9%,#d31e26 20.1%,#a0191f 21%,#d71d25 21.8%,#d41d25 22.1%,#a91c22 22.6%,#aa1c22 22.9%,#d61d25 23.5%,#dc1d25 23.8%,#b41d23 24.6%,#e31d25 25.4%,#c71e26 26.5%,#ed1d24 27.4%,#dc1d25 28.5%,#ed1c24 29%,#ed2324 30.1%,#c41e25 32.1%,#7f1115 32.9%,#740d11 34%,#421212 34.6%,#391010 34.9%,#4b1112 35.7%,#310f0f 36.5%,#451212 37.1%,#c31e25 37.9%,#c81e26 38.2%,#aa1c22 41.2%,#de1d25 48.8%,#8a1419 71%,#7a0f13)"></i><i style="top:233.19px;height:5.60px;background:linear-gradient(90deg,#a51b20,#a51b20 .1%,#e01d25 .7%,#ed2424 1%,#ee2e24 1.2%,#ed2124 1.8%,#9a181d 2.6%,#96171d 2.9%,#ed2024 3.8%,#ee3824 4.3%,#ed2124 4.9%,#8b1419 5.7%,#8b1419 6%,#d61d25 6.5%,#ed2524 6.8%,#ef3f23 7.4%,#ee2724 7.9%,#da1d25 8.2%,#881318 8.8%,#7d1015 9%,#b31d23 9.9%,#710c10 10.7%,#ab1c22 11.5%,#891419 12.4%,#c21d25 13.2%,#c11d25 13.5%,#9d191e 14%,#a01a1f 14.3%,#c91e26 14.9%,#c91e26 15.1%,#9e191f 15.7%,#9a181d 16%,#c41e25 16.5%,#ca1e26 16.8%,#95171c 17.6%,#cc1e26 18.5%,#9b181e 19.3%,#a31a20 19.6%,#d01e26 20.1%,#d01e26 20.4%,#a71b21 21%,#a31a20 21.2%,#d71d25 22.1%,#a91c22 22.9%,#d71d25 23.8%,#b51d23 24.9%,#de1d25 25.7%,#c61e25 26.8%,#e91c24 27.9%,#d31e26 29%,#e91c24 30.1%,#d51d25 30.7%,#99181d 31.5%,#811116 32.4%,#411212 32.9%,#310f0f 33.2%,#551012 34%,#3e1111 34.9%,#461112 36%,#270d0d 36.8%,#340f0f 37.1%,#8a1419 37.6%,#a0191f 38.2%,#cf1e26 49%,#ca1e26 52.9%,#811116 70.7%,#710c10)"></i><i style="top:238.20px;height:5.60px;background:linear-gradient(90deg,#a51b21,#a51b21 .1%,#ed2124 1%,#ee2a24 1.5%,#ed2024 1.8%,#9c191e 2.6%,#97171d 2.9%,#ed1e24 3.8%,#ee3824 4.3%,#ed2324 4.9%,#8e151a 5.7%,#8c141a 6%,#ed2524 6.8%,#ef4423 7.4%,#ee2e24 7.9%,#e21d25 8.2%,#871318 8.8%,#740d11 9%,#7f1015 9.3%,#af1c23 9.9%,#a61b21 10.1%,#6a0d11 10.7%,#730d11 11%,#ab1c22 11.5%,#b01c23 11.8%,#891419 12.4%,#8d151a 12.6%,#c21d25 13.2%,#c91e26 13.5%,#8c1419 14.3%,#c71e25 15.1%,#93161c 16%,#c91e26 16.8%,#c41e25 17.1%,#96171c 17.6%,#96171d 17.9%,#c71e26 18.5%,#cc1e26 18.8%,#9a181d 19.6%,#d01e26 20.4%,#a41a20 21.2%,#a81c22 21.5%,#d11e26 22.1%,#d31e26 22.4%,#ad1c22 23.2%,#d51d25 24%,#ba1d24 25.1%,#d81d25 26%,#c71e25 27.1%,#e11d25 28.5%,#b61d23 29.6%,#c01d25 30.7%,#6c0d10 31.8%,#270d0d 33.5%,#481112 34.3%,#340f0f 35.1%,#3b1111 36%,#2c0e0e 36.8%,#6d0c10 37.6%,#9d191e 40.4%,#bf1d25 49.3%,#780e13 70.4%,#5a0f12)"></i><i style="top:243.20px;height:5.60px;background:linear-gradient(90deg,#a51b21,#a51b21 .1%,#ed1d24 1%,#ee2824 1.5%,#ed2024 1.8%,#a21a20 2.6%,#99181d 2.9%,#a91c22 3.2%,#ea1c24 3.8%,#ee3524 4.3%,#ed2524 4.9%,#dc1d25 5.1%,#98181d 5.7%,#92161b 6%,#ed2224 6.8%,#ef4123 7.4%,#ee2f24 7.9%,#e71c24 8.2%,#92161b 8.8%,#7c1014 9%,#7e1015 9.3%,#aa1c22 9.9%,#aa1c22 10.1%,#750e12 10.7%,#740d11 11%,#af1c23 11.5%,#ba1d24 11.8%,#8a1419 12.4%,#811116 12.6%,#c51e25 13.5%,#b81d24 13.8%,#801116 14.3%,#861318 14.6%,#bf1d25 15.1%,#bf1d25 15.4%,#8e151a 16%,#8a1419 16.2%,#be1d24 16.8%,#c61e25 17.1%,#8f151a 17.9%,#cb1e26 18.8%,#c51e25 19%,#99181d 19.6%,#9b181e 19.9%,#c71e26 20.4%,#cd1e26 20.7%,#a21a20 21.5%,#ce1e26 22.4%,#b11c23 23.5%,#d01e26 24.3%,#bd1d24 25.4%,#d41d25 26.8%,#ba1d24 27.9%,#d61d25 28.7%,#d31e26 29%,#91161b 29.9%,#871318 30.1%,#8b1419 31%,#7d1014 31.2%,#3f1212 31.8%,#361010 32.9%,#1f0b0b 33.5%,#310f0f 34.3%,#230c0c 35.4%,#381010 36.5%,#700c10 37.1%,#740d11 37.4%,#690d11 38.2%,#a31a20 42.6%,#b31d23 48.5%,#aa1c22 54%,#5a0f12 74%,#4f1012)"></i><i style="top:248.21px;height:5.60px;background:linear-gradient(90deg,#a61b21,#b71d24 .4%,#e71c24 1%,#ed2324 1.2%,#e11d25 2.1%,#ab1c22 2.6%,#9e191f 2.9%,#a71b21 3.2%,#e11d25 3.8%,#ed2524 4%,#ee3024 4.6%,#ed2624 4.9%,#e31d25 5.1%,#a71b21 5.7%,#9d191e 6%,#ab1c22 6.2%,#eb1c24 6.8%,#ee3724 7.4%,#ee2b24 7.9%,#e81c24 8.2%,#a81b21 8.8%,#9a181d 9%,#b31d23 10.1%,#841217 10.7%,#7d1014 11%,#c51e25 11.8%,#b71d24 12.1%,#7c1014 12.6%,#821216 12.9%,#be1d24 13.5%,#be1d24 13.8%,#861318 14.3%,#801116 14.6%,#b31d23 15.1%,#bd1d24 15.4%,#7f1115 16.2%,#bf1d25 17.1%,#bb1d24 17.4%,#8e151a 17.9%,#90151b 18.2%,#bf1d25 18.8%,#c51e25 19%,#96171c 19.9%,#c51e25 20.7%,#a41b20 21.8%,#c51e25 22.6%,#b31d23 23.5%,#c81e26 24.9%,#b71d24 26.2%,#d21e26 27.1%,#ce1e26 27.4%,#9f191f 28.2%,#bc1d24 29.3%,#5b0f12 30.4%,#560f12 31.2%,#240c0c 32.1%,#340f0f 32.9%,#1b0909 33.8%,#2f0e0e 34.6%,#300f0f 36%,#3e1111 36.2%,#851217 36.8%,#8d151a 37.1%,#770e13 39%,#a21a20 43.5%,#af1c23 47.6%,#a41a20 53.8%,#511012 73.2%,#451212)"></i><i style="top:253.21px;height:5.60px;background:linear-gradient(90deg,#a71b21,#b31d23 .4%,#ed1e24 1.2%,#e81c24 2.1%,#a71b21 2.9%,#a71b21 3.2%,#eb1c24 4%,#ee2b24 4.6%,#eb1c24 5.1%,#ac1c22 6%,#af1c23 6.2%,#ed1e24 7.1%,#ed2324 7.9%,#bd1d24 9%,#dd1d25 9.9%,#861318 11%,#91161b 11.2%,#c71e25 11.8%,#c51e25 12.1%,#881318 12.6%,#821116 12.9%,#b61d24 13.5%,#c21d25 13.8%,#821116 14.6%,#8a1419 14.9%,#bb1d24 15.4%,#b61d23 15.7%,#851217 16.2%,#831217 16.5%,#b11c23 17.1%,#ba1d24 17.4%,#8c141a 18.2%,#b91d24 19%,#9a181d 20.1%,#ba1d24 21%,#a71b21 21.8%,#b81d24 23.2%,#ad1c22 24.6%,#c61e25 25.4%,#c41e25 25.7%,#9b181e 26.5%,#c61e25 27.6%,#821116 28.5%,#7b0f14 28.7%,#8f151a 29.6%,#841217 29.9%,#4c1112 30.4%,#3f1212 30.7%,#2b0e0e 32.1%,#3a1111 32.9%,#290d0d 33.8%,#340f0f 34.9%,#260d0d 35.7%,#320f0f 36%,#7b1014 36.5%,#871318 36.8%,#811116 40.1%,#a61b21 44.9%,#b11c23 48.2%,#a51b20 53.5%,#700c10 65.1%,#5a0f12 67.4%,#481112 73.2%,#3b1111)"></i><i style="top:258.21px;height:5.60px;background:linear-gradient(90deg,#a81b21,#ae1c23 .4%,#e91c24 1.2%,#ed2224 1.5%,#ed1e24 2.1%,#aa1c22 3.2%,#ed1e24 4.3%,#ed1e24 5.1%,#b41d23 6.2%,#ed1c24 7.6%,#d01e26 8.8%,#eb1c24 10.1%,#8e151a 11%,#8b1419 11.2%,#b91d24 11.8%,#c11d25 12.1%,#881318 12.9%,#bc1d24 13.8%,#b51d23 14%,#891419 14.6%,#8c1419 14.9%,#bb1d24 15.4%,#bf1d25 15.7%,#8b1419 16.5%,#b61d23 17.4%,#95171c 18.5%,#b01c23 19.3%,#9f191f 20.1%,#ad1c22 21%,#a61b21 22.9%,#ba1d24 24%,#98171d 24.9%,#c21d25 25.7%,#c21d25 26%,#831216 26.8%,#b01c23 27.9%,#531012 29%,#5a0f12 29.9%,#351010 30.7%,#1e0a0a 32.1%,#2e0e0e 33.2%,#1a0909 34%,#270d0d 34.6%,#240c0c 35.7%,#720d11 37.1%,#7f1115 37.9%,#b41d23 49%,#a81b21 54%,#700c10 65.1%,#590f12 67.4%,#441212 73.5%,#351010)"></i><i style="top:263.22px;height:5.60px;background:linear-gradient(90deg,#aa1c22,#ab1c22 .4%,#e21d25 1.2%,#ed2524 1.8%,#e91c24 2.4%,#af1c23 3.2%,#ad1c22 3.5%,#ed1f24 4.6%,#e81c24 5.4%,#bb1d24 6.2%,#b91d24 6.5%,#de1d25 7.6%,#d81d25 9%,#ed1d24 10.1%,#e21d25 10.4%,#8d151a 11.2%,#b11c23 12.1%,#8f151a 12.9%,#b21c23 13.8%,#99181d 14.9%,#be1d24 15.7%,#9b181e 16.5%,#b51d23 17.4%,#a11a1f 18.2%,#ae1c23 20.7%,#a0191f 21.5%,#b81d24 22.4%,#96171c 23.2%,#bc1d24 24%,#bd1d24 24.3%,#841217 25.1%,#8b1419 25.4%,#b71d24 26%,#b91d24 26.2%,#710c11 27.1%,#6a0d11 27.4%,#8d151a 28.2%,#720c11 28.7%,#4f1012 29%,#411212 29.3%,#310f0f 31.2%,#1a0909 32.1%,#270d0d 33.2%,#130707 34%,#441212 35.7%,#441212 36.8%,#700c10 38.2%,#7c1014 39%,#b91d24 50.4%,#ae1c22 54.9%,#700c10 66.2%,#5a0f12 68.2%,#431212 74.3%,#320f0f)"></i><i style="top:268.22px;height:5.60px;background:linear-gradient(90deg,#af1c23,#ae1c22 .7%,#ec1c24 1.5%,#ed2424 1.8%,#ed2024 2.4%,#ac1c22 3.5%,#af1c23 3.8%,#ed1f24 4.9%,#ed1d24 5.4%,#c41e25 6.2%,#b91d24 6.8%,#d71d25 7.9%,#e51c24 10.1%,#d61d25 10.7%,#94161c 11.5%,#a31a20 12.4%,#96171c 13.2%,#ab1c22 14%,#a61b21 16.5%,#b71d24 17.4%,#a41a20 18.2%,#b51d23 19%,#9d191e 19.9%,#bc1d24 20.7%,#92161b 21.5%,#97171d 21.8%,#be1d24 22.4%,#bf1d25 22.6%,#831217 23.5%,#bd1d24 24.3%,#bc1d24 24.6%,#710c10 25.4%,#770e12 25.7%,#a31a20 26.2%,#a71b21 26.5%,#7a0f13 27.1%,#541012 27.4%,#491112 27.6%,#650e11 28.5%,#2e0e0e 29.9%,#351010 31.2%,#200b0b 34%,#2b0e0e 34.6%,#750e12 35.4%,#6c0c10 36%,#4f1012 36.5%,#431212 37.4%,#801115 40.4%,#be1d24 52.1%,#b11c23 56.5%,#700c10 68.2%,#5a0f12 70.1%,#471112 75.1%,#320f0f)"></i><i style="top:273.23px;height:5.60px;background:linear-gradient(90deg,#b51d23,#a71b21 .7%,#e51c24 1.5%,#ed2524 2.4%,#ec1c24 2.6%,#af1c23 3.5%,#aa1c22 3.8%,#eb1c24 4.9%,#ed1f24 5.4%,#b81d24 6.8%,#d71d25 8.2%,#d91d25 11%,#a21a20 11.8%,#97171d 12.9%,#a91c22 15.4%,#9b181e 16.2%,#bd1d24 17.1%,#96171c 17.9%,#96171c 18.2%,#c01d25 19%,#8e151a 19.9%,#95171c 20.1%,#c11d25 20.7%,#c01d25 21%,#8e151a 21.5%,#831216 21.8%,#c01d25 22.6%,#ba1d24 22.9%,#7f1115 23.5%,#740d11 23.8%,#b21c23 24.6%,#ae1c22 24.9%,#551012 25.7%,#590f12 26%,#861318 26.5%,#881318 26.8%,#421212 27.9%,#3f1212 29%,#220c0c 30.4%,#260d0d 32.9%,#180808 34%,#351010 34.6%,#750e12 35.1%,#7b1014 35.4%,#710c10 36.5%,#570f12 37.1%,#481112 38.2%,#7f1115 41.2%,#c21d25 53.5%,#b51d23 58.2%,#4e1012 76.5%,#361010)"></i><i style="top:278.23px;height:5.60px;background:linear-gradient(90deg,#be1d24,#a31a20 .7%,#ad1c22 1%,#ed1f24 1.8%,#ed2124 2.6%,#aa1c22 3.8%,#ae1c22 4%,#ed1d24 5.1%,#eb1c24 5.7%,#bb1d24 6.8%,#d71d25 8.2%,#cf1e26 9.6%,#e41d25 11.2%,#d11e26 11.8%,#9e191f 12.4%,#95171c 12.6%,#90151b 14.6%,#a81c21 15.4%,#8d151a 16.2%,#b51d23 17.1%,#b31d23 17.4%,#891419 17.9%,#841217 18.2%,#c01d25 19%,#ba1d24 19.3%,#831217 19.9%,#7e1015 20.1%,#be1d24 21%,#b31d23 21.2%,#790f13 21.8%,#740d11 22.1%,#b51d23 22.9%,#aa1c22 23.2%,#590f12 24%,#99181d 24.9%,#96171c 25.1%,#511012 26%,#610e11 27.1%,#3b1111 28.5%,#110606 32.1%,#180808 34%,#6c0d10 35.7%,#770e12 36.2%,#700c10 37.4%,#590f12 37.9%,#4e1012 39%,#801116 42.1%,#8d151a 46.5%,#b91d24 51.8%,#c51e25 55.1%,#b91d24 59.9%,#570f12 77.6%,#3d1111)"></i><i style="top:283.24px;height:5.60px;background:linear-gradient(90deg,#c91e26,#a41a20 .7%,#a61b21 1%,#e91c24 1.8%,#ed2424 2.6%,#e91c24 2.9%,#ae1c22 3.8%,#ad1c22 4%,#de1d25 4.9%,#ed1c24 5.4%,#c01d25 6.8%,#da1d25 8.2%,#c41e25 9.6%,#e81c24 11.2%,#de1d25 11.8%,#96171c 12.9%,#9d191e 13.8%,#841217 14.6%,#a41b20 15.4%,#801115 16.5%,#a91c22 17.4%,#7d1014 18.2%,#7e1015 18.5%,#b11c23 19.3%,#740d11 20.1%,#750e12 20.4%,#a31a20 21%,#ab1c22 21.2%,#9c181e 21.5%,#610e11 22.1%,#5e0f12 22.4%,#8f151a 22.9%,#9a181d 23.2%,#92161b 23.5%,#501012 24.3%,#7a0f13 25.4%,#431212 26.8%,#1d0a0a 32.4%,#3e1111 33.8%,#260d0d 34.9%,#6f0c10 36.5%,#770e12 37.1%,#551012 39.9%,#831216 42.9%,#8a1419 47.9%,#ba1d24 53.5%,#c71e26 57.1%,#bd1d24 61.5%,#5a0f12 82.1%,#451112)"></i><i style="top:288.24px;height:5.60px;background:linear-gradient(90deg,#d31e26,#a41a20 1%,#ed1f24 2.1%,#ec1c24 2.9%,#b61d23 3.8%,#b11c23 4%,#e81c24 5.4%,#c31e25 6.8%,#e11d25 8.2%,#b71d24 9.6%,#e31d25 10.7%,#ec1c24 11.2%,#a61b21 12.6%,#a71b21 13.8%,#7b0f14 14.9%,#9e191f 15.7%,#740d11 16.8%,#a0191f 17.6%,#720d11 18.8%,#9c191e 19.6%,#600e11 20.7%,#91161b 21.5%,#7a0f14 22.1%,#5a0f12 22.4%,#4f1012 22.6%,#551012 22.9%,#700c10 23.2%,#7d1015 23.8%,#431212 24.9%,#531012 26%,#160707 30.7%,#1e0a0a 32.4%,#720d11 33.5%,#730d11 33.8%,#351010 34.9%,#290d0d 35.4%,#340f0f 36%,#720d11 37.4%,#780e13 37.9%,#600e11 40.4%,#871318 43.8%,#861318 49.3%,#bb1d24 55.4%,#c91e26 59%,#c11d25 63.7%,#7f1115 78.2%,#5a0f12 91%,#521012)"></i><i style="top:293.24px;height:5.60px;background:linear-gradient(90deg,#dc1d25,#a61b21 1%,#ad1c22 1.2%,#e91c24 2.1%,#ed2124 2.4%,#ec1c24 2.9%,#b81d24 4%,#e01d25 5.1%,#e01d25 5.7%,#c41e25 6.8%,#e81c24 8.2%,#ae1c23 9.6%,#e61c24 10.7%,#ed1e24 11.2%,#e71c24 11.5%,#9e191f 12.6%,#d11e26 13.8%,#c81e26 14%,#7d1015 14.9%,#770e12 15.1%,#9b181e 16%,#6a0d11 17.1%,#98181d 17.9%,#5a0f12 19%,#90161b 19.9%,#7c1014 20.4%,#5d0f12 20.7%,#511012 21%,#5a0f12 21.2%,#770e12 21.5%,#831217 22.1%,#4c1112 22.9%,#471112 23.2%,#6b0d10 24%,#6a0d11 24.3%,#431212 25.4%,#110606 32.1%,#130606 32.4%,#730d11 33.8%,#720d11 34.3%,#3c1111 35.4%,#310f0f 36%,#431212 36.8%,#730d11 37.9%,#790f13 38.5%,#6d0c10 41%,#8f151a 45.1%,#821216 50.7%,#bd1d24 57.4%,#cb1e26 61%,#c31e25 65.7%,#861318 80.1%,#620e11)"></i><i style="top:298.25px;height:5.60px;background:linear-gradient(90deg,#e21d25,#ad1c22 1%,#ae1c22 1.2%,#ec1c24 2.4%,#e81c24 2.9%,#be1d24 4%,#e01d25 5.4%,#c11d25 6.8%,#e51c24 7.6%,#ed1e24 8.2%,#ab1c22 9.6%,#af1c23 9.9%,#e71c24 10.7%,#ed2024 11.2%,#ea1c24 11.5%,#9b181e 12.6%,#a11a1f 12.9%,#e51c24 13.8%,#ec1c24 14%,#c91e26 14.6%,#811116 15.1%,#760e12 15.4%,#96171c 16.2%,#5b0f12 17.4%,#90161b 18.2%,#8c151a 18.5%,#551012 19.3%,#790f13 19.9%,#841217 20.4%,#501012 21.2%,#501012 21.5%,#780e13 22.4%,#461112 23.8%,#501012 25.1%,#361010 26.5%,#200b0b 30.1%,#431212 31.5%,#170808 32.6%,#740d12 34.3%,#730d11 34.9%,#4e1012 35.7%,#3d1111 36.5%,#4b1112 37.4%,#6f0c10 38.2%,#7a0f13 39%,#730d11 41.8%,#96171c 46%,#7e1015 52.1%,#bb1d24 59%,#cb1e26 62.6%,#c51e25 67.9%,#8a1419 83.5%,#750d12)"></i><i style="top:303.25px;height:5.60px;background:linear-gradient(90deg,#e61c24,#b51d23 1%,#b31d23 1.2%,#e71c24 2.6%,#c41e25 4%,#e01d25 5.4%,#b91d24 6.5%,#bb1d24 6.8%,#e81c24 7.6%,#ed1d24 8.5%,#ab1c22 9.6%,#ae1c22 9.9%,#e71c24 10.7%,#ed1c24 11.5%,#9e191f 12.6%,#a31a20 12.9%,#ed1c24 14%,#dc1d25 14.6%,#821216 15.4%,#7a0f13 15.7%,#93161c 16.5%,#590f12 17.6%,#8a1419 18.5%,#7d1014 19%,#4e1012 19.6%,#501012 19.9%,#790f13 20.4%,#7f1115 20.7%,#7b0f14 21%,#461112 21.8%,#6c0d10 22.9%,#3b1111 24.3%,#451212 25.4%,#170808 29.9%,#2b0e0e 30.4%,#750e12 31.2%,#6c0c10 31.8%,#3d1111 32.4%,#220c0c 32.9%,#300f0f 33.5%,#740d11 34.6%,#780e13 34.9%,#720d11 35.7%,#560f12 36.2%,#481112 37.1%,#7a0f14 39.3%,#780e13 42.6%,#9d191e 46.2%,#790f13 53.5%,#b91d24 60.7%,#cb1e26 64.6%,#c71e26 69.9%,#8e151a 87.4%,#7e1015)"></i><i style="top:308.26px;height:5.60px;background:linear-gradient(90deg,#e71c24,#ba1d24 1.2%,#df1d25 2.4%,#c61e25 3.8%,#e21d25 5.4%,#b31d23 6.5%,#b51d23 6.8%,#e71c24 7.6%,#ed2024 8.5%,#af1c23 9.6%,#af1c23 9.9%,#e51c24 10.7%,#ed1d24 11.5%,#a51b21 12.6%,#a81c22 12.9%,#ea1c24 14%,#da1d25 14.6%,#90161b 15.4%,#8f151a 15.7%,#bb1d24 16.5%,#ba1d24 16.8%,#580f12 17.9%,#811116 19%,#501012 19.9%,#4d1112 20.1%,#6f0c10 20.7%,#760e12 21.2%,#521012 21.8%,#401212 22.4%,#531012 23.5%,#3a1111 24.6%,#250c0c 27.9%,#371010 29.3%,#240c0c 30.1%,#421212 30.7%,#720d11 31.2%,#790f13 31.5%,#740d11 32.1%,#3c1111 32.9%,#2e0e0e 33.5%,#3f1212 34%,#720d11 34.9%,#7b0f14 35.4%,#541012 37.6%,#7d1015 39.9%,#7a0f13 43.2%,#a61b21 47.6%,#7a0f13 52.9%,#760e12 55.1%,#b91d24 62.6%,#cb1e26 66.8%,#881318)"></i><i style="top:313.26px;height:5.60px;background:linear-gradient(90deg,#e51c24,#c11d25 1.2%,#dd1d25 2.6%,#c31d25 3.8%,#e91c24 5.1%,#af1c23 6.8%,#ed1f24 7.9%,#ea1c24 8.8%,#b41d23 9.6%,#b21c23 9.9%,#ed1d24 11%,#ed1d24 11.5%,#ad1c22 12.6%,#b01c23 12.9%,#e91c24 14%,#da1d25 14.6%,#9b181e 15.4%,#9b181e 15.7%,#e31d25 16.8%,#cb1e26 17.4%,#841217 17.9%,#5f0e12 18.5%,#811116 19.3%,#710c10 19.9%,#491112 20.4%,#650d11 21.5%,#3d1111 22.9%,#441212 24.3%,#2c0e0e 26%,#2c0e0e 27.6%,#421212 28.2%,#720d11 28.7%,#770e12 29%,#720d11 29.3%,#411212 29.9%,#2b0e0e 30.4%,#441212 31%,#730d11 31.5%,#7d1015 32.1%,#730d11 32.6%,#4c1112 33.2%,#3a1111 33.8%,#411212 34.3%,#710c10 35.1%,#7f1115 36%,#670d11 38.2%,#831216 40.7%,#7b0f14 43.8%,#af1c23 48.5%,#700c10 56%,#7c1014 58.5%,#bc1d24 65.1%,#cc1e26 69.9%,#92161b)"></i><i style="top:318.27px;height:5.60px;background:linear-gradient(90deg,#e11d25,#c71e26 1.2%,#dc1d25 2.6%,#be1d24 3.8%,#e71c24 4.9%,#ec1c24 5.4%,#ac1c22 6.8%,#ec1c24 7.9%,#ec1c24 8.8%,#b51d23 9.9%,#eb1c24 11%,#ec1c24 11.5%,#b51d23 12.6%,#e91c24 14%,#dd1d25 14.6%,#a61b21 15.4%,#a51b21 15.7%,#d81d25 16.5%,#e11d25 17.1%,#94171c 18.2%,#8f151a 18.5%,#af1c23 19.6%,#531012 21%,#6a0d11 22.1%,#3f1212 23.5%,#471112 25.4%,#5e0e12 26.5%,#431212 27.6%,#541012 28.2%,#710c10 28.5%,#801116 29%,#760e12 29.6%,#471112 30.1%,#330f0f 30.7%,#481112 31.2%,#750e12 31.8%,#811116 32.4%,#730d11 33.2%,#501012 33.8%,#451212 34.3%,#5a0f12 35.1%,#710c10 35.4%,#811116 36.2%,#750e12 38.5%,#871318 41.2%,#7c1014 44.3%,#b81d24 49.3%,#b01c23 51.2%,#660d11 57.6%,#b61d23 66.5%,#cb1e26 71.5%,#9d191e)"></i><i style="top:323.27px;height:5.60px;background:linear-gradient(90deg,#da1d25,#ca1e26 1%,#e11d25 2.4%,#b81d24 3.8%,#e71c24 4.9%,#ed1f24 5.4%,#eb1c24 5.7%,#ad1c22 6.8%,#b01c23 7.1%,#ed1d24 8.2%,#ec1c24 8.8%,#b91d24 9.9%,#eb1c24 11.2%,#bd1d24 12.6%,#e91c24 14.3%,#b01c23 15.7%,#e01d25 17.1%,#a61b21 18.5%,#cd1e26 19.9%,#93161c 21.2%,#9a181d 22.6%,#790f13 25.1%,#8a1419 26.5%,#4d1112 27.9%,#821216 29%,#861317 29.6%,#401212 31%,#871318 32.6%,#801115 33.5%,#5a0f12 34.3%,#531012 34.9%,#861318 36.8%,#7e1015 39.3%,#8e151a 42.1%,#7d1015 45.1%,#b71d24 49%,#c31d25 50.7%,#b51d23 52.9%,#5a0f12 59.6%,#b01c23 68.2%,#ca1e26 73.8%,#a81c21)"></i><i style="top:328.27px;height:5.60px;background:linear-gradient(90deg,#d51d25,#c81e26 1%,#e51c24 2.4%,#b51d23 3.8%,#b61d24 4%,#ed1d24 5.1%,#ed1e24 5.7%,#b21c23 6.8%,#af1c23 7.1%,#ec1c24 8.5%,#bd1d24 9.9%,#e71c24 11.2%,#c21d25 12.9%,#ea1c24 14.3%,#ba1d24 15.7%,#e11d25 17.1%,#b51d23 18.5%,#d01e26 19.9%,#a91c22 21.2%,#a81c21 23.5%,#821116 25.1%,#99181d 26.5%,#5b0f12 28.2%,#8d151a 29.3%,#8f151a 29.9%,#4f1012 31.2%,#590f12 31.8%,#7d1015 32.4%,#8f151b 33.2%,#640e11 35.1%,#8c151a 37.6%,#841217 39.6%,#96171c 42.4%,#7f1115 46%,#cb1e26 51.5%,#bd1d24 54%,#590f12 60.1%,#551012 61.3%,#5a0f12 62.6%,#700c10 63.7%,#ac1c22 69.9%,#c91e26 75.4%,#cb1e26 82.6%,#b11c23)"></i><i style="top:333.28px;height:5.60px;background:linear-gradient(90deg,#d21e26,#c31e25 1%,#e51c24 2.1%,#e81c24 2.6%,#b21d23 4%,#eb1c24 5.1%,#ed1f24 5.7%,#b31d23 7.1%,#e71c24 8.5%,#bf1d25 10.1%,#e41d25 11.2%,#c31e25 12.9%,#ea1c24 14.3%,#c21d25 15.7%,#e11d25 17.4%,#bf1d25 18.8%,#d51d25 20.1%,#b01c23 21.8%,#b81d24 23.8%,#8e151a 25.1%,#a71b21 26.8%,#770e12 28.2%,#9d191e 29.9%,#660d11 31.8%,#97171d 33.5%,#760e12 35.7%,#91161b 37.9%,#8a1419 40.1%,#9f191f 42.9%,#821116 47.1%,#c91e26 51.2%,#d21e26 53.5%,#ba1d24 56%,#580f12 61.5%,#511012 62.9%,#5a0f12 64.9%,#710c10 66%,#aa1c22 71.8%,#c71e26 77.4%,#cc1e26 84.9%,#ba1d24)"></i><i style="top:338.28px;height:5.60px;background:linear-gradient(90deg,#d21e26,#be1d24 1%,#ed1c24 2.6%,#b11c23 4%,#ed1d24 5.4%,#ec1c24 6%,#b91d24 7.1%,#e21d25 8.8%,#c01d25 10.1%,#e31d25 11.5%,#c41e25 12.9%,#e81c24 14.3%,#c71e25 16%,#e31d25 17.4%,#c81e26 19%,#db1d25 20.4%,#ba1d24 22.1%,#ca1e26 23.8%,#9c181e 25.4%,#b61d23 27.1%,#841217 28.5%,#aa1c22 30.1%,#790f13 32.1%,#a0191f 33.8%,#801116 36.2%,#97171d 38.2%,#91161b 40.7%,#a81b21 43.5%,#831217 47.9%,#cd1e26 52.1%,#d91d25 54.6%,#c41e25 57.1%,#580f12 62.9%,#4e1012 64.9%,#580f12 66.8%,#700c10 67.9%,#a31a20 73.2%,#c51e25 79%,#cd1e26 86.2%,#c11d25)"></i><i style="top:343.29px;height:5.60px;background:linear-gradient(90deg,#d51d25,#bc1d24 1.2%,#ec1c24 2.4%,#ec1c24 2.9%,#b51d23 4%,#b31d23 4.3%,#ed1c24 5.7%,#bd1d24 7.4%,#df1d25 8.8%,#c01d25 10.1%,#e11d25 11.5%,#c31e25 12.9%,#e61c24 14.6%,#ca1e26 16%,#e31d25 17.4%,#cc1e26 19%,#e11d25 20.7%,#c31e25 22.4%,#d51d25 24%,#ac1c22 25.4%,#c81e26 27.1%,#94171c 28.7%,#b81d24 30.4%,#871318 32.4%,#aa1c22 34.3%,#8b1419 36.5%,#9e191f 38.8%,#97171d 41.2%,#b11c23 44%,#841217 48.5%,#8d151a 49.6%,#d01e26 52.9%,#df1d25 55.7%,#cd1e26 58.2%,#5b0f12 64.3%,#4b1112 66.5%,#5a0f12 69%,#720d11 70.1%,#a11a1f 75.1%,#c21d25 80.7%,#ce1e26 87.6%,#c71e26)"></i><i style="top:348.29px;height:5.60px;background:linear-gradient(90deg,#da1d25,#b71d24 1.2%,#e91c24 2.4%,#ed1e24 2.9%,#b41d23 4.3%,#ea1c24 6%,#c11d25 7.4%,#dd1d25 8.8%,#c11d25 10.1%,#df1d25 11.8%,#c21d25 13.2%,#e31d25 14.6%,#cb1e26 16.2%,#e51c24 17.6%,#ce1e26 19.3%,#e61c24 21%,#cc1e26 22.4%,#de1d25 24.3%,#b91d24 25.7%,#d41d25 27.4%,#a51b20 29%,#c51e25 30.7%,#96171d 32.6%,#b41d23 34.6%,#98171d 37.1%,#a61b21 39%,#9d191e 41.8%,#bb1d24 44.9%,#851217 49.3%,#92161b 50.7%,#d61d25 54%,#e61c24 56.8%,#ce1e26 59.9%,#590f12 66%,#491112 68.2%,#561012 70.7%,#710c10 72.1%,#9e191f 77.1%,#bf1d25 82.4%,#cd1e26 88.8%,#cc1e26)"></i><i style="top:353.30px;height:13.60px;background:linear-gradient(90deg,#e11d25,#b51d23 1.2%,#ed1c24 2.6%,#ed1e24 2.9%,#b71d24 4.6%,#e51c24 6%,#c61e25 7.4%,#dc1d25 8.8%,#c31d25 10.4%,#df1d25 11.8%,#c11d25 13.2%,#e11d25 14.9%,#ca1e26 16.2%,#e51c24 17.9%,#cf1e26 19.3%,#e81c24 21.2%,#d01e26 22.6%,#e71c24 24.3%,#c51e25 26%,#dd1d25 27.6%,#b31d23 29.3%,#ce1e26 31.2%,#a51b21 33.2%,#bd1d24 35.1%,#a41b20 37.1%,#af1c23 39.6%,#a21a20 42.1%,#c41e25 45.7%,#871318 50.1%,#92161b 51.5%,#dc1d25 55.1%,#eb1c24 58.2%,#c91e26 61.8%,#580f12 67.6%,#481112 70.1%,#560f12 72.6%,#710c10 74%,#9b181e 78.8%,#bb1d24 83.8%,#cc1e26 89.9%,#cf1e26)"></i></div></div>
<div class="h" style="left:1169.6px;top:1874.7px;width:745.4px;height:359.8px;background:#861318"><div class="hh" style="top:-8px;height:375.8px;background:#861318"><i style="top:0.00px;height:13.60px;background:linear-gradient(90deg,#861318,#851217 24%,#7a0f13 25.4%,#5a0f12 27.1%,#821216 29.3%,#730d11 30.4%,#5a0f12 31%,#521012 31.5%,#561012 32.1%,#700c10 32.6%,#821216 33.8%,#720d11 34.9%,#570f12 35.4%,#4f1012 36%,#531012 36.5%,#760e12 37.4%,#811116 38.2%,#740d11 39%,#481112 39.9%,#391010 40.7%,#4b1112 41.5%,#760e12 42.4%,#7e1015 43.2%,#740d11 43.8%,#2e0e0e 45.1%,#210b0b 46%,#3e1111 47.1%,#6e0c10 47.9%,#7d1014 48.8%,#720d11 49.6%,#2e0e0e 51%,#110606 52.4%,#280d0d 53.5%,#710c10 55.1%,#7c1014 56.2%,#740d11 57.1%,#210b0b 59.6%,#0f0505 61%,#290d0d 62.6%,#700c10 64.9%,#7c1014 66%,#700c10 67.9%,#590f12 68.5%,#2a0d0d 70.7%,#0f0505 73.5%,#2a0d0d 76.8%,#700c10 81.5%,#7d1014 85.7%,#700c10 89%,#401212 93.2%,#170808)"></i><i style="top:13.00px;height:5.60px;background:linear-gradient(90deg,#861318,#841217 24.3%,#780f13 25.7%,#590f12 27.1%,#821216 29.3%,#750d12 30.4%,#5b0f12 31%,#521012 31.5%,#561012 32.1%,#700c10 32.6%,#821216 33.8%,#770e13 34.6%,#551012 35.4%,#4f1012 36%,#561012 36.5%,#790f13 37.4%,#801116 38.2%,#770e12 38.8%,#411212 39.9%,#391010 40.4%,#4a1112 41.2%,#760e12 42.1%,#7e1015 42.9%,#730d11 43.5%,#361010 44.6%,#220c0c 45.4%,#381010 46.5%,#730d11 47.6%,#7c1014 48.5%,#740d11 49%,#260d0d 50.7%,#110606 51.8%,#290d0d 52.9%,#720d11 54.6%,#7c1014 55.7%,#710c10 56.5%,#551012 57.1%,#230c0c 58.8%,#100505 60.1%,#290d0d 61.8%,#710c10 64%,#7c1014 65.1%,#720d11 66.8%,#2c0e0e 69.6%,#0f0505 72.4%,#2b0e0e 75.7%,#720d11 80.4%,#7c1014 84.3%,#700c10 87.4%,#590f12 88.8%,#2e0e0e 94%,#110606)"></i><i style="top:17.99px;height:5.60px;background:linear-gradient(90deg,#861318,#851217 24.6%,#780e13 26%,#5a0f12 27.4%,#7b0f14 28.7%,#821216 29.6%,#6f0c10 30.7%,#561012 31.2%,#521012 31.8%,#710c10 32.6%,#821216 33.8%,#760e12 34.6%,#531012 35.4%,#4f1012 36%,#590f12 36.5%,#760e12 37.1%,#811116 37.9%,#710c10 38.8%,#4d1112 39.3%,#391010 40.1%,#401212 40.7%,#760e12 41.8%,#7f1015 42.4%,#720c11 43.2%,#3e1111 44%,#210b0b 45.1%,#320f0f 46%,#580f12 46.8%,#700c10 47.1%,#7d1014 47.9%,#6c0d10 48.8%,#560f12 49%,#1e0a0a 50.4%,#110606 51.2%,#2a0d0d 52.4%,#740d11 54%,#7c1014 54.9%,#740d11 55.7%,#1e0a0a 58.2%,#100505 59.3%,#1c0a0a 60.4%,#720d11 63.2%,#7b0f14 64%,#740d11 65.7%,#270d0d 68.8%,#0f0505 71.2%,#2d0e0e 74.6%,#6f0c10 78.8%,#7d1014 82.6%,#710c10 85.7%,#590f12 87.1%,#270d0d 93.2%,#0f0505)"></i><i style="top:22.99px;height:5.60px;background:linear-gradient(90deg,#861318,#851217 24.9%,#630e11 27.6%,#821216 29.6%,#710c10 30.7%,#560f12 31.2%,#521012 31.8%,#780e13 32.9%,#821216 33.8%,#740d11 34.6%,#570f12 35.1%,#4f1012 35.7%,#551012 36.2%,#720d11 36.8%,#811116 37.6%,#740d11 38.5%,#501012 39%,#3a1111 39.9%,#3f1212 40.4%,#760e12 41.5%,#7e1015 42.1%,#6f0c10 42.9%,#560f12 43.2%,#300f0f 44%,#220c0c 44.9%,#381010 45.7%,#740d12 46.8%,#7c1014 47.4%,#700c10 48.2%,#580f12 48.5%,#280d0d 49.6%,#120606 50.7%,#2c0e0e 51.8%,#6f0c10 53.2%,#7b1014 54.3%,#710c10 55.1%,#531012 55.7%,#260d0d 57.1%,#100606 58.5%,#1d0a0a 59.6%,#6e0c10 62.1%,#7b0f14 63.2%,#710c10 64.9%,#590f12 65.4%,#1e0a0a 68.2%,#0f0505 70.1%,#2b0e0e 73.2%,#720d11 77.6%,#7c1014 81.2%,#710c10 84%,#421212 87.9%,#1c0a0a 93.2%,#130606)"></i><i style="top:27.99px;height:5.60px;background:linear-gradient(90deg,#861318,#851217 25.1%,#700c10 27.6%,#831216 29.6%,#790f13 30.4%,#570f12 31.2%,#521012 31.8%,#780f13 32.9%,#821216 33.8%,#720d11 34.6%,#551012 35.1%,#4f1012 35.7%,#580f12 36.2%,#760e12 36.8%,#811116 37.6%,#760e12 38.2%,#531012 38.8%,#3a1111 39.6%,#3f1212 40.1%,#760e12 41.2%,#7e1015 41.8%,#770e12 42.4%,#371010 43.5%,#220c0c 44.3%,#320f0f 45.1%,#720d11 46.2%,#7c1014 47.1%,#720d11 47.6%,#4e1012 48.2%,#1e0a0a 49.3%,#110606 50.1%,#2e0e0e 51.2%,#720d11 52.6%,#7c1014 53.5%,#730d11 54.3%,#300f0f 56%,#100505 57.6%,#1d0a0a 58.8%,#710c10 61.3%,#7b0f14 62.1%,#730d11 63.7%,#2d0e0e 66.2%,#0f0505 68.8%,#2a0d0d 71.8%,#6f0c10 76%,#7d1014 79.6%,#700c10 82.6%,#411212 86.2%,#180808 92.1%,#0f0505 96.2%,#200b0b)"></i><i style="top:32.99px;height:5.60px;background:linear-gradient(90deg,#861318,#861317 25.1%,#750e12 27.9%,#831217 29.9%,#541012 31.8%,#790f13 32.9%,#821116 33.8%,#4f1012 35.4%,#541012 36%,#720d11 36.5%,#811116 37.4%,#700c10 38.2%,#560f12 38.5%,#401212 39%,#3a1111 39.6%,#471112 40.1%,#760e12 41%,#7e1015 41.5%,#760e12 42.1%,#340f0f 43.2%,#220c0c 44%,#381010 44.9%,#760e12 46%,#7c1014 46.5%,#740d11 47.1%,#1f0b0b 48.8%,#120606 49.6%,#300f0f 50.7%,#740d11 52.1%,#7b0f14 52.9%,#700c10 53.8%,#5c0f12 54%,#2a0d0d 55.4%,#100606 56.8%,#250c0c 58.2%,#720d11 60.4%,#7c1014 61.5%,#6f0c10 62.9%,#570f12 63.5%,#2e0e0e 65.1%,#100505 67.4%,#210b0b 69.9%,#590f12 73.8%,#6f0c10 74.6%,#7d1014 77.4%,#700c10 81%,#5a0f12 82.1%,#3e1111 84.9%,#130707 91.2%,#120606 95.4%,#320f0f)"></i><i style="top:37.98px;height:5.60px;background:linear-gradient(90deg,#861318,#861318 25.4%,#7b0f14 28.2%,#841217 29.9%,#730d11 31%,#580f12 31.8%,#821216 33.5%,#760e12 34.3%,#580f12 34.9%,#4f1012 35.4%,#580f12 36%,#760e12 36.5%,#801116 37.4%,#730d11 37.9%,#5a0f12 38.2%,#421212 38.8%,#3a1111 39.3%,#471112 39.9%,#770e12 40.7%,#7e1015 41.2%,#740d11 41.8%,#3d1111 42.6%,#220c0c 43.5%,#320f0f 44.3%,#730d11 45.4%,#7c1014 46%,#760e12 46.5%,#200b0b 48.2%,#120606 49%,#320f0f 50.1%,#6e0c10 51.2%,#7c1014 52.1%,#730d11 52.9%,#2c0e0e 54.6%,#100606 56%,#1e0a0a 57.1%,#6d0c10 59.3%,#7c1014 60.4%,#710c11 61.8%,#2e0e0e 64%,#100505 66.2%,#1e0a0a 68.5%,#590f12 72.4%,#700c10 73.2%,#7c1014 75.4%,#710c10 79.3%,#5a0f12 80.4%,#340f0f 84.3%,#100606 90.4%,#150707 94%,#471112)"></i><i style="top:42.98px;height:5.60px;background:linear-gradient(90deg,#861318,#861318 19.6%,#790f13 23.2%,#851217 29.9%,#640e11 31.8%,#821216 33.5%,#740d11 34.3%,#551012 34.9%,#4f1012 35.4%,#5e0e12 36%,#720d11 36.2%,#811116 37.1%,#760e12 37.6%,#441212 38.5%,#3a1111 39%,#461112 39.6%,#770e12 40.4%,#7e1015 41%,#720d11 41.5%,#580f12 41.8%,#2d0e0e 42.6%,#220c0c 43.2%,#381010 44%,#6f0c10 44.9%,#7b0f14 45.7%,#6d0c10 46.2%,#551012 46.5%,#200b0b 47.6%,#130606 48.5%,#351010 49.6%,#720c11 50.7%,#7b0f14 51.5%,#6d0c10 52.4%,#590f12 52.6%,#260d0d 54%,#110606 55.1%,#260d0d 56.5%,#700c10 58.5%,#7c1014 59.6%,#730d11 60.7%,#2f0e0e 62.9%,#100505 65.1%,#280d0d 67.9%,#6f0c10 71.8%,#7c1014 74%,#710c10 77.6%,#5a0f12 78.8%,#300f0f 82.9%,#0f0505 89%,#1a0909 92.6%,#5e0e12)"></i><i style="top:47.98px;height:5.60px;background:linear-gradient(90deg,#861318,#861317 18.5%,#720d11 20.1%,#3f1212 21.8%,#300f0f 22.9%,#421212 25.4%,#570f12 26.2%,#750e12 26.8%,#831216 27.6%,#851217 30.1%,#710c11 32.1%,#831216 33.5%,#720d11 34.3%,#5e0e12 34.6%,#4f1012 35.1%,#570f12 35.7%,#7d1015 36.5%,#7f1115 37.1%,#6d0c10 37.6%,#461112 38.2%,#3a1111 38.8%,#451212 39.3%,#770e12 40.1%,#7e1015 40.7%,#710c10 41.2%,#351010 42.1%,#220c0c 42.9%,#3f1212 43.8%,#750e12 44.6%,#7c1014 45.1%,#710c10 45.7%,#580f12 46%,#210b0b 47.1%,#120606 47.9%,#2b0e0e 48.8%,#740d11 50.1%,#7b0f14 51%,#720d11 51.5%,#531012 52.1%,#200b0b 53.5%,#100606 54.6%,#300f0f 56%,#720d11 57.6%,#7b1014 58.5%,#700c10 59.9%,#561012 60.4%,#300f0f 61.8%,#100505 64%,#260d0d 66.5%,#700c10 70.4%,#7c1014 72.4%,#710c11 76%,#580f12 77.4%,#2d0e0e 81.5%,#0f0505 87.6%,#1e0a0a 91%,#590f12 97.1%,#700c10 98.5%,#770e12)"></i><i style="top:52.97px;height:5.60px;background:linear-gradient(90deg,#861318,#871318 17.4%,#7d1014 18.2%,#590f12 19.3%,#521012 20.4%,#2e0e0e 22.1%,#270d0d 25.7%,#3f1212 27.4%,#730d11 28.5%,#841217 29.3%,#770e13 32.1%,#831217 33.5%,#720d11 34.3%,#5d0f12 34.6%,#501012 35.1%,#5d0f12 35.7%,#7b0f14 36.2%,#801116 36.8%,#720d11 37.4%,#491112 37.9%,#3a1111 38.5%,#441212 39%,#770e12 39.9%,#7d1015 40.4%,#6b0d10 41%,#320f0f 41.8%,#230c0c 42.4%,#2c0e0e 42.9%,#570f12 43.8%,#710c10 44%,#7c1014 44.6%,#730d11 45.1%,#2e0e0e 46.2%,#130707 47.1%,#220c0c 47.9%,#6d0c10 49.3%,#7b0f14 50.1%,#750d12 50.7%,#220c0c 52.6%,#110606 53.8%,#280d0d 54.9%,#740d11 56.8%,#7b0f14 57.9%,#720c11 58.8%,#580f12 59.3%,#240c0c 61.3%,#100505 62.9%,#290d0d 65.4%,#700c10 69%,#7b0f14 70.7%,#720d11 74.3%,#580f12 75.7%,#2e0e0e 79.6%,#0f0505 85.4%,#200b0b 89%,#710c10 96.2%,#7c1014)"></i><i style="top:57.97px;height:5.60px;background:linear-gradient(90deg,#861318,#8b1419 17.1%,#620e11 18.8%,#630e11 19.9%,#371010 21.5%,#290d0d 25.1%,#2d0e0e 28.5%,#3c1111 29%,#7a0f14 29.9%,#851317 30.4%,#841217 33.5%,#541012 35.1%,#770e12 36%,#811116 36.5%,#750e12 37.1%,#4d1112 37.6%,#3a1111 38.2%,#431212 38.8%,#770e13 39.6%,#7d1015 40.1%,#770e12 40.4%,#2e0e0e 41.5%,#220c0c 42.1%,#310f0f 42.6%,#770e12 43.8%,#7b0f14 44.3%,#750e12 44.6%,#2f0e0e 45.7%,#130606 46.5%,#230c0c 47.4%,#720d11 48.8%,#7b0f14 49.6%,#720c11 50.1%,#240c0c 51.8%,#110606 52.9%,#290d0d 54%,#700c10 55.7%,#7b0f14 56.5%,#740d11 57.6%,#320f0f 59.6%,#100606 61.5%,#1e0a0a 63.5%,#570f12 66.8%,#700c10 67.6%,#7d1014 70.1%,#700c10 72.9%,#580f12 74%,#260d0d 78.8%,#0f0505 83.5%,#1f0b0b 86.8%,#710c10 93.8%,#7a0f13)"></i><i style="top:62.97px;height:5.60px;background:linear-gradient(90deg,#861318,#851217 15.4%,#90161b 16.8%,#720d11 18.2%,#700c10 19.9%,#541012 20.4%,#401212 21.2%,#270d0d 28.5%,#371010 29.9%,#551012 30.4%,#730d11 30.7%,#831216 31.2%,#841217 33.5%,#5b0f12 35.1%,#7c1014 36%,#7f1115 36.5%,#3b1111 37.9%,#431212 38.5%,#780e13 39.3%,#7c1014 39.9%,#750e12 40.1%,#2b0e0e 41.2%,#240c0c 41.8%,#381010 42.4%,#730d11 43.2%,#7b0f14 43.8%,#690d11 44.3%,#230c0c 45.4%,#140707 46%,#1a0909 46.5%,#740d11 48.2%,#7b0f14 48.8%,#740d11 49.3%,#1d0a0a 51.2%,#110606 52.1%,#2a0d0d 53.2%,#720d11 54.9%,#7b0f14 55.7%,#700c10 56.8%,#541012 57.4%,#1f0a0a 59.3%,#100606 60.7%,#290d0d 62.9%,#700c10 66.2%,#7c1014 68.2%,#710c10 71.2%,#580f12 72.4%,#2e0e0e 76%,#0f0505 81.2%,#1f0b0b 84.6%,#740d11 91.8%,#7c1014 95.7%,#6f0c10)"></i><i style="top:67.97px;height:5.60px;background:linear-gradient(90deg,#861318,#7f1115 15.1%,#92161b 16.5%,#760e12 17.9%,#790f13 19.6%,#551012 20.4%,#4b1112 21%,#501012 22.4%,#3c1111 24%,#431212 25.7%,#2e0e0e 27.6%,#2b0e0e 30.1%,#3b1111 31%,#720d11 31.5%,#841217 32.1%,#851217 33.5%,#6d0c10 34.9%,#811116 36.2%,#710c10 36.8%,#451112 37.4%,#3b1111 37.9%,#7d1015 39.3%,#740d11 39.9%,#330f0f 40.7%,#230c0c 41.2%,#300f0f 41.8%,#6d0c10 42.6%,#7b0f14 43.2%,#700c10 43.8%,#320f0f 44.6%,#130707 45.4%,#1b0909 46%,#6c0d10 47.4%,#7a0f14 47.9%,#710c10 48.8%,#590f12 49%,#280d0d 50.1%,#110606 51.2%,#2b0e0e 52.4%,#740d11 54%,#7b0f14 54.9%,#720d11 55.7%,#250c0c 57.9%,#100606 59.3%,#270d0d 61.5%,#700c10 64.9%,#7c1014 66.8%,#710c10 69.6%,#580f12 70.7%,#300f0f 74%,#0f0505 79%,#1b0909 82.1%,#590f12 87.6%,#700c10 88.8%,#790f13 90.7%,#740d11 96.2%,#4f1012)"></i><i style="top:72.96px;height:5.60px;background:linear-gradient(90deg,#861318,#871318 13.5%,#7d1015 14.9%,#92161b 16.2%,#7a0f13 17.6%,#841217 19%,#720d11 19.9%,#590f12 20.4%,#680d11 22.1%,#4a1112 23.5%,#541012 25.4%,#3a1111 27.1%,#270d0d 31%,#391010 31.8%,#740d11 32.4%,#851317 32.9%,#750e12 34.9%,#7f1115 36.2%,#770e12 36.5%,#4b1112 37.1%,#3b1111 37.6%,#4f1012 38.2%,#780e13 38.8%,#7b0f14 39.3%,#710c10 39.6%,#531012 39.9%,#300f0f 40.4%,#250c0c 41%,#381010 41.5%,#750e12 42.4%,#7a0f14 42.6%,#720d11 43.2%,#340f0f 44%,#140707 44.9%,#2a0d0d 45.7%,#710c10 46.8%,#7a0f13 47.4%,#740d11 47.9%,#210b0b 49.6%,#120606 50.4%,#2c0e0e 51.5%,#6f0c10 52.9%,#7a0f14 53.8%,#740d11 54.6%,#2d0e0e 56.5%,#110606 58.2%,#2a0d0d 60.4%,#700c10 63.5%,#7c1014 65.4%,#720c11 67.9%,#580f12 69%,#310f0f 72.1%,#100606 76.8%,#190808 79.6%,#710c10 86.5%,#7b0f14 89%,#710c10 94%,#590f12 95.7%,#3a1111)"></i><i style="top:77.96px;height:5.60px;background:linear-gradient(90deg,#861318,#881318 13.5%,#7c1014 14.3%,#92161b 15.7%,#7c1014 17.4%,#8a1419 18.8%,#6e0c10 20.1%,#7a0f13 21.8%,#570f12 23.2%,#5b0f12 23.8%,#700c10 24.3%,#710c10 25.1%,#4d1112 26.2%,#471112 27.9%,#1e0a0a 31.5%,#2b0e0e 32.4%,#431212 32.6%,#6e0c10 32.9%,#851317 33.5%,#7c1014 34.9%,#841217 36%,#750e12 36.5%,#5b0f12 36.8%,#431212 37.4%,#4f1012 37.9%,#780f13 38.5%,#7a0f13 39%,#6e0c10 39.3%,#3c1111 39.9%,#280d0d 40.4%,#310f0f 41%,#710c10 41.8%,#7b0f14 42.4%,#750d12 42.6%,#270d0d 43.8%,#150707 44.3%,#2c0e0e 45.1%,#740d11 46.2%,#7a0f14 46.8%,#6f0c10 47.4%,#570f12 47.6%,#230c0c 48.8%,#110606 49.6%,#2d0e0e 50.7%,#720d11 52.1%,#7b0f14 52.9%,#710c10 53.8%,#531012 54.3%,#260d0d 55.7%,#100606 57.1%,#270d0d 59%,#700c10 62.1%,#7c1014 64%,#700c10 66.5%,#590f12 67.4%,#330f0f 70.1%,#100606 74.6%,#170808 77.4%,#5a0f12 82.9%,#710c10 84%,#7c1014 86.8%,#710c10 91.2%,#421212 95.7%,#2c0e0e)"></i><i style="top:82.96px;height:5.60px;background:linear-gradient(90deg,#861318,#8d151a 12.9%,#7c1014 14%,#92161b 15.7%,#7d1014 16.8%,#8f151a 18.5%,#750e12 19.9%,#841217 21.2%,#700c10 22.9%,#7f1115 24.6%,#5c0f12 26%,#5c0f12 27.4%,#280d0d 29.9%,#1c0a0a 31.2%,#2d0e0e 32.6%,#391010 32.9%,#750d12 33.5%,#811116 33.8%,#851217 34.9%,#9b181e 36%,#6e0c10 37.6%,#780f13 38.8%,#3b1111 39.6%,#2e0e0e 40.1%,#3b1111 40.7%,#770e12 41.5%,#760e12 42.1%,#3b1111 42.9%,#1c0a0a 43.8%,#2f0e0e 44.6%,#760e12 45.7%,#780f13 46.2%,#730d11 46.5%,#260d0d 47.9%,#130606 48.8%,#240c0c 49.6%,#730d11 51.2%,#7a0f13 51.8%,#720d11 52.6%,#551012 53.2%,#1f0b0b 54.9%,#110606 56%,#2a0d0d 57.9%,#5a0f12 60.1%,#700c10 60.7%,#7c1014 62.6%,#700c10 64.9%,#590f12 65.7%,#320f0f 68.5%,#110606 72.6%,#1a0909 75.4%,#580f12 80.4%,#700c10 81.5%,#7c1014 84.3%,#710c10 88.5%,#5a0f12 89.9%,#351010 94.9%,#2a0d0d)"></i><i style="top:87.96px;height:5.60px;background:linear-gradient(90deg,#861318,#861318 11.5%,#91161b 12.6%,#7c1014 14%,#92161b 15.4%,#7c1014 16.8%,#91161b 18.2%,#790f13 19.6%,#8c151a 21%,#780e13 22.6%,#8b1419 24%,#750d12 25.4%,#720d11 27.4%,#371010 29%,#1f0a0a 30.7%,#2b0e0e 31.8%,#4e1012 33.2%,#580f12 33.5%,#730d11 33.8%,#9f191f 34.9%,#d61d25 35.7%,#e41d25 36.2%,#c91e26 37.1%,#9b181e 37.6%,#790f13 38.5%,#3c1111 39.3%,#3d1111 40.1%,#5a0f12 40.7%,#750d12 41%,#7b0f14 41.2%,#700c10 41.8%,#531012 42.1%,#361010 42.6%,#270d0d 43.5%,#340f0f 44%,#710c10 44.9%,#7a0f13 45.4%,#6c0d10 46%,#280d0d 47.1%,#120606 47.9%,#250c0c 48.8%,#6e0c10 50.1%,#7a0f14 51%,#6c0d10 51.8%,#580f12 52.1%,#1f0b0b 53.8%,#110606 54.9%,#2d0e0e 56.8%,#700c10 59.3%,#7c1014 61%,#710c10 63.2%,#590f12 64%,#270d0d 67.6%,#100505 71%,#1e0a0a 73.8%,#720d11 79.3%,#7c1014 81.8%,#710c10 85.7%,#5a0f12 87.1%,#330f0f 92.4%,#300f0f)"></i><i style="top:92.95px;height:5.60px;background:linear-gradient(90deg,#861318,#861318 11.2%,#92161b 12.4%,#7c1014 13.8%,#92161b 15.1%,#7c1014 16.5%,#92161b 17.9%,#7b0f14 19.3%,#90161b 20.7%,#7b0f14 22.1%,#91161b 23.8%,#7a0f13 25.1%,#7e1015 26.8%,#330f0f 29%,#240c0c 30.4%,#421212 32.1%,#831216 34%,#ab1c22 34.6%,#e81c24 35.1%,#f05023 36%,#f05322 36.5%,#eb1c24 37.4%,#a31a20 37.9%,#4f1012 38.8%,#421212 39%,#491112 39.9%,#541012 40.1%,#700c10 40.4%,#7d1014 41%,#780e13 41.2%,#461112 42.1%,#361010 43.2%,#461112 43.8%,#710c10 44.3%,#7a0f13 44.9%,#750e12 45.1%,#240c0c 46.5%,#130606 47.4%,#2c0e0e 48.2%,#750e12 49.6%,#7a0f13 50.1%,#740d11 50.7%,#240c0c 52.6%,#110606 53.8%,#270d0d 55.4%,#710c10 58.2%,#7c1014 59.9%,#710c10 61.8%,#590f12 62.6%,#280d0d 66%,#100505 69.3%,#1d0a0a 71.8%,#710c10 77.1%,#7c1014 79.6%,#700c10 83.5%,#580f12 84.9%,#330f0f 89.9%,#371010)"></i><i style="top:97.95px;height:5.60px;background:linear-gradient(90deg,#861318,#861318 11.2%,#92161b 12.1%,#7c1014 13.5%,#92161b 14.9%,#7c1014 16.2%,#92161b 17.6%,#7c1014 19%,#92161b 20.4%,#7c1014 21.8%,#92161b 23.5%,#7c1014 24.9%,#831217 26.5%,#710c10 27.4%,#5d0f12 27.6%,#351010 28.7%,#2a0d0d 29.9%,#590f12 32.1%,#91161b 33.8%,#b11c23 34.3%,#ed2124 34.9%,#f68c1e 35.7%,#fbaf15 36.2%,#fbaa17 36.5%,#f7911d 36.8%,#e81c24 37.6%,#97171d 38.2%,#5b0f12 38.8%,#511012 39%,#5a0f12 39.6%,#720c11 39.9%,#811116 40.4%,#710c10 41.2%,#570f12 41.8%,#4c1112 42.6%,#531012 43.2%,#750d12 43.8%,#770e13 44.3%,#710c10 44.6%,#570f12 44.9%,#2a0d0d 45.7%,#150707 46.5%,#2e0e0e 47.4%,#6f0c10 48.5%,#790f13 49%,#6e0c10 49.9%,#590f12 50.1%,#2d0e0e 51.2%,#120606 52.6%,#2a0d0d 54.3%,#710c10 56.8%,#7b0f14 58.2%,#710c10 60.1%,#590f12 61%,#310f0f 63.5%,#110606 67.1%,#1a0909 69.3%,#590f12 73.8%,#6f0c10 74.6%,#7b0f14 77.1%,#710c11 80.4%,#4f1012 82.9%,#351010 87.1%,#3f1212)"></i><i style="top:102.95px;height:5.60px;background:linear-gradient(90deg,#861318,#841217 11%,#92161b 12.1%,#7c1014 13.5%,#92161b 14.6%,#7c1014 16%,#92161b 17.4%,#7c1014 18.8%,#92161b 20.1%,#7c1014 21.5%,#92161b 23.2%,#7d1015 24.3%,#831217 26.2%,#710c10 27.1%,#3d1111 28.2%,#2f0e0e 29%,#3d1111 30.1%,#730d11 31.8%,#9d191e 33.2%,#ed1e24 34.6%,#ee3324 34.9%,#f15922 35.1%,#fec10d 35.7%,#ffdf03 36%,#fee803 36.2%,#ffdb04 36.5%,#f47b20 37.1%,#ed2524 37.6%,#99181d 38.5%,#841217 39%,#8b1419 40.1%,#720d11 42.4%,#7d1014 43.5%,#6c0d10 44%,#361010 44.9%,#1e0a0a 46%,#300f0f 46.5%,#730d11 47.6%,#770e13 48.5%,#250c0c 50.4%,#120606 51.5%,#2e0e0e 53.2%,#720c11 55.4%,#7c1014 56.8%,#720d11 58.5%,#590f12 59.3%,#270d0d 62.4%,#100606 65.4%,#1f0b0b 67.6%,#710c11 72.4%,#7b0f14 74.3%,#720d11 77.6%,#4b1112 80.4%,#381010 83.8%,#491112)"></i><i style="top:107.94px;height:5.60px;background:linear-gradient(90deg,#861318,#811116 10.7%,#92161b 11.8%,#7c1014 13.2%,#92161b 14.6%,#7d1014 16%,#92161b 17.1%,#7c1014 18.5%,#92161b 19.9%,#7c1014 21.2%,#91161b 22.9%,#7d1014 24%,#861318 25.7%,#750e12 26.5%,#3b1111 27.9%,#330f0f 28.7%,#411212 29.6%,#861318 31.8%,#cc1e26 33.2%,#ec1c24 34.3%,#ee3324 34.9%,#f04e23 35.1%,#ffd207 36%,#ffd406 36.2%,#f78e1e 36.8%,#ef4023 37.4%,#ed2524 37.6%,#e01d25 37.9%,#ca1e26 38.5%,#cc1e26 39.9%,#92161b 41%,#7f1115 43.2%,#521012 44%,#310f0f 45.1%,#371010 45.7%,#740d11 46.8%,#770e12 47.4%,#260d0d 49.3%,#130707 50.4%,#2b0e0e 51.8%,#710c10 54%,#7b0f14 55.1%,#730d11 56.8%,#310f0f 59.9%,#110606 63.2%,#1f0b0b 65.4%,#700c10 69.9%,#7b0f14 71.8%,#710c10 74.9%,#4a1112 77.6%,#381010 80.7%,#551012)"></i><i style="top:112.94px;height:5.60px;background:linear-gradient(90deg,#861318,#7f1115 10.4%,#92161b 11.5%,#7c1014 12.9%,#92161b 14.3%,#7c1014 15.7%,#92161b 17.1%,#7c1014 18.5%,#92161b 19.6%,#7c1014 21%,#92161b 22.6%,#7c1014 23.8%,#851217 25.4%,#730d11 26.2%,#3f1212 27.4%,#330f0f 28.2%,#421212 29%,#710c10 30.1%,#8a1419 31.2%,#e01d25 32.9%,#ed1e24 34.3%,#ee3424 34.9%,#f57f20 36%,#f47c20 36.2%,#ee2a24 37.4%,#ed1c24 37.9%,#f04d23 39.6%,#ed2524 40.4%,#dd1d25 40.7%,#ab1c22 41.2%,#9c191e 42.4%,#4c1112 44.6%,#4e1012 45.1%,#760e12 46%,#760e12 46.5%,#310f0f 47.9%,#130606 49%,#280d0d 50.4%,#720d11 52.6%,#7b0f14 53.8%,#700c10 55.4%,#5a0f12 56%,#270d0d 58.8%,#110606 61.3%,#1e0a0a 63.2%,#700c10 67.4%,#7a0f14 69%,#720d11 72.1%,#441212 75.1%,#351010 77.9%,#6b0d10)"></i><i style="top:117.94px;height:5.60px;background:linear-gradient(90deg,#861318,#7e1015 10.4%,#92161b 11.5%,#7c1014 12.9%,#92161b 14%,#7c1014 15.4%,#92161b 16.8%,#7c1014 18.2%,#92161b 19.6%,#7c1014 21%,#92161b 22.4%,#7d1014 23.5%,#851217 25.1%,#720d11 26%,#3d1111 27.1%,#330f0f 27.9%,#8c1419 30.7%,#e31d25 32.4%,#ed1d24 33.5%,#ef3e23 35.4%,#ef3a24 36%,#eb1c24 36.8%,#eb1c24 37.6%,#ef3d23 38.2%,#f7901d 39%,#faa619 39.6%,#f58320 40.1%,#ed2024 41%,#c11d25 41.5%,#790f13 44%,#720d11 45.7%,#351010 46.8%,#150707 47.9%,#2d0e0e 49.3%,#710c10 51.2%,#7a0f14 52.4%,#710c10 53.8%,#5a0f12 54.3%,#290d0d 56.8%,#120606 59.3%,#1e0a0a 61%,#710c10 65.1%,#7a0f13 66.5%,#710c10 69.3%,#421212 72.4%,#340f0f 75.1%,#700c10 91.5%,#790f13)"></i><i style="top:122.94px;height:5.60px;background:linear-gradient(90deg,#861318,#861318 9.3%,#7c1014 10.1%,#92161b 11.2%,#7c1014 12.6%,#92161b 14%,#7c1014 15.4%,#92161b 16.5%,#7c1014 17.9%,#93161b 19.3%,#7c1014 20.7%,#92161b 22.1%,#7d1014 23.2%,#851217 24.9%,#710c10 25.7%,#441212 26.5%,#330f0f 27.4%,#401212 28.2%,#740d11 29.3%,#891419 30.1%,#e41d25 31.8%,#eb1c24 32.6%,#ee3924 34%,#ed2524 35.1%,#ed2124 36.2%,#bd1d24 36.8%,#bc1d24 37.1%,#e51c24 37.6%,#ee2f24 37.9%,#f05222 38.2%,#ffce08 39%,#ffe501 39.3%,#ffe801 39.6%,#ffdb04 39.9%,#fdbc0f 40.1%,#f7921d 40.4%,#ed1d24 41.2%,#d61d25 41.5%,#780f13 44.9%,#381010 46%,#1b0909 47.1%,#290d0d 47.9%,#720d11 49.9%,#7a0f14 50.7%,#720d11 52.1%,#551012 52.9%,#260d0d 55.1%,#110606 57.4%,#2a0d0d 59.6%,#710c10 62.6%,#7a0f13 64%,#720c11 66.5%,#431212 69.3%,#300f0f 72.1%,#710c10 83.5%,#851217)"></i><i style="top:127.93px;height:5.60px;background:linear-gradient(90deg,#861318,#861318 9%,#7c1014 9.9%,#92161b 11.2%,#7c1014 12.6%,#92161b 13.8%,#7c1014 15.1%,#92161b 16.5%,#7c1014 17.9%,#92161b 19%,#7c1014 20.4%,#92161b 21.8%,#7c1014 23.2%,#851217 24.6%,#710c11 25.4%,#441212 26.2%,#330f0f 27.1%,#421212 27.9%,#6d0c10 28.7%,#8f151a 29.9%,#e21d25 31.2%,#eb1c24 32.1%,#ee3824 33.2%,#ed2124 34.6%,#ee3424 36%,#ee2924 36.5%,#ab1c22 37.1%,#b71d24 37.4%,#d71d25 37.6%,#ee2924 37.9%,#f47c20 38.5%,#ffcf08 39%,#ffe501 39.3%,#ffe801 39.6%,#ffdb04 39.9%,#fdbd0f 40.1%,#f8951c 40.4%,#ee2924 41.2%,#e81c24 41.5%,#b01c23 43.5%,#6f0c10 44.9%,#560f12 45.1%,#310f0f 46.2%,#391010 47.1%,#710c10 48.5%,#790f13 49.6%,#720d11 50.4%,#290d0d 53.2%,#130707 55.1%,#1c0a0a 56.5%,#6d0c10 60.1%,#790f13 61.5%,#710c10 63.7%,#570f12 64.9%,#3c1111 67.1%,#320f0f 69.6%,#770e13 81%,#90151b)"></i><i style="top:132.93px;height:5.60px;background:linear-gradient(90deg,#861318,#871318 8.8%,#7c1014 9.9%,#92161b 11.2%,#7c1014 12.4%,#92161b 13.8%,#7c1014 15.1%,#92161b 16.2%,#7c1014 17.6%,#92161b 19%,#7c1014 20.4%,#92161b 21.5%,#7c1014 22.9%,#861318 24.3%,#730d11 25.1%,#3b1111 26.2%,#330f0f 26.8%,#431212 27.6%,#700c10 28.5%,#93161b 29.6%,#d01e26 30.4%,#e61c24 31%,#ed2024 31.8%,#ef3924 32.6%,#ed2024 33.8%,#ee3824 35.1%,#ed2624 36.5%,#e51c24 36.8%,#bb1d24 37.1%,#ab1c22 37.4%,#c21d25 37.6%,#ed1f24 37.9%,#f04a23 38.2%,#f8981c 39%,#fbac16 39.6%,#f68b1e 40.1%,#ef3f23 41%,#ed2124 41.8%,#e61c24 43.5%,#660d11 45.1%,#4d1112 45.7%,#570f12 46.5%,#720d11 47.1%,#790f13 48.2%,#6d0c10 49%,#2b0e0e 51.2%,#130606 53.2%,#1f0b0b 54.6%,#720d11 57.9%,#790f13 59%,#710c10 61%,#421212 63.5%,#330f0f 66%,#491112 71.5%,#6f0c10 75.1%,#841217 80.1%,#9b181e)"></i><i style="top:137.93px;height:5.60px;background:linear-gradient(90deg,#861318,#871318 8.8%,#7d1014 9.9%,#92161b 11%,#7c1014 12.4%,#92161b 13.5%,#7c1014 14.9%,#92161b 16.2%,#7d1014 17.6%,#92161b 18.8%,#7c1014 20.1%,#92161b 21.5%,#7c1014 22.6%,#881318 23.8%,#821216 24.3%,#740d12 24.9%,#3d1111 26%,#330f0f 26.5%,#421212 27.4%,#700c10 28.2%,#881318 29%,#e21d25 30.4%,#ed1c24 31.2%,#ee3824 32.1%,#ed2024 33.2%,#ee3724 34.3%,#ed2324 35.7%,#ee2924 36.8%,#ea1c24 37.1%,#c31e25 37.4%,#bf1d25 37.6%,#ed1e24 37.9%,#f04c23 38.2%,#f26421 38.5%,#f36921 38.8%,#f36b21 39.6%,#ef3a24 40.7%,#ee3024 41.2%,#f26421 42.6%,#f26621 43.2%,#e81c24 44.3%,#8a1419 45.1%,#7c1014 45.4%,#730d11 47.1%,#2f0e0e 49.3%,#160707 51.2%,#2b0e0e 52.9%,#6f0c10 55.4%,#770e13 56.5%,#700c10 58.2%,#590f12 59%,#3b1111 61.3%,#351010 62.9%,#7a0f14 73.5%,#97171d 80.1%,#a31a20)"></i><i style="top:142.92px;height:5.60px;background:linear-gradient(90deg,#861318,#881318 8.8%,#7c1014 9.6%,#92161b 11%,#7c1014 12.1%,#93161b 13.5%,#7c1014 14.9%,#92161b 16%,#7c1014 17.4%,#92161b 18.8%,#7c1014 19.9%,#92161b 21.2%,#7c1014 22.6%,#841217 24%,#6c0c10 24.9%,#3f1212 25.7%,#330f0f 26.5%,#411212 27.1%,#6f0c10 27.9%,#95171c 29%,#d61d25 29.9%,#e71c24 30.4%,#ed1e24 31%,#ef3924 31.8%,#ed2124 32.6%,#ee3824 33.8%,#ed2024 35.1%,#f04723 36.8%,#ef3f23 37.1%,#ed1d24 37.4%,#cc1e26 37.6%,#ed1e24 37.9%,#f04c23 38.2%,#f26421 38.5%,#f26921 38.8%,#f26122 40.1%,#ef3924 41.2%,#ef4023 41.5%,#f7911d 42.4%,#fcb512 42.9%,#faa21a 43.5%,#ed2524 44.6%,#d71d25 44.9%,#9c181e 45.4%,#5c0f12 46.5%,#240c0c 48.2%,#170808 49.3%,#2a0d0d 50.7%,#6e0c10 52.9%,#780e13 54%,#720d11 55.4%,#5b0f12 56.2%,#421212 58.2%,#3c1111 60.7%,#590f12 64.6%,#700c10 66%,#a81c22 78.8%,#b21c23 87.4%,#ab1c22)"></i><i style="top:147.92px;height:5.60px;background:linear-gradient(90deg,#861318,#881318 8.8%,#7c1014 9.6%,#92161b 11%,#7c1014 12.1%,#92161b 13.5%,#7c1014 14.6%,#92161b 16%,#7c1014 17.4%,#92161b 18.5%,#7c1014 19.9%,#92161b 21.2%,#7c1014 22.4%,#861318 23.8%,#720d11 24.6%,#431212 25.4%,#330f0f 26.2%,#3e1111 26.8%,#93161b 28.7%,#e31d25 29.9%,#ed1e24 30.7%,#ee3824 31.5%,#ed2024 32.4%,#ee3824 33.5%,#ed2224 34.6%,#f04723 36%,#ef3b24 37.1%,#e01d25 37.6%,#ed2024 37.9%,#f04c23 38.2%,#f26421 38.5%,#f26921 38.8%,#f26621 40.7%,#f15422 41.5%,#f26222 41.8%,#ffc50b 42.6%,#ffd506 43.2%,#fba917 43.8%,#ed2424 44.9%,#9a181d 46%,#6c0d10 47.1%,#491112 47.6%,#351010 48.5%,#750e12 51.2%,#700c10 53.2%,#580f12 54.6%,#551012 56.8%,#96171c 67.1%,#bb1d24 77.4%,#b21c23)"></i><i style="top:152.92px;height:5.60px;background:linear-gradient(90deg,#861318,#891419 8.5%,#7c1014 9.6%,#92161b 10.7%,#7c1014 12.1%,#92161b 13.2%,#7c1014 14.6%,#92161b 16%,#7c1014 17.1%,#92161b 18.5%,#7c1014 19.9%,#92161b 21%,#7c1014 22.4%,#841217 23.8%,#760e12 24.3%,#3d1111 25.4%,#330f0f 26%,#441212 26.8%,#730d11 27.6%,#8f151a 28.5%,#d21e26 29.3%,#e71c24 29.9%,#ed1e24 30.4%,#ef3924 31.2%,#ed1f24 32.1%,#ee3924 32.9%,#ed2024 34%,#f04823 35.1%,#ef3924 36.2%,#f15422 37.4%,#ee2924 37.9%,#f26421 38.5%,#f26821 41.8%,#f47421 42.1%,#fbaa17 42.6%,#febe0e 43.2%,#f99c1b 43.8%,#ee3524 44.9%,#ec1c24 45.4%,#ca1e26 46.5%,#7e1015 48.2%,#7d1015 53.8%,#93161c 57.4%,#9a181e 61.5%,#bc1d24 66.5%,#cf1e26 76.5%,#b81d24)"></i><i style="top:157.92px;height:5.60px;background:linear-gradient(90deg,#861318,#8b1419 8.5%,#7c1014 9.3%,#93161b 10.7%,#7c1014 12.1%,#92161b 13.2%,#7c1014 14.6%,#92161b 15.7%,#7c1014 17.1%,#92161b 18.5%,#7c1014 19.6%,#92161b 21%,#7c1014 22.1%,#871318 23.5%,#720d11 24.3%,#421212 25.1%,#330f0f 26%,#3f1212 26.5%,#6f0c10 27.4%,#8a1419 28.2%,#de1d25 29.3%,#e61c24 29.6%,#ec1c24 30.1%,#ef3924 31%,#ed2024 31.8%,#ee3924 32.6%,#ed2224 33.8%,#f04623 34.6%,#ef3c24 35.7%,#f57f20 37.1%,#f57e20 37.4%,#ef3a24 37.9%,#f26421 38.5%,#f26921 38.8%,#f36921 42.1%,#f57e20 43.2%,#ef3f23 44.9%,#ef3c23 46.5%,#ec1c24 47.4%,#b11c23 48.2%,#a21a20 49%,#d51d25 55.7%,#d21e26 61.5%,#e31d25 66.5%,#de1d25 79.3%,#bf1d25)"></i><i style="top:162.91px;height:5.60px;background:linear-gradient(90deg,#861318,#8b1419 8.5%,#7c1014 9.3%,#93161b 10.7%,#7c1014 11.8%,#92161b 13.2%,#7c1014 14.6%,#92161b 15.7%,#7c1014 17.1%,#92161b 18.2%,#7c1014 19.6%,#92161b 21%,#7c1014 22.1%,#851217 23.5%,#6e0c10 24.3%,#3e1111 25.1%,#330f0f 25.7%,#441212 26.5%,#740d11 27.4%,#90161b 28.2%,#e41d25 29.3%,#ed2224 30.1%,#ef3a24 30.7%,#ed2024 31.5%,#ef3924 32.4%,#ed2124 33.5%,#f04823 34.3%,#ee3824 35.1%,#f58120 36.2%,#f58320 36.5%,#f26521 37.4%,#ef4423 37.9%,#f26921 38.8%,#f26921 42.9%,#f26222 43.8%,#ef4323 44.9%,#f47820 46%,#f58120 46.5%,#f36b21 47.1%,#ee3124 47.9%,#ed2124 48.8%,#f04723 55.7%,#ee2f24 61.5%,#ee3124 66%,#ed2024 71.5%,#ed1c24 78.5%,#c51e25)"></i><i style="top:167.91px;height:5.60px;background:linear-gradient(90deg,#861318,#8b1419 8.5%,#7c1014 9.3%,#92161b 10.7%,#7c1014 11.8%,#92161b 13.2%,#7c1014 14.3%,#92161b 15.7%,#7c1014 17.1%,#92161b 18.2%,#7c1014 19.6%,#92161b 20.7%,#7c1014 22.1%,#841217 23.5%,#750e12 24%,#3c1111 25.1%,#330f0f 25.7%,#3d1111 26.2%,#881318 27.9%,#de1d25 29%,#ed1c24 29.9%,#ef3924 30.7%,#ed2024 31.5%,#ef3924 32.4%,#ed2124 33.2%,#f04823 34%,#ef3924 34.9%,#f47c20 35.7%,#f58320 36%,#f26122 36.8%,#f47b20 37.6%,#f15922 38.2%,#f26921 38.8%,#f26721 44%,#f15b22 45.1%,#f9a01a 46%,#fdbb10 46.5%,#fdb811 46.8%,#f6871f 47.6%,#f47521 48.2%,#f99e1a 52.4%,#f9a01a 55.4%,#f15e22 61.5%,#ee3024 71.5%,#ed1c24 82.4%,#cb1e26)"></i><i style="top:172.91px;height:5.60px;background:linear-gradient(90deg,#861318,#8c151a 8.2%,#7c1014 9.3%,#92161b 10.7%,#7c1014 11.8%,#92161b 13.2%,#7c1014 14.3%,#92161b 15.7%,#7c1014 16.8%,#92161b 18.2%,#7c1014 19.6%,#93161b 20.7%,#7d1015 21.8%,#821216 23.5%,#740d11 24%,#431212 24.9%,#330f0f 25.7%,#3f1212 26.2%,#700c10 27.1%,#8c141a 27.9%,#e21d25 29%,#ed2024 29.9%,#ef3924 30.4%,#ed2024 31.2%,#ef3a24 32.1%,#ed2024 32.9%,#f04623 33.8%,#ee3824 34.6%,#ef4523 34.9%,#f57e20 35.4%,#f58320 35.7%,#f26122 36.2%,#f26122 36.5%,#f9a01a 37.4%,#f99e1a 37.6%,#f26022 38.2%,#f26821 40.7%,#f15722 43.5%,#f47820 45.4%,#ffc70b 46.2%,#ffdc04 46.8%,#ffd506 47.9%,#ffe800 49%,#f7ee41 52.4%,#f6ec2c 55.4%,#ffe700 57.1%,#f78f1d 61.5%,#ef4023 71.5%,#ed1c24 84.6%,#ce1e26)"></i><i style="top:177.91px;height:5.60px;background:linear-gradient(90deg,#861318,#8d151a 8.2%,#7c1014 9.3%,#92161b 10.7%,#7c1014 11.8%,#92161b 13.2%,#7c1014 14.3%,#92161b 15.7%,#7c1014 16.8%,#92161b 18.2%,#7c1014 19.3%,#93161b 20.7%,#7d1014 21.8%,#881318 22.9%,#811116 23.5%,#720d11 24%,#421212 24.9%,#330f0f 25.7%,#411212 26.2%,#720d11 27.1%,#8f151a 27.9%,#e41d25 29%,#ed2324 29.9%,#ef3a24 30.4%,#ed1f24 31.2%,#ef3a24 32.1%,#ed2024 32.9%,#f04923 33.8%,#ef3d23 34.6%,#f47621 35.1%,#f5851f 35.4%,#f26422 36%,#f26122 36.2%,#f8971c 36.8%,#faa21a 37.1%,#f26322 37.9%,#f15b22 38.2%,#f26921 38.8%,#f26322 41%,#f15422 41.5%,#e61c24 42.6%,#da1d25 43.2%,#e41d25 43.5%,#ed2324 43.8%,#f47421 45.1%,#ffde03 46.5%,#fde90a 46.8%,#f9f283 48.5%,#fdf8c6 52.4%,#faf49c 55.4%,#fee803 59.6%,#fcb413 61.8%,#f04923 71.8%,#ed1c24 86.5%,#d11e26)"></i><i style="top:182.90px;height:5.60px;background:linear-gradient(90deg,#861318,#8d151a 8.2%,#7c1014 9.3%,#92161b 10.7%,#7c1014 11.8%,#92161b 13.2%,#7c1014 14.3%,#92161b 15.7%,#7c1014 16.8%,#92161b 18.2%,#7c1014 19.3%,#93161b 20.7%,#7d1014 21.8%,#861318 23.2%,#720d11 24%,#411212 24.9%,#330f0f 25.7%,#421212 26.2%,#730d11 27.1%,#90151b 27.9%,#e51c24 29%,#ea1c24 29.6%,#ef3a24 30.4%,#ed2024 31.2%,#ef3924 32.1%,#ed2124 32.9%,#f04923 33.8%,#ee3824 34.3%,#ef4123 34.6%,#f57e20 35.1%,#f58320 35.4%,#f15f22 36%,#f26821 36.2%,#faa319 36.8%,#f8991b 37.1%,#f26422 37.6%,#f26322 40.7%,#f05023 41.2%,#ed2124 41.8%,#ca1e26 42.1%,#630e11 42.6%,#401212 42.9%,#3e1111 43.2%,#570f12 43.5%,#ed1e24 44.3%,#f7901d 45.4%,#ffd905 46.2%,#fee906 46.5%,#fdf8cc 48.5%,#fffef7 52.4%,#fef9d8 55.4%,#f6ec2e 59.6%,#ffe601 60.7%,#ffca09 61.8%,#faa319 64.6%,#f04f23 71.8%,#ed2224 84.3%,#d21e26)"></i><i style="top:187.90px;height:5.60px;background:linear-gradient(90deg,#861318,#8d151a 8.2%,#7c1014 9.3%,#92161b 10.7%,#7c1014 11.8%,#92161b 13.2%,#7c1014 14.3%,#92161b 15.7%,#7c1014 16.8%,#92161b 18.2%,#7c1014 19.3%,#93161b 20.7%,#7d1014 21.8%,#861318 23.2%,#720d11 24%,#411212 24.9%,#330f0f 25.7%,#421212 26.2%,#730d11 27.1%,#90151b 27.9%,#e51c24 29%,#ea1c24 29.6%,#ef3a24 30.4%,#ed2024 31.2%,#ef3924 32.1%,#ed2124 32.9%,#f04923 33.8%,#ee3824 34.3%,#ef4123 34.6%,#f57e20 35.1%,#f58320 35.4%,#f15f22 36%,#f26821 36.2%,#faa319 36.8%,#f8991b 37.1%,#f26422 37.6%,#f26322 40.7%,#f05023 41.2%,#ed2124 41.8%,#ca1e26 42.1%,#630e11 42.6%,#401212 42.9%,#3e1111 43.2%,#570f12 43.5%,#ed1e24 44.3%,#f7901d 45.4%,#ffd905 46.2%,#fee906 46.5%,#fdf8cc 48.5%,#fffef7 52.4%,#fef9d8 55.4%,#f6ec2e 59.6%,#ffe601 60.7%,#ffca09 61.8%,#faa319 64.6%,#f04f23 71.8%,#ed2224 84.3%,#d21e26)"></i><i style="top:192.90px;height:5.60px;background:linear-gradient(90deg,#861318,#8d151a 8.2%,#7c1014 9.3%,#92161b 10.7%,#7c1014 11.8%,#92161b 13.2%,#7c1014 14.3%,#92161b 15.7%,#7c1014 16.8%,#92161b 18.2%,#7c1014 19.3%,#93161b 20.7%,#7d1014 21.8%,#881318 22.9%,#811116 23.5%,#720d11 24%,#421212 24.9%,#330f0f 25.7%,#411212 26.2%,#720d11 27.1%,#8f151a 27.9%,#e41d25 29%,#ed2324 29.9%,#ef3a24 30.4%,#ed1f24 31.2%,#ef3a24 32.1%,#ed2024 32.9%,#f04923 33.8%,#ef3d23 34.6%,#f47621 35.1%,#f5851f 35.4%,#f26422 36%,#f26122 36.2%,#f8971c 36.8%,#faa21a 37.1%,#f26322 37.9%,#f15b22 38.2%,#f26921 38.8%,#f26322 41%,#f15422 41.5%,#e61c24 42.6%,#da1d25 43.2%,#e41d25 43.5%,#ed2324 43.8%,#f47421 45.1%,#ffde03 46.5%,#fde90a 46.8%,#f9f283 48.5%,#fdf8c6 52.4%,#faf49c 55.4%,#fee803 59.6%,#fcb413 61.8%,#f04923 71.8%,#ed1c24 86.5%,#d11e26)"></i><i style="top:197.89px;height:5.60px;background:linear-gradient(90deg,#861318,#8c151a 8.2%,#7c1014 9.3%,#92161b 10.7%,#7c1014 11.8%,#92161b 13.2%,#7c1014 14.3%,#92161b 15.7%,#7c1014 16.8%,#92161b 18.2%,#7c1014 19.6%,#93161b 20.7%,#7d1015 21.8%,#821216 23.5%,#740d11 24%,#431212 24.9%,#330f0f 25.7%,#3f1212 26.2%,#700c10 27.1%,#8c141a 27.9%,#e21d25 29%,#ed2024 29.9%,#ef3924 30.4%,#ed2024 31.2%,#ef3a24 32.1%,#ed2024 32.9%,#f04623 33.8%,#ee3824 34.6%,#ef4523 34.9%,#f57e20 35.4%,#f58320 35.7%,#f26122 36.2%,#f26122 36.5%,#f9a01a 37.4%,#f99e1a 37.6%,#f26022 38.2%,#f26821 40.7%,#f15722 43.5%,#f47820 45.4%,#ffc70b 46.2%,#ffdc04 46.8%,#ffd506 47.9%,#ffe800 49%,#f7ee41 52.4%,#f6ec2c 55.4%,#ffe700 57.1%,#f78f1d 61.5%,#ef4023 71.5%,#ed1c24 84.6%,#ce1e26)"></i><i style="top:202.89px;height:5.60px;background:linear-gradient(90deg,#861318,#8b1419 8.5%,#7c1014 9.3%,#92161b 10.7%,#7c1014 11.8%,#92161b 13.2%,#7c1014 14.3%,#92161b 15.7%,#7c1014 17.1%,#92161b 18.2%,#7c1014 19.6%,#92161b 20.7%,#7c1014 22.1%,#841217 23.5%,#750e12 24%,#3c1111 25.1%,#330f0f 25.7%,#3d1111 26.2%,#881318 27.9%,#de1d25 29%,#ed1c24 29.9%,#ef3924 30.7%,#ed2024 31.5%,#ef3924 32.4%,#ed2124 33.2%,#f04823 34%,#ef3924 34.9%,#f47c20 35.7%,#f58320 36%,#f26122 36.8%,#f47b20 37.6%,#f15922 38.2%,#f26921 38.8%,#f26721 44%,#f15b22 45.1%,#f9a01a 46%,#fdbb10 46.5%,#fdb811 46.8%,#f6871f 47.6%,#f47521 48.2%,#f99e1a 52.4%,#f9a01a 55.4%,#f15e22 61.5%,#ee3024 71.5%,#ed1c24 82.4%,#cb1e26)"></i><i style="top:207.89px;height:5.60px;background:linear-gradient(90deg,#861318,#8b1419 8.5%,#7c1014 9.3%,#93161b 10.7%,#7c1014 11.8%,#92161b 13.2%,#7c1014 14.6%,#92161b 15.7%,#7c1014 17.1%,#92161b 18.2%,#7c1014 19.6%,#92161b 21%,#7c1014 22.1%,#851217 23.5%,#6e0c10 24.3%,#3e1111 25.1%,#330f0f 25.7%,#441212 26.5%,#740d11 27.4%,#90161b 28.2%,#e41d25 29.3%,#ed2224 30.1%,#ef3a24 30.7%,#ed2024 31.5%,#ef3924 32.4%,#ed2124 33.5%,#f04823 34.3%,#ee3824 35.1%,#f58120 36.2%,#f58320 36.5%,#f26521 37.4%,#ef4423 37.9%,#f26921 38.8%,#f26921 42.9%,#f26222 43.8%,#ef4323 44.9%,#f47820 46%,#f58120 46.5%,#f36b21 47.1%,#ee3124 47.9%,#ed2124 48.8%,#f04723 55.7%,#ee2f24 61.5%,#ee3124 66%,#ed2024 71.5%,#ed1c24 78.5%,#c51e25)"></i><i style="top:212.89px;height:5.60px;background:linear-gradient(90deg,#861318,#8b1419 8.5%,#7c1014 9.3%,#93161b 10.7%,#7c1014 12.1%,#92161b 13.2%,#7c1014 14.6%,#92161b 15.7%,#7c1014 17.1%,#92161b 18.5%,#7c1014 19.6%,#92161b 21%,#7c1014 22.1%,#871318 23.5%,#720d11 24.3%,#421212 25.1%,#330f0f 26%,#3f1212 26.5%,#6f0c10 27.4%,#8a1419 28.2%,#de1d25 29.3%,#e61c24 29.6%,#ec1c24 30.1%,#ef3924 31%,#ed2024 31.8%,#ee3924 32.6%,#ed2224 33.8%,#f04623 34.6%,#ef3c24 35.7%,#f57f20 37.1%,#f57e20 37.4%,#ef3a24 37.9%,#f26421 38.5%,#f26921 38.8%,#f36921 42.1%,#f57e20 43.2%,#ef3f23 44.9%,#ef3c23 46.5%,#ec1c24 47.4%,#b11c23 48.2%,#a21a20 49%,#d51d25 55.7%,#d21e26 61.5%,#e31d25 66.5%,#de1d25 79.3%,#bf1d25)"></i><i style="top:217.88px;height:5.60px;background:linear-gradient(90deg,#861318,#891419 8.5%,#7c1014 9.6%,#92161b 10.7%,#7c1014 12.1%,#92161b 13.2%,#7c1014 14.6%,#92161b 16%,#7c1014 17.1%,#92161b 18.5%,#7c1014 19.9%,#92161b 21%,#7c1014 22.4%,#841217 23.8%,#760e12 24.3%,#3d1111 25.4%,#330f0f 26%,#441212 26.8%,#730d11 27.6%,#8f151a 28.5%,#d21e26 29.3%,#e71c24 29.9%,#ed1e24 30.4%,#ef3924 31.2%,#ed1f24 32.1%,#ee3924 32.9%,#ed2024 34%,#f04823 35.1%,#ef3924 36.2%,#f15422 37.4%,#ee2924 37.9%,#f26421 38.5%,#f26821 41.8%,#f47421 42.1%,#fbaa17 42.6%,#febe0e 43.2%,#f99c1b 43.8%,#ee3524 44.9%,#ec1c24 45.4%,#ca1e26 46.5%,#7e1015 48.2%,#7d1015 53.8%,#93161c 57.4%,#9a181e 61.5%,#bc1d24 66.5%,#cf1e26 76.5%,#b81d24)"></i><i style="top:222.88px;height:5.60px;background:linear-gradient(90deg,#861318,#881318 8.8%,#7c1014 9.6%,#92161b 11%,#7c1014 12.1%,#92161b 13.5%,#7c1014 14.6%,#92161b 16%,#7c1014 17.4%,#92161b 18.5%,#7c1014 19.9%,#92161b 21.2%,#7c1014 22.4%,#861318 23.8%,#720d11 24.6%,#431212 25.4%,#330f0f 26.2%,#3e1111 26.8%,#93161b 28.7%,#e31d25 29.9%,#ed1e24 30.7%,#ee3824 31.5%,#ed2024 32.4%,#ee3824 33.5%,#ed2224 34.6%,#f04723 36%,#ef3b24 37.1%,#e01d25 37.6%,#ed2024 37.9%,#f04c23 38.2%,#f26421 38.5%,#f26921 38.8%,#f26621 40.7%,#f15422 41.5%,#f26222 41.8%,#ffc50b 42.6%,#ffd506 43.2%,#fba917 43.8%,#ed2424 44.9%,#9a181d 46%,#6c0d10 47.1%,#491112 47.6%,#351010 48.5%,#750e12 51.2%,#700c10 53.2%,#580f12 54.6%,#551012 56.8%,#96171c 67.1%,#bb1d24 77.4%,#b21c23)"></i><i style="top:227.88px;height:5.60px;background:linear-gradient(90deg,#861318,#881318 8.8%,#7c1014 9.6%,#92161b 11%,#7c1014 12.1%,#93161b 13.5%,#7c1014 14.9%,#92161b 16%,#7c1014 17.4%,#92161b 18.8%,#7c1014 19.9%,#92161b 21.2%,#7c1014 22.6%,#841217 24%,#6c0c10 24.9%,#3f1212 25.7%,#330f0f 26.5%,#411212 27.1%,#6f0c10 27.9%,#95171c 29%,#d61d25 29.9%,#e71c24 30.4%,#ed1e24 31%,#ef3924 31.8%,#ed2124 32.6%,#ee3824 33.8%,#ed2024 35.1%,#f04723 36.8%,#ef3f23 37.1%,#ed1d24 37.4%,#cc1e26 37.6%,#ed1e24 37.9%,#f04c23 38.2%,#f26421 38.5%,#f26921 38.8%,#f26122 40.1%,#ef3924 41.2%,#ef4023 41.5%,#f7911d 42.4%,#fcb512 42.9%,#faa21a 43.5%,#ed2524 44.6%,#d71d25 44.9%,#9c181e 45.4%,#5c0f12 46.5%,#240c0c 48.2%,#170808 49.3%,#2a0d0d 50.7%,#6e0c10 52.9%,#780e13 54%,#720d11 55.4%,#5b0f12 56.2%,#421212 58.2%,#3c1111 60.7%,#590f12 64.6%,#700c10 66%,#a81c22 78.8%,#b21c23 87.4%,#ab1c22)"></i><i style="top:232.87px;height:5.60px;background:linear-gradient(90deg,#861318,#871318 8.8%,#7d1014 9.9%,#92161b 11%,#7c1014 12.4%,#92161b 13.5%,#7c1014 14.9%,#92161b 16.2%,#7d1014 17.6%,#92161b 18.8%,#7c1014 20.1%,#92161b 21.5%,#7c1014 22.6%,#881318 23.8%,#821216 24.3%,#740d12 24.9%,#3d1111 26%,#330f0f 26.5%,#421212 27.4%,#700c10 28.2%,#881318 29%,#e21d25 30.4%,#ed1c24 31.2%,#ee3824 32.1%,#ed2024 33.2%,#ee3724 34.3%,#ed2324 35.7%,#ee2924 36.8%,#ea1c24 37.1%,#c31e25 37.4%,#bf1d25 37.6%,#ed1e24 37.9%,#f04c23 38.2%,#f26421 38.5%,#f36921 38.8%,#f36b21 39.6%,#ef3a24 40.7%,#ee3024 41.2%,#f26421 42.6%,#f26621 43.2%,#e81c24 44.3%,#8a1419 45.1%,#7c1014 45.4%,#730d11 47.1%,#2f0e0e 49.3%,#160707 51.2%,#2b0e0e 52.9%,#6f0c10 55.4%,#770e13 56.5%,#700c10 58.2%,#590f12 59%,#3b1111 61.3%,#351010 62.9%,#7a0f14 73.5%,#97171d 80.1%,#a31a20)"></i><i style="top:237.87px;height:5.60px;background:linear-gradient(90deg,#861318,#871318 8.8%,#7c1014 9.9%,#92161b 11.2%,#7c1014 12.4%,#92161b 13.8%,#7c1014 15.1%,#92161b 16.2%,#7c1014 17.6%,#92161b 19%,#7c1014 20.4%,#92161b 21.5%,#7c1014 22.9%,#861318 24.3%,#730d11 25.1%,#3b1111 26.2%,#330f0f 26.8%,#431212 27.6%,#700c10 28.5%,#93161b 29.6%,#d01e26 30.4%,#e61c24 31%,#ed2024 31.8%,#ef3924 32.6%,#ed2024 33.8%,#ee3824 35.1%,#ed2624 36.5%,#e51c24 36.8%,#bb1d24 37.1%,#ab1c22 37.4%,#c21d25 37.6%,#ed1f24 37.9%,#f04a23 38.2%,#f8981c 39%,#fbac16 39.6%,#f68b1e 40.1%,#ef3f23 41%,#ed2124 41.8%,#e61c24 43.5%,#660d11 45.1%,#4d1112 45.7%,#570f12 46.5%,#720d11 47.1%,#790f13 48.2%,#6d0c10 49%,#2b0e0e 51.2%,#130606 53.2%,#1f0b0b 54.6%,#720d11 57.9%,#790f13 59%,#710c10 61%,#421212 63.5%,#330f0f 66%,#491112 71.5%,#6f0c10 75.1%,#841217 80.1%,#9b181e)"></i><i style="top:242.87px;height:5.60px;background:linear-gradient(90deg,#861318,#861318 9%,#7c1014 9.9%,#92161b 11.2%,#7c1014 12.6%,#92161b 13.8%,#7c1014 15.1%,#92161b 16.5%,#7c1014 17.9%,#92161b 19%,#7c1014 20.4%,#92161b 21.8%,#7c1014 23.2%,#851217 24.6%,#710c11 25.4%,#441212 26.2%,#330f0f 27.1%,#421212 27.9%,#6d0c10 28.7%,#8f151a 29.9%,#e21d25 31.2%,#eb1c24 32.1%,#ee3824 33.2%,#ed2124 34.6%,#ee3424 36%,#ee2924 36.5%,#ab1c22 37.1%,#b71d24 37.4%,#d71d25 37.6%,#ee2924 37.9%,#f47c20 38.5%,#ffcf08 39%,#ffe501 39.3%,#ffe801 39.6%,#ffdb04 39.9%,#fdbd0f 40.1%,#f8951c 40.4%,#ee2924 41.2%,#e81c24 41.5%,#b01c23 43.5%,#6f0c10 44.9%,#560f12 45.1%,#310f0f 46.2%,#391010 47.1%,#710c10 48.5%,#790f13 49.6%,#720d11 50.4%,#290d0d 53.2%,#130707 55.1%,#1c0a0a 56.5%,#6d0c10 60.1%,#790f13 61.5%,#710c10 63.7%,#570f12 64.9%,#3c1111 67.1%,#320f0f 69.6%,#770e13 81%,#90151b)"></i><i style="top:247.87px;height:5.60px;background:linear-gradient(90deg,#861318,#861318 9.3%,#7c1014 10.1%,#92161b 11.2%,#7c1014 12.6%,#92161b 14%,#7c1014 15.4%,#92161b 16.5%,#7c1014 17.9%,#93161b 19.3%,#7c1014 20.7%,#92161b 22.1%,#7d1014 23.2%,#851217 24.9%,#710c10 25.7%,#441212 26.5%,#330f0f 27.4%,#401212 28.2%,#740d11 29.3%,#891419 30.1%,#e41d25 31.8%,#eb1c24 32.6%,#ee3924 34%,#ed2524 35.1%,#ed2124 36.2%,#bd1d24 36.8%,#bc1d24 37.1%,#e51c24 37.6%,#ee2f24 37.9%,#f05222 38.2%,#ffce08 39%,#ffe501 39.3%,#ffe801 39.6%,#ffdb04 39.9%,#fdbc0f 40.1%,#f7921d 40.4%,#ed1d24 41.2%,#d61d25 41.5%,#780f13 44.9%,#381010 46%,#1b0909 47.1%,#290d0d 47.9%,#720d11 49.9%,#7a0f14 50.7%,#720d11 52.1%,#551012 52.9%,#260d0d 55.1%,#110606 57.4%,#2a0d0d 59.6%,#710c10 62.6%,#7a0f13 64%,#720c11 66.5%,#431212 69.3%,#300f0f 72.1%,#710c10 83.5%,#851217)"></i><i style="top:252.86px;height:5.60px;background:linear-gradient(90deg,#861318,#7e1015 10.4%,#92161b 11.5%,#7c1014 12.9%,#92161b 14%,#7c1014 15.4%,#92161b 16.8%,#7c1014 18.2%,#92161b 19.6%,#7c1014 21%,#92161b 22.4%,#7d1014 23.5%,#851217 25.1%,#720d11 26%,#3d1111 27.1%,#330f0f 27.9%,#8c1419 30.7%,#e31d25 32.4%,#ed1d24 33.5%,#ef3e23 35.4%,#ef3a24 36%,#eb1c24 36.8%,#eb1c24 37.6%,#ef3d23 38.2%,#f7901d 39%,#faa619 39.6%,#f58320 40.1%,#ed2024 41%,#c11d25 41.5%,#790f13 44%,#720d11 45.7%,#351010 46.8%,#150707 47.9%,#2d0e0e 49.3%,#710c10 51.2%,#7a0f14 52.4%,#710c10 53.8%,#5a0f12 54.3%,#290d0d 56.8%,#120606 59.3%,#1e0a0a 61%,#710c10 65.1%,#7a0f13 66.5%,#710c10 69.3%,#421212 72.4%,#340f0f 75.1%,#700c10 91.5%,#790f13)"></i><i style="top:257.86px;height:5.60px;background:linear-gradient(90deg,#861318,#7f1115 10.4%,#92161b 11.5%,#7c1014 12.9%,#92161b 14.3%,#7c1014 15.7%,#92161b 17.1%,#7c1014 18.5%,#92161b 19.6%,#7c1014 21%,#92161b 22.6%,#7c1014 23.8%,#851217 25.4%,#730d11 26.2%,#3f1212 27.4%,#330f0f 28.2%,#421212 29%,#710c10 30.1%,#8a1419 31.2%,#e01d25 32.9%,#ed1e24 34.3%,#ee3424 34.9%,#f57f20 36%,#f47c20 36.2%,#ee2a24 37.4%,#ed1c24 37.9%,#f04d23 39.6%,#ed2524 40.4%,#dd1d25 40.7%,#ab1c22 41.2%,#9c191e 42.4%,#4c1112 44.6%,#4e1012 45.1%,#760e12 46%,#760e12 46.5%,#310f0f 47.9%,#130606 49%,#280d0d 50.4%,#720d11 52.6%,#7b0f14 53.8%,#700c10 55.4%,#5a0f12 56%,#270d0d 58.8%,#110606 61.3%,#1e0a0a 63.2%,#700c10 67.4%,#7a0f14 69%,#720d11 72.1%,#441212 75.1%,#351010 77.9%,#6b0d10)"></i><i style="top:262.86px;height:5.60px;background:linear-gradient(90deg,#861318,#811116 10.7%,#92161b 11.8%,#7c1014 13.2%,#92161b 14.6%,#7d1014 16%,#92161b 17.1%,#7c1014 18.5%,#92161b 19.9%,#7c1014 21.2%,#91161b 22.9%,#7d1014 24%,#861318 25.7%,#750e12 26.5%,#3b1111 27.9%,#330f0f 28.7%,#411212 29.6%,#861318 31.8%,#cc1e26 33.2%,#ec1c24 34.3%,#ee3324 34.9%,#f04e23 35.1%,#ffd207 36%,#ffd406 36.2%,#f78e1e 36.8%,#ef4023 37.4%,#ed2524 37.6%,#e01d25 37.9%,#ca1e26 38.5%,#cc1e26 39.9%,#92161b 41%,#7f1115 43.2%,#521012 44%,#310f0f 45.1%,#371010 45.7%,#740d11 46.8%,#770e12 47.4%,#260d0d 49.3%,#130707 50.4%,#2b0e0e 51.8%,#710c10 54%,#7b0f14 55.1%,#730d11 56.8%,#310f0f 59.9%,#110606 63.2%,#1f0b0b 65.4%,#700c10 69.9%,#7b0f14 71.8%,#710c10 74.9%,#4a1112 77.6%,#381010 80.7%,#551012)"></i><i style="top:267.86px;height:5.60px;background:linear-gradient(90deg,#861318,#841217 11%,#92161b 12.1%,#7c1014 13.5%,#92161b 14.6%,#7c1014 16%,#92161b 17.4%,#7c1014 18.8%,#92161b 20.1%,#7c1014 21.5%,#92161b 23.2%,#7d1015 24.3%,#831217 26.2%,#710c10 27.1%,#3d1111 28.2%,#2f0e0e 29%,#3d1111 30.1%,#730d11 31.8%,#9d191e 33.2%,#ed1e24 34.6%,#ee3324 34.9%,#f15922 35.1%,#fec10d 35.7%,#ffdf03 36%,#fee803 36.2%,#ffdb04 36.5%,#f47b20 37.1%,#ed2524 37.6%,#99181d 38.5%,#841217 39%,#8b1419 40.1%,#720d11 42.4%,#7d1014 43.5%,#6c0d10 44%,#361010 44.9%,#1e0a0a 46%,#300f0f 46.5%,#730d11 47.6%,#770e13 48.5%,#250c0c 50.4%,#120606 51.5%,#2e0e0e 53.2%,#720c11 55.4%,#7c1014 56.8%,#720d11 58.5%,#590f12 59.3%,#270d0d 62.4%,#100606 65.4%,#1f0b0b 67.6%,#710c11 72.4%,#7b0f14 74.3%,#720d11 77.6%,#4b1112 80.4%,#381010 83.8%,#491112)"></i><i style="top:272.85px;height:5.60px;background:linear-gradient(90deg,#861318,#861318 11.2%,#92161b 12.1%,#7c1014 13.5%,#92161b 14.9%,#7c1014 16.2%,#92161b 17.6%,#7c1014 19%,#92161b 20.4%,#7c1014 21.8%,#92161b 23.5%,#7c1014 24.9%,#831217 26.5%,#710c10 27.4%,#5d0f12 27.6%,#351010 28.7%,#2a0d0d 29.9%,#590f12 32.1%,#91161b 33.8%,#b11c23 34.3%,#ed2124 34.9%,#f68c1e 35.7%,#fbaf15 36.2%,#fbaa17 36.5%,#f7911d 36.8%,#e81c24 37.6%,#97171d 38.2%,#5b0f12 38.8%,#511012 39%,#5a0f12 39.6%,#720c11 39.9%,#811116 40.4%,#710c10 41.2%,#570f12 41.8%,#4c1112 42.6%,#531012 43.2%,#750d12 43.8%,#770e13 44.3%,#710c10 44.6%,#570f12 44.9%,#2a0d0d 45.7%,#150707 46.5%,#2e0e0e 47.4%,#6f0c10 48.5%,#790f13 49%,#6e0c10 49.9%,#590f12 50.1%,#2d0e0e 51.2%,#120606 52.6%,#2a0d0d 54.3%,#710c10 56.8%,#7b0f14 58.2%,#710c10 60.1%,#590f12 61%,#310f0f 63.5%,#110606 67.1%,#1a0909 69.3%,#590f12 73.8%,#6f0c10 74.6%,#7b0f14 77.1%,#710c11 80.4%,#4f1012 82.9%,#351010 87.1%,#3f1212)"></i><i style="top:277.85px;height:5.60px;background:linear-gradient(90deg,#861318,#861318 11.2%,#92161b 12.4%,#7c1014 13.8%,#92161b 15.1%,#7c1014 16.5%,#92161b 17.9%,#7b0f14 19.3%,#90161b 20.7%,#7b0f14 22.1%,#91161b 23.8%,#7a0f13 25.1%,#7e1015 26.8%,#330f0f 29%,#240c0c 30.4%,#421212 32.1%,#831216 34%,#ab1c22 34.6%,#e81c24 35.1%,#f05023 36%,#f05322 36.5%,#eb1c24 37.4%,#a31a20 37.9%,#4f1012 38.8%,#421212 39%,#491112 39.9%,#541012 40.1%,#700c10 40.4%,#7d1014 41%,#780e13 41.2%,#461112 42.1%,#361010 43.2%,#461112 43.8%,#710c10 44.3%,#7a0f13 44.9%,#750e12 45.1%,#240c0c 46.5%,#130606 47.4%,#2c0e0e 48.2%,#750e12 49.6%,#7a0f13 50.1%,#740d11 50.7%,#240c0c 52.6%,#110606 53.8%,#270d0d 55.4%,#710c10 58.2%,#7c1014 59.9%,#710c10 61.8%,#590f12 62.6%,#280d0d 66%,#100505 69.3%,#1d0a0a 71.8%,#710c10 77.1%,#7c1014 79.6%,#700c10 83.5%,#580f12 84.9%,#330f0f 89.9%,#371010)"></i><i style="top:282.85px;height:5.60px;background:linear-gradient(90deg,#861318,#861318 11.5%,#91161b 12.6%,#7c1014 14%,#92161b 15.4%,#7c1014 16.8%,#91161b 18.2%,#790f13 19.6%,#8c151a 21%,#780e13 22.6%,#8b1419 24%,#750d12 25.4%,#720d11 27.4%,#371010 29%,#1f0a0a 30.7%,#2b0e0e 31.8%,#4e1012 33.2%,#580f12 33.5%,#730d11 33.8%,#9f191f 34.9%,#d61d25 35.7%,#e41d25 36.2%,#c91e26 37.1%,#9b181e 37.6%,#790f13 38.5%,#3c1111 39.3%,#3d1111 40.1%,#5a0f12 40.7%,#750d12 41%,#7b0f14 41.2%,#700c10 41.8%,#531012 42.1%,#361010 42.6%,#270d0d 43.5%,#340f0f 44%,#710c10 44.9%,#7a0f13 45.4%,#6c0d10 46%,#280d0d 47.1%,#120606 47.9%,#250c0c 48.8%,#6e0c10 50.1%,#7a0f14 51%,#6c0d10 51.8%,#580f12 52.1%,#1f0b0b 53.8%,#110606 54.9%,#2d0e0e 56.8%,#700c10 59.3%,#7c1014 61%,#710c10 63.2%,#590f12 64%,#270d0d 67.6%,#100505 71%,#1e0a0a 73.8%,#720d11 79.3%,#7c1014 81.8%,#710c10 85.7%,#5a0f12 87.1%,#330f0f 92.4%,#300f0f)"></i><i style="top:287.84px;height:5.60px;background:linear-gradient(90deg,#861318,#8d151a 12.9%,#7c1014 14%,#92161b 15.7%,#7d1014 16.8%,#8f151a 18.5%,#750e12 19.9%,#841217 21.2%,#700c10 22.9%,#7f1115 24.6%,#5c0f12 26%,#5c0f12 27.4%,#280d0d 29.9%,#1c0a0a 31.2%,#2d0e0e 32.6%,#391010 32.9%,#750d12 33.5%,#811116 33.8%,#851217 34.9%,#9b181e 36%,#6e0c10 37.6%,#780f13 38.8%,#3b1111 39.6%,#2e0e0e 40.1%,#3b1111 40.7%,#770e12 41.5%,#760e12 42.1%,#3b1111 42.9%,#1c0a0a 43.8%,#2f0e0e 44.6%,#760e12 45.7%,#780f13 46.2%,#730d11 46.5%,#260d0d 47.9%,#130606 48.8%,#240c0c 49.6%,#730d11 51.2%,#7a0f13 51.8%,#720d11 52.6%,#551012 53.2%,#1f0b0b 54.9%,#110606 56%,#2a0d0d 57.9%,#5a0f12 60.1%,#700c10 60.7%,#7c1014 62.6%,#700c10 64.9%,#590f12 65.7%,#320f0f 68.5%,#110606 72.6%,#1a0909 75.4%,#580f12 80.4%,#700c10 81.5%,#7c1014 84.3%,#710c10 88.5%,#5a0f12 89.9%,#351010 94.9%,#2a0d0d)"></i><i style="top:292.84px;height:5.60px;background:linear-gradient(90deg,#861318,#881318 13.5%,#7c1014 14.3%,#92161b 15.7%,#7c1014 17.4%,#8a1419 18.8%,#6e0c10 20.1%,#7a0f13 21.8%,#570f12 23.2%,#5b0f12 23.8%,#700c10 24.3%,#710c10 25.1%,#4d1112 26.2%,#471112 27.9%,#1e0a0a 31.5%,#2b0e0e 32.4%,#431212 32.6%,#6e0c10 32.9%,#851317 33.5%,#7c1014 34.9%,#841217 36%,#750e12 36.5%,#5b0f12 36.8%,#431212 37.4%,#4f1012 37.9%,#780f13 38.5%,#7a0f13 39%,#6e0c10 39.3%,#3c1111 39.9%,#280d0d 40.4%,#310f0f 41%,#710c10 41.8%,#7b0f14 42.4%,#750d12 42.6%,#270d0d 43.8%,#150707 44.3%,#2c0e0e 45.1%,#740d11 46.2%,#7a0f14 46.8%,#6f0c10 47.4%,#570f12 47.6%,#230c0c 48.8%,#110606 49.6%,#2d0e0e 50.7%,#720d11 52.1%,#7b0f14 52.9%,#710c10 53.8%,#531012 54.3%,#260d0d 55.7%,#100606 57.1%,#270d0d 59%,#700c10 62.1%,#7c1014 64%,#700c10 66.5%,#590f12 67.4%,#330f0f 70.1%,#100606 74.6%,#170808 77.4%,#5a0f12 82.9%,#710c10 84%,#7c1014 86.8%,#710c10 91.2%,#421212 95.7%,#2c0e0e)"></i><i style="top:297.84px;height:5.60px;background:linear-gradient(90deg,#861318,#871318 13.5%,#7d1015 14.9%,#92161b 16.2%,#7a0f13 17.6%,#841217 19%,#720d11 19.9%,#590f12 20.4%,#680d11 22.1%,#4a1112 23.5%,#541012 25.4%,#3a1111 27.1%,#270d0d 31%,#391010 31.8%,#740d11 32.4%,#851317 32.9%,#750e12 34.9%,#7f1115 36.2%,#770e12 36.5%,#4b1112 37.1%,#3b1111 37.6%,#4f1012 38.2%,#780e13 38.8%,#7b0f14 39.3%,#710c10 39.6%,#531012 39.9%,#300f0f 40.4%,#250c0c 41%,#381010 41.5%,#750e12 42.4%,#7a0f14 42.6%,#720d11 43.2%,#340f0f 44%,#140707 44.9%,#2a0d0d 45.7%,#710c10 46.8%,#7a0f13 47.4%,#740d11 47.9%,#210b0b 49.6%,#120606 50.4%,#2c0e0e 51.5%,#6f0c10 52.9%,#7a0f14 53.8%,#740d11 54.6%,#2d0e0e 56.5%,#110606 58.2%,#2a0d0d 60.4%,#700c10 63.5%,#7c1014 65.4%,#720c11 67.9%,#580f12 69%,#310f0f 72.1%,#100606 76.8%,#190808 79.6%,#710c10 86.5%,#7b0f14 89%,#710c10 94%,#590f12 95.7%,#3a1111)"></i><i style="top:302.84px;height:5.60px;background:linear-gradient(90deg,#861318,#7f1115 15.1%,#92161b 16.5%,#760e12 17.9%,#790f13 19.6%,#551012 20.4%,#4b1112 21%,#501012 22.4%,#3c1111 24%,#431212 25.7%,#2e0e0e 27.6%,#2b0e0e 30.1%,#3b1111 31%,#720d11 31.5%,#841217 32.1%,#851217 33.5%,#6d0c10 34.9%,#811116 36.2%,#710c10 36.8%,#451112 37.4%,#3b1111 37.9%,#7d1015 39.3%,#740d11 39.9%,#330f0f 40.7%,#230c0c 41.2%,#300f0f 41.8%,#6d0c10 42.6%,#7b0f14 43.2%,#700c10 43.8%,#320f0f 44.6%,#130707 45.4%,#1b0909 46%,#6c0d10 47.4%,#7a0f14 47.9%,#710c10 48.8%,#590f12 49%,#280d0d 50.1%,#110606 51.2%,#2b0e0e 52.4%,#740d11 54%,#7b0f14 54.9%,#720d11 55.7%,#250c0c 57.9%,#100606 59.3%,#270d0d 61.5%,#700c10 64.9%,#7c1014 66.8%,#710c10 69.6%,#580f12 70.7%,#300f0f 74%,#0f0505 79%,#1b0909 82.1%,#590f12 87.6%,#700c10 88.8%,#790f13 90.7%,#740d11 96.2%,#4f1012)"></i><i style="top:307.83px;height:5.60px;background:linear-gradient(90deg,#861318,#851217 15.4%,#90161b 16.8%,#720d11 18.2%,#700c10 19.9%,#541012 20.4%,#401212 21.2%,#270d0d 28.5%,#371010 29.9%,#551012 30.4%,#730d11 30.7%,#831216 31.2%,#841217 33.5%,#5b0f12 35.1%,#7c1014 36%,#7f1115 36.5%,#3b1111 37.9%,#431212 38.5%,#780e13 39.3%,#7c1014 39.9%,#750e12 40.1%,#2b0e0e 41.2%,#240c0c 41.8%,#381010 42.4%,#730d11 43.2%,#7b0f14 43.8%,#690d11 44.3%,#230c0c 45.4%,#140707 46%,#1a0909 46.5%,#740d11 48.2%,#7b0f14 48.8%,#740d11 49.3%,#1d0a0a 51.2%,#110606 52.1%,#2a0d0d 53.2%,#720d11 54.9%,#7b0f14 55.7%,#700c10 56.8%,#541012 57.4%,#1f0a0a 59.3%,#100606 60.7%,#290d0d 62.9%,#700c10 66.2%,#7c1014 68.2%,#710c10 71.2%,#580f12 72.4%,#2e0e0e 76%,#0f0505 81.2%,#1f0b0b 84.6%,#740d11 91.8%,#7c1014 95.7%,#6f0c10)"></i><i style="top:312.83px;height:5.60px;background:linear-gradient(90deg,#861318,#8b1419 17.1%,#620e11 18.8%,#630e11 19.9%,#371010 21.5%,#290d0d 25.1%,#2d0e0e 28.5%,#3c1111 29%,#7a0f14 29.9%,#851317 30.4%,#841217 33.5%,#541012 35.1%,#770e12 36%,#811116 36.5%,#750e12 37.1%,#4d1112 37.6%,#3a1111 38.2%,#431212 38.8%,#770e13 39.6%,#7d1015 40.1%,#770e12 40.4%,#2e0e0e 41.5%,#220c0c 42.1%,#310f0f 42.6%,#770e12 43.8%,#7b0f14 44.3%,#750e12 44.6%,#2f0e0e 45.7%,#130606 46.5%,#230c0c 47.4%,#720d11 48.8%,#7b0f14 49.6%,#720c11 50.1%,#240c0c 51.8%,#110606 52.9%,#290d0d 54%,#700c10 55.7%,#7b0f14 56.5%,#740d11 57.6%,#320f0f 59.6%,#100606 61.5%,#1e0a0a 63.5%,#570f12 66.8%,#700c10 67.6%,#7d1014 70.1%,#700c10 72.9%,#580f12 74%,#260d0d 78.8%,#0f0505 83.5%,#1f0b0b 86.8%,#710c10 93.8%,#7a0f13)"></i><i style="top:317.83px;height:5.60px;background:linear-gradient(90deg,#861318,#871318 17.4%,#7d1014 18.2%,#590f12 19.3%,#521012 20.4%,#2e0e0e 22.1%,#270d0d 25.7%,#3f1212 27.4%,#730d11 28.5%,#841217 29.3%,#770e13 32.1%,#831217 33.5%,#720d11 34.3%,#5d0f12 34.6%,#501012 35.1%,#5d0f12 35.7%,#7b0f14 36.2%,#801116 36.8%,#720d11 37.4%,#491112 37.9%,#3a1111 38.5%,#441212 39%,#770e12 39.9%,#7d1015 40.4%,#6b0d10 41%,#320f0f 41.8%,#230c0c 42.4%,#2c0e0e 42.9%,#570f12 43.8%,#710c10 44%,#7c1014 44.6%,#730d11 45.1%,#2e0e0e 46.2%,#130707 47.1%,#220c0c 47.9%,#6d0c10 49.3%,#7b0f14 50.1%,#750d12 50.7%,#220c0c 52.6%,#110606 53.8%,#280d0d 54.9%,#740d11 56.8%,#7b0f14 57.9%,#720c11 58.8%,#580f12 59.3%,#240c0c 61.3%,#100505 62.9%,#290d0d 65.4%,#700c10 69%,#7b0f14 70.7%,#720d11 74.3%,#580f12 75.7%,#2e0e0e 79.6%,#0f0505 85.4%,#200b0b 89%,#710c10 96.2%,#7c1014)"></i><i style="top:322.82px;height:5.60px;background:linear-gradient(90deg,#861318,#861317 18.5%,#720d11 20.1%,#3f1212 21.8%,#300f0f 22.9%,#421212 25.4%,#570f12 26.2%,#750e12 26.8%,#831216 27.6%,#851217 30.1%,#710c11 32.1%,#831216 33.5%,#720d11 34.3%,#5e0e12 34.6%,#4f1012 35.1%,#570f12 35.7%,#7d1015 36.5%,#7f1115 37.1%,#6d0c10 37.6%,#461112 38.2%,#3a1111 38.8%,#451212 39.3%,#770e12 40.1%,#7e1015 40.7%,#710c10 41.2%,#351010 42.1%,#220c0c 42.9%,#3f1212 43.8%,#750e12 44.6%,#7c1014 45.1%,#710c10 45.7%,#580f12 46%,#210b0b 47.1%,#120606 47.9%,#2b0e0e 48.8%,#740d11 50.1%,#7b0f14 51%,#720d11 51.5%,#531012 52.1%,#200b0b 53.5%,#100606 54.6%,#300f0f 56%,#720d11 57.6%,#7b1014 58.5%,#700c10 59.9%,#561012 60.4%,#300f0f 61.8%,#100505 64%,#260d0d 66.5%,#700c10 70.4%,#7c1014 72.4%,#710c11 76%,#580f12 77.4%,#2d0e0e 81.5%,#0f0505 87.6%,#1e0a0a 91%,#590f12 97.1%,#700c10 98.5%,#770e12)"></i><i style="top:327.82px;height:5.60px;background:linear-gradient(90deg,#861318,#861318 19.6%,#790f13 23.2%,#851217 29.9%,#640e11 31.8%,#821216 33.5%,#740d11 34.3%,#551012 34.9%,#4f1012 35.4%,#5e0e12 36%,#720d11 36.2%,#811116 37.1%,#760e12 37.6%,#441212 38.5%,#3a1111 39%,#461112 39.6%,#770e12 40.4%,#7e1015 41%,#720d11 41.5%,#580f12 41.8%,#2d0e0e 42.6%,#220c0c 43.2%,#381010 44%,#6f0c10 44.9%,#7b0f14 45.7%,#6d0c10 46.2%,#551012 46.5%,#200b0b 47.6%,#130606 48.5%,#351010 49.6%,#720c11 50.7%,#7b0f14 51.5%,#6d0c10 52.4%,#590f12 52.6%,#260d0d 54%,#110606 55.1%,#260d0d 56.5%,#700c10 58.5%,#7c1014 59.6%,#730d11 60.7%,#2f0e0e 62.9%,#100505 65.1%,#280d0d 67.9%,#6f0c10 71.8%,#7c1014 74%,#710c10 77.6%,#5a0f12 78.8%,#300f0f 82.9%,#0f0505 89%,#1a0909 92.6%,#5e0e12)"></i><i style="top:332.82px;height:5.60px;background:linear-gradient(90deg,#861318,#861318 25.4%,#7b0f14 28.2%,#841217 29.9%,#730d11 31%,#580f12 31.8%,#821216 33.5%,#760e12 34.3%,#580f12 34.9%,#4f1012 35.4%,#580f12 36%,#760e12 36.5%,#801116 37.4%,#730d11 37.9%,#5a0f12 38.2%,#421212 38.8%,#3a1111 39.3%,#471112 39.9%,#770e12 40.7%,#7e1015 41.2%,#740d11 41.8%,#3d1111 42.6%,#220c0c 43.5%,#320f0f 44.3%,#730d11 45.4%,#7c1014 46%,#760e12 46.5%,#200b0b 48.2%,#120606 49%,#320f0f 50.1%,#6e0c10 51.2%,#7c1014 52.1%,#730d11 52.9%,#2c0e0e 54.6%,#100606 56%,#1e0a0a 57.1%,#6d0c10 59.3%,#7c1014 60.4%,#710c11 61.8%,#2e0e0e 64%,#100505 66.2%,#1e0a0a 68.5%,#590f12 72.4%,#700c10 73.2%,#7c1014 75.4%,#710c10 79.3%,#5a0f12 80.4%,#340f0f 84.3%,#100606 90.4%,#150707 94%,#471112)"></i><i style="top:337.82px;height:5.60px;background:linear-gradient(90deg,#861318,#861317 25.1%,#750e12 27.9%,#831217 29.9%,#541012 31.8%,#790f13 32.9%,#821116 33.8%,#4f1012 35.4%,#541012 36%,#720d11 36.5%,#811116 37.4%,#700c10 38.2%,#560f12 38.5%,#401212 39%,#3a1111 39.6%,#471112 40.1%,#760e12 41%,#7e1015 41.5%,#760e12 42.1%,#340f0f 43.2%,#220c0c 44%,#381010 44.9%,#760e12 46%,#7c1014 46.5%,#740d11 47.1%,#1f0b0b 48.8%,#120606 49.6%,#300f0f 50.7%,#740d11 52.1%,#7b0f14 52.9%,#700c10 53.8%,#5c0f12 54%,#2a0d0d 55.4%,#100606 56.8%,#250c0c 58.2%,#720d11 60.4%,#7c1014 61.5%,#6f0c10 62.9%,#570f12 63.5%,#2e0e0e 65.1%,#100505 67.4%,#210b0b 69.9%,#590f12 73.8%,#6f0c10 74.6%,#7d1014 77.4%,#700c10 81%,#5a0f12 82.1%,#3e1111 84.9%,#130707 91.2%,#120606 95.4%,#320f0f)"></i><i style="top:342.81px;height:5.60px;background:linear-gradient(90deg,#861318,#851217 25.1%,#700c10 27.6%,#831216 29.6%,#790f13 30.4%,#570f12 31.2%,#521012 31.8%,#780f13 32.9%,#821216 33.8%,#720d11 34.6%,#551012 35.1%,#4f1012 35.7%,#580f12 36.2%,#760e12 36.8%,#811116 37.6%,#760e12 38.2%,#531012 38.8%,#3a1111 39.6%,#3f1212 40.1%,#760e12 41.2%,#7e1015 41.8%,#770e12 42.4%,#371010 43.5%,#220c0c 44.3%,#320f0f 45.1%,#720d11 46.2%,#7c1014 47.1%,#720d11 47.6%,#4e1012 48.2%,#1e0a0a 49.3%,#110606 50.1%,#2e0e0e 51.2%,#720d11 52.6%,#7c1014 53.5%,#730d11 54.3%,#300f0f 56%,#100505 57.6%,#1d0a0a 58.8%,#710c10 61.3%,#7b0f14 62.1%,#730d11 63.7%,#2d0e0e 66.2%,#0f0505 68.8%,#2a0d0d 71.8%,#6f0c10 76%,#7d1014 79.6%,#700c10 82.6%,#411212 86.2%,#180808 92.1%,#0f0505 96.2%,#200b0b)"></i><i style="top:347.81px;height:5.60px;background:linear-gradient(90deg,#861318,#851217 24.9%,#630e11 27.6%,#821216 29.6%,#710c10 30.7%,#560f12 31.2%,#521012 31.8%,#780e13 32.9%,#821216 33.8%,#740d11 34.6%,#570f12 35.1%,#4f1012 35.7%,#551012 36.2%,#720d11 36.8%,#811116 37.6%,#740d11 38.5%,#501012 39%,#3a1111 39.9%,#3f1212 40.4%,#760e12 41.5%,#7e1015 42.1%,#6f0c10 42.9%,#560f12 43.2%,#300f0f 44%,#220c0c 44.9%,#381010 45.7%,#740d12 46.8%,#7c1014 47.4%,#700c10 48.2%,#580f12 48.5%,#280d0d 49.6%,#120606 50.7%,#2c0e0e 51.8%,#6f0c10 53.2%,#7b1014 54.3%,#710c10 55.1%,#531012 55.7%,#260d0d 57.1%,#100606 58.5%,#1d0a0a 59.6%,#6e0c10 62.1%,#7b0f14 63.2%,#710c10 64.9%,#590f12 65.4%,#1e0a0a 68.2%,#0f0505 70.1%,#2b0e0e 73.2%,#720d11 77.6%,#7c1014 81.2%,#710c10 84%,#421212 87.9%,#1c0a0a 93.2%,#130606)"></i><i style="top:352.81px;height:5.60px;background:linear-gradient(90deg,#861318,#851217 24.6%,#780e13 26%,#5a0f12 27.4%,#7b0f14 28.7%,#821216 29.6%,#6f0c10 30.7%,#561012 31.2%,#521012 31.8%,#710c10 32.6%,#821216 33.8%,#760e12 34.6%,#531012 35.4%,#4f1012 36%,#590f12 36.5%,#760e12 37.1%,#811116 37.9%,#710c10 38.8%,#4d1112 39.3%,#391010 40.1%,#401212 40.7%,#760e12 41.8%,#7f1015 42.4%,#720c11 43.2%,#3e1111 44%,#210b0b 45.1%,#320f0f 46%,#580f12 46.8%,#700c10 47.1%,#7d1014 47.9%,#6c0d10 48.8%,#560f12 49%,#1e0a0a 50.4%,#110606 51.2%,#2a0d0d 52.4%,#740d11 54%,#7c1014 54.9%,#740d11 55.7%,#1e0a0a 58.2%,#100505 59.3%,#1c0a0a 60.4%,#720d11 63.2%,#7b0f14 64%,#740d11 65.7%,#270d0d 68.8%,#0f0505 71.2%,#2d0e0e 74.6%,#6f0c10 78.8%,#7d1014 82.6%,#710c10 85.7%,#590f12 87.1%,#270d0d 93.2%,#0f0505)"></i><i style="top:357.81px;height:5.60px;background:linear-gradient(90deg,#861318,#841217 24.3%,#780f13 25.7%,#590f12 27.1%,#821216 29.3%,#750d12 30.4%,#5b0f12 31%,#521012 31.5%,#561012 32.1%,#700c10 32.6%,#821216 33.8%,#770e13 34.6%,#551012 35.4%,#4f1012 36%,#561012 36.5%,#790f13 37.4%,#801116 38.2%,#770e12 38.8%,#411212 39.9%,#391010 40.4%,#4a1112 41.2%,#760e12 42.1%,#7e1015 42.9%,#730d11 43.5%,#361010 44.6%,#220c0c 45.4%,#381010 46.5%,#730d11 47.6%,#7c1014 48.5%,#740d11 49%,#260d0d 50.7%,#110606 51.8%,#290d0d 52.9%,#720d11 54.6%,#7c1014 55.7%,#710c10 56.5%,#551012 57.1%,#230c0c 58.8%,#100505 60.1%,#290d0d 61.8%,#710c10 64%,#7c1014 65.1%,#720d11 66.8%,#2c0e0e 69.6%,#0f0505 72.4%,#2b0e0e 75.7%,#720d11 80.4%,#7c1014 84.3%,#700c10 87.4%,#590f12 88.8%,#2e0e0e 94%,#110606)"></i><i style="top:362.80px;height:13.60px;background:linear-gradient(90deg,#861318,#851217 24%,#7a0f13 25.4%,#5a0f12 27.1%,#821216 29.3%,#730d11 30.4%,#5a0f12 31%,#521012 31.5%,#561012 32.1%,#700c10 32.6%,#821216 33.8%,#720d11 34.9%,#570f12 35.4%,#4f1012 36%,#531012 36.5%,#760e12 37.4%,#811116 38.2%,#740d11 39%,#481112 39.9%,#391010 40.7%,#4b1112 41.5%,#760e12 42.4%,#7e1015 43.2%,#740d11 43.8%,#2e0e0e 45.1%,#210b0b 46%,#3e1111 47.1%,#6e0c10 47.9%,#7d1014 48.8%,#720d11 49.6%,#2e0e0e 51%,#110606 52.4%,#280d0d 53.5%,#710c10 55.1%,#7c1014 56.2%,#740d11 57.1%,#210b0b 59.6%,#0f0505 61%,#290d0d 62.6%,#700c10 64.9%,#7c1014 66%,#700c10 67.9%,#590f12 68.5%,#2a0d0d 70.7%,#0f0505 73.5%,#2a0d0d 76.8%,#700c10 81.5%,#7d1014 85.7%,#700c10 89%,#401212 93.2%,#170808)"></i></div></div>
<svg width="1996" height="2314" viewBox="0 0 1996 2314">
<defs><linearGradient id="cb" x1="0" y1="1" x2="0" y2="0"><stop offset="0.000" stop-color="#000000"/><stop offset="0.050" stop-color="#230c0c"/><stop offset="0.099" stop-color="#411212"/><stop offset="0.136" stop-color="#5a0f12"/><stop offset="0.150" stop-color="#700c10"/><stop offset="0.198" stop-color="#8a1419"/><stop offset="0.247" stop-color="#aa1c22"/><stop offset="0.297" stop-color="#cb1e26"/><stop offset="0.359" stop-color="#ed1c24"/><stop offset="0.413" stop-color="#ee3224"/><stop offset="0.495" stop-color="#f15a22"/><stop offset="0.565" stop-color="#f58220"/><stop offset="0.620" stop-color="#faa519"/><stop offset="0.670" stop-color="#ffc80a"/><stop offset="0.718" stop-color="#ffe800"/><stop offset="0.755" stop-color="#f6ec28"/><stop offset="0.866" stop-color="#faf396"/><stop offset="0.940" stop-color="#fefade"/><stop offset="1.000" stop-color="#fffffc"/></linearGradient><clipPath id="cpe"><rect x="779.8" y="579.7" width="463.1" height="406.1"/></clipPath><clipPath id="cpf"><rect x="1459.7" y="579.7" width="463.1" height="406.1"/></clipPath><filter id="vb" x="0" y="0" width="1" height="1" color-interpolation-filters="sRGB"><feGaussianBlur stdDeviation="0 1.4"/></filter></defs>
<ellipse cx="336.6" cy="244.3" rx="60.5" ry="54.7" fill="none" stroke="#fff" stroke-width="3" stroke-dasharray="14.5 5.5"/>
<rect x="105.9" y="41.6" width="463.1" height="406.1" fill="none" stroke="#3a1a1a" stroke-width="1"/>
<path d="M183.1 447.7v-4.5M183.1 41.6v4.5M337.5 447.7v-4.5M337.5 41.6v4.5M491.8 447.7v-4.5M491.8 41.6v4.5M105.9 447.7h4.5M569.0 447.7h-4.5M105.9 380.0h4.5M569.0 380.0h-4.5M105.9 312.3h4.5M569.0 312.3h-4.5M105.9 244.7h4.5M569.0 244.7h-4.5M105.9 177.0h4.5M569.0 177.0h-4.5M105.9 109.3h4.5M569.0 109.3h-4.5M105.9 41.6h4.5M569.0 41.6h-4.5" stroke="#2a1010" stroke-width="1" fill="none"/>
<text transform="translate(183.1,489.7)" font-size="31" text-anchor="middle" fill="#262626">-10</text>
<text transform="translate(337.5,489.7)" font-size="31" text-anchor="middle" fill="#262626">0</text>
<text transform="translate(491.8,489.7)" font-size="31" text-anchor="middle" fill="#262626">10</text>
<text transform="translate(94.9,460.9)" font-size="31" text-anchor="end" fill="#262626">-15</text>
<text transform="translate(94.9,393.2)" font-size="31" text-anchor="end" fill="#262626">-10</text>
<text transform="translate(94.9,325.5)" font-size="31" text-anchor="end" fill="#262626">-5</text>
<text transform="translate(94.9,257.9)" font-size="31" text-anchor="end" fill="#262626">0</text>
<text transform="translate(94.9,190.2)" font-size="31" text-anchor="end" fill="#262626">5</text>
<text transform="translate(94.9,122.5)" font-size="31" text-anchor="end" fill="#262626">10</text>
<text transform="translate(94.9,54.8)" font-size="31" text-anchor="end" fill="#262626">15</text>
<text transform="translate(336.0,531.0) scale(1.06,1)" font-size="32" text-anchor="middle" fill="#262626">x [<tspan font-family="'Liberation Serif','DejaVu Serif',serif" font-style="italic">μ</tspan>m]</text>
<text transform="translate(42.9,244.7) rotate(-90) scale(1.06,1)" font-size="32" text-anchor="middle" fill="#262626">y [<tspan font-family="'Liberation Serif','DejaVu Serif',serif" font-style="italic">μ</tspan>m]</text>
<rect x="582.7" y="41.6" width="27.3" height="406.1" fill="url(#cb)" stroke="#555" stroke-width="1"/>
<text transform="translate(618.5,56.5)" font-size="29" text-anchor="start" fill="#262626">4</text>
<text transform="translate(618.5,157.1)" font-size="29" text-anchor="start" fill="#262626">3</text>
<text transform="translate(618.5,257.8)" font-size="29" text-anchor="start" fill="#262626">2</text>
<text transform="translate(618.5,358.0)" font-size="29" text-anchor="start" fill="#262626">1</text>
<path d="M610.0 46.0h-3.5M610.0 146.6h-3.5M610.0 247.3h-3.5M610.0 347.5h-3.5" stroke="#333" stroke-width="1" fill="none"/>
<text transform="translate(595.9,26.4) scale(1.06,1)" font-size="26" text-anchor="middle" fill="#111">E [V/m]</text>
<ellipse cx="1011.2" cy="245.4" rx="75.2" ry="69.1" fill="none" stroke="#fff" stroke-width="3" stroke-dasharray="14.5 5.5"/>
<rect x="779.8" y="41.6" width="463.1" height="406.1" fill="none" stroke="#3a1a1a" stroke-width="1"/>
<path d="M857.0 447.7v-4.5M857.0 41.6v4.5M1011.3 447.7v-4.5M1011.3 41.6v4.5M1165.7 447.7v-4.5M1165.7 41.6v4.5M779.8 447.7h4.5M1242.9 447.7h-4.5M779.8 380.0h4.5M1242.9 380.0h-4.5M779.8 312.3h4.5M1242.9 312.3h-4.5M779.8 244.7h4.5M1242.9 244.7h-4.5M779.8 177.0h4.5M1242.9 177.0h-4.5M779.8 109.3h4.5M1242.9 109.3h-4.5M779.8 41.6h4.5M1242.9 41.6h-4.5" stroke="#2a1010" stroke-width="1" fill="none"/>
<text transform="translate(857.0,489.7)" font-size="31" text-anchor="middle" fill="#262626">-10</text>
<text transform="translate(1011.3,489.7)" font-size="31" text-anchor="middle" fill="#262626">0</text>
<text transform="translate(1165.7,489.7)" font-size="31" text-anchor="middle" fill="#262626">10</text>
<text transform="translate(768.8,460.9)" font-size="31" text-anchor="end" fill="#262626">-15</text>
<text transform="translate(768.8,393.2)" font-size="31" text-anchor="end" fill="#262626">-10</text>
<text transform="translate(768.8,325.5)" font-size="31" text-anchor="end" fill="#262626">-5</text>
<text transform="translate(768.8,257.9)" font-size="31" text-anchor="end" fill="#262626">0</text>
<text transform="translate(768.8,190.2)" font-size="31" text-anchor="end" fill="#262626">5</text>
<text transform="translate(768.8,122.5)" font-size="31" text-anchor="end" fill="#262626">10</text>
<text transform="translate(768.8,54.8)" font-size="31" text-anchor="end" fill="#262626">15</text>
<text transform="translate(1009.8,531.0) scale(1.06,1)" font-size="32" text-anchor="middle" fill="#262626">x [<tspan font-family="'Liberation Serif','DejaVu Serif',serif" font-style="italic">μ</tspan>m]</text>
<text transform="translate(716.8,244.7) rotate(-90) scale(1.06,1)" font-size="32" text-anchor="middle" fill="#262626">y [<tspan font-family="'Liberation Serif','DejaVu Serif',serif" font-style="italic">μ</tspan>m]</text>
<rect x="1256.6" y="41.6" width="27.3" height="406.1" fill="url(#cb)" stroke="#555" stroke-width="1"/>
<text transform="translate(1292.4,86.5)" font-size="29" text-anchor="start" fill="#262626">4</text>
<text transform="translate(1292.4,179.8)" font-size="29" text-anchor="start" fill="#262626">3</text>
<text transform="translate(1292.4,273.1)" font-size="29" text-anchor="start" fill="#262626">2</text>
<text transform="translate(1292.4,367.0)" font-size="29" text-anchor="start" fill="#262626">1</text>
<path d="M1283.9 76.0h-3.5M1283.9 169.3h-3.5M1283.9 262.6h-3.5M1283.9 356.5h-3.5" stroke="#333" stroke-width="1" fill="none"/>
<text transform="translate(1269.8,26.4) scale(1.06,1)" font-size="26" text-anchor="middle" fill="#111">E [V/m]</text>
<ellipse cx="1692.1" cy="246.0" rx="89.5" ry="82.6" fill="none" stroke="#fff" stroke-width="3" stroke-dasharray="14.5 5.5"/>
<rect x="1459.7" y="41.6" width="463.1" height="406.1" fill="none" stroke="#3a1a1a" stroke-width="1"/>
<path d="M1536.9 447.7v-4.5M1536.9 41.6v4.5M1691.2 447.7v-4.5M1691.2 41.6v4.5M1845.6 447.7v-4.5M1845.6 41.6v4.5M1459.7 447.7h4.5M1922.8 447.7h-4.5M1459.7 380.0h4.5M1922.8 380.0h-4.5M1459.7 312.3h4.5M1922.8 312.3h-4.5M1459.7 244.7h4.5M1922.8 244.7h-4.5M1459.7 177.0h4.5M1922.8 177.0h-4.5M1459.7 109.3h4.5M1922.8 109.3h-4.5M1459.7 41.6h4.5M1922.8 41.6h-4.5" stroke="#2a1010" stroke-width="1" fill="none"/>
<text transform="translate(1536.9,489.7)" font-size="31" text-anchor="middle" fill="#262626">-10</text>
<text transform="translate(1691.2,489.7)" font-size="31" text-anchor="middle" fill="#262626">0</text>
<text transform="translate(1845.6,489.7)" font-size="31" text-anchor="middle" fill="#262626">10</text>
<text transform="translate(1448.7,460.9)" font-size="31" text-anchor="end" fill="#262626">-15</text>
<text transform="translate(1448.7,393.2)" font-size="31" text-anchor="end" fill="#262626">-10</text>
<text transform="translate(1448.7,325.5)" font-size="31" text-anchor="end" fill="#262626">-5</text>
<text transform="translate(1448.7,257.9)" font-size="31" text-anchor="end" fill="#262626">0</text>
<text transform="translate(1448.7,190.2)" font-size="31" text-anchor="end" fill="#262626">5</text>
<text transform="translate(1448.7,122.5)" font-size="31" text-anchor="end" fill="#262626">10</text>
<text transform="translate(1448.7,54.8)" font-size="31" text-anchor="end" fill="#262626">15</text>
<text transform="translate(1689.8,531.0) scale(1.06,1)" font-size="32" text-anchor="middle" fill="#262626">x [<tspan font-family="'Liberation Serif','DejaVu Serif',serif" font-style="italic">μ</tspan>m]</text>
<text transform="translate(1396.7,244.7) rotate(-90) scale(1.06,1)" font-size="32" text-anchor="middle" fill="#262626">y [<tspan font-family="'Liberation Serif','DejaVu Serif',serif" font-style="italic">μ</tspan>m]</text>
<rect x="1936.5" y="41.6" width="27.3" height="406.1" fill="url(#cb)" stroke="#555" stroke-width="1"/>
<text transform="translate(1972.3,110.2)" font-size="29" text-anchor="start" fill="#262626">4</text>
<text transform="translate(1972.3,197.7)" font-size="29" text-anchor="start" fill="#262626">3</text>
<text transform="translate(1972.3,286.4)" font-size="29" text-anchor="start" fill="#262626">2</text>
<text transform="translate(1972.3,373.9)" font-size="29" text-anchor="start" fill="#262626">1</text>
<path d="M1963.8 99.7h-3.5M1963.8 187.2h-3.5M1963.8 275.9h-3.5M1963.8 363.4h-3.5" stroke="#333" stroke-width="1" fill="none"/>
<text transform="translate(1949.7,26.4) scale(1.06,1)" font-size="26" text-anchor="middle" fill="#111">E [V/m]</text>
<ellipse cx="338.1" cy="782.1" rx="105.5" ry="96.7" fill="none" stroke="#fff" stroke-width="3" stroke-dasharray="14.5 5.5"/>
<rect x="105.9" y="579.7" width="463.1" height="406.1" fill="none" stroke="#3a1a1a" stroke-width="1"/>
<path d="M183.1 985.8v-4.5M183.1 579.7v4.5M337.5 985.8v-4.5M337.5 579.7v4.5M491.8 985.8v-4.5M491.8 579.7v4.5M105.9 985.8h4.5M569.0 985.8h-4.5M105.9 918.1h4.5M569.0 918.1h-4.5M105.9 850.4h4.5M569.0 850.4h-4.5M105.9 782.8h4.5M569.0 782.8h-4.5M105.9 715.1h4.5M569.0 715.1h-4.5M105.9 647.4h4.5M569.0 647.4h-4.5M105.9 579.7h4.5M569.0 579.7h-4.5" stroke="#2a1010" stroke-width="1" fill="none"/>
<text transform="translate(183.1,1027.8)" font-size="31" text-anchor="middle" fill="#262626">-10</text>
<text transform="translate(337.5,1027.8)" font-size="31" text-anchor="middle" fill="#262626">0</text>
<text transform="translate(491.8,1027.8)" font-size="31" text-anchor="middle" fill="#262626">10</text>
<text transform="translate(94.9,999.0)" font-size="31" text-anchor="end" fill="#262626">-15</text>
<text transform="translate(94.9,931.3)" font-size="31" text-anchor="end" fill="#262626">-10</text>
<text transform="translate(94.9,863.6)" font-size="31" text-anchor="end" fill="#262626">-5</text>
<text transform="translate(94.9,796.0)" font-size="31" text-anchor="end" fill="#262626">0</text>
<text transform="translate(94.9,728.3)" font-size="31" text-anchor="end" fill="#262626">5</text>
<text transform="translate(94.9,660.6)" font-size="31" text-anchor="end" fill="#262626">10</text>
<text transform="translate(94.9,592.9)" font-size="31" text-anchor="end" fill="#262626">15</text>
<text transform="translate(336.0,1069.1) scale(1.06,1)" font-size="32" text-anchor="middle" fill="#262626">x [<tspan font-family="'Liberation Serif','DejaVu Serif',serif" font-style="italic">μ</tspan>m]</text>
<text transform="translate(42.9,782.8) rotate(-90) scale(1.06,1)" font-size="32" text-anchor="middle" fill="#262626">y [<tspan font-family="'Liberation Serif','DejaVu Serif',serif" font-style="italic">μ</tspan>m]</text>
<rect x="582.7" y="579.7" width="27.3" height="406.1" fill="url(#cb)" stroke="#555" stroke-width="1"/>
<text transform="translate(618.5,668.0)" font-size="29" text-anchor="start" fill="#262626">4</text>
<text transform="translate(618.5,750.9)" font-size="29" text-anchor="start" fill="#262626">3</text>
<text transform="translate(618.5,834.6)" font-size="29" text-anchor="start" fill="#262626">2</text>
<text transform="translate(618.5,917.2)" font-size="29" text-anchor="start" fill="#262626">1</text>
<path d="M610.0 657.5h-3.5M610.0 740.4h-3.5M610.0 824.1h-3.5M610.0 906.7h-3.5" stroke="#333" stroke-width="1" fill="none"/>
<text transform="translate(595.9,563.7) scale(1.06,1)" font-size="26" text-anchor="middle" fill="#111">E [V/m]</text>
<line x1="1159.0" y1="589.9" x2="1159.0" y2="985.8" stroke="#fff" stroke-width="4.2" stroke-dasharray="10.6 12.2"/>
<g clip-path="url(#cpe)"><path d="M1161.8 978.6L1163.9 979.4L1166.0 976.6L1168.1 977.4L1170.2 974.6L1172.2 975.3L1174.3 972.5L1176.4 973.3L1178.5 970.5L1180.6 971.3L1182.7 968.5L1184.8 969.3L1186.8 966.4L1188.9 967.2L1191.0 964.4L1193.1 965.2L1195.2 962.4L1195.4 953.5L1197.0 952.0L1197.6 943.0L1199.6 905.0L1201.4 860.0L1202.7 836.0L1203.6 829.5L1204.6 836.0L1205.9 860.0L1207.7 905.0L1209.7 943.0L1210.3 952.0L1211.9 953.5L1212.4 962.4L1214.3 965.1L1216.2 964.3L1218.1 967.0L1220.0 966.2L1221.8 968.9L1223.7 968.1L1225.6 970.8L1227.5 970.0L1229.4 972.8L1231.3 971.9L1233.2 974.6L1235.0 973.8L1236.9 976.5L1238.8 975.7L1240.7 978.4L1242.6 977.6" fill="none" stroke="#fff" stroke-width="3.2" stroke-linejoin="round" stroke-linecap="round"/></g>
<path d="M1170.9 893.4H1197.3M1185.1 882.6L1197.3 893.4L1185.1 904.2M1237.3 893.4H1210.9M1223.1 882.6L1210.9 893.4L1223.1 904.2" fill="none" stroke="#fff" stroke-width="3.3"/>
<text transform="translate(1200.3,825.5) scale(1.04,1)" font-size="19.3" text-anchor="middle" font-weight="bold" fill="#fff">FWHM</text>
<ellipse cx="1011.0" cy="780.6" rx="121.5" ry="112.3" fill="none" stroke="#fff" stroke-width="3" stroke-dasharray="14.5 5.5"/>
<rect x="779.8" y="579.7" width="463.1" height="406.1" fill="none" stroke="#3a1a1a" stroke-width="1"/>
<path d="M857.0 985.8v-4.5M857.0 579.7v4.5M1011.3 985.8v-4.5M1011.3 579.7v4.5M1165.7 985.8v-4.5M1165.7 579.7v4.5M779.8 985.8h4.5M1242.9 985.8h-4.5M779.8 918.1h4.5M1242.9 918.1h-4.5M779.8 850.4h4.5M1242.9 850.4h-4.5M779.8 782.8h4.5M1242.9 782.8h-4.5M779.8 715.1h4.5M1242.9 715.1h-4.5M779.8 647.4h4.5M1242.9 647.4h-4.5M779.8 579.7h4.5M1242.9 579.7h-4.5" stroke="#2a1010" stroke-width="1" fill="none"/>
<text transform="translate(857.0,1027.8)" font-size="31" text-anchor="middle" fill="#262626">-10</text>
<text transform="translate(1011.3,1027.8)" font-size="31" text-anchor="middle" fill="#262626">0</text>
<text transform="translate(1165.7,1027.8)" font-size="31" text-anchor="middle" fill="#262626">10</text>
<text transform="translate(768.8,999.0)" font-size="31" text-anchor="end" fill="#262626">-15</text>
<text transform="translate(768.8,931.3)" font-size="31" text-anchor="end" fill="#262626">-10</text>
<text transform="translate(768.8,863.6)" font-size="31" text-anchor="end" fill="#262626">-5</text>
<text transform="translate(768.8,796.0)" font-size="31" text-anchor="end" fill="#262626">0</text>
<text transform="translate(768.8,728.3)" font-size="31" text-anchor="end" fill="#262626">5</text>
<text transform="translate(768.8,660.6)" font-size="31" text-anchor="end" fill="#262626">10</text>
<text transform="translate(768.8,592.9)" font-size="31" text-anchor="end" fill="#262626">15</text>
<text transform="translate(1009.8,1069.1) scale(1.06,1)" font-size="32" text-anchor="middle" fill="#262626">x [<tspan font-family="'Liberation Serif','DejaVu Serif',serif" font-style="italic">μ</tspan>m]</text>
<text transform="translate(716.8,782.8) rotate(-90) scale(1.06,1)" font-size="32" text-anchor="middle" fill="#262626">y [<tspan font-family="'Liberation Serif','DejaVu Serif',serif" font-style="italic">μ</tspan>m]</text>
<rect x="1256.6" y="579.7" width="27.3" height="406.1" fill="url(#cb)" stroke="#555" stroke-width="1"/>
<text transform="translate(1292.4,596.5)" font-size="29" text-anchor="start" fill="#262626">5</text>
<text transform="translate(1292.4,676.7)" font-size="29" text-anchor="start" fill="#262626">4</text>
<text transform="translate(1292.4,757.4)" font-size="29" text-anchor="start" fill="#262626">3</text>
<text transform="translate(1292.4,838.1)" font-size="29" text-anchor="start" fill="#262626">2</text>
<text transform="translate(1292.4,918.4)" font-size="29" text-anchor="start" fill="#262626">1</text>
<path d="M1283.9 586.0h-3.5M1283.9 666.2h-3.5M1283.9 746.9h-3.5M1283.9 827.6h-3.5M1283.9 907.9h-3.5" stroke="#333" stroke-width="1" fill="none"/>
<text transform="translate(1269.8,563.7) scale(1.06,1)" font-size="26" text-anchor="middle" fill="#111">E [V/m]</text>
<line x1="1838.9" y1="589.9" x2="1838.9" y2="985.8" stroke="#fff" stroke-width="4.2" stroke-dasharray="10.6 12.2"/>
<g clip-path="url(#cpf)"><path d="M1843.7 979.3L1846.3 980.4L1848.9 976.3L1851.5 977.8L1854.2 973.3L1856.8 975.2L1859.4 970.3L1862.0 972.5L1864.6 967.4L1867.2 969.9L1869.9 964.4L1872.5 967.3L1875.1 961.4L1877.7 964.7L1879.5 960.0L1880.7 926.5L1882.2 960.5L1883.3 930.0L1885.6 814.0L1887.9 930.0L1889.1 960.5L1890.8 926.5L1892.1 960.0L1893.9 959.9L1896.1 965.8L1898.4 962.4L1900.6 967.9L1902.8 964.9L1905.1 970.1L1907.3 967.5L1909.5 972.2L1911.7 970.0L1914.0 974.4L1916.2 972.5L1918.4 976.5L1920.7 975.0L1922.9 978.7" fill="none" stroke="#fff" stroke-width="2.4" stroke-linejoin="round" stroke-linecap="round"/></g>
<path d="M1851.3 893.4H1878.2M1866.0 882.6L1878.2 893.4L1866.0 904.2M1917.7 893.4H1891.4M1903.6 882.6L1891.4 893.4L1903.6 904.2" fill="none" stroke="#fff" stroke-width="3.3"/>
<text transform="translate(1881.2,810.8) scale(1.04,1)" font-size="19.3" text-anchor="middle" font-weight="bold" fill="#fff">FWHM</text>
<ellipse cx="1691.4" cy="782.8" rx="121.8" ry="112.7" fill="none" stroke="#fff" stroke-width="3" stroke-dasharray="14.5 5.5"/>
<rect x="1459.7" y="579.7" width="463.1" height="406.1" fill="none" stroke="#3a1a1a" stroke-width="1"/>
<path d="M1536.9 985.8v-4.5M1536.9 579.7v4.5M1691.2 985.8v-4.5M1691.2 579.7v4.5M1845.6 985.8v-4.5M1845.6 579.7v4.5M1459.7 985.8h4.5M1922.8 985.8h-4.5M1459.7 918.1h4.5M1922.8 918.1h-4.5M1459.7 850.4h4.5M1922.8 850.4h-4.5M1459.7 782.8h4.5M1922.8 782.8h-4.5M1459.7 715.1h4.5M1922.8 715.1h-4.5M1459.7 647.4h4.5M1922.8 647.4h-4.5M1459.7 579.7h4.5M1922.8 579.7h-4.5" stroke="#2a1010" stroke-width="1" fill="none"/>
<text transform="translate(1536.9,1027.8)" font-size="31" text-anchor="middle" fill="#262626">-10</text>
<text transform="translate(1691.2,1027.8)" font-size="31" text-anchor="middle" fill="#262626">0</text>
<text transform="translate(1845.6,1027.8)" font-size="31" text-anchor="middle" fill="#262626">10</text>
<text transform="translate(1448.7,999.0)" font-size="31" text-anchor="end" fill="#262626">-15</text>
<text transform="translate(1448.7,931.3)" font-size="31" text-anchor="end" fill="#262626">-10</text>
<text transform="translate(1448.7,863.6)" font-size="31" text-anchor="end" fill="#262626">-5</text>
<text transform="translate(1448.7,796.0)" font-size="31" text-anchor="end" fill="#262626">0</text>
<text transform="translate(1448.7,728.3)" font-size="31" text-anchor="end" fill="#262626">5</text>
<text transform="translate(1448.7,660.6)" font-size="31" text-anchor="end" fill="#262626">10</text>
<text transform="translate(1448.7,592.9)" font-size="31" text-anchor="end" fill="#262626">15</text>
<text transform="translate(1689.8,1069.1) scale(1.06,1)" font-size="32" text-anchor="middle" fill="#262626">x [<tspan font-family="'Liberation Serif','DejaVu Serif',serif" font-style="italic">μ</tspan>m]</text>
<text transform="translate(1396.7,782.8) rotate(-90) scale(1.06,1)" font-size="32" text-anchor="middle" fill="#262626">y [<tspan font-family="'Liberation Serif','DejaVu Serif',serif" font-style="italic">μ</tspan>m]</text>
<rect x="1936.5" y="579.7" width="27.3" height="406.1" fill="url(#cb)" stroke="#555" stroke-width="1"/>
<text transform="translate(1972.3,616.6)" font-size="29" text-anchor="start" fill="#262626">5</text>
<text transform="translate(1972.3,692.7)" font-size="29" text-anchor="start" fill="#262626">4</text>
<text transform="translate(1972.3,768.8)" font-size="29" text-anchor="start" fill="#262626">3</text>
<text transform="translate(1972.3,844.9)" font-size="29" text-anchor="start" fill="#262626">2</text>
<text transform="translate(1972.3,921.0)" font-size="29" text-anchor="start" fill="#262626">1</text>
<path d="M1963.8 606.1h-3.5M1963.8 682.2h-3.5M1963.8 758.3h-3.5M1963.8 834.4h-3.5M1963.8 910.5h-3.5" stroke="#333" stroke-width="1" fill="none"/>
<text transform="translate(1949.7,563.7) scale(1.06,1)" font-size="26" text-anchor="middle" fill="#111">E [V/m]</text>
<text transform="translate(-1.0,35.8)" font-size="43" text-anchor="start" font-weight="bold" fill="#160a08">(a)</text>
<text transform="translate(665.0,35.8)" font-size="43" text-anchor="start" font-weight="bold" fill="#160a08">(b)</text>
<text transform="translate(1352.0,35.8)" font-size="43" text-anchor="start" font-weight="bold" fill="#160a08">(c)</text>
<text transform="translate(-1.0,570.8)" font-size="43" text-anchor="start" font-weight="bold" fill="#160a08">(d)</text>
<text transform="translate(665.0,570.8)" font-size="43" text-anchor="start" font-weight="bold" fill="#160a08">(e)</text>
<text transform="translate(1352.0,570.8)" font-size="43" text-anchor="start" font-weight="bold" fill="#160a08">(f)</text>
<rect x="206.7" y="1113.8" width="729.7" height="556.0" fill="#fff" stroke="#262626" stroke-width="2.2"/>
<text transform="translate(206.7,1727.0)" font-size="42" text-anchor="middle" fill="#262626">8</text>
<text transform="translate(389.1,1727.0)" font-size="42" text-anchor="middle" fill="#262626">10</text>
<text transform="translate(571.5,1727.0)" font-size="42" text-anchor="middle" fill="#262626">12</text>
<text transform="translate(753.9,1727.0)" font-size="42" text-anchor="middle" fill="#262626">14</text>
<text transform="translate(936.3,1727.0)" font-size="42" text-anchor="middle" fill="#262626">16</text>
<text transform="translate(194.7,1224.2)" font-size="42" text-anchor="end" fill="#262626">0.6</text>
<text transform="translate(194.7,1409.5)" font-size="42" text-anchor="end" fill="#262626">0.5</text>
<text transform="translate(194.7,1594.8)" font-size="42" text-anchor="end" fill="#262626">0.4</text>
<path d="M206.7 1669.8v-9M206.7 1113.8v9M389.1 1669.8v-9M389.1 1113.8v9M571.5 1669.8v-9M571.5 1113.8v9M753.9 1669.8v-9M753.9 1113.8v9M936.3 1669.8v-9M936.3 1113.8v9M206.7 1206.4h9M936.4 1206.4h-9M206.7 1391.7h9M936.4 1391.7h-9M206.7 1577.0h9M936.4 1577.0h-9" stroke="#262626" stroke-width="2.2" fill="none"/>
<text transform="translate(566.5,1783.1)" font-size="44" text-anchor="middle" fill="#262626">Diameter [<tspan font-family="'Liberation Serif','DejaVu Serif',serif" font-style="italic">μ</tspan>m]</text>
<text transform="translate(118.7,1391.8) rotate(-90)" font-size="44" text-anchor="middle" fill="#262626">FWHM [<tspan font-family="'Liberation Serif','DejaVu Serif',serif" font-style="italic">μ</tspan>m]</text>
<circle cx="206.7" cy="1280.5" r="11.3" fill="#ed1c24"/>
<circle cx="389.1" cy="1243.5" r="11.3" fill="#ed1c24"/>
<circle cx="571.5" cy="1243.5" r="11.3" fill="#ed1c24"/>
<circle cx="753.9" cy="1243.5" r="11.3" fill="#ed1c24"/>
<circle cx="936.3" cy="1206.4" r="11.3" fill="#ed1c24"/>
<rect x="198.4" y="1568.7" width="16.6" height="16.6" fill="#ed1c24"/>
<rect x="380.8" y="1531.6" width="16.6" height="16.6" fill="#ed1c24"/>
<rect x="563.2" y="1457.5" width="16.6" height="16.6" fill="#ed1c24"/>
<rect x="745.6" y="1457.5" width="16.6" height="16.6" fill="#ed1c24"/>
<rect x="928.0" y="1383.4" width="16.6" height="16.6" fill="#ed1c24"/>
<line x1="207.7" y1="1274.0" x2="935.3" y2="1213.8" stroke="#000" stroke-width="3.6"/>
<line x1="207.7" y1="1577.0" x2="936.3" y2="1397.6" stroke="#000" stroke-width="3.6" stroke-dasharray="16.5 16.3"/>
<rect x="1203.8" y="1113.8" width="753.8" height="556.0" fill="#fff" stroke="#262626" stroke-width="2.2"/>
<text transform="translate(1203.8,1727.0)" font-size="42" text-anchor="middle" fill="#262626">8</text>
<text transform="translate(1392.2,1727.0)" font-size="42" text-anchor="middle" fill="#262626">10</text>
<text transform="translate(1580.7,1727.0)" font-size="42" text-anchor="middle" fill="#262626">12</text>
<text transform="translate(1769.1,1727.0)" font-size="42" text-anchor="middle" fill="#262626">14</text>
<text transform="translate(1957.6,1727.0)" font-size="42" text-anchor="middle" fill="#262626">16</text>
<text transform="translate(1191.8,1174.0)" font-size="42" text-anchor="end" fill="#262626">1.5</text>
<text transform="translate(1191.8,1387.6)" font-size="42" text-anchor="end" fill="#262626">1</text>
<text transform="translate(1191.8,1601.1)" font-size="42" text-anchor="end" fill="#262626">0.5</text>
<path d="M1203.8 1669.8v-9M1203.8 1113.8v9M1392.2 1669.8v-9M1392.2 1113.8v9M1580.7 1669.8v-9M1580.7 1113.8v9M1769.1 1669.8v-9M1769.1 1113.8v9M1957.6 1669.8v-9M1957.6 1113.8v9M1203.8 1156.2h9M1957.6 1156.2h-9M1203.8 1369.8h9M1957.6 1369.8h-9M1203.8 1583.3h9M1957.6 1583.3h-9" stroke="#262626" stroke-width="2.2" fill="none"/>
<text transform="translate(1575.7,1783.1)" font-size="44" text-anchor="middle" fill="#262626">Diameter [<tspan font-family="'Liberation Serif','DejaVu Serif',serif" font-style="italic">μ</tspan>m]</text>
<text transform="translate(1115.8,1391.8) rotate(-90)" font-size="44" text-anchor="middle" fill="#262626">Focal Point [<tspan font-family="'Liberation Serif','DejaVu Serif',serif" font-style="italic">μ</tspan>m]</text>
<circle cx="1203.8" cy="1602.6" r="11.3" fill="#3953a4"/>
<circle cx="1392.2" cy="1493.7" r="11.3" fill="#3953a4"/>
<circle cx="1580.7" cy="1399.7" r="11.3" fill="#3953a4"/>
<circle cx="1769.1" cy="1305.7" r="11.3" fill="#3953a4"/>
<circle cx="1957.6" cy="1190.4" r="11.3" fill="#3953a4"/>
<rect x="1195.5" y="1600.7" width="16.6" height="16.6" fill="#3953a4"/>
<rect x="1383.9" y="1498.2" width="16.6" height="16.6" fill="#3953a4"/>
<rect x="1572.4" y="1404.2" width="16.6" height="16.6" fill="#3953a4"/>
<rect x="1760.8" y="1314.5" width="16.6" height="16.6" fill="#3953a4"/>
<rect x="1949.3" y="1220.6" width="16.6" height="16.6" fill="#3953a4"/>
<line x1="1204.8" y1="1599.6" x2="1956.6" y2="1196.8" stroke="#000" stroke-width="3.6"/>
<line x1="1204.8" y1="1602.6" x2="1957.6" y2="1226.7" stroke="#000" stroke-width="3.6" stroke-dasharray="16.5 16.3"/>
<text transform="translate(114.5,1134.0)" font-size="42" text-anchor="start" font-weight="bold" fill="#160a08">(g)</text>
<text transform="translate(1081.0,1134.0)" font-size="42" text-anchor="start" font-weight="bold" fill="#160a08">(h)</text>
<ellipse cx="323.6" cy="2050.1" rx="116.2" ry="136.5" fill="none" stroke="#fff" stroke-width="2.8" stroke-dasharray="18 4.5"/>
<rect x="158.9" y="1873.7" width="725.4" height="350.3" fill="none" stroke="#3a1a1a" stroke-width="1"/>
<text transform="translate(214.6,2261.8)" font-size="26.5" text-anchor="middle" fill="#262626">-2</text>
<text transform="translate(326.2,2261.8)" font-size="26.5" text-anchor="middle" fill="#262626">0</text>
<text transform="translate(437.8,2261.8)" font-size="26.5" text-anchor="middle" fill="#262626">2</text>
<text transform="translate(549.4,2261.8)" font-size="26.5" text-anchor="middle" fill="#262626">4</text>
<text transform="translate(661.0,2261.8)" font-size="26.5" text-anchor="middle" fill="#262626">6</text>
<text transform="translate(772.6,2261.8)" font-size="26.5" text-anchor="middle" fill="#262626">8</text>
<text transform="translate(884.2,2261.8)" font-size="26.5" text-anchor="middle" fill="#262626">10</text>
<text transform="translate(150.1,1919.5)" font-size="26.5" text-anchor="end" fill="#262626">2</text>
<text transform="translate(150.1,1989.5)" font-size="26.5" text-anchor="end" fill="#262626">1</text>
<text transform="translate(150.1,2059.5)" font-size="26.5" text-anchor="end" fill="#262626">0</text>
<text transform="translate(150.1,2129.5)" font-size="26.5" text-anchor="end" fill="#262626">-1</text>
<text transform="translate(150.1,2199.5)" font-size="26.5" text-anchor="end" fill="#262626">-2</text>
<path d="M214.6 2224.0v-5M214.6 1873.7v5M326.2 2224.0v-5M326.2 1873.7v5M437.8 2224.0v-5M437.8 1873.7v5M549.4 2224.0v-5M549.4 1873.7v5M661.0 2224.0v-5M661.0 1873.7v5M772.6 2224.0v-5M772.6 1873.7v5M884.2 2224.0v-5M884.2 1873.7v5M158.9 1908.3h5M884.3 1908.3h-5M158.9 1978.3h5M884.3 1978.3h-5M158.9 2048.3h5M884.3 2048.3h-5M158.9 2118.3h5M884.3 2118.3h-5M158.9 2188.3h5M884.3 2188.3h-5" stroke="#2a1010" stroke-width="1" fill="none"/>
<rect x="912.2" y="1873.7" width="24.7" height="350.3" fill="url(#cb)" stroke="#555" stroke-width="1"/>
<text transform="translate(944.9,1896.3)" font-size="26.5" text-anchor="start" fill="#262626">3</text>
<text transform="translate(944.9,1953.6)" font-size="26.5" text-anchor="start" fill="#262626">2.5</text>
<text transform="translate(944.9,2011.0)" font-size="26.5" text-anchor="start" fill="#262626">2</text>
<text transform="translate(944.9,2068.3)" font-size="26.5" text-anchor="start" fill="#262626">1.5</text>
<text transform="translate(944.9,2125.7)" font-size="26.5" text-anchor="start" fill="#262626">1</text>
<text transform="translate(944.9,2183.0)" font-size="26.5" text-anchor="start" fill="#262626">0.5</text>
<path d="M936.9 1886.8h-3.5M936.9 1944.1h-3.5M936.9 2001.5h-3.5M936.9 2058.8h-3.5M936.9 2116.2h-3.5M936.9 2173.5h-3.5" stroke="#333" stroke-width="1" fill="none"/>
<text transform="translate(520.5,2304.0) scale(1.06,1)" font-size="34" text-anchor="middle" fill="#262626">x [<tspan font-family="'Liberation Serif','DejaVu Serif',serif" font-style="italic">μ</tspan>m]</text>
<text transform="translate(113.7,2048.5) rotate(-90) scale(1.06,1)" font-size="29" text-anchor="middle" fill="#262626">y [<tspan font-family="'Liberation Serif','DejaVu Serif',serif" font-style="italic">μ</tspan>m]</text>
<text transform="translate(930.0,1864.0) scale(1.06,1)" font-size="22" text-anchor="middle" fill="#111">E [V/m]</text>
<text transform="translate(114.3,1876.6)" font-size="42.5" text-anchor="start" font-weight="bold" fill="#160a08">(i)</text>
<ellipse cx="1342.2" cy="2056.2" rx="118.9" ry="138.9" fill="none" stroke="#fff" stroke-width="2.8" stroke-dasharray="18 4.5"/>
<rect x="1169.6" y="1874.7" width="745.4" height="359.8" fill="none" stroke="#3a1a1a" stroke-width="1"/>
<text transform="translate(1227.0,2272.3)" font-size="26.5" text-anchor="middle" fill="#262626">-2</text>
<text transform="translate(1341.6,2272.3)" font-size="26.5" text-anchor="middle" fill="#262626">0</text>
<text transform="translate(1456.2,2272.3)" font-size="26.5" text-anchor="middle" fill="#262626">2</text>
<text transform="translate(1570.8,2272.3)" font-size="26.5" text-anchor="middle" fill="#262626">4</text>
<text transform="translate(1685.4,2272.3)" font-size="26.5" text-anchor="middle" fill="#262626">6</text>
<text transform="translate(1800.0,2272.3)" font-size="26.5" text-anchor="middle" fill="#262626">8</text>
<text transform="translate(1914.6,2272.3)" font-size="26.5" text-anchor="middle" fill="#262626">10</text>
<text transform="translate(1160.8,1921.8)" font-size="26.5" text-anchor="end" fill="#262626">2</text>
<text transform="translate(1160.8,1993.8)" font-size="26.5" text-anchor="end" fill="#262626">1</text>
<text transform="translate(1160.8,2065.8)" font-size="26.5" text-anchor="end" fill="#262626">0</text>
<text transform="translate(1160.8,2137.8)" font-size="26.5" text-anchor="end" fill="#262626">-1</text>
<text transform="translate(1160.8,2209.8)" font-size="26.5" text-anchor="end" fill="#262626">-2</text>
<path d="M1227.0 2234.5v-5M1227.0 1874.7v5M1341.6 2234.5v-5M1341.6 1874.7v5M1456.2 2234.5v-5M1456.2 1874.7v5M1570.8 2234.5v-5M1570.8 1874.7v5M1685.4 2234.5v-5M1685.4 1874.7v5M1800.0 2234.5v-5M1800.0 1874.7v5M1914.6 2234.5v-5M1914.6 1874.7v5M1169.6 1910.6h5M1915.0 1910.6h-5M1169.6 1982.6h5M1915.0 1982.6h-5M1169.6 2054.6h5M1915.0 2054.6h-5M1169.6 2126.6h5M1915.0 2126.6h-5M1169.6 2198.6h5M1915.0 2198.6h-5" stroke="#2a1010" stroke-width="1" fill="none"/>
<rect x="1941.8" y="1874.7" width="25.8" height="359.8" fill="url(#cb)" stroke="#555" stroke-width="1"/>
<text transform="translate(1975.6,1944.2)" font-size="26.5" text-anchor="start" fill="#262626">4</text>
<text transform="translate(1975.6,2021.5)" font-size="26.5" text-anchor="start" fill="#262626">3</text>
<text transform="translate(1975.6,2098.8)" font-size="26.5" text-anchor="start" fill="#262626">2</text>
<text transform="translate(1975.6,2175.1)" font-size="26.5" text-anchor="start" fill="#262626">1</text>
<path d="M1967.6 1934.7h-3.5M1967.6 2012.0h-3.5M1967.6 2089.3h-3.5M1967.6 2165.6h-3.5" stroke="#333" stroke-width="1" fill="none"/>
<text transform="translate(1549.0,2310.0) scale(1.06,1)" font-size="35" text-anchor="middle" fill="#262626">x [<tspan font-family="'Liberation Serif','DejaVu Serif',serif" font-style="italic">μ</tspan>m]</text>
<text transform="translate(1125.5,2054.7) rotate(-90) scale(1.06,1)" font-size="30.5" text-anchor="middle" fill="#262626">y [<tspan font-family="'Liberation Serif','DejaVu Serif',serif" font-style="italic">μ</tspan>m]</text>
<text transform="translate(1960.0,1864.0) scale(1.06,1)" font-size="22" text-anchor="middle" fill="#111">E [V/m]</text>
<text transform="translate(1082.5,1876.6)" font-size="42.5" text-anchor="start" font-weight="bold" fill="#160a08">(j)</text>
</svg>
</div>
</body></html>
